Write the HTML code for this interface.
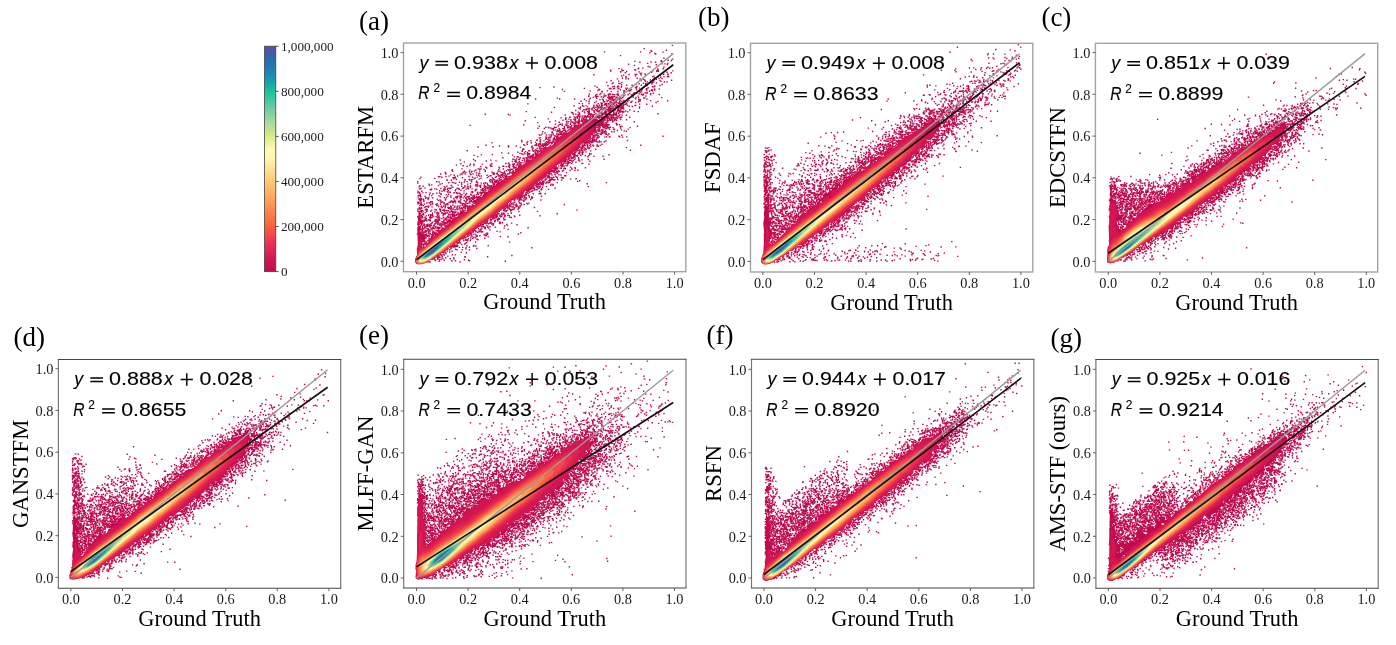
<!DOCTYPE html><html><head><meta charset="utf-8"><style>html,body{margin:0;padding:0;background:#fff;overflow:hidden}svg{display:block}</style></head><body>
<svg width="1396" height="645" viewBox="0 0 1396 645" style="will-change:transform">
<rect width="100%" height="100%" fill="#fff"/>
<defs><linearGradient id="cb" x1="0" y1="1" x2="0" y2="0"><stop offset="0.0" stop-color="rgb(192, 10, 78)"/><stop offset="0.07" stop-color="rgb(217, 26, 82)"/><stop offset="0.14" stop-color="rgb(240, 56, 79)"/><stop offset="0.2" stop-color="rgb(248, 96, 64)"/><stop offset="0.32" stop-color="rgb(251, 163, 90)"/><stop offset="0.4" stop-color="rgb(253, 200, 118)"/><stop offset="0.5" stop-color="rgb(255, 244, 176)"/><stop offset="0.54" stop-color="rgb(255, 251, 184)"/><stop offset="0.6" stop-color="rgb(216, 236, 136)"/><stop offset="0.67" stop-color="rgb(159, 216, 160)"/><stop offset="0.74" stop-color="rgb(92, 202, 160)"/><stop offset="0.8" stop-color="rgb(19, 196, 155)"/><stop offset="0.87" stop-color="rgb(26, 138, 181)"/><stop offset="0.94" stop-color="rgb(42, 106, 176)"/><stop offset="1.0" stop-color="rgb(93, 78, 160)"/></linearGradient></defs>
<rect x="264.5" y="46.2" width="11.3" height="225.4" fill="url(#cb)" stroke="#444" stroke-width="0.8"/>
<g font-family="Liberation Serif, serif" font-size="13.2" fill="#222">
<path d="M275.8 271.6h3" stroke="#333" stroke-width="0.8"/>
<text x="280.9" y="275.9">0</text>
<path d="M275.8 226.5h3" stroke="#333" stroke-width="0.8"/>
<text x="280.9" y="230.8">200,000</text>
<path d="M275.8 181.4h3" stroke="#333" stroke-width="0.8"/>
<text x="280.9" y="185.7">400,000</text>
<path d="M275.8 136.4h3" stroke="#333" stroke-width="0.8"/>
<text x="280.9" y="140.7">600,000</text>
<path d="M275.8 91.3h3" stroke="#333" stroke-width="0.8"/>
<text x="280.9" y="95.6">800,000</text>
<path d="M275.8 46.2h3" stroke="#333" stroke-width="0.8"/>
<text x="280.9" y="50.5">1,000,000</text>
</g>
<clipPath id="cpa"><rect x="403.5" y="43.0" width="282.3" height="228.7"/></clipPath>
<g clip-path="url(#cpa)"><path d="M518.2 200.2l-.4 .6l.4 1l1 0l0-1zM608.8 117.2l0 1.6l1 .4l.4-1zM605.8 119.2l-4.6-1l-3 2l-1.4-2l-1.6 .6l-1.4-1l.4-3l-1.4-1l-1 1.4l.4 2l-1.4 1.6l-3 1l-1-1.6l-1 0l-3.6 5l-3 1.6l-4.4 0l-1.6 2.4l-2 .6l0 2l-3.4 3l-2 .4l-.6-1l-2 0l-1.4 3l-5 3l-.6 1.6l.6 .4l-1 1l-2.6 .6l1 2l-1 1.4l-6.4 2l-3-.4l-1 1.4l0 1.6l-4 4l-2-.6l-1-2l-1.6 .6l1 4l-1.4 1.4l0 1l-1.6 1.6l-5.4-.6l-1 1l.4 2l-4 3l-1.4 0l-1.6-1l-1.4 1.6l0 2l-3 1l.4 2.4l-1 1l-4 0l2 2.6l-1.4 1l-1.6 0l-.4 2.4l-1-.4l-.6-3l-3 1l.6 2l-2.6 3l-5 1.4l-2 3.6l-2 0l-2 2l-1.4-.6l.4 2.6l-3.4 2.4l-.6-.4l-2 .4l0 1.6l-1.4 1l-.6 2l-1.4 0l-1.6-1l-2 1l-1.4 3l-1 .4l-.6 2.6l-1.4 .4l-1 2.6l-2-.6l-1.6 .6l-2.4-1.6l1.4 6.6l-1 1.4l-3.4-1.4l-2.6 0l-1 4l-2 2l-3 .4l-1 2l.6 2l-1.6 .6l-1-1.6l-2.4-.4l-1-1.6l-.6 2l1.6 3l-3 2.6l-1.6 2.4l-2.4-1l-.6 2l-1.4 1l-.6 1.6l-2.4 1.4l-3 3.6l-1.6-1.6l-1.4 .6l.4 3.4l-3 4l-1.4 0l-.6 1l.6 1.6l-1.6 1.4l-3-.4l.6-2.6l-.6-1.4l2.6-2l.4-2l1.6 0l0-1.6l-4-4l-3-1.4l0-1.6l1.4-2l-.4-2l2-1.4l-.6-1.6l1.6-1.4l0-1l-3-2l0-3.6l-1-2.4l.4-2l-1.4 0l-.6 .4l.6 5.6l-1 1.4l.4 4.6l1.6 .4l1 1.6l-1 1l-1.6 0l-1 2l.6 16.4l-1 5l.4 5.6l-2 5l.6 3.4l2.4 1l6-1l5-3.4l3-1l8-6l3.6 .4l1-1l0-1.4l2.4-2l0-1l1.6-1.6l2.4 .6l3-3l2.6-1l1-2l1.4 0l2-2.6l3.6-1.4l1.4-2.6l1 0l1 1.6l1.6-3l2.4 0l-1-1.6l.6-1l4-1l4-3l-1-1.4l1.4-1l1.6 .4l2-1.4l2.4 0l.6-2l3-3l2.4 0l2-1l1.6-3l1.4-.6l2-2.4l3.6-2l2 0l1-1.6l2.4 0l.6-2l-1-1.4l1.4-2l4-2l.6 .4l0 1.6l-1 1l.4 0l3.6-5l5.4 .4l1-1l-1-3l2-1l0-1.4l1-1l2 .4l4-1l1.6-3l2-2l0-1l3-1.4l2-3l1.4 .4l.6-1l2-.4l1-2l1.4 .4l1-3.4l2 1.4l1-.4l.6-2.6l3.4 0l2.6-2.4l1 0l1-2l-2-1l-.6-1l1-1l6-2.6l2.6 .6l1-2l-.6-1l.6-2.6l5-.4l-.6-2l2.6-3l2 0l4-4l2 .4l.4-1.4l-1 .4l-2-.4l3-4l4.6 1l1.4-.6l-.4-2l.4-1.4l2-1l0-2.6l1-1.4l3-2.6l2 1l1-1l-1-3.4l-1.4-.6l1.4-2.4l2 1l-.4 2l3-2.6l1 0l1 2l0 2.6l1 0l-1-4.6l2-1.4l0-1.6l-1.6-1.4l1.6-1l2 0zM473.2 204.8l.6-1l1.4 .4l-1 1zM505.2 180.2l.6-.4l.4 1l-.4 .4zM552.2 169.2l.6-1l1.4 .6l-1 1zM595.2 122.8l1.6-1l1 2l-2 .4zM614.8 110.8l2 1l-.6-1.6zM605.8 109.8l-1 .4l-1 2l-2 1l-2 0l0 1l1.4 0l1.6 2.6l1.4-3l2 .4l1-1l0-1.4l-1.4-1z" fill="#c00a4e" fill-rule="evenodd"/><path d="M672.4 45.4h0m-28.2 3.2h0m22.2 1.6h0m-15.4 .5h0m.7 .6h0m-47.2 .6h0m36.2 0h0m22.3 .2h0m-13.1 .5h0m5 .9h0m.8 .5h0m16.3-.4h0m-51.5 2h0m43.4 2.6h0m8.7 .9h0m-4.6 1.2h0m-33.1 1.1h0m26.2 0h0m.2-.7h0m10.1-.2h0m-31.5 1.8h0m11.2-.3h0m4.5 .2h0m6.4-.6h0m-14.4 1.8h0m-19 .8h0m33.6-.3h0m2.8 0h0m2.4 .6h0m.4-1h0m-33.4 1.9h0m21.9-.7h0m-8.1 1.8h0m1.8 .5h0m13.9 0h0m-25.2 1.3h0m4.1-.2h0m-23.8 .5h0m2.7 .5h0m16.6-.4h0m19.3 .3h0m5.6-.2h0m-52.6 1.3h0m24-.2h0m1 .1h0m22.5-.3h0m-47.3 1.3h0m11.2-.4h0m1.2 0h0m3.4 .9h0m26.1-.6h0m4 .4h0m.4-.6h0m1.3 .5h0m14.5-.3h0m-52.3 1.2h0m.1-.3h0m18.6 .1h0m12.3 .3h0m15.5 .1h0m-41.7 .4h0m16.2 .4h0m29.6-.4h0m-34.6 1.7h0m3.8-.9h0m4.6 .4h0m.2 .6h0m18.3-.4h0m.2 .3h0m4.1-.4h0m-73.8 .7h0m29.7 .4h0m5.4-.6h0m6.1 0h0m6 .5h0m19 .2h0m7.9-.5h0m-46.3 1.3h0m13.7 .1h0m0 0h0m18.6-.2h0m13.3 .6h0m-41.4 .2h0m26.8-.1h0m7.9 .7h0m3.4-.4h0m4.5-.2h0m-46.1 1.5h0m3.4 .1h0m11.3 0h0m17.4-.5h0m4.4 .6h0m-41.6 .5h0m8.5 0h0m2.4-.1h0m11.8 .2h0m3.2 .3h0m10.6-.6h0m2.4 .5h0m5.8-.6h0m-17.4 1.4h0m5.6 0h0m2.7-.3h0m7 .7h0m11.6-.1h0m-60.5 .4h0m7.6 .4h0m22.4-.5h0m4.4 .7h0m7.1 .2h0m.7-.9h0m.5 0h0m7.1 .8h0m-54.3 1h0m15.3 0h0m25.5-.5h0m3.5-.3h0m1.3 .8h0m.1-.5h0m1.3 .2h0m10.8-.1h0m2.5-.1h0m-53.8 .8h0m5.8 .7h0m1.1 .1h0m23.5-.1h0m2.7 0h0m10.2-.4h0m-44.2 .6h0m9.4 .8h0m14.4-.1h0m3.1-.6h0m6.5 .3h0m5.8-.1h0m.6-.1h0m10.2 .7h0m-35.6 .7h0m5.6 0h0m9.1 0h0m-46.3 .9h0m13-.4h0m6.5 .5h0m3.2 .1h0m.8-.1h0m3.2-.1h0m15.4 .3h0m8.8-.9h0m1.5 .1h0m7.4 .4h0m5.1-.5h0m-105.9 1.5h0m43.2 .2h0m15.6-.5h0m4.6 .4h0m3.9-.1h0m14.1 .5h0m1.2-.5h0m7.5-.3h0m8.6 0h0m1.5 .2h0m-114.1 .7h0m44.3 .8h0m25.9 .1h0m4.2-.3h0m4.4 0h0m6.9 .1h0m1.8-.2h0m8.8 .3h0m3.2-.3h0m8.6-.4h0m-85.7 1.8h0m36.4-.3h0m10.4-.3h0m1.6-.1h0m2.4 .1h0m4.9-.2h0m8.1 .8h0m5.1-.1h0m10.9-.1h0m4-.3h0m.5-.3h0m7.6 .3h0m4.9-.1h0m-61.4 1.6h0m1.7-.7h0m20.8-.1h0m8.8 .6h0m1.5 .2h0m5.9-.6h0m10.1 .3h0m4.6 .2h0m.6-.6h0m.3 .1h0m.2 .2h0m2.4-.3h0m0 .2h0m-90.3 1.4h0m25.7-.3h0m11.6 .4h0m5.5-.6h0m10.6 .6h0m6-.8h0m.5 0h0m4.3-.1h0m.2-.1h0m.6 .5h0m9.4 .2h0m2.5-.3h0m8.2 .3h0m3-.3h0m-50.3 .8h0m9-.1h0m6.7 .3h0m6 .3h0m16.2 .1h0m1.5-.4h0m5.4 .6h0m-22.9 .7h0m5.4 .3h0m4.6-.7h0m2.4 .4h0m8.7-.5h0m1.4 .4h0m.8-.3h0m5.9 .4h0m-64.2 .8h0m7.7 .5h0m3 0h0m1-1h0m3.4 .6h0m4.3 .2h0m1.2-.6h0m2.5 .4h0m4.7 .1h0m1-.2h0m15.1-.1h0m6-.2h0m2.2 .5h0m.7 .3h0m1.6-.4h0m7.2-.5h0m8.5 .9h0m-63.6 .8h0m12.6-.3h0m.3 .2h0m1.6-.6h0m2.4 0h0m1.3 0h0m.8 .1h0m2.8 .2h0m.1-.2h0m.7 .6h0m6.7-.4h0m3.1-.2h0m3.3 .3h0m1.5 .5h0m.3-.5h0m9.6 0h0m.6-.5h0m7.1 0h0m-61.8 1.8h0m.1-.4h0m6.5 .5h0m2.7 0h0m6.1-.5h0m.6 .1h0m1.2-.3h0m17.8 .2h0m14.4 .2h0m7.8-.1h0m-52.6 1.4h0m2.5-.5h0m.9-.4h0m4.7 .3h0m2.1 .4h0m4.3 .3h0m1.1-1h0m.5 .8h0m.1 .1h0m.1-.5h0m1.3 .6h0m.5-.9h0m1.3 0h0m.2 .8h0m1.5-.6h0m1.6 .3h0m.4 0h0m.7 0h0m2.4-.5h0m3.3 .6h0m10.5 .1h0m.1 .1h0m2.7 0h0m-78.7 .7h0m32.8 .2h0m6.5 0h0m12.8-.1h0m2-.4h0m.4 .6h0m4.8-.9h0m2.7 .4h0m1.3 .1h0m1 .5h0m6.4-.2h0m10.6-.5h0m5 .2h0m1.1-.1h0m16.9-.3h0m-126.1 1.4h0m24.1 0h0m14.9 0h0m9.9 .2h0m17.9-.1h0m.8 .3h0m5.5-.5h0m1.1 .2h0m.6 .2h0m1.6 .1h0m.7-.9h0m2.7 .4h0m2.2 0h0m1-.1h0m.9 .6h0m16-.5h0m.1-.2h0m11.2 .3h0m-57.5 .9h0m10.6-.3h0m6.5 .3h0m5.8 .2h0m1.2-.4h0m.9 .3h0m.7-.1h0m1.8 .4h0m6.9 .1h0m5.3 0h0m9.7-.6h0m1.4-.1h0m.3-.1h0m-59.4 1.6h0m5.2-.3h0m17.2-.3h0m4.6 0h0m.6 0h0m2.3 .6h0m2.8 0h0m.1 .3h0m.3-.8h0m2 .5h0m3.6 .3h0m.5-1h0m1.7 .8h0m2.5-.1h0m7.7-.1h0m7.9 .1h0m10.6-.6h0m7.3 .8h0m9.7-.7h0m-78.5 1.1h0m7.1-.3h0m7.2 .3h0m.9 0h0m.4-.2h0m2.4 0h0m2.8 .4h0m.9 0h0m1.2 .4h0m2.7 .1h0m4.8-.3h0m3.4 .2h0m1.6-.3h0m3.2-.3h0m3.1 .5h0m.7-.1h0m7-.4h0m-59.3 1.6h0m15.4-.8h0m6.3 .3h0m5.2 .5h0m5.5 .1h0m1.8-.1h0m.1-.5h0m.8-.1h0m0 .3h0m1.3-.2h0m.9-.1h0m.2 0h0m1.6 .5h0m.8 .2h0m1.9-.2h0m5.3-.3h0m9.4-.5h0m20.4 0h0m-128.2 1.4h0m54.5-.1h0m6.6-.2h0m9.3 0h0m3.3 .2h0m.6-.3h0m2.7 .8h0m.3-.7h0m1.3 0h0m1.8 .2h0m.9 .4h0m1.1-.2h0m1.6-.1h0m1.4 .5h0m6.4-.8h0m.8 .6h0m.3 .1h0m1.2-.5h0m1.8 .7h0m.3-.3h0m1.6 0h0m.9-.6h0m13.1 .5h0m7 .1h0m-52.9 .9h0m2.8 .1h0m.7 .2h0m2.1-.2h0m2.1 .1h0m3-.3h0m1.5-.5h0m.6 .1h0m.1 .6h0m4.5-.6h0m3.5 .7h0m1.9-.7h0m1.6 .8h0m.9 0h0m2.2 .1h0m.6-.1h0m1.7 .1h0m3.7-.3h0m8.5 .2h0m-61.7 .6h0m8.5-.2h0m1.2 .6h0m2.3-.8h0m7.9 .4h0m3.3-.5h0m4.2 .7h0m.1 .1h0m1.1-.8h0m3.7 .1h0m.2 .8h0m.4 0h0m.6 .1h0m2.1-.3h0m.4-.7h0m.4 .5h0m1.8 .1h0m1.9-.2h0m1.6 .5h0m.9-.3h0m.6-.1h0m0-.3h0m4.5 .2h0m.1-.2h0m.8 .5h0m.4 .2h0m6-.1h0m6-.8h0m17.2 .7h0m-97.9 1.2h0m26.2-.2h0m7-.3h0m5.9 .3h0m2.4 0h0m1.6-.3h0m1 .1h0m1.4 .2h0m1.3-.3h0m5.9 .1h0m.1 .1h0m.8-.1h0m1.7 .3h0m.3-.4h0m.9 0h0m2.3 .2h0m2.8 .3h0m1.9 .1h0m.1-.3h0m.9 .1h0m.1-.4h0m1.1-.3h0m.9 .8h0m1.2-.6h0m10.1-.3h0m7.2 .4h0m-60.5 1.4h0m10.5 .1h0m3-.3h0m2 .1h0m3.7-.5h0m.9 0h0m1.7 .2h0m.7 .2h0m.2-.4h0m1.1 .2h0m1.7 0h0m.5-.1h0m.9 .6h0m2.7-.7h0m.5 .8h0m3.1-.3h0m1.7 .3h0m0-.2h0m2.1-.8h0m2.6 .7h0m1.2-.5h0m2.3-.1h0m.9 .6h0m.5-.4h0m16 .2h0m-59.2 1h0m6.1 0h0m.6 0h0m1.5-.3h0m3.1 .3h0m6 0h0m6.1-.2h0m1.5-.1h0m1.6 .6h0m1.8 .1h0m.2-.5h0m1.7-.2h0m1.4-.1h0m5.8 .9h0m.7-.2h0m2.1-.2h0m.1 0h0m1.2-.3h0m2 .1h0m-48 1.6h0m7.9-.8h0m1.5 .2h0m1-.1h0m3.1 .1h0m2.9-.1h0m1.6 .6h0m1.9-.8h0m.8 .5h0m.9-.5h0m3.1 .1h0m1.6-.1h0m5.8 .2h0m1 .6h0m1.1-.6h0m1.2 0h0m.7-.1h0m3 .1h0m2.7 .1h0m1.5 .5h0m1.4 0h0m9.3-.4h0m-47.4 1.3h0m5 .1h0m1.3-.1h0m5.5-.1h0m.1-.2h0m.1 0h0m2.1-.5h0m1 .8h0m1.5-.5h0m.2 .6h0m7.6-.3h0m1.4-.3h0m.7 .6h0m0 0h0m.7-.8h0m.6 .6h0m.6-.4h0m1.6-.1h0m.3 0h0m.9 .1h0m.3 .2h0m3.6 .2h0m.4-.6h0m1.8 .5h0m.5-.1h0m2.7 .1h0m2.8-.1h0m8.5 .3h0m-107.9 .3h0m25.2 .6h0m26.8-.1h0m6.1-.2h0m3.4-.1h0m1.5 0h0m5.2 .6h0m3.5-.6h0m3.6-.1h0m.2 .7h0m11.8-.2h0m0-.7h0m.1 .6h0m5.6 0h0m.1-.3h0m1 .3h0m1-.6h0m1.4 .6h0m1.1-.4h0m3.9 .1h0m10.4-.2h0m-66.7 .9h0m1.2 .2h0m6.8 .2h0m5.4 0h0m3.6 .2h0m0 .2h0m.9-.6h0m4.9-.1h0m0-.1h0m5 .9h0m.9-.7h0m1.5 .2h0m6.9 .4h0m.9-.7h0m4.1 .8h0m.7 0h0m1.4-.3h0m.9-.5h0m2.1 .6h0m4-.6h0m-137.4 1.6h0m23 .3h0m65.1-.3h0m2.4 0h0m3.2-.1h0m.7-.1h0m8.7-.2h0m.3-.1h0m1.2 .6h0m1.4-.3h0m.3-.2h0m4.4 0h0m8.9 .4h0m.2 .2h0m1.4-.4h0m.1 .4h0m3-.5h0m1.3 .5h0m2.5-.2h0m.5 0h0m2.6-.6h0m41.5 .1h0m-147.9 1.4h0m55.2-.1h0m12.8-.3h0m.1 .7h0m.1-.8h0m.4 .9h0m9.8-.8h0m.3 .1h0m2 .3h0m3.8-.5h0m3.9 .1h0m.6 .7h0m.3 .1h0m1.9-.1h0m8.2-.5h0m.5 0h0m1.9 .4h0m.1 0h0m1-.7h0m.8 .6h0m1.3-.6h0m.5 .4h0m.8-.1h0m0 .4h0m2.7-.1h0m.6-.3h0m2.4 .4h0m4.3 0h0m-47.5 .7h0m1.7 .1h0m2.4-.2h0m2-.1h0m.7 .7h0m1.9-.9h0m3 0h0m.7 .5h0m5.8 0h0m3.8-.1h0m6.1-.1h0m.3 .5h0m.9 .1h0m.5-.3h0m1.8-.3h0m.6 .4h0m2.4-.3h0m3.4-.5h0m2.4 .2h0m-84.1 1.7h0m34.4-.1h0m.5-.1h0m4-.3h0m2.2 0h0m1.3-.1h0m2 .5h0m2.6-.2h0m2.4 .2h0m1.7 .1h0m.4-.6h0m1.4 .2h0m1.2-.4h0m1.3 .9h0m3-.2h0m2 .2h0m.2-.7h0m1.3 .2h0m1.4-.3h0m.9 .6h0m1.6 .1h0m.3-.1h0m1.6-.1h0m1.1-.2h0m2.1-.2h0m.7 .7h0m.7-.2h0m.6-.5h0m3.7 .3h0m.9-.1h0m3.4 .3h0m1.9-.5h0m2.7 .3h0m1 .2h0m8.1-.1h0m-68.8 .7h0m4.9-.2h0m9.3 .2h0m.3-.3h0m2 .7h0m5.8-.3h0m6.8-.2h0m0 .3h0m7.5-.5h0m.4 0h0m1 .8h0m6.5-.7h0m.3 .4h0m.2-.1h0m2.4 .3h0m1.9-.6h0m.8-.1h0m1.9 .3h0m1.1-.1h0m.4-.1h0m2.6 .6h0m.5-.3h0m2.2-.1h0m.4-.1h0m-72 1.1h0m17.3 .2h0m.4 .3h0m3-.3h0m5 .2h0m1.3 .1h0m.2 0h0m4-.5h0m2.3 0h0m1.8 .3h0m.6 0h0m.9-.2h0m4.7 0h0m14.5-.4h0m3.1 .4h0m4.2-.2h0m1.5-.2h0m2-.1h0m.8 1h0m5 0h0m-57.7 .7h0m7.7-.5h0m3.7 .1h0m.6 .5h0m.5-.8h0m3.3 .4h0m.5 .2h0m2.6 .1h0m1.9-.5h0m23.4 .6h0m1.9-.6h0m.3 .4h0m.2-.6h0m.3 .9h0m.7-.4h0m1.5-.1h0m.5 .5h0m1.9-.6h0m2 .4h0m10-.5h0m-101.3 1.1h0m30.2 .1h0m11.3 .4h0m4.3 0h0m4.7-.2h0m2.2 .2h0m.8-.4h0m.8 .3h0m1.9-.6h0m.1 .6h0m.6 .1h0m.7-.6h0m20.7 .4h0m3.9-.1h0m.7-.1h0m4.3 .5h0m2-.8h0m-64.7 1.1h0m9.4 .5h0m7.2-.7h0m2.4 .1h0m3.6 .7h0m1 0h0m1.8-.1h0m1.8 0h0m1.9-.5h0m4-.2h0m.3 .6h0m22.3 .4h0m.2-.1h0m.3 0h0m1.4-.7h0m.3-.2h0m0 .6h0m5.2-.3h0m21.3-.1h0m-96.5 .9h0m28.8 .5h0m1.3 0h0m2.9 0h0m2.9 .1h0m4-.5h0m.4 .3h0m.8 .3h0m.1-.8h0m.8 .5h0m16.2-.2h0m.6 .6h0m9.5-.3h0m10.3 .1h0m-60.9 1h0m5 .1h0m1.7-.3h0m8.3 .3h0m3.8 0h0m.5-.4h0m.9-.2h0m3.1 .6h0m27.8-.3h0m.5 .1h0m-136.9 1.3h0m53.7-.7h0m35.6-.1h0m2.9 .8h0m3.3-.4h0m1.4-.1h0m4.7 .6h0m32.9-.1h0m1-.6h0m1.3 .5h0m.7-.7h0m1.2 .2h0m.2-.1h0m.1 0h0m7.5 .1h0m.9-.3h0m2.2 .2h0m-80.4 1.5h0m18.9-.2h0m8.8-.1h0m.1-.3h0m1.6 .3h0m5.4-.3h0m21.6 .5h0m7.3 .2h0m2.1-.1h0m.6 .2h0m2.2-.7h0m14.1 .5h0m15.4 0h0m-91.6 1.1h0m2.5 .1h0m6.1-.1h0m1.8 .1h0m8.1-.8h0m3.5 .8h0m0-.2h0m2.4-.2h0m1-.3h0m23.6 .6h0m2.2-.1h0m3.2-.1h0m3.3-.6h0m.2 .7h0m2.8-.6h0m.9 .6h0m.3-.6h0m2.7 .6h0m9.9-.6h0m-82.3 1.7h0m6.3 .2h0m4.6-.8h0m1.9 .3h0m2.9 .5h0m1.6-.9h0m9.1 0h0m3.1 .1h0m1.2 0h0m1.8 .7h0m.4-.5h0m23.6 .5h0m1.4-.8h0m2 .3h0m6.4-.2h0m.7 .3h0m1.2 .2h0m1.5-.1h0m.4-.4h0m1.1-.1h0m4 0h0m7.4 .4h0m9.6-.4h0m-78 1.4h0m.3-.2h0m6.6-.1h0m.7 .7h0m3.1-.8h0m1.4 .4h0m.5 .3h0m30.6-.4h0m3.5 .4h0m.7-.8h0m.2 .6h0m6.6-.5h0m3.1 .6h0m4.1 .2h0m.5-.1h0m14.1-.2h0m-74.6 .9h0m2 .1h0m1.8 0h0m6.5 .1h0m4.2 .3h0m1-.9h0m1.1 0h0m27.6 0h0m.8 .6h0m.1-.2h0m3-.3h0m.7 .2h0m2.9 .4h0m9.3-.8h0m6.8 .4h0m-63.6 1.5h0m.6-.6h0m1.3-.2h0m.7 .9h0m2.3-.2h0m2.7-.7h0m2.2 .3h0m30.4-.4h0m.2 .9h0m.7-.4h0m.8-.2h0m.3 .7h0m2.1-.8h0m.8 .6h0m14.5-.8h0m6.9 .4h0m2.1 .3h0m-83.6 .6h0m9 .7h0m.6-.5h0m4.6-.3h0m2.5 .6h0m2.1-.3h0m.8-.3h0m3 0h0m.9-.1h0m35.8 .2h0m2.4-.1h0m1.6 .1h0m5.6 0h0m2.5-.1h0m-69.1 1.3h0m7.2-.4h0m8.2 .8h0m.9-.6h0m5.5 .1h0m25.8 .3h0m.1 0h0m2-.2h0m2.2 .2h0m4.3-.3h0m1.1 .3h0m1.6-.2h0m.2-.3h0m1.8 .4h0m-63.7 .8h0m10.9 0h0m3.7-.2h0m1.8 .2h0m2.2 .3h0m1 0h0m.5 .2h0m36.1-.8h0m.4 0h0m1.7 .7h0m.6-.1h0m4.4-.1h0m.2-.2h0m.4 .4h0m2.7-.6h0m-69.5 1.3h0m1.6 .1h0m5.4-.1h0m2.8-.1h0m1.9 .4h0m.1-.5h0m1.9 0h0m3.8-.2h0m1.6 .2h0m1.1-.1h0m31.1 .4h0m1.1-.5h0m.8 0h0m.8 .8h0m1-.2h0m.6-.3h0m.1 0h0m1.3 .1h0m.9 0h0m.1 .2h0m10.5-.2h0m13.9 .3h0m-67 .6h0m.1-.2h0m.2 .3h0m2.2-.1h0m.3 .4h0m35.5-.7h0m1.8 .5h0m2.3-.1h0m1.3-.4h0m20.5 .6h0m43.9 .1h0m-117.3 .8h0m1.2 .1h0m2.3 0h0m1.1-.1h0m.9-.5h0m0 .1h0m5.3 .1h0m1.1 .5h0m.5-.6h0m32.5 0h0m2.5-.1h0m1 .5h0m1-.2h0m3.3 .6h0m1-.6h0m5.3 .2h0m1.8-.3h0m3 0h0m.6 .3h0m9.6-.3h0m2.9 .4h0m4.3-.3h0m-87.4 1.1h0m.8-.4h0m8.6 .5h0m1.6-.4h0m3.9 .1h0m2.5 .2h0m33.7-.1h0m2.3 .1h0m.6-.4h0m.3-.1h0m3.1 .8h0m.5-.4h0m.5-.3h0m-52.2 1.6h0m.7-.5h0m1.6 .4h0m5.4-.4h0m0 .5h0m.4-.2h0m.2-.2h0m.9 .3h0m.9 .3h0m.4-.2h0m35.3-.6h0m1.2 .3h0m.3 .4h0m1.6 0h0m2.3-.5h0m-75.1 1.6h0m15.1-.1h0m.5-.4h0m3.2-.2h0m7.5 .1h0m1.3 .1h0m.1 .4h0m.5 .2h0m.3-.4h0m3.9-.1h0m1.9 .4h0m.4 0h0m33.2-.3h0m.5-.3h0m2.6 .3h0m1.4-.1h0m1.3 .1h0m.6 .1h0m.1 .3h0m-65.1 .3h0m8.9 .3h0m4.1-.2h0m5.1-.4h0m3.6 .9h0m.2 .1h0m.6-.7h0m35 .2h0m.6-.3h0m.7 .7h0m1.5-.1h0m.9-.7h0m.6 .4h0m1.5 .4h0m1.7 0h0m3.3-.5h0m6.7 .1h0m21.5-.5h0m-105.6 1.3h0m5.7-.2h0m8 .8h0m4.9-.8h0m5.6 .5h0m.7-.4h0m.2 .1h0m.8 .5h0m1.1-.4h0m1.5 .6h0m2.6-.7h0m35.6 .5h0m2.4 0h0m1.7 .1h0m.1-.4h0m4-.3h0m.8 .4h0m1.7-.1h0m1.7-.2h0m3.2 0h0m-112.3 1.1h0m35-.2h0m4.4 0h0m8 .8h0m1.2-.4h0m4.7 0h0m.3 .4h0m.3-.3h0m3.5-.1h0m.1-.4h0m1.9-.2h0m.4 .6h0m.7-.3h0m36.5 0h0m.5 .4h0m2.1-.6h0m-64.2 1.8h0m9.4-.8h0m2.1 .8h0m.6-.7h0m.7 .6h0m.6 .1h0m2.2-.6h0m2 0h0m.2 .4h0m1.4 .3h0m0-.9h0m2 .1h0m3.2 0h0m30.9 .2h0m1.6 .3h0m.7-.3h0m.3-.2h0m1.8 .4h0m.5 .3h0m3-.1h0m11.5-.1h0m-116 1.1h0m37.8-.6h0m1.1 .7h0m10.2-.1h0m.7-.3h0m.1 .5h0m.6-1h0m.5 .9h0m1.7-.2h0m3.9-.3h0m.8 .4h0m.6-.1h0m.1-.2h0m1.1 .1h0m1.2 .1h0m.9-.2h0m.6-.5h0m5.8 .4h0m28.3 .6h0m2.1-.2h0m.2-.2h0m3.6 0h0m1.9 .4h0m3-.3h0m4.4-.2h0m3.1 .4h0m40.5-.2h0m-141.3 .8h0m9-.3h0m7.8 .3h0m16.3 .1h0m8.2-.1h0m.6 .1h0m.2-.4h0m1.3 .4h0m.4 .1h0m2.1-.1h0m.7-.5h0m4.2-.1h0m31.8 .5h0m1.4 .3h0m.1-.6h0m1.9-.1h0m2 .1h0m3.3 .8h0m2.7-.5h0m3.5 0h0m1.4 .2h0m-120.3 .8h0m15-.2h0m15.4 .2h0m11.9 .4h0m11.4-.7h0m7.2-.1h0m1 .4h0m40.2 0h0m2.3 .5h0m.6-.9h0m4.3 .4h0m.5 .5h0m.2 0h0m-56.3 .1h0m1.2 .6h0m4.2 .2h0m2.2-.1h0m1.7 .1h0m1.1-.1h0m38.7-.2h0m.7 .2h0m.8-.1h0m.2-.6h0m1.7 .4h0m1.1 .4h0m2.1-.7h0m.2 .2h0m1.9 0h0m36.8-.3h0m-103.3 1.1h0m.8 .7h0m16.8 0h0m1.3-.7h0m39.5 0h0m4.7 .8h0m2.8-.9h0m6.8 .6h0m-73.4 1.1h0m10.1-.5h0m2.9 .2h0m1.1 .1h0m1.5 .3h0m2.3-.8h0m.1 .1h0m37.3 .4h0m.7 0h0m.8 .2h0m.1-.4h0m1.6 .3h0m1-.1h0m2-.3h0m.9 .3h0m45.6 .1h0m-163.2 .6h0m55 .4h0m6.6-.5h0m.8 .2h0m3.6 .4h0m.9-.4h0m1.8 0h0m.8-.3h0m3 .9h0m.5-.4h0m1.3-.5h0m35.5 .4h0m2.1-.1h0m.8 .5h0m2.3-.7h0m.1-.2h0m8.5 .4h0m-72.9 1.3h0m7.6-.6h0m1.9 .8h0m10.1-.6h0m.1 .5h0m.5-.5h0m37.7 .5h0m4.2 0h0m2 .1h0m1.4-.4h0m2.6-.1h0m-84.3 1h0m6.8 .4h0m15.8-.4h0m3.1 .1h0m1.3 .5h0m9.4-.6h0m34.8 .4h0m1.8-.6h0m3.8 .6h0m.2 0h0m.8-.7h0m2.8 .7h0m-62.3 .2h0m1.8 .1h0m1.1 .9h0m2.1-.8h0m2.5 .8h0m1.2-.1h0m1-.6h0m4.1 .3h0m39.1 .1h0m.3 .3h0m.6-.7h0m.7 .6h0m.5-.4h0m4.6-.3h0m3 .5h0m7-.7h0m1.7 .4h0m-117.3 1.5h0m7.3-.5h0m11-.3h0m20.3 .5h0m15 .2h0m1.6-.6h0m3.5 .3h0m.9-.2h0m41.1 .7h0m1-.1h0m2-.2h0m3 0h0m9-.5h0m19.4 .1h0m-78.8 1.7h0m.8-.1h0m0-.7h0m1.1 .5h0m.3-.1h0m1 0h0m40.1 .1h0m1.4-.1h0m2.1-.4h0m.3 .7h0m8-.6h0m3.2-.2h0m5.4 .8h0m9.1-.1h0m-125.3 .3h0m36.5 .3h0m3-.1h0m.9 .2h0m9.6-.1h0m.4 .3h0m.5-.4h0m2.9 .2h0m35.9 0h0m6.6 .1h0m13.8-.4h0m-85.1 1h0m17.4 .1h0m2.8 .5h0m1.4-.2h0m1.8-.5h0m.2 .5h0m3.4-.1h0m.5-.2h0m.3 0h0m2-.1h0m.7-.1h0m35.6 .2h0m.1 .1h0m.6 .5h0m1.5-.8h0m.4 .9h0m.2-.1h0m.3-.6h0m.9 .4h0m.6-.6h0m1.7 .3h0m3.3-.2h0m.1 .3h0m-65.6 1.3h0m3.7-.4h0m2.9 .4h0m7.1-.6h0m1.2 0h0m3.1 .3h0m1.7-.5h0m33.9 .5h0m2.1 .3h0m6.1 .1h0m29.2-.2h0m-143.7 .8h0m13.3-.5h0m17.3 .6h0m23-.6h0m1.9 .4h0m3-.4h0m3.5 .9h0m2.2-.7h0m.2 .2h0m43.3-.4h0m2.2 .8h0m.4-.1h0m8.1 .2h0m.2-.9h0m3.1 .4h0m6.2-.4h0m-112.9 1.3h0m11 .2h0m9.7-.1h0m16.4 .6h0m2.5-.3h0m1 .2h0m.4-.1h0m3 .1h0m5.1-.5h0m42.8 .4h0m2.1-.8h0m2.7 .8h0m0-.3h0m1.5-.5h0m6.3 .6h0m10.1 .2h0m-125.6 .6h0m51.6 .3h0m3.3-.4h0m.3 .2h0m5.6 0h0m43.4-.2h0m4 .3h0m3.4 .2h0m-67.4 1.2h0m.3-.2h0m8.7-.3h0m.4 0h0m2.5-.3h0m.6 0h0m2 .2h0m38.3 .3h0m2.5 0h0m0 .1h0m1.6-.2h0m1.1 0h0m1.5-.4h0m1.1 .4h0m1-.3h0m11.9 .7h0m.7-.1h0m-121.8 .3h0m9.5 .3h0m3.4 .1h0m8.6 0h0m8.8 0h0m.8-.5h0m13.8-.1h0m.1 0h0m2.5 0h0m1.3 1h0m3.1-.2h0m.6 .2h0m.8-.7h0m4.7 .1h0m.7 .1h0m41.8 .2h0m.4-.6h0m1.3 .9h0m4.7-.5h0m3.9-.4h0m17.2 .5h0m-132.4 1h0m17.5 .2h0m16.3 0h0m23 0h0m.9-.7h0m2.1 .5h0m1.1-.4h0m3.4-.1h0m.3-.1h0m39.6 .8h0m.4 0h0m1.7-.4h0m4.8 .6h0m-104.4 .3h0m4 .4h0m2.6-.6h0m21.1 .8h0m1-.4h0m11 .3h0m.8 0h0m4.8-.3h0m1.2-.3h0m3.3 .6h0m45.8-.3h0m3.1 .4h0m.7-.9h0m0 1h0m1.6-.4h0m1.8-.6h0m-85.2 1h0m5 .8h0m13.3 0h0m7.2-.7h0m2.9 .6h0m4.8-.4h0m1.9 .5h0m.2 .1h0m45.3-.7h0m9 .4h0m-83.6 .9h0m12.7 .1h0m10.1-.2h0m3.9 .2h0m.3-.2h0m.9-.1h0m.5 .1h0m38.5 .5h0m6.5-.3h0m1.2 .3h0m2.5 0h0m.8-.2h0m.4 .3h0m6.7-.2h0m3.1-.7h0m.4 .6h0m10.1-.4h0m-123.5 1.1h0m16.2 0h0m1.4 .3h0m1.4-.2h0m3.1 .4h0m19.4-.4h0m7.7 .2h0m1.3 .2h0m53-.7h0m6.5 .7h0m-119.8 .3h0m17.7 .4h0m5.7 .3h0m.3-.2h0m9.6 .3h0m13.4-.7h0m9.1-.2h0m.6 .4h0m1.5-.2h0m.2 .6h0m3.2 0h0m50.1-.3h0m11.4 .2h0m2.9-.1h0m-125.5 .3h0m.4 .8h0m11.8-.1h0m7.4 .2h0m2.4-.3h0m5.3 0h0m5.6 .1h0m19.3 .3h0m1.9-.8h0m50.1 .6h0m1.9-.5h0m.1 0h0m.7 .6h0m3.2-.3h0m.5-.4h0m7.2-.2h0m-124.9 1.9h0m17.9-.2h0m2.9 .2h0m3.3-.8h0m2 .4h0m20.5 .1h0m6.3-.6h0m1.9 0h0m1.2 .9h0m3.2-.1h0m5.4-.6h0m0 .3h0m2.6-.2h0m1.2 0h0m40.4 .3h0m.4 .3h0m3.3-.7h0m.2 0h0m-112 1.5h0m18-.4h0m6.1 .6h0m6.5-.6h0m2.8 .3h0m13.6-.4h0m1.5 .5h0m2.8 .1h0m5.6-.4h0m7 .2h0m.2-.5h0m46 0h0m1.4 .7h0m9.1-.7h0m-125.8 1.4h0m5 0h0m15.7-.2h0m.8 .2h0m3.1-.1h0m5.3 .6h0m2.4-.6h0m5.9-.3h0m.9-.1h0m13.5 .7h0m1-.2h0m2.3-.1h0m.8-.1h0m4.1 .6h0m1.4-.4h0m.8-.2h0m1.5-.2h0m.2 .6h0m2.3-.1h0m.1-.1h0m1.4-.2h0m42 0h0m3.5 .3h0m-103.9 .8h0m3.4 .3h0m5.8-.3h0m11-.4h0m5.6 .6h0m1.9 .1h0m8.5 .1h0m11.2-.5h0m3 0h0m.5 .1h0m0 .4h0m.7-.4h0m3.4-.3h0m41.8 .8h0m4.5-.3h0m3.3-.2h0m3.5-.1h0m2.1 .2h0m-111.9 1.1h0m8.6-.1h0m11.3 .5h0m10.5-.4h0m1.9-.1h0m8.9-.3h0m.7 .1h0m7.5 .2h0m1-.3h0m.6 .5h0m2.4 .1h0m1.6-.6h0m43.3 .7h0m1.4-.7h0m15.9 0h0m1.1 .1h0m-144.9 1.3h0m17.5-.3h0m1.5-.2h0m2 .7h0m4.1-.7h0m8.6 .5h0m.8 0h0m17.1 .2h0m4.8-.2h0m11.2-.6h0m6.8 .9h0m1-.6h0m4.1 .7h0m7.9-.8h0m39.8 .4h0m.6 .3h0m.4-.8h0m.4 0h0m3.9 .6h0m0 .3h0m.4-.3h0m2.2-.6h0m1 .6h0m4.4 .3h0m-126.6 .9h0m18.3-.7h0m1.2 0h0m1 .2h0m7.2-.2h0m12.6 .3h0m5.9 .3h0m6.2-.7h0m5.2 0h0m9.4 .3h0m1.7-.3h0m41.5-.1h0m2.4 .3h0m.4 .1h0m1.8-.3h0m.2 .4h0m1.7-.3h0m.4 .6h0m5.4-.3h0m5.4-.3h0m.3-.1h0m.1 .7h0m-143.1 .3h0m33.8 .3h0m2.6 .3h0m12.7 .2h0m4.9-.5h0m5.2 .2h0m14 .1h0m.1-.4h0m5.7 0h0m.3-.3h0m.1 .2h0m46 .6h0m1-.3h0m5.8-.1h0m18.3 .2h0m5.6-.3h0m-129.2 1.3h0m.5-.1h0m4 .3h0m13.4-.3h0m.4-.2h0m4.6 .2h0m1.6 0h0m.2-.4h0m.6 0h0m17.5 .6h0m1.1-.4h0m.2 .1h0m1.4 .4h0m1.1-.8h0m1.2 .2h0m1.9 .7h0m.5-.3h0m.2 .2h0m2.5-.4h0m.2 .3h0m.3 .1h0m.9-.5h0m5.1 .7h0m33.4-.3h0m2.3-.2h0m3.1 .2h0m4.6-.4h0m1-.1h0m.8 .1h0m1.2-.2h0m.6 0h0m.7 .4h0m.9-.4h0m2.8 0h0m3.9 .4h0m-85 1.3h0m17.9 .1h0m1.2-.1h0m1.1 .2h0m1.6-.5h0m4.1-.4h0m40 .5h0m1.3 0h0m5-.4h0m1.5 .3h0m27.3 .4h0m2.1-.6h0m-162 .8h0m19 .1h0m2.5 .3h0m13 .4h0m7.3-.2h0m4.9-.2h0m2.7-.4h0m4.5 .1h0m4.7 .3h0m1.5 .5h0m12.4-.9h0m.1 .2h0m.6 .3h0m1.4-.5h0m2.4-.1h0m.5 0h0m1.2 .7h0m2.1-.3h0m41.1 .4h0m.9-.3h0m2.6-.2h0m.9 .5h0m2.4-.2h0m.6 0h0m.2-.2h0m2.4 .5h0m-131.8 .7h0m31-.4h0m5.1 .1h0m1.8 .4h0m6-.6h0m19.6 .5h0m2.4 .3h0m1.6-.4h0m.3-.3h0m1.8 .8h0m5.3-.7h0m.3-.2h0m2 .1h0m41.8 .3h0m3.1 0h0m1.3-.1h0m1.5-.1h0m5.5 0h0m0 .1h0m9.1-.3h0m49.1 0h0m-177.3 1.7h0m11 0h0m2.2-.7h0m19.2 .7h0m6.2-.2h0m2.7-.5h0m6.9 .5h0m15.9-.4h0m1.1 .5h0m.1 .2h0m42 0h0m.9-.2h0m1.3-.4h0m.4 .5h0m.4-.4h0m1.7-.4h0m.5 .3h0m.3 .4h0m1.2 .1h0m.3-.7h0m2.6-.1h0m5.6 .6h0m1.6 .3h0m34-.7h0m-157.8 1.7h0m2.3-.5h0m19.5 .5h0m6.9-.3h0m17.8-.3h0m1.9 .5h0m3.3-.2h0m3.2-.2h0m3.4 .1h0m.4 .2h0m5.3 .1h0m1.1-.6h0m.1 .4h0m40.9 .2h0m.7 .1h0m2.2-.6h0m2.6 0h0m2.1 .3h0m7.6 .2h0m2.2 .1h0m-133 .4h0m3.2 .4h0m15.4-.6h0m8.4 .7h0m4.8-.4h0m10 .3h0m3.3-.5h0m2.5 .4h0m3-.1h0m5-.1h0m1.6 .6h0m.4-.9h0m2.1 .4h0m.7 0h0m4.3-.4h0m4.4 0h0m1.5 .6h0m.8-.4h0m.5 .4h0m45.4-.1h0m.2 0h0m2.5 0h0m-120.8 .8h0m25.2-.3h0m8.5 .8h0m12.2-.5h0m3.2-.1h0m2.2 .7h0m10.2-.3h0m3.5-.3h0m1.3-.4h0m.9 .5h0m.6 .1h0m.5 0h0m1.1 .4h0m1-.3h0m.3-.2h0m1.3 .1h0m42.3 0h0m.5 .1h0m2.5-.4h0m1 .4h0m1.5-.7h0m1.5 .5h0m2.3 .2h0m3.6-.6h0m41.9 0h0m-167.2 1.7h0m4-.2h0m15.9 .4h0m4.2-1h0m2.6 .9h0m1.5 0h0m.7-.3h0m.1 .3h0m1.1-.4h0m6 .3h0m1.6 .2h0m4-.1h0m.3-.1h0m.8-.6h0m3.5 .3h0m17-.4h0m1.3 .9h0m2.2-.2h0m.3-.5h0m44.8 .6h0m1.1-.7h0m.6 .7h0m3.5 .1h0m.8-.3h0m16.2-.2h0m-135.7 .9h0m.6 .2h0m11.6 .2h0m3.3-.4h0m1.9 .4h0m7.2-.3h0m1.2 .2h0m2.2 0h0m11.3-.3h0m.5 .3h0m7-.1h0m2.2-.4h0m3.7 .2h0m3.5 .5h0m1.2 0h0m5.6-.7h0m1.1-.1h0m3.8 .3h0m1.9 .3h0m.7-.1h0m44.5-.5h0m6.8 .9h0m.5-.3h0m0-.4h0m6.8 .6h0m-118.2 .1h0m1 .2h0m24.6-.1h0m5.1 .7h0m14.8-.3h0m5.3 0h0m.9 .3h0m.5-.8h0m.2 .6h0m.7 .3h0m1.5-.4h0m.1-.4h0m.9 .6h0m47-.1h0m1.6-.1h0m1.7-.3h0m.5 0h0m.1-.1h0m4.6 .1h0m-123.5 1.4h0m3.8 .2h0m17.9-.6h0m2.4 .5h0m1.7-.7h0m1 .4h0m2.7 .5h0m1-.8h0m6.9 .2h0m8.8 .1h0m11-.1h0m10.5 0h0m2.8 .1h0m40 .3h0m.2-.2h0m2.6 .5h0m1.2-.5h0m-113.4 1.3h0m29-.1h0m1.9-.1h0m.4 .1h0m21.1-.2h0m1.1-.2h0m5.2 .3h0m3.1 0h0m2.3-.5h0m.9 .4h0m.5 .2h0m42.1-.3h0m.4 .4h0m1.1-.8h0m1.4 .8h0m10-.8h0m-121.6 1.4h0m1.7 0h0m0 0h0m3.3 0h0m3.1-.3h0m4.1 .4h0m6.7 .2h0m2.6-.2h0m14.6-.2h0m.5-.1h0m2.1 0h0m.5 .8h0m.7-.2h0m1.7-.1h0m4.5-.1h0m8.7-.6h0m4.6 0h0m.4 .9h0m2-.5h0m.2 0h0m1.5 .5h0m.5-.3h0m.2-.1h0m.2-.2h0m1.2-.2h0m42.6 .2h0m1.9 .6h0m12.5-.3h0m-120.7 .4h0m13.2 .2h0m0 .3h0m7.9-.2h0m.3 .3h0m0 .4h0m7.4-.3h0m11.9-.2h0m5.2 .5h0m1-1h0m4.1 .7h0m7.1-.2h0m.3 .2h0m.1 0h0m2.8-.5h0m45.1 .1h0m7-.1h0m5.9-.1h0m1.6 .1h0m4.5 0h0m.1 0h0m-127 1.7h0m2-.7h0m.2 .6h0m9-.6h0m17 .2h0m15.4-.1h0m3.8 .3h0m5.6-.1h0m2.8 .2h0m2.3-.5h0m4.9 .2h0m3.7 .5h0m38.1-.1h0m1.4-.1h0m1.2-.2h0m.1-.5h0m0 .3h0m.1-.1h0m.5 .3h0m2.2 .2h0m-109.5 .5h0m6.1 .6h0m6.5-.7h0m7.2 .3h0m9 .4h0m3-.5h0m6.6 .5h0m1.7-.4h0m1.4 .2h0m.9 .3h0m2.9-.2h0m3.8 .2h0m1.1 0h0m3.5-.4h0m1.7 .4h0m6.3-.8h0m43.5 .4h0m5 .2h0m12.2 0h0m-123.5 .9h0m2.7-.4h0m8.2 .4h0m11.4-.2h0m10.6 .5h0m4.7-.1h0m.7-.6h0m1 .7h0m2.8-.5h0m1.1 .5h0m5.5-.3h0m.4-.1h0m1.6-.3h0m.1 .3h0m4.6 .1h0m1.5 .1h0m1.3 0h0m.8-.6h0m47.1 .3h0m.4 .4h0m1-.2h0m4 .3h0m2.2-.2h0m.3-.2h0m-110.7 1.5h0m4.2-.5h0m1.5-.3h0m5.5 0h0m11.9 .1h0m2.1-.3h0m7.3 1h0m6.3-.8h0m3.2 .2h0m2.1-.2h0m.4 .5h0m.1-.2h0m3.3 .4h0m1.9-.8h0m0 .3h0m.6 .6h0m1-.5h0m1.5 .4h0m.6-.3h0m44.7 .1h0m.3-.2h0m1 .2h0m5.4-.2h0m5.6 .3h0m.8-.5h0m-113.7 1.2h0m.2-.1h0m.7 .5h0m.2-.8h0m3.5 .7h0m4.5 .2h0m.6-.9h0m8.7 .5h0m8.4 .2h0m8.1-.8h0m3 .1h0m4.1 .8h0m5.9-.2h0m1.9-.3h0m.7-.3h0m.2 .7h0m.2-.6h0m.2 .6h0m2.4 .1h0m1.1-.1h0m43.6-.5h0m.6-.2h0m.2 .5h0m1.6 .1h0m4.4-.6h0m1.9 .3h0m.8 0h0m4.1 .6h0m-110.8 .9h0m1.4-.4h0m.5-.4h0m16.7 .8h0m1.6-.4h0m5.2 0h0m9 .3h0m.3 0h0m9.6 .2h0m3.2-.7h0m2.1-.2h0m3.9 .3h0m41.2 .5h0m5.1-.1h0m1.2-.7h0m.7 .3h0m1.7 .5h0m1.6-.5h0m15.9 .1h0m-120.4 1h0m3.3 .4h0m.2-.7h0m16.6-.1h0m.5 .5h0m9.8 .2h0m1-.3h0m3.8 .2h0m2.8 .1h0m.6 .1h0m.8-.3h0m.4 0h0m.4-.1h0m3.8-.3h0m2.3-.2h0m3.2 .9h0m.3-.4h0m1.1-.3h0m2 .7h0m1-.7h0m49.6 .6h0m-106.2 .9h0m.3 0h0m.7 .1h0m2.2-.3h0m9.6 .2h0m.5-.5h0m1.3 0h0m8.8 .8h0m.3-.1h0m1.3-.4h0m6.5 .3h0m1.6 .1h0m1.9-.8h0m.1 .2h0m.2 .6h0m1.2-.7h0m4.5 0h0m7.1-.1h0m.2 .7h0m3.2-.2h0m2.5-.5h0m1.3 .7h0m1.4-.7h0m36.4 0h0m4 .7h0m-96.3 1.1h0m.5 0h0m2.2-.1h0m5.7-.3h0m2.1-.1h0m1 .1h0m2.7 .4h0m11.3-.4h0m.6 .5h0m3.2-.1h0m5.3-.6h0m2.5 .1h0m4.4 0h0m.4-.3h0m6.6 .8h0m.9 0h0m2-.4h0m.1 0h0m40.6-.5h0m.9 .9h0m1.4-.3h0m1.1-.2h0m5.1-.4h0m.2 0h0m.8 1h0m.9-.2h0m5.8 .1h0m2-.3h0m-110.7 .6h0m2.4 .6h0m3.8-.3h0m7.9-.1h0m.4 .2h0m3.3 .3h0m1.3-.8h0m3.3 .7h0m3.6-.4h0m2.6 .4h0m1.2 0h0m13.5-.8h0m1.4 .5h0m.1-.1h0m.2-.4h0m1.4 .3h0m.1 .2h0m.9 .1h0m43.9-.1h0m7.1 0h0m7.6 .5h0m3.5-.4h0m-106 1h0m.3-.5h0m8.7 .1h0m6.4 .5h0m.7 .2h0m7.8-.4h0m2.3-.2h0m5.1 .5h0m9.5 0h0m3-.3h0m6.8-.4h0m0 .2h0m38.2 .1h0m1.5-.3h0m1.7 .3h0m.3-.2h0m1.8 .5h0m.9-.2h0m4.9-.3h0m42.9-.2h0m-144.5 1.4h0m1.6-.3h0m1.8 0h0m3.8 .7h0m1.7-.1h0m8-.6h0m4.8 .7h0m2.1 0h0m1.7-.5h0m.1 .5h0m5.2-.1h0m4.3 .1h0m2.9-.3h0m2.2-.2h0m4 .1h0m1.3 .5h0m44 0h0m.2-.6h0m1.1 .6h0m5.4 0h0m1.2-.4h0m2.8-.3h0m-95.6 1.8h0m1.3-.7h0m2.6 .6h0m3.6-.5h0m6.6-.4h0m2.5 .3h0m6.8 .6h0m.6 0h0m2.8-.6h0m3.3 .4h0m2.4-.2h0m6.3-.1h0m0 .4h0m.6-.4h0m1.7-.4h0m41 .6h0m1.8 .1h0m.3 .1h0m1.5-.7h0m1.7 .3h0m.6 .1h0m.6-.2h0m3.2-.2h0m.6 0h0m1.8 .6h0m1.4-.4h0m14.3 .7h0m-115.1 .2h0m1.7 .7h0m.2-.8h0m.6 .7h0m20.4-.7h0m2.9 .2h0m3.3 .6h0m.7-.2h0m.4-.5h0m.3 .8h0m.3-.3h0m1.1 .1h0m1.9-.2h0m4-.3h0m2.2-.3h0m1.8 .3h0m1.8 .1h0m1.4-.1h0m.7 .1h0m.2 .6h0m42.3-.9h0m6.9 .5h0m.3-.5h0m4.2 .6h0m-101 1.1h0m1.4-.5h0m.7 .3h0m6.3-.1h0m8.7 .5h0m4.4-.4h0m.4-.1h0m1 .5h0m12.2-.2h0m3.9-.2h0m.1-.1h0m1.8 .1h0m1.5-.3h0m.5-.2h0m1.5 .2h0m2.9 .3h0m38.7-.1h0m1.7-.2h0m2.3-.1h0m1.7 .1h0m.1 .5h0m2.6-.1h0m1.8-.4h0m4 .6h0m.2-.8h0m-97.3 1.7h0m4.4-.5h0m.2 0h0m1.4 .7h0m.3-.7h0m4.5 .3h0m4.5-.1h0m6.7 .2h0m1.3-.5h0m1.5 .8h0m5.3-.8h0m3.9 .1h0m.1 .1h0m2.1 0h0m5.2-.1h0m0 .1h0m.9 .4h0m.2-.1h0m37.5-.1h0m2.4 .3h0m1.1-.4h0m.2 0h0m6.1-.1h0m.9 .4h0m2.1-.7h0m63.1 .5h0m-159.1 .9h0m4-.4h0m.2 .3h0m.5-.3h0m.4 .5h0m.1 0h0m3.9 .2h0m3.7-.1h0m.1-.1h0m9.5-.5h0m.4 .7h0m0-.1h0m3.7-.1h0m2.3-.4h0m.4-.1h0m1.5 .2h0m3.2 .4h0m2.1 .2h0m6.6-.5h0m4.7-.2h0m34.2 .6h0m5.1-.5h0m2 0h0m.8-.2h0m3.4 .4h0m8.3 .5h0m18.6-.1h0m-116.9 .2h0m1.2 .4h0m4.8-.4h0m8.3 .4h0m2.8 .4h0m11.9 0h0m.2-.2h0m.4-.3h0m2.1 .2h0m.1-.6h0m1.4 .4h0m1.3 .5h0m.6-.5h0m.3 0h0m2.1 .5h0m47.7-.8h0m-82.5 1.9h0m2-.7h0m7.2 .5h0m4.3-.7h0m1.9 .6h0m3.1-.1h0m.1-.3h0m.5 .3h0m1.2 .4h0m1.2-.1h0m.2-.4h0m1 .3h0m1.4-.5h0m5.1 0h0m2 .1h0m1.2-.4h0m2.4 .2h0m40.2 .6h0m3.6-.4h0m1.9 .1h0m7.4 .4h0m.2-.4h0m-90.8 .5h0m2 .9h0m9.9-.2h0m4.7-.2h0m.4 .4h0m1.1-.3h0m6.3 .3h0m3.6-.1h0m3.6-.1h0m.4-.3h0m1.2 .3h0m4.1-.6h0m1 .3h0m.3 .2h0m38.2-.3h0m.1 .5h0m1.8-.4h0m2.5 .2h0m1.7-.4h0m.4 .4h0m.4 0h0m3.7-.3h0m49.2 0h0m-135.9 1.5h0m2.4-.4h0m4.7 .3h0m1.8-.6h0m.2 .2h0m1.5 .2h0m11.4-.4h0m6.9-.1h0m.7 .4h0m2.6-.1h0m.6 .4h0m.6-.3h0m1.6 .3h0m.2-.4h0m.7 0h0m.7 0h0m38.3 0h0m1.4 .1h0m3.5-.3h0m.6-.1h0m.4 .3h0m2.8 .2h0m14.9 .3h0m-101.5 .8h0m4 .2h0m3.9-.4h0m4.5 .4h0m1.7-.8h0m1.2 .6h0m3.8-.4h0m1.7 .2h0m3.9-.1h0m4.8 .5h0m1.1-.3h0m1.8 .4h0m2 0h0m0-.8h0m2.3 .4h0m40.5-.5h0m1 .4h0m.8 .5h0m2.6-.6h0m1.5 .7h0m.3 0h0m3.7-.8h0m2.5-.1h0m1.5 0h0m5 .4h0m25.6-.2h0m-122.3 .8h0m3.7 .7h0m.3-.4h0m.2 0h0m3.1 .5h0m.1-.2h0m4.5 0h0m3-.1h0m3.4-.5h0m2.4 .7h0m.5-.5h0m14 .1h0m1.2-.1h0m39 .3h0m2-.6h0m1.2 .8h0m.3-.2h0m3.6-.2h0m4.6-.4h0m5 .8h0m5-.7h0m-96.5 1h0m3.2 .1h0m1.2 0h0m2.6 .8h0m4.9 0h0m.7-.7h0m.4-.2h0m6 .1h0m2.5 .4h0m2.1 .4h0m1.8-.7h0m2.2 .7h0m.6-.8h0m.1-.2h0m1.6 .3h0m1.6 0h0m.6-.2h0m1 .7h0m0-.6h0m.2 .7h0m41.2 0h0m.4-.4h0m.7-.5h0m.7 .9h0m1.3-.8h0m0 0h0m2.4 .6h0m5.4 0h0m.1-.1h0m7.6-.6h0m-85.8 1.1h0m.8-.1h0m9.1 .9h0m2.9-.5h0m.4 .5h0m6.2-.1h0m5.9-.5h0m2.1-.2h0m37.6 .4h0m.8 .4h0m1.7-.3h0m4 0h0m.7 .2h0m1.4-.1h0m.2-.5h0m-75.5 1.6h0m1.3 .1h0m.1-.9h0m1.3 .9h0m.2-.3h0m1.9-.3h0m.7 .2h0m.9 .4h0m5.6-.5h0m.3-.2h0m.7 .5h0m2.1-.1h0m.5-.3h0m.2 .6h0m0-.1h0m4.3-.3h0m1.4-.3h0m.3-.1h0m.9 .5h0m3.1-.4h0m2.8 .3h0m.4-.3h0m34.9 .8h0m2.6-.7h0m4.9 .4h0m2.8-.6h0m6 .2h0m1-.2h0m-81.3 1h0m.4 .6h0m2.7-.2h0m3.3 0h0m4.2 .1h0m.5-.1h0m1.4-.4h0m.9 0h0m.2-.1h0m.8 .8h0m13.4-.1h0m1.1-.5h0m.6 0h0m33.6 .8h0m4.1-.9h0m3.7 .3h0m.5 .1h0m2.5-.2h0m-79.5 1.1h0m14.3 .3h0m3.2-.2h0m1.4 0h0m4.5-.1h0m.3 0h0m1-.2h0m.3-.1h0m0 .6h0m.5-.7h0m2.5 .6h0m1.2-.5h0m5.5 .4h0m34.4-.1h0m3.2 .4h0m1 .1h0m3.2-.7h0m5.1 .3h0m-81.7 1.1h0m4.7 0h0m9.2-.1h0m5.9 0h0m.3-.3h0m1.9 .6h0m3-.1h0m1.6 0h0m0-.6h0m.2 .1h0m.6 .8h0m1.8-.8h0m.4-.1h0m36.5 .7h0m.6-.3h0m2.3-.1h0m2.6 .5h0m.5 0h0m9.3 0h0m.4 .1h0m.8-.7h0m1.8-.1h0m9.1 .4h0m-93.9 1h0m.5 .3h0m1.1-.4h0m4.9 .2h0m3.8-.1h0m1.6 .3h0m1.5-.8h0m3.7 .4h0m.8-.4h0m1.7-.1h0m.4 1h0m1.8-.1h0m1-.7h0m.1 .1h0m.4-.1h0m1.8 .6h0m.6 .2h0m.5 0h0m3-.6h0m33.8 .3h0m5.2-.3h0m.4-.3h0m2 .3h0m.2-.2h0m3.2 .3h0m1.3-.4h0m.6 .1h0m13.1 .7h0m-88.5 .9h0m.8-.7h0m4.8 .5h0m.2 .3h0m.6-.3h0m1.7-.2h0m1.1-.1h0m2.4 .3h0m1.6 .1h0m2.5 .1h0m5.9-.2h0m0 .1h0m.3 .1h0m1.9-.3h0m.1-.4h0m2.5 .5h0m.2-.1h0m34.9 .3h0m1.1-.3h0m.8-.3h0m.5 .1h0m1.2 0h0m9.8 .5h0m14.3 .1h0m9.6-.7h0m-94.4 1.6h0m4.9-.1h0m1.1-.4h0m.7-.3h0m.5 .7h0m1.3-.6h0m2.6 .1h0m.7 0h0m6.9 .5h0m.2-.3h0m3.4 .1h0m.6 0h0m34.4 .1h0m3.1 .3h0m3.8-.8h0m1.1 .8h0m16.7-.4h0m-82.2 .9h0m0 0h0m2.3 0h0m.9 .1h0m.4-.5h0m4.1 .7h0m2.7 0h0m2.8-.4h0m1.5 .4h0m1.1 .2h0m.1-.1h0m1 .1h0m2.2-.7h0m40-.1h0m.7 0h0m1.6 .1h0m.8 .8h0m.3-.1h0m.4-.2h0m2.5 .2h0m2.3-.7h0m5.3 .5h0m-72.8 1h0m2.3-.1h0m2.1 .3h0m4.3-.2h0m.3-.1h0m1.6 .3h0m0-.6h0m2 0h0m1.9 .6h0m.3-.2h0m0-.5h0m1.1 .7h0m.8-.6h0m.2 .7h0m.5-.8h0m2.9 .3h0m38.9 .5h0m7-.1h0m15.4-.3h0m23.9-.3h0m-107.6 1.4h0m.2 .2h0m1.6-.8h0m.6 .4h0m.7-.3h0m4.3 .2h0m.4 .6h0m0-.6h0m3.9 0h0m2.3 0h0m0-.2h0m44-.2h0m2.3 .9h0m.6-.6h0m3.8-.1h0m22.9 .7h0m-88.5 1h0m2.5-.5h0m3.1 .5h0m2.3-.2h0m.9-.4h0m1 .4h0m.8-.2h0m1.7-.3h0m4.3 .7h0m2.1-.5h0m35.9 .2h0m.1 0h0m1.3 .3h0m3.6-.3h0m10.8-.2h0m-70.2 .9h0m2.3 .4h0m.6-.3h0m3.2-.1h0m7.1 .3h0m3.2-.4h0m.7 0h0m.8 .1h0m.7-.2h0m.8 .2h0m33-.2h0m.4 .3h0m1.1 .2h0m1.4-.6h0m5.3 .2h0m.6 .4h0m16.1 .3h0m-76.2 .9h0m1.7-.3h0m.4 .2h0m.5 0h0m1-.1h0m.6-.5h0m1.3 .1h0m1.9 .1h0m1.7 0h0m2.6 .6h0m.7-.3h0m1.1 .4h0m.2-.3h0m3.7-.3h0m34.7 .3h0m3-.4h0m1.6 .5h0m1.5-.6h0m2.2 .3h0m.1-.3h0m.8 .2h0m.4-.2h0m17.5 .2h0m-75 .7h0m3.5 .4h0m4.1 .4h0m2-.3h0m.3-.5h0m1.2 .3h0m34.6 .3h0m16.8 0h0m33.2-.4h0m-103.3 1.4h0m6-.2h0m3.1-.1h0m2.9 .2h0m.9-.4h0m2.3 .3h0m1.6 0h0m1.2 .4h0m.5-.2h0m34-.2h0m1.9-.1h0m2 .2h0m12.1-.2h0m.5-.4h0m31.9 .5h0m-93.5 .9h0m.1-.2h0m1 .5h0m.3-.2h0m.1-.4h0m2.1 .5h0m3.1-.5h0m1.2 .9h0m.3-.9h0m.2 .6h0m33.7-.4h0m2 .6h0m1.2-.9h0m1 .6h0m4.5-.6h0m8.5 .2h0m1.2 .7h0m.9 .1h0m1.3-.9h0m-60.4 1.7h0m.4-.6h0m.8 .2h0m1.3 .2h0m4.8 0h0m33.3 .2h0m.1-.1h0m4.2 .1h0m4.2 0h0m.9-.6h0m0 .5h0m2.7-.4h0m5.4 0h0m-56.3 .7h0m35.2 .8h0m1.7-.4h0m.8 0h0m4.2 .2h0m3 .3h0m14.3-.5h0m12.2-.3h0m7.5 .1h0m-76.7 1.6h0m30.5-.2h0m1.7 .3h0m.1 .1h0m.3-.3h0m1.7-.3h0m7.2 .4h0m2.9-.6h0m9.2 .6h0m-55.7 .2h0m.8 .8h0m.4-.3h0m.8 .1h0m29.4 .2h0m0-.1h0m.8-.6h0m1.5 .3h0m5.6-.1h0m2.5 .2h0m6.2 .2h0m-48.7 1h0m1 .3h0m30.4-.1h0m5.8-.6h0m.2 .1h0m.4 .4h0m.3-.1h0m.9-.5h0m10.7 .1h0m-54.4 1.5h0m1.2-.2h0m2.9-.2h0m31.5 .2h0m4.5-.6h0m4 .3h0m0 .1h0m2.5-.3h0m-45.8 1.3h0m1.7 .1h0m3.1-.4h0m29.9 .2h0m.6 .3h0m15.7-.1h0m34 .1h0m-85.2 1.3h0m1.6-.1h0m.7-.4h0m1.8 .1h0m29.2-.2h0m.7 .3h0m1.7-.4h0m.2 .3h0m5.2 .4h0m1.2-.6h0m-43.9 1.5h0m.8-.2h0m.9-.1h0m1 .2h0m31.9-.5h0m4.5 .8h0m3-.5h0m-41.9 .6h0m31.4-.1h0m0 1h0m1.1-.3h0m1 .1h0m-32.7 .3h0m2.8-.1h0m26.2 .3h0m0 .3h0m1.1 .1h0m2.1 .1h0m1.4-.1h0m.5-.5h0m9.1 0h0m6.6 .5h0m.5-.7h0m2 .5h0m12.2-.2h0m-64.3 .9h0m25.5 .4h0m1.7 .2h0m1.1-.4h0m1.4 .1h0m1.2-.3h0m.8 .2h0m3.8 .5h0m3.3 0h0m6.7-.1h0m-18.5 .7h0m.3 .5h0m14.9-.9h0m65.7 .1h0m-84.3 1.7h0m.5-.8h0m3.2 0h0m4.3 .7h0m10.3-.4h0m11-.4h0m-27.2 1.1h0m.2 .3h0m7.2-.1h0m5.4 0h0m7.1-.1h0m-22.3 1.3h0m4.9 .2h0m-2.4 .8h0m11.6 .4h0m-15.8 .1h0m.5 1h0m20.3-.8h0m-26.3 .9h0m3.8 .5h0m.3 .4h0m-5.9 .5h0m1.9-.3h0m.6-.2h0m.8 .5h0m.5 0h0m2.2 .1h0m8.1-.4h0m2.9 .2h0m56.7 .6h0m-74.7 .7h0m1.7-.3h0m9 .2h0m-13.4 1.1h0m1.6-.1h0m2.2 .4h0m.1-.4h0m1.3 .1h0m.2-.1h0m2.2-.6h0m.1 .5h0m22.6-.2h0m.5 .2h0m22.3-.2h0m-53.6 1.6h0m3.7-.6h0m1.9-.2h0m6.1 .2h0m8 .2h0m-21.5 1.2h0m.5-.2h0m2 .3h0m3.1 0h0m3.4-.1h0m1.6-.6h0m7.6 .2h0m3.6 .3h0m-19 .6h0m.5 .8h0m4.1-.5h0m4.7 .2h0m20.1-.5h0m4.2 .6h0m-29.5 1.1h0m12.8-.6h0m0 .3h0m3.6-.3h0m13.9-.1h0m35.9 .5h0m-79.5 .9h0m1.9-.5h0m1.2 .3h0m1.3 .1h0m29.9 0h0" stroke="#c00a4e" stroke-width="1.4" stroke-linecap="square" fill="none"/><path d="M593.2 122.2l-2-1.4l-2.4 0l-4 1.4l-1.6 1.6l-1.4 0l-2.6 2l-2 0l-4.4 2.4l-.6 1.6l-5.4 4l-2.6 .4l-6.4 4.6l-2 3l-1.6 0l-.4 1l1 1.4l-.6 1l-2 0l-1 1l-6.4 1.6l-3.6 4.4l-3.4 2.6l-1 0l-3.6 4.4l-4.4 1.6l-3.6 3l-6.4 4l-4.6 5l-1.4 .4l-.6 2l-3 1l.6 .6l-.6 1.4l-2.4-.4l-3.6 2.4l-1 1.6l-1 0l-6 5l-3 1.4l-5.4 5.6l-1 0l-.6 2.4l-1 0l-.4-1l-1 2l-2.6 .6l-2 1.4l-3.4 4l1 1l-.6 1l-2.4 0l-2 1.6l-1.6 0l-2 2l-1 3.4l-2.4-.4l-2 2.4l-3.6 1.6l-1.4 2l-.6-.6l-2 1.6l-1 3.4l-2.4-.4l-1.6 1l-1 2l-2 1l-1 2.4l-3.4 .6l-1.6 2.4l-3.4 2.6l-.6 1.4l-1.4 .6l-.6 1.4l-1-.4l-1.4 .4l0 2.6l-1.6 .4l-1 2l-3.4 2l.4 1.6l-1.4 1.4l-2.6-.4l-.4-1.6l.4-4.4l-.4-1.6l-1.6-.4l-2 7l0 2.4l-1.4 2.6l1 1.4l0 1.6l-2.6 5l0 3.4l2 2l5 0l1-1l2 0l2-1l2-2l2 0l7-6l3.6-1.4l.4 .4l2-.4l4-5.6l3-.4l3-3l3-1l0-1l2-1l2-3l3.6-1l2-2.6l1.4 1l1.6-2.4l2-.6l-.6-1.4l1-1l2.6 0l3-3l1 0l.4-3l2.6 0l1-1l3-.6l2-2.4l1.4-.6l.6-1.4l2 0l3.4-3l.6-2l2 0l1-2l1 0l2-2l3-.6l1.4-2l1 0l1-3.4l2-1l1.6-2l2.4 0l2.6-2l4-1.6l3-3l1-2.4l3-.6l1.4-2l2.6-1l3.4-4l2.6-1l2.4-3l.6 .6l4.4-3.6l1.6-2.4l2-.6l1.4-2l1.6 0l1-3.4l2.4 .4l1.6-3.4l2-.6l2-2l3.4-1.4l1.6-1.6l1-2.4l4-1.6l0-1l8-7l0-1l2-1.4l1-2l1-.6l1 .6l4-3l2-2.6l.4-2.4l3-3l.6-1.6zM505.2 180.2l1-.4l.6 1l-1 .4z" fill="#d31651"/><path d="M588.2 129.2l-1.4-1.4l-3 0l-9.6 3.4l-3.4 2l-5.6 4.6l-6.4 3.4l-4.6 4.6l-7 3.4l-12.4 10.6l-15 10.4l-12.6 10l-1 1.6l-1 0l-6.4 5.4l-7.6 5l-13.4 11.6l-7 5l-4 4l-9.6 6.4l-3.4 3.6l-19.6 15l-5.4 5.4l-2 1l0 1.6l-1.6 1.4l-4 .6l-2 1.4l-1.4 2l0 3l-2 4l0 4.6l1 1l7.4-.6l4.6-3l2.4-.4l7-6l2-1l3 0l4-4l1-2l3-.6l2.6-2.4l5.4-3.6l1.6-2.4l4-1.6l2-2.4l1.4 0l2.6-2l1-2l2-.6l4-3l1-2.4l3-.6l10.4-7.4l3.6-3.6l11.4-8.4l4.6-4.6l1 0l18-14l14.4-12.4l5-3.6l9-8.4l5-3.6l17-16.4l6.6-8z" fill="#df2151"/><path d="M579.2 134.8l-1-.6l-4.4 .6l-7.6 5l-7 3.4l-3.4 3l-9 5.6l-11 9l-11 7.4l-24.6 19.6l-8 5.4l-25 20.6l-8 5.4l-26 20.6l-8.4 8l-3.6 1.4l-2.4 2.6l-2 4l0 2l-1 1l0 3.4l1.4 1.6l5 0l1-1l2 0l2-1l2-2l2 0l.6-1l2.4-2l1 0l4.6-4l3-.6l4.4-4l.6-1.4l1.4 0l2.6-1.6l9.4-8l12.6-9l5-5l1 0l12.4-9l5.6-5l32-25l33-28l13.4-14l3-5z" fill="#ea3050"/><path d="M572.2 140.2l-2 0l-9.4 4l-14.6 9.6l-10 8l-21 15l-16 13l-14.4 10.4l-17.6 14.6l-31 23.4l-17 14l-3.4 6.6l.4 4l1.6 1l4.4 0l.6-1l2.4 0l.6-1l1.4 0l2-2l1.6 0l7-6l5.4-2.6l4.6-4.4l2.4-1l28.6-23l11.4-8l8.6-7.6l30-23.4l33.4-29l7.6-8.6l2.4-4z" fill="#f3454a"/><path d="M564.2 146.8l-1-.6l-2 .6l-7 3.4l-31.4 22l-88 68l-15.6 13l-3 5.6l0 3.4l3 1.6l5.6-1l4-3l2.4-.6l6.6-5.4l4-2l6-5.6l1.4-.4l29-23.6l9.6-6.4l27-22.6l15.4-12l30.6-27.4l2-2.6l1.4-3z" fill="#f86341"/><path d="M556.2 153.2l-1.4 0l-11 6l-22.6 15.6l-87.4 67l-14.6 12.4l-2 3l-.4 4.6l1.4 1.4l4 0l3-1l3.6-2.4l2-.6l6.4-5.4l3-1.6l32-25.4l6-5.6l12-8.4l6.6-6l13-10l4-4l16-12.6l13.4-13l4-3l8-9z" fill="#f97f4c"/><path d="M544.8 162.8l-1-.6l-8 4l-17 11.6l-85.6 65l-12.4 10.4l-3 4l-.6 4l2.6 2l5-1l7.4-4.4l8-6l37-30.6l13-9.4l6.6-6l10-7.6l8-7.4l11-8.6l14-13.4z" fill="#fb9d58"/><path d="M533.2 171.2l-6.4 3l-10 6.6l-82 61.4l-15 13l-2 4l.4 2l2.6 1.6l3-.6l8.4-5l38-30.4l7-6.6l13.6-10l7-6.4l8-6l9-8.6l4.4-3l10.6-10z" fill="#fcba6c"/><path d="M521.8 180.2l-5 2.6l-4.6 4l-7 4l-12.4 9.4l-6.6 4l-11.4 9.6l-42.6 31l-11 9.4l-2.4 4l0 2.6l1 1l4 0l4-2l8.4-6l33-27l8.6-8l8-5.6l11-10l8-6l10-10l2-1l4.4-4.4z" fill="#fed587"/><path d="M505.2 193.8l-4.4 2l-6.6 5l-7 4l-13 10.4l-8 5l-32 23.6l-14 12.4l-1 2l0 2l1 1l3.6 0l6.4-3.4l41-33.6l7-7l11.6-8.4l8-8l3-2z" fill="#fff0aa"/><path d="M490.2 205.2l-3.4 1.6l-12 9.4l-8 4.6l-34.6 25l-11 10l-1.4 4l1 1l3 0l10-6l37-31l7.4-8l3.6-2l8-7z" fill="#f8f8b0"/><path d="M472.2 219.2l-7 3.6l-33 23.4l-10 9l-1.4 2.6l0 2l3 .4l2.4-1l9.6-6.4l31.4-27l4-4z" fill="#d0e98b"/><path d="M467.2 223.8l-1 0l-7.4 4.4l-24 16.6l-12 10.4l-1.6 3.6l1 1l3-.6l8-5l19-16z" fill="#9fd8a0"/><path d="M458.2 230.2l-10.4 6l-13 9l-11 9.6l-1.6 3.4l3 .6l10-6.6l14.6-12.4l8-8z" fill="#66cca0"/><path d="M452.8 234.8l-6 3l-14 9.4l-7 6l-2 2.6l-.6 2l.6 .4l2.4-.4l6.6-4l15-13z" fill="#1fc59c"/><path d="M447.8 238.8l-7 3.4l-11 8l-5 5l-.6 1.6l.6 .4l2.4-.4l5.6-3.6l5.4-4.4z" fill="#189bae"/><path d="M442.8 242.8l-4 1.4l-6.6 4.6l-6 5.4l-.4 2l4-1.4l3.4-2.6z" fill="#2378b2"/><path d="M438.8 245.8l-2 .4l-6 4.6l-3 3l0 1l2.4-1l4-3z" fill="#445ca8"/></g>
<g clip-path="url(#cpa)" fill="none" stroke-linecap="butt">
<path d="M416.6 261.3L673.3 53.6" stroke="#9a9a9a" stroke-width="1.4"/>
<path d="M416.6 259.6L673.3 64.8" stroke="#111" stroke-width="1.7"/>
</g>
<rect x="403.5" y="43.0" width="282.3" height="228.7" fill="none" stroke="#a4a4a4" stroke-width="1.4"/>
<path d="M416.6 271.7v3M403.5 261.3h-3M468.2 271.7v3M403.5 219.6h-3M519.8 271.7v3M403.5 177.8h-3M571.4 271.7v3M403.5 136.1h-3M623.0 271.7v3M403.5 94.3h-3M674.6 271.7v3M403.5 52.6h-3" stroke="#555" stroke-width="0.9"/>
<g font-family="Liberation Serif, serif" font-size="14.3" fill="#1a1a1a">
<text x="416.6" y="287.5" text-anchor="middle">0.0</text>
<text x="398.5" y="266.5" text-anchor="end">0.0</text>
<text x="468.2" y="287.5" text-anchor="middle">0.2</text>
<text x="398.5" y="224.8" text-anchor="end">0.2</text>
<text x="519.8" y="287.5" text-anchor="middle">0.4</text>
<text x="398.5" y="183.0" text-anchor="end">0.4</text>
<text x="571.4" y="287.5" text-anchor="middle">0.6</text>
<text x="398.5" y="141.3" text-anchor="end">0.6</text>
<text x="623.0" y="287.5" text-anchor="middle">0.8</text>
<text x="398.5" y="99.5" text-anchor="end">0.8</text>
<text x="674.6" y="287.5" text-anchor="middle">1.0</text>
<text x="398.5" y="57.8" text-anchor="end">1.0</text>
</g>
<text x="544.6" y="309.2" font-family="Liberation Serif, serif" font-size="22.4" text-anchor="middle" fill="#000">Ground Truth</text>
<text transform="translate(372.8 157.3) rotate(-90)" font-family="Liberation Serif, serif" font-size="22.7" text-anchor="middle" fill="#000">ESTARFM</text>
<text x="359.1" y="30.4" font-family="Liberation Serif, serif" font-size="27" fill="#000">(a)</text>
<g font-family="Liberation Sans, sans-serif" fill="#000" stroke="#000" stroke-width="0.12">
<text transform="translate(419.41 68.7) scale(0.937 1)" font-size="19" font-style="italic">y</text>
<text x="454.1" y="68.7" font-size="19" textLength="53.8" lengthAdjust="spacingAndGlyphs">0.938</text>
<text transform="translate(509.41 68.7) scale(0.934 1)" font-size="19" font-style="italic">x</text>
<text x="544.5" y="68.7" font-size="19" textLength="53.4" lengthAdjust="spacingAndGlyphs">0.008</text>
<text transform="translate(418.32 99.3) scale(0.821 1)" font-size="19" font-style="italic">R</text>
<text transform="translate(433.40 92.3) scale(0.948 1)" font-size="12.5">2</text>
<text x="466.3" y="99.3" font-size="19" textLength="65.0" lengthAdjust="spacingAndGlyphs">0.8984</text>
</g>
<path d="M435.4 61.5h12.7M435.4 65.0h12.7M525.8 62.9h12.2M531.9 56.8v12.5M447.2 92.5h12.7M447.2 96.3h12.7" stroke="#000" stroke-width="1.45" fill="none"/>
<clipPath id="cpb"><rect x="750.5" y="43.3" width="282.3" height="228.7"/></clipPath>
<g clip-path="url(#cpb)"><path d="M777.2 227.6l-.4-.6l-1 .6l0 1zM766.8 177.6l-2.6 2.4l0 2.6l1.6 1.4l0 1l-2 1.6l0 2.4l1.4 2l0 1l-1 .6l.6 1.4l3.4-1l-1.4-5.4l2.4-2l-1.4-1.6l1.4-2l-2.4-2zM764.8 170.6l-.6 .4l.6 1.6l1.4 1.4l.6-2zM866.2 158.1l-.4 1.6l1-.6zM876.8 152.1l-1 2l1.4 .6l1-1zM912.2 130.6l-1 0l0 1.4l1-.4zM939.2 118.5l-.4-.6l-2 1.6l.4 1.4l-1 1l-1.4-1l-.6-2l-2 0l-1.4 2.6l-3.6 1.4l-2-1l-1.4 .6l-1 1l1.4 1.4l-.4 2l-2-.4l-1 2l-1.6 0l-1.4 1.4l-2.6 .6l-2 2.4l-6.4 3l-1-.4l-.6 1.4l-3.4 3l-3.6-.4l-1.4 2l1 2.4l-1.6 2.6l-2 1.4l-2-1l-4 .6l-.4 .4l.4 1.6l-4.4 2.4l-.6 1.6l1 2l-.4 1l-4 0l-3.6 1.4l-2-2.4l-.4 4l-1 .4l-.6-2l-1 .6l-.4 1.4l-1 .6l.4 3l-3 3l-2.4 1l0 2l-2.6 2l-1-1l.6-1l-1-1l-1.6 0l-.4 .4l.4 1.6l-1 1l-1.4 0l-1 2.4l-2 .6l-2-.6l.4 1l.6-.4l1 1l-3 1.4l-1.6-.4l-1 2l-2.4 0l-.6 1l-2 1l-1 1.4l.6 1.6l-1.6 1.4l-1.4-1.4l1.4-1l0-1l-1 0l-2 2.4l-2-2l-1 0l-.4 1.6l1.4 1.4l1.6 0l1 1l0 2l-1.6 .6l-1-2l-3 1l-2 3l-2.4 0l0 1.4l-1 1l-3 0l-2 2l.4 2l-2.4 2.6l-2-2.6l-1 .6l1 3.4l-2 1.6l0 2l-2 1l-1-1.6l-1.6 3l-2 .6l-2.4 2.4l-.6 1.6l-2 1.4l-2-.4l-4.4 4.4l-1 2l-2-.4l1.4 3l-.4 1l-2 1.4l-1-.4l-2 .4l-1 1l.4 1.6l-.4 1l-3-.6l-.6 1.6l.6 2l-2.6 1l0 1.4l-2 1l-11 11l-3-2.4l1-1l-.4-2l2-1l-1-2l2-1.6l0-2l-1.6-3.4l-1.4-.6l0-3l1-1.4l.4-3l-.4-1l-2.6-.6l1-2.4l-.4-8l1-1l-.6-.6l.6-2.4l-1-6.6l-2-2l-2.6 .6l-.4 1l4 5.4l0 1l-1 1l-1.6-.4l-1.4 .4l1 2l-1 5l.4 5l-1 5.6l1 9l-.4 1l0 9l.4 .4l-.4 .6l-.6 11.4l-2 5l.6 3l7 .6l3-1l4-3l1.4 0l2.6-2.6l2.4-.4l5-4.6l3-1.4l2.6 0l2-2.6l1.4-.4l0-1l1.6-1.6l3.4 0l4.6-3l2.4-3l4.6-2l1.4 .6l0-3l1.6-1l4.4-.6l1.6-1.4l-.6-1.6l4.6-3.4l2.4 0l1-1l-.4-2.6l1-1l1.4 .6l-.4 1.4l1 0l2-2.4l2.4 0l2-3l2-.6l1-1.4l1.6 0l5.4-7l1 0l1.6-1.6l1.4 1.6l1 0l.6-1l-2-1.6l1.4-1l.6-1.4l2.4-1.6l1-1.4l1 0l.6 2l1 0l-.6-2l1-1l3-.6l1.6-1.4l1-3l1 .4l1.4-.4l-1.4-1l1-2.6l1.4 0l.6 .6l-.6 2l1.6 .4l-.6-2l1.6-1l-.6-2l2-2l3-1l2 0l1.6 1l1-1.4l-1.6-2l1-1l2 .4l1-1l.6-1.4l-2.6-.6l2-2.4l2.6-.6l1.4 2l-.4 .6l1 0l1-3.6l1-1l4.4 .6l.6-3.6l-1-1l1-1l3 .6l2.4-1.6l0-2.4l1.6-1.6l2.4 .6l1-2l2 0l-.4-2.6l1-1l4 .6l0-1l-2.6-1.6l5-1l-2-1.4l0-1l1.6-1.6l1.4 .6l3.6-.6l-1-3.4l.4-1.6l2-2l3-.4l2.6-2.6l1-2l-1-1.4l1.4-1.6l3.6 1.6l.4-1.6l1.6-1l0-1l2-1.4l-.6-.6l2-2l.6-1.4l2.4 .4l1-1l-1.4-2l0-1.4l2.4-1l0-3l-1.4-1.6zM821.2 200.6l1 1.4l-1.4 1l-.6-1.4zM872.2 162.6l1-1l.6 .4l-.6 1zM875.2 160.6l1.6-.6l.4 1l-1 .6z" fill="#c00a4e" fill-rule="evenodd"/><path d="M1018.3 44.6h0m-60.9 2.7h0m63.3-.2h0m-24.9 2.4h0m14.4 .4h0m4.7 .9h0m-64.8 1.5h0m38.1 1.3h0m5.3 .4h0m11.4 .1h0m-17.3 .8h0m28.8 .4h0m3 1.2h0m-14.4 1h0m7.5-.2h0m-23.9 .4h0m4.5 .2h0m25.7 .5h0m-47.6 1.1h0m22.8-.6h0m12.8-.4h0m5.4 .1h0m4.1 .5h0m-7.3 1.3h0m2.1 .1h0m-38.8 .4h0m32.6 0h0m-16 2.4h0m14.2 .1h0m13.4-.7h0m-15.5 1h0m3.6 .3h0m14.6-.3h0m-12.7 .9h0m12.7 .7h0m.9-.3h0m-23.3 1.3h0m-8.9 .9h0m30.2-.4h0m-48.7 1.2h0m4.5-.1h0m7.6-.1h0m5.1 .5h0m3.2-.1h0m2.7-.5h0m15.5-.1h0m9.2 .2h0m2.4-.1h0m-63.9 1.2h0m20.1 .6h0m4.9 0h0m17.7-.4h0m22.5 .2h0m-79.6 1h0m13.5 .1h0m61-.2h0m-33.6 1.2h0m10.2-.1h0m1.4-.5h0m3 .2h0m1.1 .3h0m8.9-.6h0m1.8 .6h0m.7 0h0m5.2-.3h0m2.9 .4h0m-61.4 .4h0m15.2 .2h0m26.7-.4h0m2.9 .3h0m2.2 .5h0m-17.9 .4h0m19.1 .3h0m6.6 .1h0m-17.7 .5h0m11-.1h0m1.3 .8h0m.7-.6h0m.6 .1h0m-83.1 1h0m61 .1h0m9.1 .1h0m15.1 0h0m.9-.6h0m.6 0h0m5 .7h0m-46.2 1.2h0m4.8-.6h0m15.8-.2h0m7.2 .3h0m15.8 .5h0m-47.4 .6h0m8.4 .3h0m3.2 0h0m33.9-.3h0m-28 .8h0m10.7 .1h0m20.3-.2h0m-53.4 1h0m47.7-.1h0m.5 .6h0m-30.5 .9h0m1.7 .4h0m4.1-.7h0m6.7 .3h0m8.4 .3h0m4.8 0h0m4.4-.2h0m-36.5 1h0m2.8-.2h0m1.6 .3h0m7.6 .1h0m.1-.2h0m2-.3h0m2.1 .3h0m0-.2h0m4.6-.4h0m3.2 0h0m9.4 .6h0m5.1-.3h0m-40.2 .9h0m9.2 .3h0m1.5-.1h0m3.7-.1h0m3.2-.1h0m5 .2h0m-40 1.3h0m20.1 .1h0m2.3-.2h0m4.1-.6h0m11.4 .5h0m5.8-.4h0m3.8 .8h0m-53.1 .7h0m36.8 0h0m4.8-.5h0m6.3 .8h0m7.5-.4h0m1.3 .1h0m14.7-.5h0m-91.2 1.6h0m2.7 0h0m20-.7h0m13.4 .3h0m18.1 .3h0m1.7-.1h0m.5-.1h0m13.3 .5h0m.3-.4h0m3.2-.4h0m.1-.1h0m-64.6 1.3h0m17.9-.2h0m6.8 .6h0m6.1-.2h0m1.5 0h0m0-.3h0m10 .2h0m6.5-.5h0m1 .2h0m16.4 .1h0m1.6 .5h0m-76.4 .7h0m30.3-.4h0m11 .2h0m.2 .3h0m7.8-.4h0m1-.1h0m1 .5h0m4.2-.1h0m18.4-.1h0m12.8-.4h0m-66.5 1.9h0m16-.1h0m4.6 0h0m10-.1h0m2.8 0h0m3.7-.2h0m.9 .4h0m21.2-.5h0m-49.8 .7h0m10.1 .3h0m1.1-.1h0m1.2 .3h0m5.1 .2h0m1.7-.3h0m5.4 .4h0m1-.1h0m2.6-.5h0m.8 0h0m3.2 .6h0m1.3-.7h0m-55.6 1.2h0m14.8-.2h0m.1-.1h0m5.8 .9h0m7.5 0h0m5.7-1h0m8.8 .9h0m3.4-.3h0m10.4-.6h0m3.3 .8h0m13.2-.6h0m-63.5 .9h0m15.1 .6h0m1.3 0h0m.3 .2h0m.7-.2h0m1 0h0m2.3 .1h0m.7-.7h0m1.1 .4h0m.1 .5h0m1.8-.8h0m1.1 .7h0m4.7-.7h0m.6 .6h0m7.2 .1h0m4.8-.4h0m4.3-.2h0m3.5 .4h0m-51.3 .9h0m.9 .4h0m9.6-.6h0m1.4 0h0m7.9 .5h0m10.3-.1h0m2.5-.2h0m13.6-.2h0m4.6-.3h0m-89.1 1.2h0m32.5-.3h0m13.4 1h0m2.6-.7h0m4.5 .5h0m8.7-.7h0m.3 .3h0m14.9 .3h0m21.7-.2h0m-63.3 .6h0m22.9 .7h0m9.1-.3h0m.8-.5h0m.2 .8h0m5.6 .1h0m4-.7h0m5.3 .1h0m3.7 .3h0m-68.8 1.1h0m1-.1h0m4.9-.5h0m.8 .4h0m8.4-.1h0m1.6-.3h0m4.9 .1h0m1 .4h0m10 .4h0m22.4-.5h0m4.2 .1h0m17.9 .3h0m2.2-.5h0m-52.7 .8h0m6.3 .7h0m5.1-.4h0m2.1 .4h0m.2-.1h0m7.1 .2h0m.3-.2h0m1.4-.6h0m.1 0h0m4.9 .7h0m14.1-.5h0m12.1 .5h0m1.6-.1h0m-69.7 .5h0m15.6 0h0m8.4-.1h0m7.8 .4h0m0 .3h0m2.7-.4h0m1.1 .3h0m5.3-.2h0m3.3 .4h0m2.7-.7h0m2.8 .4h0m1.1 .1h0m7.8-.3h0m5 .4h0m2.8 0h0m-69.7 .7h0m11.8 .2h0m.7-.1h0m9-.1h0m3.2 .1h0m2.1-.4h0m4.8 .4h0m.2-.7h0m4 .6h0m1.4 .2h0m1.2 .1h0m11.2 .1h0m5.3-.8h0m.7 .4h0m7.3 .3h0m-107 .6h0m43.7 .5h0m10.3-.7h0m4 .5h0m8.2-.4h0m.9-.3h0m7.6 .7h0m1.4-.1h0m4.3-.4h0m.1 .3h0m.8 .1h0m3.1-.2h0m2.2-.3h0m3.4 .6h0m2.1-.5h0m6.1-.2h0m18.6 0h0m-83.4 1.1h0m24.3 .1h0m.3 .6h0m3-.3h0m6.2-.3h0m2.1 .2h0m3.8 .2h0m1.8 .2h0m.4 .1h0m2.2-1h0m6 .6h0m6.7 .4h0m2.2-.2h0m.3-.1h0m.4-.2h0m4.8 .5h0m1.3-.6h0m10.3-.1h0m-110.7 1.3h0m26.8-.1h0m7.9-.2h0m27.5 .4h0m.7 .1h0m1.8-.7h0m1.2 .2h0m5.2 .7h0m2.1-.9h0m3.4 .4h0m3.2 .2h0m8.9 0h0m2.5 .2h0m-52.6 .6h0m8.8-.2h0m6.5-.2h0m.1-.1h0m3.8 .5h0m6.5 .4h0m.7-.4h0m7.4 .1h0m3.5-.3h0m6.7 .1h0m2.1 .1h0m1-.1h0m2.6-.1h0m2.2 .4h0m.5-.5h0m.4-.1h0m6.8 .8h0m-59.9 .2h0m2.3 .8h0m23.8-.1h0m6.8 .1h0m4.9-.2h0m2.6 .2h0m9.4-.6h0m14 .2h0m-53.4 .6h0m3.2 .8h0m4.4-.1h0m4.8-.6h0m2.9 .3h0m1-.4h0m5.3 .8h0m3-.4h0m2.1-.1h0m1.1 0h0m1.8 .4h0m19.6-.2h0m2.5 0h0m.8 .4h0m-71.4 0h0m20.5 .8h0m6.1 .1h0m5.3-.8h0m4.7 .6h0m3.2 .1h0m.4 0h0m1.9-.1h0m9.5-.6h0m.3 .5h0m7.5-.1h0m1.9 .4h0m6.9 .1h0m1.1-1h0m5.5 .2h0m-49.6 1.7h0m7.4-.7h0m1.3 .7h0m3.5-.1h0m.8-.5h0m11.7-.2h0m3.1 0h0m7.1 .5h0m2.1 .4h0m-36 .3h0m2.4 .3h0m2.3 .2h0m2.6 0h0m2.4-.2h0m1-.6h0m2.6 .9h0m.4-.7h0m.2 .3h0m2.2 .1h0m4.3 0h0m2.8-.1h0m.1 .4h0m9.1-.6h0m-58.9 1.6h0m9.2-.2h0m2.7 0h0m16.4 0h0m1.4-.1h0m3.8 0h0m1.6-.4h0m4.7 .1h0m1.5 .3h0m0 0h0m4.4 0h0m2.2-.1h0m.2-.5h0m3.5 .4h0m3.6-.3h0m1.5 .7h0m-59.3 .3h0m.8 .9h0m4.8-.2h0m9.6-.2h0m5.5 .1h0m4.4-.4h0m1.9 .1h0m3.9 .1h0m3.4 .2h0m2.1-.1h0m1.5-.3h0m.1 .5h0m.5-.1h0m.3 .2h0m2.8-.4h0m.7-.1h0m4.5 .4h0m.9-.2h0m2 .2h0m6.9 .1h0m2.5-.1h0m4.3-.4h0m4.4-.3h0m-100.4 .9h0m44.8 .5h0m.9-.4h0m1.3-.1h0m1.3 .9h0m2.5-.3h0m.3 0h0m.5 .4h0m1.4-.7h0m5.8 0h0m.9 .5h0m1.8-.3h0m.7-.4h0m4.7 .7h0m1.8-.7h0m.5 .2h0m3.2 .3h0m.2 0h0m4.2-.2h0m.2 .4h0m.3-.4h0m4-.3h0m.7 .7h0m2 .1h0m1.6-.8h0m1.5 .1h0m1.5 .1h0m.2-.1h0m-46 1.5h0m6 .3h0m.9-.8h0m5.8 .6h0m4.9 .1h0m1.5 0h0m1-.5h0m2.7-.2h0m.4 .5h0m7.1 .1h0m1.3 0h0m1.6 0h0m2.1 0h0m1-.3h0m.3 .3h0m.1 .2h0m1-.2h0m2.7-.2h0m1.3-.2h0m4.9-.4h0m1.3 .5h0m18.7 0h0m6.8 .2h0m-71.3 .3h0m5.5 .2h0m.1-.1h0m1.2 .6h0m.8 .2h0m.4-.1h0m2.2-.7h0m.6 .7h0m1.2-.5h0m.8-.1h0m.6 .1h0m1.8 .1h0m.8 .4h0m1.5 .1h0m1.7-.3h0m1.5-.2h0m.9 .2h0m1.7 .4h0m.8-.8h0m2 0h0m1.3 .5h0m.8-.6h0m.3 .4h0m1.1-.1h0m3-.3h0m1.8 .9h0m1.8 0h0m.7-.9h0m.7 .6h0m.3-.4h0m4.9 0h0m1.3 .3h0m-47.1 1h0m.3-.3h0m1.1 .4h0m4.3 0h0m.9-.3h0m.9 .4h0m.1-.3h0m3.9 .1h0m7.4-.2h0m.5-.4h0m1.5 .2h0m4.2 0h0m3 .6h0m1.4-.6h0m1.2 .5h0m.3 .2h0m.9-.7h0m4.5 .4h0m1-.5h0m1.1-.1h0m.9 .1h0m1.3-.1h0m.8 .3h0m.4 .1h0m3-.2h0m5.8 .5h0m-55.1 1.3h0m5.2-.4h0m5.3 .2h0m1.1-.2h0m1.5-.4h0m1.7 .4h0m.1 .2h0m3.3-.6h0m.4 .3h0m0-.4h0m1.3 .3h0m1.7 .4h0m.4-.3h0m.4 .2h0m0 .2h0m.4-.1h0m.4-.7h0m4.5 .7h0m2.7 0h0m2.7-.6h0m.3 .4h0m1.3-.4h0m5.2 .3h0m.5 .4h0m.1-.3h0m5-.4h0m1.3 .4h0m-65 1.3h0m8.8-.9h0m4.5 .6h0m19.9 .3h0m6.2-.3h0m.5-.4h0m1.2 .7h0m1-.4h0m3.1 .3h0m2.1 .1h0m3.8-.1h0m4.7-.8h0m3.7 .4h0m1.7-.2h0m7.6 .5h0m-65.4 1.1h0m5.4-.6h0m6 .4h0m1.2 .1h0m.2-.3h0m1.3 .5h0m7.8-.6h0m1.2 .5h0m2.6-.2h0m3.4-.4h0m.8-.1h0m.6 .6h0m1.2-.4h0m0 .7h0m7.2-.8h0m.3 .8h0m3.7-.3h0m.8-.4h0m3.1 .2h0m.8 .3h0m.9 0h0m.3-.6h0m1.4 .1h0m.5-.2h0m1.9 .4h0m2.5-.5h0m4.5 .7h0m6.6-.4h0m1.3-.2h0m8.5 .1h0m-79.1 .8h0m7.4 .7h0m3.6 .2h0m2.1-.7h0m.3 .4h0m5.4-.3h0m.2 .1h0m7.9 0h0m1.6 .2h0m.9-.2h0m7.9-.3h0m.3 .1h0m.8-.1h0m1.4 .2h0m.1 .3h0m.2 0h0m.8 .2h0m.3-.5h0m.2 .6h0m5.9-.6h0m2.5 .4h0m1.4 0h0m3.7-.3h0m2.1-.3h0m5.6 .5h0m1.6-.4h0m3.4 .2h0m4-.1h0m9.6 0h0m-121.6 .8h0m39.6 .6h0m4.5-.6h0m9.8 .9h0m2-.3h0m1.8 0h0m1.9 0h0m1.5-.6h0m.6 .1h0m2 .7h0m3.8 0h0m1-.2h0m2.4-.1h0m0-.5h0m2.7 .5h0m1.4-.1h0m4.1 .5h0m4.4-.7h0m3.5-.2h0m1.5 .2h0m4 .7h0m1.3-.5h0m2-.3h0m6.6-.1h0m7.5 .1h0m16-.1h0m-76.7 1.3h0m1.4 .4h0m6.2-.7h0m3.3 .5h0m.8-.1h0m3.5 .5h0m0-.2h0m3.5-.4h0m1.5-.1h0m1.2-.2h0m.8 .7h0m.6-.5h0m1.6-.2h0m1.2 .6h0m2.1-.3h0m2.2 .2h0m2.4 .3h0m.9-.3h0m.1-.6h0m4.5 .2h0m3.2 .1h0m.3-.1h0m1.2 .6h0m.3-.2h0m1.8 0h0m2-.4h0m8.5 .7h0m1.7 .1h0m6.9-.3h0m-120.9 .8h0m59.5 .5h0m9-.8h0m5 0h0m.5 .2h0m2.6-.4h0m.7 .8h0m1.6-.3h0m0-.3h0m4.8 .2h0m.1-.3h0m5 .9h0m2.2-.4h0m4.8 0h0m.6 0h0m2.9-.4h0m2-.2h0m.1 .2h0m2.8-.1h0m2.3 0h0m5 0h0m-92.3 1.2h0m16.6 0h0m15.6 .2h0m4.1-.2h0m0 .6h0m.3-.3h0m1.9 .3h0m4.6-.5h0m4.3-.1h0m.5-.1h0m1.6 .7h0m1.1-.7h0m4.4 .3h0m1.3-.1h0m.6 .2h0m.3 0h0m1.1 0h0m4.5-.1h0m2.2-.4h0m3.6 .3h0m4.8 .2h0m1-.3h0m2.9 .3h0m3.4-.3h0m1.9-.1h0m2.1 .4h0m6.2-.2h0m.8 .2h0m3.7 .2h0m9.2 0h0m14.8 0h0m-105.9 .4h0m15.5 .8h0m2.7-.1h0m1.8 0h0m7.2-.5h0m7.5 .5h0m.7-.2h0m3.9 0h0m.1-.1h0m2.3-.3h0m1.3-.1h0m14.2 .7h0m1-.5h0m1.3 .5h0m.3-.3h0m1.3-.1h0m1.9-.3h0m1.9 .2h0m9.8-.3h0m1.3 .8h0m3-.7h0m-58.8 1.2h0m5.1-.3h0m.3 .9h0m10.2-.9h0m.2 0h0m20.1 .1h0m1.2 .2h0m.5 .4h0m.3-.2h0m.4-.2h0m4.2 0h0m1.4 .1h0m3.3-.2h0m.1-.3h0m1.4 .7h0m.3-.7h0m1.1 .4h0m5.5 .1h0m10.1 .2h0m-75.5 .9h0m17.3-.2h0m.3-.4h0m.6 .3h0m2.5-.1h0m1 .5h0m4.5-.4h0m.1 .7h0m.5-.9h0m19.8 0h0m2 .2h0m2.4 .7h0m1.8-.2h0m.3-.3h0m.9-.3h0m2.3 .1h0m1 0h0m2 .4h0m1.7 .2h0m1.3-.6h0m1.3 .7h0m0-.4h0m1.6-.2h0m1.4-.1h0m7.3-.2h0m-94 1.1h0m21.9 .5h0m.5 .1h0m5.3-.3h0m1.5-.3h0m2 .7h0m.3-.1h0m2.7 .1h0m1.1-.2h0m2.2 .3h0m4.4-.6h0m1.2 .6h0m0-.3h0m.3-.4h0m2.6-.3h0m21.9 1h0m1.5-.3h0m2.2-.5h0m2.3-.2h0m.7 .3h0m1.1 .1h0m2.3 0h0m2.3 .4h0m1-.6h0m7.4 .2h0m-72.7 .7h0m8.9 .5h0m5.7-.1h0m1.3 .4h0m5 0h0m4.1-.1h0m2.5-.3h0m2.4 .1h0m1.8-.5h0m.8 .4h0m.2 .1h0m19.5-.3h0m.9 .4h0m.9-.4h0m.5 .3h0m1.1 0h0m.3-.4h0m2.3 0h0m.1 .2h0m2.4 .1h0m.6-.1h0m1.2 .5h0m3-.8h0m13.8-.1h0m-71.7 1.9h0m6 0h0m4 .1h0m.9-.6h0m.8 .4h0m.3-.7h0m3.6 .2h0m1.4 .1h0m3.3-.4h0m1.9 .7h0m20.6 .2h0m1.7-.8h0m3.6 .2h0m5.8-.1h0m3.5 .4h0m9.2-.6h0m-97.3 1.6h0m15.1-.6h0m13.8 .1h0m2.3 0h0m1.5 .3h0m6.2-.3h0m1.2 .3h0m2.4 0h0m3.7-.2h0m.4 .2h0m1.1-.1h0m5 0h0m19.4 .1h0m4.3-.3h0m4.3 .7h0m9-.6h0m6.1 .7h0m17.3-.6h0m-99.5 1.3h0m10.4-.3h0m4.2 .7h0m2.7-.9h0m1.5 .6h0m7.3-.1h0m1.8-.1h0m.2-.3h0m1.4 .2h0m1.5 .2h0m.3-.5h0m1.5 .8h0m.4-.1h0m1.1 .1h0m.7-.5h0m29.4 .1h0m1.1-.5h0m.7 .4h0m.3-.1h0m1.1 0h0m.5 .6h0m2.4-.8h0m.2-.1h0m7.2 .5h0m-65.5 1.3h0m7.8-.1h0m9.5-.1h0m.6-.1h0m.7 .5h0m.2-.3h0m4.3-.5h0m23.8 .7h0m6.9-.4h0m.9 .5h0m.1-.3h0m21.6 .2h0m-98.2 1.1h0m25.9-.1h0m1-.3h0m2.9 .2h0m.4 0h0m3.7-.6h0m7.7-.1h0m28.4 0h0m.2 .1h0m1.6 0h0m.3 .2h0m.3 .3h0m1.5-.7h0m.3 .4h0m4.4-.2h0m1.7 .4h0m-115.3 1.4h0m6-.5h0m42 .4h0m3.5-.8h0m5.4 0h0m1.4 .6h0m4.8-.5h0m.2 0h0m.8-.1h0m.6 .7h0m3-.7h0m7.7 .8h0m31.5-.1h0m2.6 0h0m.3-.2h0m1.2-.4h0m0 0h0m2.9-.1h0m16.3 .6h0m-141.9 1h0m5.4-.6h0m55-.1h0m7.9 .5h0m4.8 .2h0m1.5-.6h0m.4 .1h0m5.2 .2h0m.5 .2h0m.3-.4h0m.7 .6h0m.6-.1h0m.4-.7h0m.7 .6h0m.6-.5h0m.2 .4h0m1.8-.5h0m26.4 .8h0m2.8 .1h0m1-.3h0m2.1-.6h0m.7 .6h0m3.4 .1h0m.4-.6h0m3.1 0h0m4.9 .3h0m11.1 .2h0m-83.6 1.4h0m5-.2h0m6.5-.2h0m1.2-.5h0m1.7 .6h0m1.6-.1h0m8.1 0h0m27.7-.4h0m.6 .4h0m1.9 .1h0m4 .2h0m1.2-.3h0m.3-.1h0m.6-.4h0m3.9 .1h0m3.6 .4h0m1.2-.3h0m.4 .1h0m-119.8 1.2h0m51.8-.5h0m7.3 .9h0m7-.7h0m1-.1h0m.1 .4h0m1.2-.4h0m.5 .4h0m.9-.2h0m.6-.1h0m.7 .2h0m.3-.4h0m.2-.1h0m1.9 .1h0m.6 .3h0m29.9 0h0m1.1 .5h0m1.1-.2h0m1.9 0h0m.8 .2h0m1.6-.6h0m0 .2h0m1 .4h0m6.7-.5h0m1.6-.4h0m1 .4h0m-77.9 1.1h0m5.8 .2h0m6.7-.5h0m.1 .4h0m3.1 .1h0m0 .2h0m.2-.4h0m9.5 .4h0m32 .1h0m.3-.5h0m.1-.1h0m1.8 .4h0m1.7 0h0m1.4-.4h0m24.8 .6h0m8-.4h0m24.9-.4h0m-176.4 1.4h0m14.1-.6h0m50.5 1h0m.4-1h0m2.2 .4h0m7.9 0h0m3.8 .5h0m.1-.1h0m1.4-.8h0m.2 .4h0m.7 .2h0m2.4-.5h0m.5 .6h0m28.9-.4h0m1 .1h0m1.1 .5h0m1.2-.7h0m0 .3h0m.8 .4h0m4.7-.3h0m3.7-.4h0m1 .5h0m7.5 .2h0m.3-.5h0m17.4 .2h0m-94 .5h0m4 .9h0m8.8-.2h0m.7-.4h0m1.3 .5h0m.3-.8h0m.7 .7h0m2.2-.8h0m.3 .3h0m.6 .6h0m1.8-.6h0m1.2 .1h0m2.3 .3h0m34.1-.5h0m4.5 .1h0m.2 .6h0m4.3 0h0m11-.1h0m-122.3 .4h0m43.9 .5h0m8.5 0h0m1.6-.5h0m1.6 0h0m.6 .4h0m2.3 .2h0m1.1-.6h0m.5 .2h0m6.8-.3h0m1.9 .5h0m24.7 .3h0m4.7 .1h0m.9 0h0m.9-.2h0m3.1 .1h0m.1-.7h0m1.9 .7h0m2.3-.1h0m13.7-.1h0m3.9-.2h0m-102.7 1.4h0m6.3 0h0m17.7 .1h0m3.3 0h0m11-.4h0m32.7-.5h0m4.8 .2h0m1.6 .4h0m1-.1h0m.9-.4h0m.3 0h0m.4 .5h0m.2-.2h0m1.5 .3h0m3.1-.1h0m3.4-.5h0m-103 1.2h0m18.7 0h0m12.3 .3h0m12.2-.1h0m.8-.6h0m.7 .9h0m1.3-.4h0m.3 0h0m0 .3h0m1.7-.7h0m2 .2h0m1.7-.2h0m2.7 .8h0m.2-.4h0m29.8 0h0m0 .4h0m3.5-.3h0m3.7 .3h0m1.7-.2h0m1.6-.2h0m5.6-.1h0m.7-.1h0m-107.3 1.6h0m40.5-.3h0m13.6 .4h0m1.4-.4h0m1.3 .2h0m34.2 0h0m1.3-.5h0m2.1 .7h0m2.2-.4h0m1.4 0h0m1.3 .1h0m6.9-.3h0m14.5 0h0m11.9-.1h0m-160.4 1.4h0m62.6-.3h0m18.9 0h0m2.7 .1h0m2.2 .2h0m1.3-.5h0m31.5 .2h0m.9 .2h0m2.9-.2h0m3.5 .3h0m.1-.3h0m1.4-.3h0m.1 .4h0m.3-.1h0m2 .6h0m1.1-.6h0m1.6 0h0m13.1 0h0m27-.3h0m-133.8 1h0m30.5 .8h0m2.3-.6h0m2.3 .3h0m.4 .3h0m2.7-.1h0m2.4-.3h0m.1-.3h0m.5-.1h0m4 .8h0m.7-.8h0m3.2 .7h0m29.5-.4h0m2.6 .1h0m.1-.3h0m1.5 .8h0m.1-.4h0m.1 0h0m2.6 .2h0m.6-.2h0m2.9 .1h0m.1-.4h0m.5 0h0m6.6 .5h0m-92.6 .8h0m17.8 .3h0m8.9-.4h0m.6 .5h0m1-1h0m.8 .2h0m.8 .2h0m.9 .2h0m2.6 0h0m0 .1h0m2.4-.1h0m1.8 .2h0m.6-.1h0m.9-.4h0m0-.2h0m2.5 .4h0m2.7 .3h0m30.7-.4h0m1.8 .4h0m4.3-.2h0m-113.6 .6h0m6.1 .4h0m6.9-.3h0m37.2-.2h0m5.9 .2h0m3.3 .3h0m5.6 0h0m2.4-.2h0m2.6 .3h0m2.1 .1h0m1.1-.5h0m3.5 .3h0m28.8-.2h0m2 .4h0m2.2-.7h0m.5 .5h0m2-.4h0m.4 .1h0m11.6 .1h0m15.7 .5h0m.5-.2h0m6.8-.1h0m-137.4 1.3h0m26-.6h0m.8 .2h0m6.9-.5h0m3.2 .8h0m1.6-.4h0m3.6-.2h0m6.3 0h0m3.3 .5h0m2.7-.7h0m.1 .2h0m.3 .1h0m1.5 .6h0m2.3-.7h0m2.4 .4h0m3.2-.3h0m1.5-.1h0m26.4 .6h0m1.9-.5h0m1-.1h0m.8-.1h0m1.1 .1h0m1.2 .5h0m2.1-.4h0m2.7-.2h0m.5 .6h0m20.7 .2h0m-187.2 .5h0m1.7 .4h0m1.8-.7h0m60.8 .4h0m7.3 .1h0m28.8-.4h0m6.2 .5h0m3-.1h0m.8 0h0m3.4 0h0m3.8-.3h0m.8 .4h0m2.6-.1h0m.3 .4h0m34.1-.9h0m1.2 .4h0m2.1-.5h0m3.9 .7h0m.1-.1h0m.3-.2h0m.5 .5h0m.3-.9h0m.8 .5h0m1.8-.4h0m.4 .8h0m5.8-.3h0m-101.6 1.4h0m2.3-.8h0m21.9 .6h0m.8 .2h0m7.2-.2h0m5.1-.3h0m2.8 .1h0m2.2-.2h0m4.8 .2h0m.5 .2h0m2 .2h0m32.8-.2h0m1-.7h0m1.7 .8h0m.8-.3h0m.3-.4h0m.3 .3h0m3.3 0h0m.5 .3h0m17.2-.6h0m10.4 .1h0m.5 .3h0m-186 1.2h0m2.1-.3h0m63.5 0h0m35.3 .1h0m4.1-.2h0m.6 .4h0m5 .1h0m.3-.5h0m8-.1h0m31.1-.3h0m7.6 .1h0m.2 0h0m1 .4h0m2.3 .5h0m41.9-.5h0m-206.5 .7h0m.9 .3h0m.6 .1h0m1.2 0h0m.8-.2h0m43-.3h0m21.6 .5h0m14-.6h0m6.1 .9h0m15.8-.5h0m6.3 .5h0m3.8-.9h0m1.2 .6h0m1.2-.2h0m.4-.3h0m.3 .1h0m.7 0h0m35.9 .2h0m3.2 .2h0m2.2-.5h0m2.4 .5h0m4.5-.6h0m3 .1h0m21.2 .5h0m21.7 .1h0m-211.3 1.2h0m55.1-.5h0m7.7 .5h0m27.2-.8h0m4.6 .8h0m5.7-.2h0m2 .1h0m1.5 .1h0m5.3-.4h0m1.4-.2h0m.1 .1h0m.3-.3h0m4.2 .6h0m2.2-.4h0m35.4-.2h0m2.7 .4h0m.4-.5h0m0 .6h0m1-.6h0m2.4 .5h0m.8 0h0m30.1-.4h0m-189.5 1h0m39.1 0h0m4.1 .7h0m54.1-.2h0m2.6 .2h0m3.4 .1h0m8.3-.9h0m.4 .2h0m1.6 0h0m.1-.1h0m1.1 .6h0m37.2-.3h0m.1 .6h0m2-.6h0m.2-.3h0m.4 .7h0m3.8-.3h0m1.4 .2h0m-162.3 1.3h0m4.9-.4h0m67.2-.4h0m32.6 .5h0m1.5-.1h0m0 .1h0m7.5 .1h0m.6-.6h0m0-.2h0m1.6 .7h0m1.7 0h0m.1-.7h0m.2 .3h0m.7-.2h0m37.2 .7h0m3.8-.6h0m5.2 .6h0m9.8-.2h0m.3 0h0m1.1 .1h0m-165.6 .4h0m38.1 0h0m6.6 .8h0m2-.2h0m.4-.5h0m10.5 .7h0m23-.5h0m6.1 .1h0m4.2-.5h0m3.3 .8h0m4.5-.3h0m.1-.3h0m1.8 .5h0m6.4-.1h0m1.3-.5h0m30.7 .6h0m1-.3h0m.8 .5h0m.9-.3h0m.1-.4h0m2.6 .3h0m2.7-.4h0m.8 .5h0m1-.4h0m1.1-.2h0m2.4 .9h0m1.2-.6h0m3.2 .2h0m1.5 .2h0m11.1-.4h0m-177.4 1.5h0m4.3 .2h0m.8-.1h0m.9-.2h0m2.3-.2h0m39.6 .3h0m8.2-.5h0m6.4-.2h0m8.8 .2h0m25.7-.1h0m5.5 .8h0m2.3-.4h0m.9-.2h0m4.4-.3h0m3 .6h0m.1 0h0m33.2 .3h0m.2-.4h0m2.6 .4h0m2.2-.5h0m.6 .2h0m.3-.6h0m4.3 .4h0m1.6-.2h0m1.6 .6h0m1.5-.2h0m.5-.5h0m8.2-.1h0m1.2 .5h0m-172.5 1.1h0m.5-.3h0m2-.2h0m3 .6h0m.3-.4h0m30.1 .5h0m18.6-.7h0m4.2 .4h0m4.7-.4h0m13.2-.2h0m13.3 .1h0m3.1 .2h0m3.2 .6h0m3.8-.7h0m.1 .8h0m1.1-.2h0m2-.5h0m1.8 .4h0m1.7 0h0m6.4-.4h0m40.9-.1h0m3.3-.1h0m4.5 .2h0m2.3 .2h0m2.2 0h0m6.6 .5h0m-174 .2h0m4 .2h0m3.1-.4h0m35 .8h0m1.4-.4h0m2.4 .4h0m3.3-.1h0m7.7-.5h0m7.8 .4h0m16.4-.5h0m6.1 .9h0m6.5 0h0m1-.4h0m7.1-.3h0m.7-.1h0m1.3 .8h0m.5-.7h0m2.1 0h0m.4 .4h0m2-.4h0m2.9 .5h0m1.4-.7h0m39.3 .5h0m.4-.5h0m.4 .1h0m1.8 .7h0m5.4-.2h0m.6 .2h0m.3-.1h0m-158.9 .7h0m.1-.2h0m1.9 .7h0m57.5-.3h0m8.5 .3h0m18.5-.8h0m2.5 .4h0m7.5-.1h0m1.2 .3h0m.5-.4h0m5.9 .1h0m2.2 .5h0m37.1-1h0m.1 .9h0m.7-.3h0m4.1 .3h0m2.1 0h0m1.8 0h0m1.3-.6h0m1.7 .6h0m-157.5 .8h0m5.1-.4h0m1.6 .5h0m2.8-.5h0m27.7 .1h0m17.1 .5h0m8.3-.1h0m4.7-.1h0m5.4-.1h0m20.8-.5h0m.9 .3h0m1.2 .4h0m6.9-.7h0m1.6-.1h0m46.6 0h0m1.2 .3h0m1.9-.2h0m1 .1h0m1.6 .6h0m2.1 .2h0m2.8-.4h0m-159.8 1.3h0m.2-.2h0m6-.5h0m33.5 .4h0m7.1-.2h0m2-.1h0m8.5 0h0m32.2 .5h0m2-.2h0m1.6-.1h0m3.3-.5h0m.3 .7h0m3.1-.3h0m3-.3h0m.3 .5h0m39.6 .3h0m3.7 .1h0m.7-.9h0m1.4 .6h0m.9-.1h0m1.3 .2h0m10.4 .1h0m-161.1 1.1h0m1.9-.1h0m54.3-.4h0m5.6 .1h0m22.8 .2h0m.6-.1h0m3.8-.3h0m.8-.2h0m2.5 .5h0m2.5 .3h0m.8-.8h0m.4-.2h0m.8 .9h0m2-.7h0m.7 .1h0m1.8 .5h0m.9-.5h0m.3 0h0m.5-.2h0m38.8 0h0m3.8 .1h0m1.2 0h0m3 .2h0m2.7 .3h0m.9 0h0m.2-.1h0m-154.9 .8h0m.8 0h0m3.9 .1h0m2.9 .2h0m3.9-.6h0m24.8 .6h0m13.8-.4h0m7.3 0h0m4.7 .7h0m.9-.5h0m0-.5h0m3.3 .5h0m.8 .3h0m14.3-.6h0m9.9 0h0m3 .3h0m.4-.5h0m.4 .6h0m1.8-.1h0m.6 .5h0m1.3-.3h0m1.7-.2h0m.5 .2h0m1.4-.3h0m.3-.1h0m5.6 .5h0m41.3-.3h0m1-.5h0m.7 .2h0m9.4 .5h0m-160.8 1.3h0m1-.9h0m.3 .7h0m.4 0h0m3.2-.2h0m28.8-.5h0m5.9 .9h0m7.2-.1h0m5.1-.2h0m2.4 .2h0m4-.8h0m10.7 .6h0m3.7 0h0m22.4-.1h0m2.5-.4h0m1.3 .6h0m.2 0h0m1.3 .2h0m.3-.7h0m.5 .2h0m42.7-.1h0m.3 .3h0m.5-.2h0m3.6 .3h0m12.7-.6h0m14-.2h0m-175.5 2h0m3.1 0h0m2.4-.3h0m.3 .3h0m.6-1h0m2.2 .6h0m25.6-.1h0m17.5-.3h0m4.3 .4h0m2.1-.2h0m4.1-.1h0m26.8 .7h0m3.6-.6h0m1.8 .5h0m4.5-.6h0m1.1 .5h0m41.3-.4h0m3.8 .2h0m.1-.1h0m.2-.1h0m.4 .3h0m2.7-.5h0m1.7 .3h0m1.2 .3h0m-151.5 .5h0m.9 .3h0m2.6 .1h0m1.1-.3h0m2.1 .4h0m26.5-.3h0m1.9-.5h0m8.8 .1h0m4.4 .7h0m1.9-.4h0m26.2-.2h0m8.9 0h0m4.4 .5h0m7.3-.5h0m.3-.1h0m.1 0h0m54 .4h0m6.3-.4h0m13.1 0h0m-170.4 1.5h0m1.7-.1h0m1.7-.4h0m3.3 .2h0m44.6 0h0m5.2-.2h0m30.6-.1h0m5.1 .2h0m3.6-.1h0m.6 .6h0m1.2-.6h0m.6 .9h0m1.7-.3h0m1-.7h0m37 .2h0m2.1-.1h0m.4 .7h0m.5-.3h0m.8 .2h0m.4-.2h0m.4 .2h0m2.6 .3h0m2.1-.7h0m.2 .2h0m5.4 0h0m.1 .2h0m43.2 .2h0m-195.8 .5h0m18 .4h0m20.6-.7h0m30.8 .3h0m4 0h0m1.5-.2h0m4.2 .7h0m4.1-.7h0m2.3-.1h0m.1 .4h0m3.2 0h0m4.6 .3h0m1.2-.7h0m.8 .2h0m1.8 .6h0m1.3-.3h0m.8-.3h0m39.7-.2h0m.2 .8h0m1.2-.1h0m1.9-.3h0m.2-.3h0m.7 .1h0m19 .4h0m-155.9 1.1h0m3.3-.6h0m19.9 .4h0m10 .2h0m6.1-.7h0m7.8 .5h0m4.4 .1h0m3.9-.7h0m5.3 .9h0m11.1 0h0m3.1-.3h0m3.5-.5h0m.5 .9h0m3.7-.7h0m.3 .4h0m.8 .1h0m2.6 0h0m7.2-.7h0m38.5 .6h0m.2-.6h0m3.7 .4h0m1.7 0h0m15.1 .2h0m-159.4 1.1h0m.1-.8h0m.2 .8h0m.8-.3h0m2.4 .2h0m2.5-.3h0m25.8-.4h0m9 .7h0m6-.1h0m4 .1h0m1.3 .1h0m1.3-.1h0m5.1-.5h0m4.6-.1h0m.1 .6h0m1 .1h0m12.8-.6h0m3.8 .8h0m.9-.7h0m.7 .4h0m.7-.6h0m2.8 .2h0m1.6-.2h0m1.8 .1h0m4 .7h0m.3-.8h0m5.4 .6h0m38.1-.1h0m3.5 .2h0m5.2-.3h0m4.4 0h0m11.6-.1h0m-162 1.4h0m3.4-.3h0m.1-.4h0m1.6 .4h0m.1-.1h0m4.5-.4h0m27.4 .1h0m7.1 .2h0m23.5 .1h0m1 .2h0m5.7-.2h0m1.6 .3h0m1.5 0h0m2.5 .3h0m1.9-.5h0m.7 0h0m4-.1h0m1.8-.1h0m5 0h0m41.1 0h0m2.1 .5h0m1.5-.4h0m2.1 .1h0m4.5-.1h0m.4 .4h0m2.5 .2h0m3.9-.2h0m-151.3 .5h0m3.5-.1h0m3.1 .7h0m53.6-.8h0m2.7 .1h0m3.2 .4h0m13.1-.4h0m6.2 .6h0m.6 .2h0m1.5-.5h0m3.3-.4h0m.4 .1h0m.8 .2h0m38.9 .5h0m1.2-.6h0m2.2 .3h0m29 .1h0m-157.7 .6h0m1.2-.2h0m8.2 .9h0m14 0h0m10.7-.4h0m10.9 .3h0m29-.5h0m.2 0h0m3.3-.4h0m1.2 .6h0m.9-.2h0m1.3 .5h0m2-.3h0m.2-.2h0m.8-.2h0m.4 .2h0m.7-.3h0m39.8 .2h0m2 .6h0m1.2-.7h0m.2 .2h0m1.6 .2h0m2.1-.5h0m1.4 .7h0m1.3-.7h0m.9 .3h0m1.7 .1h0m4.2-.3h0m-143.7 1.2h0m.1 .6h0m21.4-1h0m1.6 .6h0m20.6-.3h0m.6-.2h0m4.6 .9h0m14.8-.7h0m3.1 0h0m3.9 .3h0m6.5-.4h0m1 .6h0m.6-.2h0m.3-.6h0m.9 .4h0m1.7 .6h0m1.9-.7h0m4 .2h0m51.7-.2h0m-142.5 1h0m.5 .1h0m5.2 .1h0m1.5-.2h0m8.9 .5h0m19.2-.7h0m7.8 0h0m1.8 .7h0m11.1-.7h0m9.1 .3h0m2.7-.1h0m9.7-.1h0m1.4 .5h0m2.5-.5h0m5.6 .7h0m0-.3h0m1.9-.4h0m46.5 .4h0m0-.1h0m2.2 0h0m.9-.4h0m15.1 .9h0m-152.9 1h0m.4-.8h0m.3 .2h0m.7-.2h0m.6 .1h0m.3 .3h0m21.1 0h0m13.8-.4h0m12.4-.1h0m12 .4h0m9.4 .5h0m3.6-.9h0m1.3 .7h0m.6 0h0m.1 .1h0m2.7-.4h0m.2-.2h0m1.6-.2h0m3.7 .5h0m.6 .1h0m2.2-.1h0m39.8 .2h0m2.7-.2h0m3.8-.1h0m1.4-.3h0m3.1-.2h0m3.3 .5h0m5 .5h0m1.3-.4h0m30 0h0m-179 .7h0m3.1 .4h0m1.8 .3h0m1.3-.8h0m5.3 .5h0m26.4-.3h0m8.8 .4h0m9.5-.5h0m.2 .6h0m15.8-.1h0m1-.1h0m3.8-.2h0m.1-.5h0m2.8 .8h0m.4 .1h0m1.8-.4h0m1.6 .4h0m.5-.3h0m.3-.3h0m42.1 .3h0m.9-.4h0m3.8 .7h0m1.4 .1h0m3-.6h0m.9 .4h0m.2-.7h0m16.3 .1h0m-153.1 1.2h0m1.1-.1h0m1.5 .6h0m1.2-.7h0m10 .7h0m27.5-.9h0m25.9 .3h0m3.2-.3h0m8.6 .4h0m.7 .1h0m.8-.4h0m1.4 .1h0m.4 .5h0m.7-.5h0m38.6 .7h0m3.9-.5h0m1.9 .5h0m.2-.2h0m.8 .3h0m3.2-.1h0m4.8-.4h0m.7 .4h0m9-.4h0m-141.7 .7h0m1.9 .4h0m.7 .1h0m42.2 .1h0m.1-.4h0m7.2-.3h0m6 .5h0m2.4-.5h0m.8-.1h0m6.2 .4h0m1.3 .3h0m2.6-.6h0m.6 .6h0m.4-.4h0m.2 .6h0m3.2-.4h0m50.6-.3h0m1.7 .1h0m.7-.2h0m2.5 0h0m.7 .5h0m14.6-.3h0m-150.9 1.4h0m.2-.2h0m5.2-.4h0m22.7 .5h0m6.8-.3h0m2.4-.2h0m.1 .5h0m.2-.1h0m.2-.1h0m4.1 .6h0m1.7-.7h0m4.6 .1h0m1.6 .2h0m2.9 .2h0m.2 .1h0m.4-.5h0m.7 .5h0m5.3-.1h0m1.4-.6h0m.5 .1h0m5.4 .6h0m1-.4h0m6.5-.4h0m.1 .1h0m4.5 .1h0m40.3-.1h0m1.9 .2h0m.2-.4h0m5.7 .9h0m11.3 0h0m2.6-.7h0m-140.3 1.3h0m4.9-.2h0m10.5-.3h0m5.1 .6h0m16.5 .2h0m1 .1h0m5.1-.6h0m1.5 .2h0m12 .4h0m.5-.1h0m.1-.8h0m9.2 .9h0m.5-.3h0m3.1-.3h0m1.4-.2h0m.3 .3h0m.8 0h0m.6 .5h0m2.1-.7h0m1.7 .5h0m42.4 0h0m.4 0h0m1.6-.2h0m1.9-.3h0m.5 .7h0m.8-.7h0m12.6 .6h0m-132 .3h0m13.3 .8h0m2.1-.7h0m9.6-.2h0m1.6 .9h0m2.2-.7h0m2.4 .3h0m5.6 .2h0m1.4-.5h0m6.9 .5h0m2.2-.5h0m3.1 .6h0m2-.6h0m3.7 .6h0m1.9-.1h0m.5-.1h0m1.5-.2h0m.2 .4h0m.3 .1h0m1.2-.2h0m1.9 0h0m.8 .2h0m0-.6h0m2.7-.2h0m47.3 0h0m0 .2h0m9.8-.1h0m1.8-.1h0m-131.4 1.1h0m6.3 .3h0m1.7-.2h0m7.1 .3h0m5.3-.1h0m9.9-.4h0m4.7 .4h0m4.2 .2h0m4-.6h0m.8 .8h0m11.8 .1h0m2.9-.6h0m14.7 .6h0m.7-1h0m.6 0h0m2.6 .8h0m.2 0h0m44.3-.8h0m.2 .6h0m.5 0h0m.9-.1h0m1.1 .4h0m.3-.7h0m1.1-.1h0m1.5 .9h0m.1-.3h0m.1-.5h0m.2 .1h0m2.4 .4h0m1 0h0m0-.2h0m5.5 0h0m0-.4h0m-118.7 1.4h0m11.3-.2h0m2.6 .2h0m.8-.1h0m2.6 .5h0m1.6-.6h0m.2 .6h0m1.7-.3h0m3.9-.4h0m1.6 .5h0m.2-.4h0m1.1 .2h0m2.3-.4h0m9.1 .3h0m4.3 .3h0m.4-.4h0m4 .2h0m.1 .4h0m.5-.5h0m3.2 .2h0m.4-.2h0m47.4 .6h0m3.8-.7h0m.9 .1h0m.7-.2h0m38.2 .4h0m-160.9 .4h0m.4 .6h0m5.4-.6h0m.7 .1h0m16.1 .3h0m.4 .4h0m2 .2h0m1.7-.9h0m.4 .6h0m1.1 .3h0m.8-.8h0m1.2 .8h0m18.2-.8h0m1.2 0h0m.8 .4h0m3.2 .3h0m2.3-.1h0m4.5-.5h0m0-.1h0m3.6 .1h0m2.7 .1h0m.6 0h0m1.6 .4h0m.4-.2h0m1.6-.2h0m1.4 .4h0m46 .1h0m.7 .1h0m3.3-.1h0m.3-.3h0m1.8 0h0m.8-.3h0m.6 .2h0m5.4-.3h0m3.6 .2h0m-135 .6h0m19.9 .1h0m7.3 0h0m3.1 0h0m6.5 .5h0m3.5-.4h0m9.6 0h0m3.9 .1h0m1.1 .5h0m1.6-.1h0m.8-.3h0m4.7-.1h0m.1 .4h0m6.6 .2h0m2.5-.8h0m.1 .7h0m2 0h0m.6-.5h0m44.2-.3h0m.5 .9h0m1.4 0h0m1.6-.6h0m1.3-.3h0m3.4 .8h0m2.3-.7h0m1.9 .5h0m.9-.5h0m2.1 .2h0m-128.2 1.4h0m1.3-.3h0m9.6-.1h0m9.8 .2h0m.5 0h0m6.4 .3h0m5.3 0h0m.1-.4h0m3.9 .6h0m7.9-.1h0m.5-.9h0m9 .2h0m2.3-.1h0m.4 .8h0m.9-.5h0m.5-.4h0m1 0h0m.3 .5h0m2.8 .5h0m.4-.4h0m4.4 .2h0m41 .2h0m15.4-.7h0m13-.2h0m-137.8 1.5h0m1.9 .2h0m.6-.6h0m3.6 .2h0m1.6 .1h0m16.3 0h0m10 .2h0m2 .1h0m3.8 0h0m1.5-.5h0m3 .4h0m.4 .3h0m.6-.5h0m7.1 .3h0m5.6-.6h0m2.2 .6h0m.2 0h0m.6 0h0m1.9 .1h0m.9-.1h0m.4 0h0m4.9-.6h0m37.6 .8h0m1.3-.4h0m5.1-.5h0m1.6-.1h0m.9 .9h0m.2 0h0m9.9-.4h0m-125.4 .8h0m5.4 .5h0m1.7-.3h0m0 .1h0m3.2 0h0m3.9 .3h0m7.1-.6h0m8.4-.1h0m8.6 0h0m7.8 .2h0m4.5-.4h0m.1 .2h0m2.1 .3h0m1.6-.1h0m3.1-.3h0m1.6 .4h0m2.1-.2h0m47.7 .5h0m.5-.4h0m.4 .5h0m.6-.9h0m1.2 .8h0m.1-.7h0m-110.9 1.6h0m2.8-.1h0m5.1 .3h0m2.9-.9h0m8.1 0h0m.5 .2h0m.9 .6h0m.4-.7h0m7.7 .5h0m2.3 .1h0m.5-.4h0m5.2 0h0m4.2 .7h0m1.1 0h0m3.3-.8h0m4.8 .3h0m1.3-.2h0m.4 .3h0m.7-.1h0m4.2-.1h0m1.8-.1h0m2.4 .5h0m42.5-.7h0m.5 .9h0m.1-.8h0m.7 .2h0m5.4-.2h0m1.5 .8h0m.3-.1h0m.7-.5h0m1.1 .6h0m.4-.6h0m7.4-.3h0m2.7 .8h0m-128.8 .3h0m0 .6h0m3.1-.7h0m2.5 .4h0m1.6 .4h0m.1-.5h0m.7-.2h0m1.2 .1h0m1.7-.1h0m7.1 .7h0m4.7-.6h0m.6-.2h0m17.4 .3h0m3.2-.2h0m1 .4h0m.7-.3h0m6.9 .4h0m1.8 .3h0m4.3-.1h0m.4-.6h0m.6 .4h0m.9 .3h0m48.9-.4h0m1.2 .2h0m.5-.1h0m3.1-.5h0m1.8 .4h0m3.3 .4h0m.6-.1h0m19.4-.7h0m-133.7 1.3h0m.7-.3h0m2.9 .5h0m1.3-.3h0m14.9 .5h0m2.4-.3h0m.3-.1h0m1 .4h0m10.4 0h0m5-.4h0m.1-.2h0m.1 .5h0m1.6-.2h0m6.5-.2h0m3.3 .4h0m1.4-.4h0m1.7-.1h0m.6 .1h0m1.9 .3h0m47.7 .1h0m5.8-.7h0m.2 .1h0m9.5 .2h0m-115.5 .8h0m6.7 .3h0m6.3 .1h0m8.3-.4h0m4.8 .8h0m5.9-.8h0m5.1 0h0m1.4 .1h0m.4 .5h0m.4-.3h0m1.1 .2h0m.2 0h0m0-.6h0m.8 .8h0m8-.6h0m5.1 .3h0m42.6-.5h0m4.2 .6h0m0-.4h0m.2 .7h0m.4-.4h0m1.5-.4h0m.3 .3h0m.8 .4h0m1.1-.8h0m4 .5h0m4.6-.4h0m.5 .1h0m17.7 .4h0m-140.7 1.1h0m.6-.8h0m1.9 .9h0m.4-.5h0m.1 .3h0m.3-.7h0m4.4 .3h0m4 .1h0m3.5 0h0m24 .1h0m7.1-.4h0m5.1 .4h0m.7 .5h0m.7-.2h0m1.8-.5h0m.4 .1h0m1.5-.4h0m45.9 .3h0m1 0h0m3.1 .5h0m.9-.7h0m.5 .5h0m.8 0h0m1.2-.5h0m1.3 .4h0m4.2 .4h0m.4-.7h0m1.9 0h0m4.9-.1h0m-123.5 1.1h0m.5 .3h0m.5 0h0m.2 .5h0m1.7 0h0m2.3-.3h0m14.2-.3h0m2.1 .2h0m1.9-.4h0m4.5 .8h0m.7-.4h0m2.7-.4h0m4.4 .5h0m1.5-.6h0m.5 .3h0m.5 .1h0m1.7 .2h0m.2 .2h0m2-.1h0m.3 .1h0m1-.8h0m.7 .2h0m.9 .6h0m.4-.7h0m3.7 .2h0m.9 .1h0m.8-.4h0m.3 .2h0m0 .7h0m1.2-.8h0m2.8-.1h0m1.4 .4h0m1.2-.1h0m7.9 .5h0m37.5-.5h0m6.5 .1h0m.2 .4h0m5.3-.9h0m1.6 .9h0m.2-.1h0m.9-.2h0m19.9 0h0m-133.7 .7h0m2.3 .3h0m1.2-.2h0m.2 .3h0m3.9 0h0m14.3 .2h0m3.6-.6h0m6.9-.1h0m13.2-.1h0m1.1 .7h0m2.3-.2h0m1.1-.2h0m.1 0h0m0-.4h0m49.8 .3h0m.2 0h0m2.3-.1h0m56.9 .5h0m-163.9 .7h0m.4-.3h0m2.6 .5h0m.9-.2h0m9.7 .6h0m3.5-1h0m9 .8h0m4.1 .2h0m1.6-.7h0m.6-.2h0m2.2 .3h0m3-.1h0m.3-.1h0m3 .2h0m3.1-.1h0m1.8 .6h0m1.1-.1h0m1.6-.2h0m3.8 .4h0m.8-.1h0m3.4-.8h0m9.2 .3h0m37.1-.1h0m.3 .1h0m2.5 .3h0m.8 .1h0m.7 .2h0m.5-.2h0m.2-.5h0m4.3-.2h0m1.2 .6h0m-109.8 .4h0m1.3-.1h0m.1 .3h0m1.6 .2h0m2.4 0h0m6.8 .4h0m.1-.8h0m2 .2h0m1.5 0h0m1.5-.2h0m1.6 .2h0m.9 .5h0m12.1-.4h0m.4-.3h0m.6 0h0m.5 .5h0m3.8 .2h0m6.4-.2h0m.3-.4h0m3 .3h0m.1 .4h0m.8-.8h0m.3 .7h0m5.1-.7h0m1.3 .5h0m45.5 .3h0m.1-.4h0m2.9 .3h0m2.8-.1h0m4.5-.3h0m4 .6h0m11.7-.9h0m-124.7 1.6h0m2.2-.6h0m.9 .8h0m2-.5h0m9.7 .3h0m.1-.6h0m3.8 .2h0m1.2-.1h0m4.6-.1h0m4.3 .2h0m1.1 .4h0m8.2-.1h0m.8-.4h0m.3 .4h0m6.6-.2h0m2.3 .3h0m4.3-.7h0m43.6 .2h0m2.9-.2h0m.7 .9h0m6.4-.7h0m5 .6h0m-115.5 .7h0m6.3-.2h0m.9 .1h0m2.3 .4h0m6-.2h0m3-.1h0m1.2 .3h0m1.5-.3h0m2.8 .5h0m1.5-.5h0m11-.2h0m3.6 .2h0m1.1-.4h0m.4 .4h0m2.6 .3h0m3.2-.3h0m.2-.3h0m.9 .6h0m3.7-.1h0m1.5-.6h0m45 .7h0m.5-.2h0m1.4-.4h0m0 .8h0m.4-.1h0m.7 0h0m8.8-.8h0m7.7 .4h0m-112.3 1.4h0m.5-.1h0m5.8-.2h0m4.7-.6h0m9.8 .7h0m2.5-.3h0m2.5 .4h0m3.1-.5h0m1.5 .1h0m3.9-.2h0m.3 .3h0m.3-.3h0m2.1 .7h0m1.6-.1h0m2.1-.1h0m2.5-.1h0m3.7-.4h0m4.2 0h0m40 0h0m.3 .3h0m2.9 .4h0m1.5-.2h0m.8-.4h0m1.6 .7h0m2.6-.2h0m14.5-.3h0m-120.6 .9h0m.2 .4h0m.2-.5h0m5.5 0h0m12 0h0m5.8-.2h0m.1 .1h0m3.3 .8h0m.8-.2h0m0-.3h0m.2 .4h0m6.4-.9h0m1.2 .1h0m1.2 0h0m.3 .8h0m.1-.2h0m2.2 .1h0m.8-.1h0m.7-.3h0m2.4-.2h0m1.3 .7h0m1 0h0m.7-.7h0m0 .4h0m1.7 .2h0m1.3-.4h0m1.9-.1h0m44.1 .5h0m4.5-.4h0m2.2 .1h0m.5-.3h0m18.8 0h0m-122.4 1.8h0m1-.7h0m5.5-.2h0m3.6 .6h0m.7-.1h0m.3 0h0m4.3 .1h0m2 0h0m3.2 .3h0m2.3-.7h0m3.3-.2h0m4 0h0m.4 .4h0m6.9 .4h0m.7-.6h0m6.4 .3h0m1.9-.4h0m3.4-.2h0m1.3 .5h0m.4 .3h0m0-.6h0m41 .2h0m4.7-.3h0m2 .2h0m17.1-.1h0m3.4 .3h0m22.1-.1h0m-141.7 .7h0m.2 .8h0m.2-.2h0m2.8 0h0m12.2-.5h0m6 .5h0m9.6-.7h0m3.9 .1h0m1.6 .1h0m7.6 .6h0m.1-.2h0m1.4 .3h0m1.9-.1h0m0-.7h0m1.2 .7h0m41.1 .1h0m8.1-.1h0m.6-.5h0m.4 .7h0m.9-.9h0m.9 .1h0m6.2-.2h0m-105.6 1.7h0m.5-.2h0m4 0h0m1-.2h0m.1 .5h0m1.7-.7h0m1.5-.1h0m.2 .4h0m3.1 .3h0m1.2-.3h0m3.4 .1h0m4.6 .2h0m3.7-.3h0m2.3 .1h0m7.6 .2h0m.2-.3h0m.3-.1h0m.5 .1h0m2.4 .4h0m1.1 .1h0m5.6-.1h0m2.5-.5h0m2.8-.2h0m41.7 .6h0m1-.2h0m6.2-.3h0m21.7 .2h0m-120.1 .8h0m4.6 .3h0m.4-.3h0m3.7 .4h0m.3-.1h0m7-.4h0m3.9 .1h0m3.6 .8h0m2.6-.8h0m5.7 .2h0m.2 .2h0m0-.2h0m5.5 .2h0m.6-.4h0m1.5 .3h0m3 .5h0m3-.3h0m41.5 .3h0m2.9-.8h0m.7 .5h0m1.6-.2h0m.1 .5h0m.7-.2h0m1.5 .2h0m.5-.2h0m6.8-.5h0m23.2-.2h0m-121.3 1.8h0m.9-.8h0m4 .3h0m8.1-.3h0m2.9 .2h0m1.9 0h0m4.8 .4h0m.8 .1h0m1.2 0h0m2 .2h0m2-.5h0m1.3 .4h0m.4-.1h0m.7 .2h0m.1-.4h0m.1-.5h0m1 .4h0m.3 .3h0m1.7-.1h0m.6-.5h0m1.4 .8h0m0-.2h0m1 .1h0m2.2-.8h0m1.3 .4h0m1.3-.4h0m42.7 .3h0m.3 .4h0m.6 .1h0m1.1-.1h0m6.2-.5h0m5.5 .6h0m-104.2 .2h0m.1 .2h0m5.7 .6h0m.9-.1h0m1.7-.2h0m.7-.5h0m.7 0h0m1.2 .6h0m7-.1h0m.1-.5h0m1.6 .3h0m1.7-.2h0m.5 0h0m1.1 .2h0m2.3 .1h0m3.7-.2h0m.5-.2h0m3.1 .7h0m1.5-.6h0m3.8 .3h0m.8 .1h0m3.4 .1h0m3-.5h0m43.6 0h0m2.2 .2h0m.4 .4h0m2.6-.3h0m.4 0h0m4.2-.3h0m3.3 .7h0m1.8-.6h0m6.6 .1h0m-104.3 .9h0m1.9-.2h0m3.3 .2h0m6.9-.3h0m1.5 .5h0m1.3 0h0m1.6-.2h0m11.1 .6h0m.3-.5h0m3.1-.2h0m.1 .7h0m1.2-.4h0m.5-.5h0m2.3 1h0m2.2-.8h0m42.9 .7h0m4.6-.8h0m.1 .3h0m1.8 .5h0m.2-.6h0m2.5-.1h0m2.9 .4h0m11.5-.2h0m52.7 .5h0m-157.8 .9h0m2.1-.1h0m1.9-.1h0m3.4-.3h0m1.8 .1h0m2.1-.2h0m.2 .2h0m.2 0h0m.4 .3h0m.9 0h0m.6-.6h0m2 .1h0m9.4 .3h0m6.6-.2h0m.3-.1h0m3.2 .5h0m.1-.7h0m.6 .7h0m.4-.7h0m43.7 .4h0m1.1-.1h0m4.7 .7h0m.2-.1h0m1.2-.5h0m1.4-.1h0m13.7-.1h0m-101.1 1.6h0m.5-.5h0m.1-.1h0m.1 .2h0m2.8 .2h0m3.3 .2h0m3.7 .1h0m1 .1h0m.5-.7h0m4.6 .6h0m.9-.3h0m5.5 .3h0m2.3-.3h0m2.2-.1h0m.3 .4h0m3.5-.2h0m.4-.5h0m.8 .2h0m.7 .2h0m2.7 .3h0m1.3-.9h0m40.5 0h0m.5 .8h0m1.2 0h0m1.4-.7h0m2.5 .8h0m3.8-.4h0m8.2 0h0m1.6 .2h0m12.6-.2h0m-110.2 .6h0m2.5 .3h0m.5-.4h0m6.2 .7h0m4-.2h0m3-.2h0m5.5 .5h0m1.6-.6h0m2.6 .4h0m5-.2h0m0 .5h0m.3-.4h0m0-.4h0m2.3 .4h0m1.2 0h0m42.8-.3h0m1.9 .7h0m.2-.6h0m2.3 .1h0m.1 .6h0m.3-.6h0m.7-.2h0m.5 .1h0m1.9 .3h0m.5 .1h0m6.5 0h0m3.9-.6h0m14.1 .4h0m-111 .7h0m2.2 .4h0m.5 0h0m2.7-.5h0m4.7 .1h0m1.3 0h0m.3 .7h0m5.3-.1h0m3.1 0h0m.4-.1h0m1.3 0h0m2.1-.6h0m6.1 .7h0m.9-.6h0m1.5 .3h0m46.1 .1h0m1-.3h0m8.4 .4h0m2.6-.7h0m13.8 .6h0m-101.1 .8h0m3.1 .1h0m7 .3h0m.2-.6h0m.6 .5h0m.2 .2h0m3.7-.3h0m.4-.1h0m1.2 .3h0m1.5-.7h0m1.7 .8h0m.4 0h0m2.6-.5h0m1.9-.3h0m0 .1h0m1.9 .5h0m.1-.1h0m48.2-.6h0m4.6 .9h0m2.4-.3h0m2.5 0h0m16.8 .2h0m-101.2 .4h0m3.4 0h0m.2 .4h0m.3 .3h0m1.5-.3h0m6.6-.5h0m4.6 .4h0m2.8-.4h0m5.3 .6h0m1.7-.2h0m46.4-.1h0m.4 .5h0m1.8-.4h0m1 .3h0m1.6 .2h0m.5-.1h0m30.6-.3h0m-108 1.2h0m5.2-.5h0m1.8 .1h0m2.3 .6h0m.7-.3h0m.8-.3h0m1.8-.2h0m.1 .6h0m1.4-.4h0m1.5-.2h0m.3 0h0m1.9 .1h0m1.7 .1h0m3.1-.1h0m0 .2h0m1.8 .2h0m1-.2h0m.8 .2h0m51.3 .2h0m.4 .1h0m1.6-.9h0m2.3 .2h0m3.4 0h0m1.2 .4h0m2.6-.1h0m-89.2 1.4h0m.9-.2h0m.2-.5h0m1.5 .6h0m8.6-.9h0m5.1 .2h0m1.4 .3h0m1.3-.1h0m2.8-.3h0m1.1 .5h0m1.3 .2h0m.6-.7h0m46.3 0h0m2.9 .3h0m2.5 .2h0m-79 1.1h0m1.1 0h0m1.4-.1h0m1.3 0h0m.2-.3h0m1.5-.2h0m1.8 0h0m.7 .4h0m.5 0h0m6.5 .3h0m.4-.1h0m.9-.1h0m.5 .3h0m3.2-.3h0m2.6 .1h0m.6-.7h0m.5 .9h0m1.8-.4h0m3.1 0h0m41.5 .5h0m2.4-.8h0m.2 .1h0m1.5-.1h0m2.7 .1h0m2.5 .6h0m9.1-.7h0m-89.5 1.5h0m2.1 0h0m1 .1h0m.3-.4h0m4.4 .4h0m7.7-.6h0m.4 .5h0m5.2-.2h0m3.7 .4h0m1.9-.2h0m46.9-.5h0m2.9 .1h0m1.3-.1h0m.9-.2h0m1.2 .5h0m-79.6 .6h0m1.3 0h0m.3 .7h0m4.7-.7h0m1.5 .8h0m1.5-.6h0m.1 0h0m.4 0h0m2.9 .5h0m3.3-.1h0m1.6-.5h0m.7 0h0m3.6 .6h0m46.7 0h0m1.1-.5h0m1.3 .6h0m3.9-.4h0m.1 .3h0m10.2-.1h0m-81.4 .9h0m.9 .3h0m4.4 0h0m.8-.2h0m.7-.1h0m.2-.1h0m.7-.3h0m1.3-.1h0m1.6 .4h0m5.3-.1h0m.7 .3h0m1-.1h0m1.6-.2h0m1.3 0h0m1.2 .1h0m.5 0h0m42.8 .3h0m.4-.2h0m1 .2h0m.4-.2h0m.7-.6h0m3.1 .5h0m12.7-.2h0m4.4 .5h0m17-.7h0m-105.8 1.9h0m1.2-.1h0m1.7-.4h0m4.5-.2h0m.2 .3h0m.4-.2h0m1.7 .5h0m4.9-.3h0m5.1 .1h0m.1-.7h0m1.7 .3h0m.5 .3h0m.3-.2h0m2.3-.2h0m38.4 .6h0m2.8-.6h0m2 0h0m6.1 .4h0m1.4-.1h0m-73.9 .5h0m.8 .4h0m2.3 .1h0m1.8 .4h0m1.5-.2h0m.2-.1h0m5.6-.6h0m.1 .4h0m.7-.1h0m1.4 .3h0m1 0h0m5.9-.6h0m.7 .1h0m34.8 0h0m3.5 .7h0m3.4-.8h0m1.7 .5h0m.4-.5h0m15.9 .8h0m-84.3 .3h0m1.9 .4h0m2.9-.2h0m4.1 .1h0m2-.3h0m1.1 .9h0m3.3-.3h0m.6-.4h0m2.8 .6h0m.6-.5h0m1.1 .2h0m37.9-.4h0m4.4 .2h0m1 .6h0m1.5-.8h0m2 .2h0m7-.1h0m14.7 0h0m2.7 .3h0m-91.3 1h0m5.5 .2h0m.4-.2h0m1 0h0m.1 0h0m7.2 .3h0m.2-.7h0m3.1 0h0m.7-.2h0m41.9 .1h0m.5 0h0m3.6 .5h0m.1-.1h0m3.1-.1h0m1.7 .2h0m1.9 0h0m.5-.1h0m-71 1.3h0m2 0h0m1.5-.6h0m.9 .4h0m1.1 .2h0m2.2-.4h0m1.3 .2h0m.1-.3h0m.4-.3h0m2.2 .7h0m.9-.2h0m3-.2h0m.2 0h0m.3 .3h0m2.6 0h0m36.1 .3h0m5.8-.3h0m1.3-.1h0m.8 .1h0m.6-.3h0m.4 .3h0m1 0h0m1.1 .3h0m1.5-.2h0m3.8-.6h0m2.4 .4h0m2.8 .4h0m-74.8 .6h0m.1-.4h0m3.7 .5h0m2.9-.5h0m2.4-.1h0m.5 .4h0m1.7 .4h0m1-.1h0m2.2-.3h0m2.2 .4h0m35.3 .1h0m3.7-.1h0m2.2-.5h0m.5 .5h0m1.3-.6h0m4.2-.1h0m5.9 0h0m-69 1.9h0m.2-.5h0m6-.1h0m2.2-.3h0m2 .1h0m1.1 .5h0m1 .3h0m40.1-.4h0m4.4-.3h0m3.1-.2h0m7.1 .3h0m1.1-.1h0m3.8 .2h0m-76 .7h0m2.4 .4h0m.3-.5h0m.4 0h0m.8 .5h0m.9 .1h0m2.6 0h0m1.7-.3h0m.2 .3h0m2.1-.2h0m1.1-.3h0m.8 .3h0m.1-.1h0m.7 .5h0m1.3-.5h0m2.1 .4h0m35.9 .2h0m3.7-1h0m1.3 .1h0m.9 .6h0m3.7 0h0m2.3 .1h0m4.8 .2h0m.6-.4h0m1.2 .3h0m3.2-.8h0m4.9 .2h0m56.4 .2h0m-134.5 .6h0m1.7 .3h0m1.5-.1h0m.3 .2h0m.4-.2h0m1.8 .6h0m4.4-.5h0m.7-.3h0m.2 .5h0m2.8-.3h0m.7 0h0m.6 0h0m38.2-.2h0m.7 .5h0m1.1-.3h0m.1 0h0m1.6 .1h0m.9 .2h0m.3-.5h0m.4 .1h0m1.6 .7h0m3.7-.4h0m.9 .5h0m.9-.3h0m.8-.1h0m0 0h0m4.5-.1h0m3.1-.5h0m16.5 .7h0m-87.4 .5h0m1.7 .2h0m1.7 .1h0m1.5 .2h0m1.3 .1h0m.5 .1h0m5.4-.8h0m35.2 .3h0m.7-.4h0m.1 .1h0m4.7 .6h0m1.6-.3h0m-49.1 .9h0m2.6 0h0m.4 .5h0m.3-.6h0m38.3 .1h0m.5 .4h0m2.1 0h0m1-.1h0m.3-.5h0m.4 .4h0m4.7-.4h0m17 .3h0m-74.6 .7h0m.6 .2h0m1.1 0h0m.7-.2h0m3.7 .5h0m2.1-.4h0m3.1 .4h0m35.6 .2h0m1.8-.3h0m.2 .3h0m31.4 .1h0m-79.7 .3h0m.9 .2h0m1.7 .4h0m.2-.2h0m1.3-.4h0m2.1 .5h0m35.2 .2h0m1.9-.5h0m3.5-.4h0m.6 .8h0m2.8-.7h0m1.6 .1h0m3.1 .2h0m4.3 .1h0m-58.5 1.3h0m.7 0h0m.1-.4h0m1.8-.1h0m.6-.3h0m.5 0h0m2.7 .3h0m36.1 .7h0m3.7-.4h0m2.7-.3h0m.4 .5h0m.7 0h0m17.8-.5h0m.1 .2h0m-68.3 .7h0m.5 .3h0m1.3 .4h0m2.5-.5h0m37.9 .3h0m1.1-.3h0m0 0h0m2.1-.2h0m3.3 .3h0m24-.5h0m-74.7 1.2h0m.2-.1h0m2.8 .8h0m1.4-.3h0m1.1 .4h0m1.3-.3h0m44.3-.3h0m3-.3h0m16.3 .2h0m8.5-.1h0m-77.8 1.2h0m.4 .5h0m.5-.5h0m4.5 .1h0m34.5-.4h0m1.9 .1h0m.4 .6h0m1.9-.7h0m3.5 .3h0m12-.1h0m4 .4h0m18.7-.6h0m-82.7 1.1h0m2.4 .5h0m.7 .2h0m1.7-.4h0m35.5-.4h0m2.1 .2h0m1.1-.2h0m.3-.1h0m.4 .3h0m.3 0h0m.1 0h0m-44.3 1.6h0m3.2-.5h0m31.7 .2h0m1.1 .4h0m1.9-.4h0m4.4 .4h0m4.6-.8h0m1.9 .5h0m8.3-.7h0m-58.2 1.7h0m1-.5h0m1.6 .5h0m32.3 0h0m1.2-.6h0m4.1 .2h0m0 0h0m0 .1h0m4.7-.1h0m3 .5h0m1-.3h0m4.2 .2h0m.7-.3h0m-54.6 1.3h0m2.9 0h0m.6-.4h0m31.5 .6h0m2.5-.7h0m1-.2h0m1.8 .7h0m1.2-.4h0m14-.3h0m125.4 .1h0m-180.6 1.2h0m.5-.2h0m.5 .2h0m32.8 .3h0m.4 .3h0m2.2 0h0m.9-.3h0m6.1 0h0m-42.2 1.1h0m30.1 .3h0m1-1h0m1.6 0h0m1.5 .7h0m1.4 .1h0m2-.4h0m16.7 .5h0m5.7-.8h0m50.1 0h0m22.8 .1h0m-101.8 1.6h0m3 0h0m.2-.8h0m.8 .7h0m4.7-.1h0m.4-.4h0m116.1 .2h0m-129.5 1.6h0m.4-.3h0m2.7-.6h0m2.1-.1h0m.4 .1h0m2.5 .3h0m5.3-.3h0m10 .4h0m36.6-.2h0m12.6-.1h0m5.9 .1h0m38.5 .6h0m9.8-.8h0m-128.4 1.6h0m.9-.4h0m.6 .1h0m1.4-.2h0m.8 .2h0m.3-.2h0m2.2-.2h0m3.3 .5h0m5.2 .2h0m1.6-.4h0m70.8 .4h0m1.2-.5h0m55.3 .3h0m14.6-.1h0m-160.1 1.5h0m.3-.1h0m4.4-.2h0m.1-.2h0m2.4 .4h0m4.4-.3h0m16.3 .4h0m.1-.1h0m34-.4h0m8-.1h0m28.7 .3h0m5.8-.1h0m-101.4 1.3h0m13.3-.2h0m.5-.3h0m.5 .5h0m10.3-.4h0m77.8 .4h0m-105.5 .5h0m3.5 .4h0m8.3-.4h0m11.9 .2h0m9.2 .1h0m21.8 .1h0m5.2-.3h0m.3 .3h0m14.2-.2h0m11-.5h0m24 1h0m16.1-.1h0m-126.7 .9h0m1.2-.1h0m.2-.4h0m2.6 .6h0m12.2-.9h0m17.5 .4h0m14.1 .3h0m6.6-.5h0m9.1 .7h0m6.6-.3h0m10.4 .2h0m1.5-.5h0m32.6 .5h0m15.6-.4h0m-126.9 .9h0m5-.3h0m1.2 .5h0m4 .4h0m13.2-.8h0m23.4 .7h0m19.9-.5h0m3.8 .2h0m4.6 0h0m4.5-.2h0m16.7 .1h0m17.2 .1h0m19.1 0h0m-143.4 1.3h0m1.2-.5h0m.4 .4h0m.1 .2h0m3.1-.8h0m3.3 0h0m.7 0h0m1.6 .2h0m13.7 .2h0m15.6 .5h0m20.7 0h0m7.1-.8h0m58.7 .6h0m31.1-.3h0m-158.1 1.3h0m5.4-.1h0m2.2-.2h0m6 .3h0m10.8 0h0m8.4 .1h0m1.8-.7h0m3.5 .3h0m9.8-.2h0m10.9 .1h0m25.5 .1h0m4.2 .2h0m5.4 .1h0m32.1-.4h0m11.1-.3h0m1.1 .8h0m13.7-.8h0m-151.7 1.3h0m1.3 .5h0m1-.5h0m8.4-.2h0m2.2 .7h0m3.8-.6h0m1.6 .1h0m10.1 .1h0m21 .2h0m17.4 .3h0m2.8-.5h0m13.3-.5h0m17.8 .7h0m5.2 .3h0m2.7-.8h0m7 .2h0m9.9-.1h0m13.1 .6h0m13.6 0h0m-154.9 .7h0m4.1 .3h0m0-.4h0m3.6-.1h0m3.3-.1h0m11.3-.1h0m11 .4h0m12.2-.5h0m12.1 .7h0m10.9-.1h0m6.9 0h0m38.1-.5h0m7.9 .4h0m31.1-.6h0m2 .3h0m19.6 .6h0m-174.8 1h0m4-.7h0m2.4 .3h0m8 .2h0m4.8-.6h0m1.3 .5h0m3.8 .3h0m17.6 .1h0m.2-.5h0m.4-.3h0m12.3 .4h0m9.7-.3h0m5.6 .1h0m10.2 0h0m4.2 .4h0m3.8-.8h0m-91.5 1.2h0m2.9 .2h0m5.9 0h0m1.3 .5h0m.2-.6h0m20.1 .1h0m4.9-.4h0m8.7 .7h0m13.8 .1h0m9-.1h0m4.7-.1h0m6.3-.1h0m.1-.4h0m7.1 .6h0m11.8-.4h0m40.7 .5h0m.2 0h0m.1 .2h0m15.6 0h0m-154.7 1h0m.9-.1h0m.5-.6h0m4-.2h0m7.9 .8h0m7-.6h0m14 .5h0m.7-.3h0m37.2 .1h0m49.5-.3h0m15.8 .6h0m6.8-.2h0m8.4-.2h0m-154.4 .7h0m6 .1h0m1.8-.3h0m20.6 .7h0m.7-.6h0m5.8-.1h0m.7 .6h0m.3-.1h0m1.6 .2h0m.9 .1h0m1.8 .2h0m7.5-.5h0m2-.3h0m8.5 .8h0m2.9-.4h0m1.7-.1h0m5.9 .1h0m15.4-.3h0m9.4-.2h0m.2 0h0m10.8 .4h0m4.2 0h0m8.9 0h0m15.8-.5h0m2.2 0h0m3.1 .9h0m6.6-.8h0m12.4 .7h0m-161.9 1h0m5.2-.2h0m.2 .4h0m.6 0h0m2.5-.7h0m12.1-.1h0m7.1 .3h0m2.9 .2h0m24.3-.6h0m3.9 .5h0m.4-.2h0m16.9 .1h0m2.2 .3h0m7.6-.1h0m.5-.5h0m2.4 .6h0m8.6-.2h0m6.9 .1h0m10 .1h0m5.4-.6h0m18.3 0h0m27.3 .4h0m-163.4 1.1h0m2.5-.2h0m.4 .1h0m12.5-.4h0m5 .1h0" stroke="#c00a4e" stroke-width="1.4" stroke-linecap="square" fill="none"/><path d="M936.8 124.0l-2.6-1.4l-4.4 1l-4.6 2.4l-1 2l-1.4 0l-1 1l-6.6 2.6l-2 2.4l-3 1l-5 3l-2 2l-4.4 2l-2 4l-2.6 2.6l-2.4-.6l-7 5l-.6 3.6l-5 .4l-2 2l-1.4 .6l2 1l-.6 1l-1.4 0l-1-1.6l-1 3l-1 .6l-1-1l-4.6 4.4l-2 1l-.4 2l-1.6 1.6l-2.4-.6l-18.6 14l-2.4 1l-2 3l-2 0l-3 2l-3.6 3.6l2.6 2l-1 1l-1 0l-2-2l-5.6 4l.6 2.4l-1.6 1.6l-1.4-1l-1 .4l-2.6 3l-2.4 1l-8.6 7l-1.4 0l-6.6 6l-1 3.6l-3 .4l-1.4 1.6l-.6 2l-2.4 .4l-1 3l-2.6 1l.6 1l-1.6 .6l-12 11.4l-1.4-.4l-2-2l1-1l-1-1l.4-7l-2.4-9l-1 3.4l0 8l-2 16.6l-1 1l-.6 3.4l-1 1l0 4.6l3 2l3 0l1-1l2 0l4-2l2-2l2 0l1-2l2-1l1 .4l6-5.4l4-.6l3-3l1 0l0-1l2-2l2.6 0l2-1l2-2l1.4-.4l0-1l1.6-1.6l1.4 0l2.6-2l2-.4l.4-2l1.6-1.6l2.4 0l2.6-1.4l1-2.6l1 0l3-3l1.4 .6l1.6-1.6l-.6-2l1-1l1 0l1 1.6l1.6-2l1.4-1l1.6 0l2.4-3l1 0l3.6-3l5-5.6l4-1.4l0-1l1-.6l1-2l1 0l3-3l5-2l2-2l0-1l2-1.4l1-2.6l2.4 0l1-2.4l1.6-1.6l4.4-1.4l2.6-3l1.4-.6l-1-1.4l2.6-2.6l4.4-1l2.6-2.4l2.4-1l1.6-1.6l-.6-.4l.6-1.6l3-.4l1-2l2-.6l2-2.4l4-2.6l-.6-.4l.6-1.6l2.4-.4l.6-1.6l3-2l0-1.4l1-1.6l3.4-1l1.6-2l.4-2.4l6-4l1.6-2l-.6-2l1.6-1.6l3 0l3.4-3.4l4-8z" fill="#d31651"/><path d="M927.2 133.1l-5 0l-3.4 1l-18 10l-2.6 2.6l-26.4 19l-5 4.4l-24 17.6l-9.6 7.4l-1.4 2.6l-2 .4l-4.6 3l-9.4 8.6l-9 6l-25.6 21.4l-9 8.6l-1.4-.6l-5.6 4.6l-2.4 4.4l0 2.6l-1 1l0 5.4l2 1l6-.4l4-2l2-2l2.4-.6l2.6-2.4l1.4 .4l0-1l2-1l4-4l3 0l6.6-6l4-1.4l23.4-18l4-4l1 0l31-24.6l19.6-16.4l1.4-2l7-5l13.6-11.6l18.4-19l5.6-7.4z" fill="#df2151"/><path d="M917.8 140.1l-2-.4l-6 2l-10.6 6l-29 21l-38.4 30l-6 4l-11 9.4l-12 8.6l-25.6 21.4l-8.4 6l-4 4l-3 6l0 4.6l2.4 1.4l3 0l1-1l2 0l4-2l2-2l2 0l1-2l2-1l1 .6l6-5.6l3-.4l5.6-5l3-1.6l57-45l44-37.4l13.4-14l3-4.6z" fill="#ea3050"/><path d="M911.2 145.1l-5 .6l-4 2l-31 21.4l-44.4 34l-8.6 7.6l-14.4 10.4l-25.6 21l-9.4 7l-3.6 3.6l-3 5l0 5l2 1.4l2.6 0l1-1l2.4 0l4-2l2-2l1.6 0l3-3l1 .6l6-5.6l2.4-.4l59.6-47l35.4-30l20-18.6l5-6.4z" fill="#f3454a"/><path d="M904.8 150.1l-2 0l-6 3l-24.6 16.6l-78 60l-25 20l-4.4 4.4l-2.6 4.6l.6 4l1.4 1l3 0l6.6-2.6l2-2l1.4 0l1.6-2l3-1l6.4-5.4l1 0l78.6-63l34-31l3-5z" fill="#f86341"/><path d="M895.2 158.6l-2-.6l-3.4 1.6l-6 4.4l-11.6 7l-80 61l-22 17.6l-5.4 5.4l-2 4l.4 3l2 1.6l6.6-1.6l4-3l2-.4l1-1.6l10.4-7l77.6-63l12.4-12l4-3l10.6-11z" fill="#f97f4c"/><path d="M884.2 167.1l-.4-.4l-3 1l-7 4l-21 15l-8.6 7l-14 10l-10 8.4l-40.4 30.6l-13.6 11.4l-3 5.6l.6 2l2 1.4l4-.4l6.4-4l1 0l1-1.6l6.6-4l80.4-66l18-17.4z" fill="#fb9d58"/><path d="M874.2 175.1l-1-.4l-3 1.4l-15.4 10.6l-78 59l-11 10l-1.6 2.4l0 3l2 1.6l4-.6l7-4l7.6-5.4l82-68.6l6.4-7z" fill="#fcba6c"/><path d="M863.2 183.6l-3.4 2.4l-4.6 2l-12 9l-11.4 7.6l-10 8.4l-7 4.6l-36 27l-11.6 10l-2.4 4l0 2l2 1.4l3.4-.4l4-2l8.6-6l46-39l8.4-6.6l13-11.4z" fill="#fed587"/><path d="M843.8 199.1l-13 7.6l-9.6 8l-15 10l-27.4 20.4l-12 11l-1.6 3l.6 1.6l1.4 1l3-.6l4-2l8.6-6l35.4-30l9-8.4l8.6-6.6z" fill="#fff0aa"/><path d="M826.2 213.1l-11.4 6.6l-36 26l-11.6 10.4l-1 2l0 2l1.6 1l2.4-.4l4-2l8.6-6l33-28.6zM833.8 207.1l-1.6 .6l-3 3z" fill="#f8f8b0"/><path d="M817.2 220.1l-13.4 8l-25 18l-10.6 9.6l-1.4 3l.4 1.4l4.6-.4l10.4-7l16.6-14l16.4-15.6z" fill="#d0e98b"/><path d="M808.2 227.1l-4.4 2l-27 19l-7 6.6l-2 3l0 1.4l.4 .6l3.6-.6l10.4-7l14.6-12.4l11.4-11.6z" fill="#9fd8a0"/><path d="M802.2 232.1l-4 1.6l-21.4 15l-5.6 5l-2 2.4l-.4 2.6l4-.6l9-6l12.4-11l7-7z" fill="#66cca0"/><path d="M797.8 235.6l-7.6 4l-11 7.4l-9 8.6l-.4 2l.4 .4l2-.4l9.6-6l8.4-7.6l7-7z" fill="#1fc59c"/><path d="M792.2 240.1l-4 1.6l-9 6l-7 6.4l-1 2.6l2 0l8.6-5.6l9.4-9z" fill="#189bae"/><path d="M788.2 243.1l-3.4 1.6l-6 4l-5.6 5.4l-.4 1.6l4-1.6l5.4-4l5-5z" fill="#2378b2"/><path d="M784.2 246.6l-4.4 2l-3.6 3l-1 2l5.6-3z" fill="#445ca8"/></g>
<g clip-path="url(#cpb)" fill="none" stroke-linecap="butt">
<path d="M762.9 261.4L1019.6 53.7" stroke="#9a9a9a" stroke-width="1.4"/>
<path d="M762.9 259.7L1019.6 62.7" stroke="#111" stroke-width="1.7"/>
</g>
<rect x="750.5" y="43.3" width="282.3" height="228.7" fill="none" stroke="#a4a4a4" stroke-width="1.4"/>
<path d="M762.9 272.0v3M750.5 261.4h-3M814.5 272.0v3M750.5 219.7h-3M866.1 272.0v3M750.5 177.9h-3M917.7 272.0v3M750.5 136.2h-3M969.3 272.0v3M750.5 94.4h-3M1020.9 272.0v3M750.5 52.7h-3" stroke="#555" stroke-width="0.9"/>
<g font-family="Liberation Serif, serif" font-size="14.3" fill="#1a1a1a">
<text x="762.9" y="287.8" text-anchor="middle">0.0</text>
<text x="745.5" y="266.6" text-anchor="end">0.0</text>
<text x="814.5" y="287.8" text-anchor="middle">0.2</text>
<text x="745.5" y="224.9" text-anchor="end">0.2</text>
<text x="866.1" y="287.8" text-anchor="middle">0.4</text>
<text x="745.5" y="183.1" text-anchor="end">0.4</text>
<text x="917.7" y="287.8" text-anchor="middle">0.6</text>
<text x="745.5" y="141.4" text-anchor="end">0.6</text>
<text x="969.3" y="287.8" text-anchor="middle">0.8</text>
<text x="745.5" y="99.6" text-anchor="end">0.8</text>
<text x="1020.9" y="287.8" text-anchor="middle">1.0</text>
<text x="745.5" y="57.9" text-anchor="end">1.0</text>
</g>
<text x="891.6" y="309.5" font-family="Liberation Serif, serif" font-size="22.4" text-anchor="middle" fill="#000">Ground Truth</text>
<text transform="translate(719.8 157.6) rotate(-90)" font-family="Liberation Serif, serif" font-size="22.7" text-anchor="middle" fill="#000">FSDAF</text>
<text x="697.9" y="26.2" font-family="Liberation Serif, serif" font-size="27" fill="#000">(b)</text>
<g font-family="Liberation Sans, sans-serif" fill="#000" stroke="#000" stroke-width="0.12">
<text transform="translate(766.41 69.0) scale(0.937 1)" font-size="19" font-style="italic">y</text>
<text x="801.1" y="69.0" font-size="19" textLength="53.9" lengthAdjust="spacingAndGlyphs">0.949</text>
<text transform="translate(856.41 69.0) scale(0.934 1)" font-size="19" font-style="italic">x</text>
<text x="891.5" y="69.0" font-size="19" textLength="53.4" lengthAdjust="spacingAndGlyphs">0.008</text>
<text transform="translate(765.32 99.6) scale(0.821 1)" font-size="19" font-style="italic">R</text>
<text transform="translate(780.40 92.6) scale(0.948 1)" font-size="12.5">2</text>
<text x="813.3" y="99.6" font-size="19" textLength="65.3" lengthAdjust="spacingAndGlyphs">0.8633</text>
</g>
<path d="M782.4 61.8h12.7M782.4 65.3h12.7M872.8 63.2h12.2M878.9 57.1v12.5M794.2 92.8h12.7M794.2 96.6h12.7" stroke="#000" stroke-width="1.45" fill="none"/>
<clipPath id="cpc"><rect x="1095.4" y="43.3" width="282.3" height="228.7"/></clipPath>
<g clip-path="url(#cpc)"><path d="M1138.2 209.6l.4 2l2.6-1l-.6-1.6zM1173.7 188.1l-1.4 1l.4 1l1.6-1zM1238.7 178.6l-.4 1l.4 1l1 0zM1244.2 140.6l-1 2l1.4-.6zM1248.2 135.6l1 1.4l1 0l-.6-1.4zM1287.2 121.5l-1 0l-1 1.4l-2-.4l-1 1l-.6 2.4l-1.4 0l-1.6 1l-2-1l-2 0l.6 2.6l-1 1l-1.6 0l-1 1l.6 1l-.6 .4l-1.4 0l-2.6 1.6l-.4-3l-1 0l-.6 2l-3.4 2.4l-1.6-1l-2 .6l1.6 3l-1.6 1l-2.4 0l-.6 2.4l-1.4 1.6l-2.6 1l-2-.6l.6 1l-3.6 2.6l-3 0l-1.4-1.6l0 2l-2.6 1.6l-1-.6l-.4 .6l.4 1.4l-3 2.6l-3-.6l-2.4 4.6l-1.6 1l-1.4 0l.4 1.4l-1.4 2l-1-2.4l-3.6 .4l-3.4 3.6l-2.6 .4l-.4 2.6l-1.6-1l-2.4 1l0 2l-3.6 2.4l-1 2l-1-.4l-1-2l-1.4 .4l-3.6 3.6l-4 2.4l-2.4 0l-2-1l-.6 3l-.4 .6l-3-.6l-.6 1.6l.6 .4l4.4-.4l1 1l0 1.4l-1 1l-2.4-1l-1.6 1l-2-.4l-2 .4l-.4-1l-1 0l-1 5l-5 2.6l-1.6 2.4l-1.4 1l-1.6 0l-1-1.4l-1.4 0l-2.6 2.4l0 1l-2.4 3l-2-.4l1-1.6l-4 1.6l0 1.4l1.4 1.6l-1 1l-2.4 0l-1.6 1.4l-1.4-1l-1.6 2l-3.4-.4l-1.6-1l1 1l-1 2.4l-5 4l-1.4 3l-2 0l-2.6 2l-.4 2.6l-2.6 0l-1.4-3l-1.6 .4l-1 3l.6 .6l2-1l1 1l-.6 2l-5.4 .4l.4 1.6l-1 1l-4-2l-.4 1l1 1l-.6 2.4l1.6-1l1.4 0l1 1l-1 1.6l-2.4 1.4l-2-1l-2.6 1.6l-1-1l0-1l2-2l-1.4 .4l-1-1l-.6-3.4l5-1.6l1-1l0-2l1.6-1.4l0-1l-1.6-.6l-1 1l-2.4-.4l-1.6-5l1.6-1.6l1.4 0l1-2l-2-.4l0 1l-1.4 .4l-2-1.4l0-1l1.4-1.6l-1.4-1l-.6-2.4l-1.4 .4l-1.6-1l.6-3.4l-1-1l-.6-4l1.6-2l-1.6-2l-1 0l-1 1l.6 4l-.6 3.4l1 2.6l-1 1l0 6.4l-.4 .6l.4 9l-1 2l.6 2l0 6l-.6 .4l.6 20l-1 1.6l-1 4.4l.4 1l-.4 10l3 1.6l6-2l3.4-3l2.6-1l.4-1l2.6-.6l1.4-2l2-1l1.6 .6l1.4-1l1.6 .4l-.6-1l.6-1l7.4-6l3.6-1l2-2l3.4 .6l.6-2.6l3-3.4l2 1.4l1.4 0l1.6-3l2-1l3 .6l3-3.6l.4-1.4l6.6-.6l1-3.4l2.4-2l-.4-1.6l.4-1l4 .6l2.6-5l3 0l3.4-2.6l3.6 .6l1-3.6l1.4-1.4l1 .4l2-1.4l-1-1.6l1.6-2l1.4 1l1.6-2l5.4-3l1-2l5 0l.6-.4l-2-2l.4-.6l2.6 .6l1.4-2l6.6-1.6l1-1l-1-2l2.4-1l.6-2l2.4-3l2 1l0 2l.6 0l.4-1.4l-1-2.6l2.6-.4l2.4-2.6l-1-2l2.6-.4l0-2l1-1l3.4 1l.6-3.6l2.4 0l1-1l2.6 1l1.4-2.4l1.6 0l.4-1l-2-1.6l0-2l1-1l2 .6l1.6-1.6l.4 .6l3.6-.6l.4-2l1.6-1l1 0l1.4 1.6l1-1l-1.4-2l0-1.6l1-1l2.4 0l.6-2l4-4l1.4 0l-.4-2.4l1-.6l-.6-1.4l2.6-1.6l5 .6l-.6-2l1.6-1.6l-.6-2l.6-1.4l2.4-1.6l1-1.4l1.6 .4l1.4-1l0-1l-2-2l0-1.4l2.6-.6l-1-1.4l.4-2l-1.4-2l1.4-.6zM1120.7 229.6l.6-.6l1 .6l-.6 .4zM1217.7 191.1l1-1l1 .6l-1 1zM1224.2 186.1l.4 2l-1.4 .6l-.6-1.6zM1196.7 177.6l.6-.6l.4 1l-.4 .6zM1222.2 159.6l1 0l1.4 2.4l-1.4 2.6l-2-4zM1265.2 135.1l.4-1.4l1.6 .4l-1 1.6z" fill="#c00a4e" fill-rule="evenodd"/><path d="M1266.2 54.3h0m64.2 14.2h0m21.8-1h0m7.7 1.2h0m-.5 1.2h0m5.3 2.2h0m.9 1.2h0m-26.4 .7h0m2.3 .1h0m-5 2.4h0m-20.4 1.5h0m37.5 1.1h0m2 .2h0m-16.2 .9h0m3.9-.6h0m3.7 .6h0m15.5 .8h0m-88 1h0m79.7-.2h0m-80.6 1.5h0m22.3-.3h0m47.4 1.4h0m14.4-.2h0m.7-.7h0m-12 2.7h0m-50.8 2h0m36 0h0m13.7-.4h0m10.7 .7h0m-26.3 .6h0m16.4-.4h0m-32.5 1.8h0m-12 .5h0m14.6-.5h0m28.7 .9h0m-37.1 .6h0m26.9-.2h0m-7.7 1.5h0m6.5 .1h0m12.3-.8h0m-39.7 1.4h0m23.4 .3h0m35.4-.5h0m-61.9 1.1h0m63.1 .4h0m-63.7 .3h0m17.2 .5h0m1.5 .2h0m18.3-.1h0m8.4-.1h0m-99.3 1h0m46.7-.4h0m27.2 .4h0m-19.5 .9h0m19.8-.4h0m.8 .9h0m-2 .5h0m7.7-.1h0m4.9 .3h0m-57.9 .7h0m27.3 .1h0m6.8-.4h0m3.6 .5h0m11.7 0h0m14.5 0h0m-59.4 .9h0m47.5-.4h0m-26.1 2.5h0m3.8 .2h0m1.8-.8h0m2.1 .9h0m3.2-.6h0m4.2 .6h0m39.8-.4h0m-59.4 1.2h0m3.1-.7h0m3.9 .5h0m23.1-.1h0m6.3 .1h0m2.9 .4h0m-73.3 .8h0m20.7-.1h0m2.6 .4h0m13.4-.3h0m4.5-.1h0m2.6 .1h0m10.6-.5h0m-34.7 1.4h0m8.9-.6h0m8.3 .6h0m.8-.5h0m2.3 0h0m3.8 .4h0m.9-.3h0m11.4 .4h0m-27.5 .5h0m2.3-.1h0m.5 .9h0m.3 .1h0m1.8-.6h0m.2 .6h0m8.8-.4h0m.3-.3h0m4.6 .6h0m18-.4h0m-49.9 1.5h0m12.2-.3h0m2.4-.2h0m1.2-.4h0m3.8 .9h0m2.5-.3h0m.9-.5h0m0 .5h0m1.4-.2h0m4 .5h0m25.9-.9h0m2.2 .6h0m1.7 0h0m23.4 0h0m-123.1 1.3h0m40.1-.4h0m3.7-.1h0m3.5-.2h0m4.2 .4h0m3.1-.3h0m4.3 .4h0m4.7-.8h0m.9 .6h0m4.9 .3h0m2-.3h0m.9 .3h0m10.5-.2h0m8.1 .2h0m-42.2 .5h0m5.7-.4h0m3.5 .8h0m12.1 0h0m3.3 .1h0m25.2-.9h0m-69.2 1.8h0m16.4-.5h0m1.4 .4h0m.1-.4h0m.8 .2h0m9.1 .1h0m7.9-.4h0m1.6 .3h0m4.6-.2h0m4.2 .3h0m-24.2 .5h0m8.6 .3h0m4.7 .3h0m2.6-.4h0m4.9 .6h0m.3-.8h0m-44.7 1.2h0m21.1 .5h0m1.7 0h0m2.2-.7h0m.7 .6h0m1.7-.3h0m3.3 .4h0m.6-.4h0m1.7 .5h0m.9-.3h0m2.1-.2h0m.6 .1h0m1.3 .4h0m6.7-.6h0m1.3-.3h0m-49.2 1.8h0m8.8-.1h0m1.2-.6h0m3.1 .5h0m3.7-.4h0m8.9 .8h0m2.8-.4h0m2.9-.1h0m.2 .4h0m6-.3h0m1.7 .4h0m2.9-.8h0m.6 .3h0m.6-.4h0m2.2 .4h0m-62.8 1.2h0m10.9-.1h0m10.2-.1h0m8.6-.2h0m5.7 .2h0m.7-.2h0m4.3 .5h0m6.6 .1h0m3.8-.8h0m.8 .3h0m.3 .4h0m.4 0h0m3.3 0h0m2 0h0m.9 0h0m2.1-.8h0m1 .3h0m2.5-.2h0m27.9 .4h0m-107.1 .9h0m25.8-.1h0m4.2 .5h0m7.9 0h0m9.2-.6h0m9 .6h0m7.1-.3h0m3.3-.4h0m3.9 .2h0m.9 .2h0m2.3-.1h0m3.1 .5h0m.8-.3h0m1.9-.5h0m5.7 .1h0m2.9 0h0m3.4 .6h0m-43.7 .9h0m.8-.4h0m3.7 .1h0m2.9-.2h0m1.9 .5h0m8.4 .1h0m1.3 .1h0m9-.6h0m1.7 .1h0m0 0h0m9.9 .4h0m-67.3 1.1h0m10.5-.3h0m19.3 .3h0m2.8-.4h0m.4 .1h0m1.4-.3h0m4.1 .6h0m.3-.4h0m8.5 .3h0m.2-.5h0m8.3-.1h0m1.4 .3h0m3.6 .2h0m.1-.3h0m-152.8 1.5h0m76.9-.1h0m13.3 0h0m21.1-.2h0m5.8-.4h0m2.7 .2h0m5.8 .5h0m.6 .1h0m1-.4h0m4.5 .2h0m4.2-.2h0m.1 .2h0m2.2-.5h0m2.9 .5h0m1.3-.3h0m1 .4h0m.4-.3h0m.2-.1h0m1.4 .3h0m1.6-.1h0m-44.2 .9h0m11.4 .2h0m1.8-.4h0m8.3-.1h0m6 0h0m7-.2h0m1 .6h0m.3 .2h0m7.7-.1h0m.8-.7h0m1.6 .1h0m1.7-.1h0m.4-.1h0m2 .1h0m-78 1h0m7.1 .8h0m9.2-.2h0m22.6 .3h0m1.2-.4h0m.6-.3h0m2.5 .5h0m1.9-.2h0m1.9 .2h0m.6 0h0m.7-.5h0m7.6 .2h0m2.1 0h0m1.4-.4h0m.3 .6h0m2.8 .2h0m3.4 .1h0m0-.1h0m8.2-.1h0m10.7-.7h0m3.8-.1h0m-60.3 1.4h0m5-.3h0m.8 .5h0m2.3-.1h0m7.8-.3h0m2.6 .4h0m4.7-.2h0m0 .1h0m5.9-.3h0m8 0h0m2.7 .4h0m1.4-.3h0m.9 .6h0m.3-.4h0m12.8-.3h0m.5-.1h0m1.3 .9h0m-44.5 .4h0m.2-.1h0m1.9 0h0m1 0h0m1 0h0m4.7 0h0m2.9-.2h0m7.3 0h0m1.6 .3h0m.7 .4h0m7.5-.1h0m.7-.2h0m1 0h0m.3 .3h0m11.7-.8h0m-104.5 1.8h0m36.9-.4h0m13.5 .2h0m3.7-.6h0m1.1 .1h0m.8 .6h0m2.1 .2h0m.6 0h0m4.3-.2h0m1.4-.7h0m1.9 .6h0m1-.1h0m2.3 0h0m.1-.2h0m.3-.1h0m.8 .8h0m4.6-.1h0m.7 0h0m.4-.4h0m1.7 0h0m1.9 0h0m.6-.3h0m.2 .3h0m.7 .1h0m1.2 0h0m.4 .1h0m2.9-.3h0m.2 .3h0m.4 0h0m1.3-.1h0m.3 .4h0m1.5-.2h0m.1-.6h0m2.8 .2h0m3.4 .6h0m-85.9 0h0m8.4 .3h0m17.8-.1h0m12.5 .8h0m4.9-.9h0m1.3 .3h0m5.5 0h0m1.9-.1h0m3 0h0m1.6-.3h0m.2 .2h0m.4 0h0m.9 .7h0m1.3-.1h0m6.4-.5h0m1.1-.1h0m1.9-.2h0m0 .9h0m2.4-.6h0m1.8-.1h0m2.5 .6h0m2.9-.7h0m-53.5 1.6h0m1.4 0h0m9.1 .2h0m4.3-.8h0m7.3 .6h0m.7 .1h0m.3-.8h0m1.5 .6h0m.9 .3h0m1.7-.3h0m.3-.3h0m2.4 .3h0m1.8-.3h0m14.7 .1h0m6.9 .1h0m1 .2h0m.8-.1h0m8.7-.4h0m1.9 0h0m-52.2 .9h0m1.9 .4h0m.4 .4h0m1.2-.4h0m4.2-.1h0m.8 .2h0m2.7-.3h0m.6 .1h0m.6 .6h0m1.4 0h0m12.6-.5h0m1.1-.4h0m3.1-.1h0m1.1 .6h0m5.3 .4h0m1.2-.7h0m2.4 .6h0m2.7-.1h0m-98.3 1.2h0m49.7-.7h0m9 .3h0m2.4-.4h0m.7 .6h0m.6-.4h0m1.4 .2h0m.4 .2h0m3 0h0m.3-.2h0m1.9-.2h0m12.9 .6h0m.7-.1h0m.2-.2h0m.9-.1h0m2.1 0h0m.3 .1h0m.8 .3h0m.3-.5h0m1.2-.4h0m4.9 .1h0m.6-.1h0m4.2 0h0m9.4 .8h0m5.9-.6h0m-81.8 1.6h0m2.7-.1h0m9-.6h0m2.2 .2h0m3.7-.2h0m1.3 .6h0m2.5-.4h0m.7 .4h0m3-.3h0m7.4 0h0m.4-.1h0m1.2 .1h0m16.8-.3h0m1.4 .2h0m.8 .4h0m1 .1h0m.1 .1h0m7.1-.5h0m1.6-.1h0m.9-.1h0m.2 .5h0m.1 .1h0m.9-.6h0m1.5 .5h0m-79.1 .8h0m22.1-.1h0m15.1-.3h0m3.1 .1h0m2.4 .2h0m.7-.1h0m2.1-.1h0m.4-.3h0m.3 .7h0m15.8-.4h0m.7 0h0m1.1 .6h0m.4 0h0m1-.8h0m3.8 .5h0m1.1 .3h0m1.7-.6h0m18.2-.2h0m5.8 .4h0m-80.4 1.3h0m2.8-.4h0m2.8-.1h0m.4 .4h0m4.8 0h0m.2-.6h0m3.8 .8h0m.3-.5h0m1.5 0h0m.6 .1h0m5.7 .1h0m1.3-.4h0m4.3-.2h0m1.2 .6h0m1.6-.3h0m14.1 .3h0m3.1-.5h0m2 .4h0m7-.2h0m.1 0h0m-49.4 .9h0m5.4 .7h0m1.6-.5h0m.2 .1h0m.2-.4h0m3.7 .5h0m.9-.2h0m1.3 .4h0m.3-.2h0m1.6 .2h0m.8-.2h0m.1 .2h0m5-.1h0m.9-.1h0m22.5 0h0m2.9 0h0m.2 .1h0m8.9-.4h0m-70.6 .8h0m5.1 .3h0m2.5 .4h0m1 0h0m3.7-.5h0m2.2 .4h0m1.9-.3h0m2.9 .3h0m2 .2h0m.5-.5h0m1.1-.3h0m.3 .4h0m1.5 .1h0m1 0h0m8 0h0m19.6 0h0m1.7-.3h0m2.8 0h0m3.8 .2h0m.8 0h0m.6-.1h0m.7 .6h0m-70 .3h0m9.2 .1h0m2.1 0h0m1.6-.1h0m.8 .6h0m7.5-.2h0m2.9-.2h0m2.1 .2h0m1.8-.6h0m1.6 .4h0m.6 .4h0m.2-.2h0m1.1-.5h0m2 0h0m1 .5h0m.1-.6h0m4.9 .3h0m25.2-.4h0m2.4 1h0m4-.2h0m20.2-.3h0m-85.7 1h0m9.1-.4h0m5.2 .7h0m1.5-.3h0m8.8-.4h0m.7 .9h0m3.6-.2h0m3.1-.6h0m20.5 .8h0m1-.8h0m5.2-.1h0m.5 .7h0m3.4-.7h0m3.1 .9h0m.5 0h0m13.4-.9h0m9.5 .2h0m-112.2 1h0m15.8 .6h0m20.7-.3h0m5.6 .3h0m.2-.7h0m0 .7h0m5-.3h0m25.1 .3h0m1.4-.8h0m.9 .3h0m.2-.3h0m2 .8h0m4.7-.4h0m1.6-.2h0m1.5 .4h0m6.2-.6h0m-72.2 1.7h0m.8-.5h0m12.9 .4h0m7.8-.4h0m2.9-.2h0m1.6 .5h0m.6-.2h0m1-.2h0m2.7 .6h0m22.3-.2h0m1.1 .1h0m2.3-.5h0m.5-.2h0m4.3 .3h0m1.1 .4h0m2.8 0h0m3.5-.6h0m-62.6 1.6h0m2-.5h0m.1 .3h0m5-.3h0m.9 .2h0m1.8 .5h0m.2-.6h0m.1 0h0m3-.3h0m0 .3h0m.2 .6h0m2.1-.6h0m.6 .5h0m.2-.1h0m1.4-.6h0m1.8 0h0m.3 0h0m.2 .2h0m1.8-.1h0m.7 .2h0m24.5-.3h0m.6 .6h0m4.1-.2h0m.1-.5h0m.5 0h0m5.2 .8h0m.5-.7h0m4.8 .2h0m-76.1 1h0m12.8 .6h0m5.3-.7h0m6.5 .6h0m.5-.7h0m1.1 0h0m35 .1h0m3 .7h0m5.1-.7h0m5 .3h0m2.8 0h0m1.1 .4h0m-75.1 .8h0m1.6 .1h0m11.9-.4h0m.1-.3h0m.9 .2h0m5-.3h0m.8 .9h0m.4-.6h0m4.4-.2h0m1.9 .1h0m2.9 .1h0m.8 .2h0m.3-.1h0m25.4 .1h0m1.2 .2h0m1.1-.5h0m.1 .4h0m2.3 .3h0m.5-.2h0m2-.4h0m.5 0h0m1.4-.1h0m6.1 .7h0m3.7-.2h0m-102.5 .7h0m24.9 .1h0m4.5 .5h0m7.9-.7h0m3.9-.2h0m7.4 .6h0m2.1 0h0m1.7 .1h0m1.4-.3h0m1 .1h0m.8 .3h0m2-.2h0m27.2-.4h0m2.9 .6h0m2.2-.1h0m.9-.1h0m1.8-.2h0m4.1-.4h0m-76 1.2h0m.2-.2h0m13 0h0m3.1 .1h0m2.4 .3h0m2.8 0h0m.9 .1h0m4.5 .3h0m2.7-.9h0m.1 .4h0m.1 0h0m3.6 0h0m1.5 .4h0m1-.3h0m.9 0h0m.6 .2h0m25.3-.1h0m3.5-.2h0m3.5 .5h0m.2-.2h0m8.2-.4h0m-82.3 1.4h0m22 0h0m1.1 .2h0m5.2-.3h0m3.3-.1h0m2.3 .1h0m3.4-.3h0m.1 .5h0m29.4-.1h0m.8-.5h0m7.3 .1h0m2.7 .4h0m3.3-.4h0m-83.6 1.2h0m21.1 .3h0m2.2 0h0m1.9-.1h0m5.4-.5h0m1.4 .8h0m5.2-.4h0m.3 .1h0m1.1-.1h0m27.3 .2h0m2.8-.5h0m1.4-.1h0m6.8 .4h0m3-.5h0m9.2 .2h0m3.7-.1h0m-79.5 1.8h0m12.4-.6h0m.9 0h0m1.3 .1h0m.7-.2h0m1.7 .4h0m.6-.1h0m1.5 .1h0m.5 0h0m1.6-.6h0m2.7 .1h0m.2 .5h0m25.6-.5h0m4.4-.1h0m.7 0h0m1.1 .8h0m.9-.9h0m.2 .5h0m2.6 .1h0m.4-.4h0m.1 .2h0m.6-.1h0m3.4 .4h0m3.1-.2h0m-99.6 .9h0m21.9-.2h0m6.1 .5h0m2-.7h0m4.2 .8h0m2.9 .1h0m.7-.9h0m.3 .3h0m5.6 .4h0m3.8-.3h0m5.6-.3h0m1.3 0h0m28.9 .8h0m.1-.3h0m1.3 .3h0m1.3-.6h0m1.3-.1h0m.7 0h0m1 .7h0m-56.6 .8h0m1 0h0m.8-.4h0m3.8-.3h0m4.5 0h0m.2 .2h0m4 .4h0m.9 .2h0m0-.2h0m2.5-.4h0m30.9 .2h0m1.3-.3h0m.1 .5h0m.7 .3h0m1.8-.2h0m.4-.6h0m2.6 .8h0m.2-.4h0m2.7-.5h0m.1 .4h0m1.9-.2h0m5.1-.1h0m-101.6 1.4h0m43.1 0h0m.2-.2h0m.4 .5h0m2.1-.2h0m.8 .2h0m1.5 .2h0m.6-.6h0m1.3 .2h0m34-.2h0m2.3 .6h0m.6-.6h0m3.1 .6h0m.4-.3h0m3.2-.3h0m21.5 .1h0m18.6 0h0m-105.9 .6h0m7.3 .9h0m4-.3h0m4-.2h0m.5 .4h0m.5 0h0m.9-.7h0m4.2 0h0m.1 .5h0m34.5-.3h0m.9 .5h0m2.9-.9h0m1.5 .4h0m15.3-.1h0m-85.4 1.5h0m1 0h0m13.1-.4h0m.3-.2h0m.4 .7h0m.6-.8h0m1.4-.1h0m4.2 .6h0m.3-.1h0m.2-.4h0m2.4 .5h0m.2 .3h0m2.3-.5h0m1.9 .5h0m37.5-.6h0m.8 .1h0m1.5 .4h0m1.3-.3h0m1.4 .2h0m.6 0h0m3.2-.2h0m3.7 .4h0m3.7-.7h0m-71.7 1.1h0m5.9 .2h0m2-.5h0m3.9 .6h0m4.4-.1h0m3.5-.1h0m34.7 .2h0m4.8-.2h0m4.7-.2h0m6.7 .3h0m20.9 0h0m-137.4 1.4h0m49.9-.1h0m5-.7h0m.1 .7h0m1.7 0h0m.9-.8h0m.1 .6h0m.6-.2h0m1.1 .3h0m.8-.3h0m.8-.2h0m.6 0h0m2.1 .5h0m.4-.3h0m34.9-.2h0m.8 .6h0m.2-.1h0m.5-.3h0m.5 0h0m5.9 .1h0m1.4 .4h0m1-.6h0m3.7 0h0m.8 .5h0m.6 0h0m-145.8 .9h0m74.9-.1h0m5.9 .3h0m2.4-.2h0m.9 0h0m.5-.7h0m.2 .4h0m.7 .3h0m.8 .2h0m.8-.1h0m.1-.1h0m1-.7h0m40.7 .6h0m5 0h0m.4-.5h0m.3 .1h0m0 .3h0m2 .5h0m1.8-.9h0m1.1 .1h0m2.8 .6h0m-66.9 .7h0m2.6-.2h0m.1-.2h0m1.2 .1h0m.1 .4h0m.1 .3h0m2.2-.7h0m.2 .6h0m5.9-.3h0m.6 .4h0m.6 0h0m1.9-.8h0m37.6 .5h0m.4-.4h0m1 .2h0m6.8 .6h0m.3-.8h0m-115.3 1.4h0m41.2-.6h0m6.2 .9h0m14.5-.1h0m.3 0h0m3-.2h0m.1-.1h0m1.2 .5h0m40-.7h0m1.5-.2h0m1 .6h0m.1-.5h0m.6 .6h0m.1 .1h0m1.9 0h0m.9-.6h0m1.2 .5h0m3.7-.7h0m3.4 .8h0m-95.7 1h0m13 0h0m9.4-.3h0m.8 .2h0m5.8-.4h0m2.7 .1h0m3.4 .1h0m2.8 .1h0m.7 .2h0m.2-.1h0m1.2-.7h0m1.3 .2h0m.4 .2h0m36.3 .3h0m4.5-.3h0m6.8 .4h0m.8-.2h0m.5-.3h0m10.3-.1h0m6.7 .2h0m-80.1 1.4h0m3.8 .1h0m3.5-.9h0m1 .9h0m3.4-.1h0m.1-.3h0m38.7-.6h0m1.1 .8h0m2.2 .1h0m2-.8h0m7.2 0h0m4.6 .4h0m-78.5 1.1h0m5.4-.2h0m7.4-.1h0m3.2 0h0m2.3 .2h0m2-.2h0m.1-.3h0m1.8 .6h0m1.1-.4h0m35.7 .1h0m1.1 .4h0m.5-.3h0m1.5-.2h0m.9 .1h0m.8 .6h0m.8-.3h0m5.1 .3h0m2.1-.3h0m-68.3 1.4h0m3.3-.3h0m1.3-.6h0m.7-.1h0m4.4 .8h0m3.3 .2h0m.7-.4h0m.4-.4h0m42.1 0h0m2.3-.1h0m5.1 .2h0m1.6 .1h0m3.3-.1h0m-87.8 1.1h0m20.4-.2h0m3.1 .2h0m1.2 .3h0m1.8-.6h0m2.5 .5h0m.1-.2h0m1.8 .5h0m2.4-.4h0m1.6-.4h0m3.8 .3h0m.2 .1h0m37.2 .5h0m.4-.9h0m.2 .7h0m2.2-.4h0m1 .4h0m.1-.8h0m5.7 .3h0m17.8-.2h0m34.5 0h0m-139.8 1.1h0m15.9-.2h0m4.7 .3h0m.6 .3h0m1.4 .1h0m1.9-.1h0m3.5-.4h0m.2 .6h0m2.8 .1h0m1.7-.2h0m3.1-.2h0m37.5 .4h0m.1-.4h0m.5-.3h0m2 .7h0m.5 0h0m1.2-.4h0m2.4-.2h0m1.3 .5h0m2.4-.6h0m-61 1.4h0m2-.6h0m2.8 .8h0m.6-.3h0m2.7-.2h0m.2 .4h0m6.2 .1h0m36.2 .2h0m1.1-.4h0m1 .3h0m1.6-.4h0m1.4 .2h0m5.4-.4h0m8.6 .7h0m20.2-.3h0m-126.8 1.3h0m24.1-.1h0m5.5-.1h0m2.1-.8h0m.3 .9h0m1.5-.2h0m1-.7h0m.5 .3h0m2 .1h0m1-.3h0m2.2 .5h0m2.1-.5h0m.5 .5h0m0 .1h0m1.4-.4h0m7.8-.1h0m29.9 .7h0m9 0h0m1.9-.4h0m.1 .4h0m-72.3 .6h0m5 .3h0m4.2-.1h0m2 .2h0m3-.7h0m2.9-.1h0m1.1 .5h0m4.5 0h0m7.7-.4h0m30.3 .8h0m1.4-.3h0m.4-.1h0m5 .3h0m2-.7h0m.5 .7h0m1.3-.7h0m1 .5h0m1.7-.2h0m.8 .1h0m6.2-.2h0m15 .5h0m-97.6 .6h0m3.5 0h0m5.8-.5h0m3.4 .8h0m.3 .1h0m1-.8h0m4 .6h0m.4-.3h0m1.9-.3h0m39.3-.1h0m3 .7h0m2.7 0h0m.7-.2h0m1-.5h0m1.6 .8h0m3.1 .2h0m-78.7 .9h0m7-.1h0m7.9-.3h0m3.6 .2h0m.6-.3h0m4.2-.1h0m1.5-.3h0m.1 .1h0m40.8 .5h0m.8-.3h0m1.2 .1h0m.2 .6h0m2.1-.2h0m1.1-.4h0m1.3-.3h0m.9 .3h0m.1 .2h0m7.3 .1h0m2.3-.5h0m.9 .2h0m-73.7 .9h0m.4 .1h0m.8 .5h0m2.4-.1h0m3.1-.1h0m.4-.7h0m1 .1h0m1.8 .8h0m.9-.2h0m.9-.2h0m.4-.3h0m.5-.1h0m1.7 .3h0m44.1 .3h0m1.1 .2h0m0-.2h0m.2-.6h0m.3 .9h0m3.1-.3h0m.1-.6h0m2.5 .5h0m1.8-.2h0m1.4-.2h0m21.9 .6h0m-114 .9h0m.2 .2h0m17.9-.4h0m8.9 0h0m5.5 .2h0m.6-.4h0m2.1-.2h0m1.4 0h0m.5 .6h0m.5 .3h0m.9-.2h0m43.7 .1h0m.8-.1h0m1.6-.3h0m2.7-.2h0m1.2 .1h0m1.3-.1h0m1 .5h0m1.3-.4h0m33.6-.1h0m-101.8 1.2h0m3.4 .1h0m1.6 .2h0m1.1-.6h0m2.5 0h0m2.1 .4h0m2.6-.6h0m35.5 1h0m9.4 0h0m3.7-.3h0m.6-.3h0m.7-.1h0m.7 .2h0m3.4 .3h0m20.7 .1h0m-101.6 .4h0m12.7 .1h0m.4-.3h0m.3 .9h0m.6-.6h0m.9 .4h0m.2-.7h0m1.7 .4h0m1.3 0h0m1.8-.2h0m1.3 .2h0m.5-.5h0m46.6 .6h0m1.1-.3h0m2.5-.2h0m.5 .6h0m2.2-.1h0m.6-.5h0m.8 .5h0m.7-.4h0m5 .7h0m3.7-.5h0m2.4 0h0m-83.3 .8h0m4.8 .4h0m1.2 .3h0m3.6-.3h0m1.2 .1h0m.9 .1h0m2.6-.1h0m1.8-.2h0m3.8-.3h0m.3 .2h0m46.5-.1h0m4.1 .6h0m.5-.5h0m2.8 .2h0m6.7 0h0m-80.4 .7h0m1.6 .1h0m2.3-.4h0m2.9 0h0m3.1 0h0m.3 .7h0m2.1-.6h0m1.4 .4h0m48.7-.4h0m.4 0h0m1.2 .3h0m.5 .5h0m-81.8 .4h0m16 .3h0m2.3 .1h0m1.1 .1h0m.5-.3h0m2.7 .2h0m1.2-.4h0m1 .6h0m1-.9h0m5.3 .4h0m41.8 .5h0m.1-.4h0m1.1 0h0m1.5-.1h0m.8 .6h0m1.8-.2h0m1-.1h0m2.3 0h0m4.8-.5h0m3.9 0h0m1.5 .7h0m-83.3 .9h0m11.6 0h0m3.5 .1h0m.7-.2h0m.3-.3h0m.8-.1h0m1.5 .3h0m1.7 .3h0m47.2 .1h0m3.1-.7h0m.1-.1h0m.7 .1h0m.3-.1h0m1.5 .8h0m1-.8h0m.6 .4h0m6.2 .2h0m1.3-.8h0m-109.6 1.1h0m10 .7h0m6.1-.7h0m6.8 .2h0m16.2 0h0m.8-.1h0m1.5 .2h0m.1 .1h0m1.8 0h0m45 .2h0m4-.5h0m3.7 .4h0m1 0h0m.3 .3h0m2.5-.4h0m.4 .3h0m2.6-.7h0m.1 .8h0m-121.7 1.1h0m56.9-.7h0m2 .4h0m4-.3h0m1.5-.4h0m43 .5h0m.9 .5h0m3.4-.6h0m.6 .1h0m4.7-.3h0m1.1 .1h0m.7-.2h0m1.5 .7h0m2.6-.7h0m0-.1h0m.5 .1h0m2 .1h0m-145.2 1.4h0m7.7-.5h0m40.3 .8h0m1.4-.3h0m14.2-.3h0m8.7 .4h0m.8 0h0m57.2-.3h0m.9-.2h0m.5 .5h0m.7-.6h0m12.6 .1h0m3.7-.2h0m-145.9 1.8h0m46.3-.1h0m15.8 .3h0m4.1-.2h0m5.6-.6h0m2.8 .5h0m49.2-.1h0m.5-.2h0m.6-.3h0m12 .3h0m6.1 .6h0m.5-.7h0m-146.7 1.4h0m.9-.6h0m.8 .7h0m3.7-.1h0m1.1-.7h0m63 .8h0m.7 .2h0m4.9 0h0m49.6-.8h0m1.4 .5h0m.4-.6h0m3.4 .2h0m.7 .3h0m.7-.2h0m.5-.1h0m1.5 .2h0m-131.6 .8h0m4.2 .5h0m2.3-.5h0m17.5 .1h0m3.6-.4h0m5.9 .2h0m1.9 .6h0m12-.3h0m4.7 0h0m7.9 .3h0m9.2-.4h0m2.4 .4h0m2.2-.8h0m3.3 .9h0m.3 0h0m45.8-.7h0m1.1 0h0m1.3 .2h0m2.2-.1h0m2.4 .6h0m.2-.8h0m1 .8h0m1.6-.5h0m.5-.3h0m67.1 .7h0m-196.4 1h0m1.1 0h0m2.5-.3h0m.2-.4h0m17.8 .8h0m2.3-.8h0m.2 .4h0m30.2 .3h0m4.3-.8h0m5 .5h0m2.5 .2h0m.1 .1h0m.9 .2h0m2.5-.9h0m1.9 .1h0m.7 .5h0m3.4-.4h0m43.2 .2h0m.3 .4h0m.2-.2h0m4.2 .1h0m.9-.2h0m1.7 0h0m25.5-.5h0m9.2 .4h0m-165.6 .9h0m.3 0h0m1.4-.3h0m.5 .9h0m1-.3h0m24.9-.7h0m9.1 .7h0m4.5 .1h0m2.3-.7h0m20.3 .4h0m3.3-.1h0m2.1-.2h0m.4 .1h0m4.4-.2h0m.1 .2h0m1.5-.1h0m.8 .3h0m.6 0h0m2.7 0h0m47.4-.2h0m.9-.2h0m.1 .3h0m-130.2 .6h0m3.8 .6h0m.3-.2h0m10.4-.2h0m2 .7h0m5.3-.2h0m.4 .1h0m.1-.1h0m8.3-.3h0m1.3 .4h0m2.1 0h0m.8-.4h0m6.5 .3h0m5.7 .1h0m7.8-.3h0m4.2-.2h0m.1 .2h0m3.5 0h0m1.5-.3h0m2.1 .6h0m1.8-.4h0m9.2-.1h0m47.5-.2h0m.3 .4h0m1.2-.1h0m2.2-.2h0m5.7 .7h0m10.7-.1h0m-143.3 1h0m10.6 .2h0m3.1-.1h0m5.5-.1h0m5.1-.4h0m8.6 .1h0m4.3 0h0m.9 .4h0m3.5-.5h0m17.9 .5h0m1.8-.2h0m.5-.3h0m.5-.3h0m1.2 .1h0m.1 .7h0m2.8-.5h0m2.9-.4h0m.1 1h0m49.5-.9h0m1.6 .5h0m.6 0h0m1.7-.1h0m.5 .3h0m.6-.7h0m.9 .4h0m4.1-.2h0m13.6 .4h0m-143.3 .9h0m3.3-.5h0m.3 .8h0m.7-.2h0m.4 .3h0m5.2-.7h0m3 .6h0m.1-.9h0m2.2 .5h0m3.7 .3h0m2.9 .1h0m.9-.9h0m1.1 .8h0m3.5 0h0m1.7 .1h0m8.7-.1h0m.9-.7h0m4 .8h0m5.3-.6h0m4.8 .4h0m1.8 .1h0m1.5 0h0m1.2-.3h0m2.3 .5h0m2.4-.7h0m3.9-.2h0m4.3 .8h0m.2-.7h0m52.4 0h0m.9 .1h0m3.6-.3h0m.1 .4h0m.9-.1h0m0 0h0m1.4 .1h0m11.9 .1h0m-142.6 .7h0m1 .5h0m1.4 .2h0m.5-.6h0m8.7 .1h0m.7 .5h0m2.1-.7h0m.5 .3h0m1.5 .2h0m3.2-.5h0m10.7 .6h0m2.1-.6h0m3.2-.2h0m2.9 .5h0m.4-.2h0m1.7 0h0m.6 .3h0m4.2 .3h0m2.9-.9h0m.2 1h0m2.9-.3h0m3.2 .2h0m2.5-.2h0m1.1-.2h0m1 .5h0m.3-1h0m1.3 .7h0m.2 .1h0m3-.5h0m.6 .3h0m1.7-.3h0m1.5 .5h0m.7-.4h0m1.4 .5h0m.7-.1h0m48.2-.2h0m.8 .4h0m2.2-.1h0m1.6-.6h0m1.2-.3h0m.7 .1h0m1.7 .3h0m5-.3h0m2.6 .7h0m-134.1 .3h0m3.6 .2h0m.3 .3h0m.8 .2h0m.2-.5h0m.3 .4h0m2.3 .2h0m6.3-.5h0m6.6-.1h0m3.6 .1h0m5.6 0h0m12.7 .5h0m.7-.7h0m1.2 .2h0m3.2-.1h0m4.3 .2h0m3.5 .3h0m2.8-.1h0m8.6-.5h0m50.1 .1h0m.3 .1h0m1.6 0h0m1 .2h0m2.4 .3h0m1.1 0h0m1.9-.5h0m2.7 .6h0m1.8-.9h0m2.2 .5h0m10.5 0h0m-138.1 1.2h0m1.7 .2h0m3.8-.2h0m3.8 .2h0m4.9-.1h0m1.4 0h0m4.1-.3h0m1.7 .1h0m.3-.4h0m3.5 .2h0m1 .2h0m1.6 0h0m1.1 .1h0m5.1 0h0m4.1-.1h0m2.7-.2h0m5.2-.4h0m7.6 .3h0m1.5 .6h0m.1-.6h0m.5-.1h0m2.6 .2h0m.8 .1h0m.5-.4h0m2.7-.1h0m.1 .1h0m.4 .6h0m1.3-.3h0m44.8-.3h0m4.4 .8h0m1.7-.6h0m1.8 0h0m3.6 .1h0m4.5-.2h0m41-.1h0m-166.6 1h0m1.2 .8h0m1-.5h0m.8 0h0m4.7 .5h0m.6-.7h0m3.3 0h0m4.2 .1h0m1.7 .1h0m1.5 .1h0m.8-.4h0m7.2 .4h0m0-.3h0m1.6 .7h0m5.8-.5h0m2.9-.3h0m1.2-.1h0m.1 .5h0m17-.4h0m.9-.1h0m5.9 .2h0m50.6 .5h0m1.5-.2h0m.6-.1h0m1.4 .3h0m0-.2h0m1.3 .1h0m7.2-.1h0m.6-.4h0m4.3 .4h0m8.8-.6h0m-135.9 1.8h0m.6-.1h0m.4-.3h0m4.6-.1h0m1.3 .6h0m2.8-.6h0m.3 .4h0m4.3 0h0m.5 .3h0m2.8-.9h0m1 .4h0m.3 .2h0m.8-.3h0m.7-.2h0m.8 .5h0m3.3 .1h0m5.1 0h0m4.9-.7h0m11.5 .6h0m.1-.4h0m5 .3h0m.3-.2h0m.3-.3h0m.7 .4h0m2.1 .4h0m1.5 0h0m2.8-.2h0m42.6 .1h0m6 .1h0m.7-.2h0m.3-.3h0m2.2-.3h0m0 .7h0m3.9 .1h0m2.4-.6h0m5 .4h0m-126.5 1h0m1.6 .2h0m.1-.3h0m5.7 .3h0m1.4-.5h0m1.2 .5h0m1.6-.7h0m2.2 .2h0m.9-.3h0m.4 .9h0m4.8-.4h0m7.8 .2h0m1.9 .1h0m5.7-.4h0m.5-.5h0m4.2 .7h0m1.9 0h0m2.9-.3h0m3.5-.2h0m0 .5h0m.5-.1h0m1.4-.1h0m6 .3h0m2.5-.4h0m1.5-.3h0m1.1 .3h0m.4 .4h0m52.9 .2h0m.4-.3h0m.8 .2h0m3.8-.8h0m.5-.1h0m5.1 0h0m5.9 .8h0m-130.6 .5h0m4.3 .2h0m2.2 .4h0m2.7-.2h0m3.3 0h0m6.6 0h0m.1-.3h0m5.3-.2h0m.2 .1h0m.2 .4h0m2.5 0h0m2.8 .1h0m.3-.6h0m.3 .5h0m2.3 .2h0m.3-.8h0m1.4 .5h0m.2 .1h0m.3-.2h0m.6-.5h0m3.6 .6h0m.7-.2h0m1.5 .4h0m1 0h0m2.2 .2h0m.9-1h0m.9 .4h0m2 .4h0m.4-.3h0m3-.1h0m2.1 .3h0m6.4-.5h0m51.1 .7h0m.9-.1h0m1.2-.3h0m13.8 .1h0m-126.9 1.2h0m2.5-.4h0m.2 0h0m1 .1h0m4-.4h0m1.9 0h0m1.7 .6h0m1.6 .3h0m1.5-1h0m5.9 .2h0m1.5 .1h0m1.3 .7h0m2.2-.7h0m.1 .5h0m.3 0h0m.8-.6h0m1.8 0h0m.5 .1h0m4.6-.1h0m3.8-.1h0m.4 .5h0m1.5-.1h0m.3-.4h0m.8 .7h0m3.5-.5h0m.3 .5h0m2.9 0h0m0 .1h0m.8-.1h0m3.7-.1h0m2-.4h0m5.7 0h0m50.6 .6h0m3.9-.9h0m5.9 .3h0m7.1 .1h0m-126 .8h0m1.3-.2h0m.3 .9h0m1.3-.8h0m1.8 .5h0m.3-.5h0m1.2 .5h0m2.3 .1h0m.5-.5h0m1.1 0h0m2.1 .4h0m.3-.5h0m.4 .8h0m3.9-.2h0m.2-.4h0m1.5 .5h0m.2-.2h0m.8-.5h0m.6 .7h0m3.5-.6h0m2.5-.1h0m1.5 0h0m3 .7h0m.6 .1h0m.1 0h0m10.1-.2h0m.4 .1h0m.1-.5h0m3.4 .4h0m3-.2h0m.5-.2h0m.9 .6h0m58.1-.8h0m.4 0h0m2.7-.1h0m4.2 .7h0m.8 0h0m.8 .2h0m7.4-.9h0m5.9 .6h0m-130.1 1.2h0m.6 0h0m2.8-.7h0m.3 .1h0m.7 .2h0m2.6 .2h0m2.2-.6h0m.8 .9h0m.9-.4h0m.3 .3h0m3.8 .1h0m.6-.8h0m3.8 0h0m2.7 .8h0m4.2-.4h0m.5-.3h0m3.5-.1h0m2.1 .6h0m.3-.7h0m3 .7h0m.4-.7h0m1.7 .4h0m1.4-.4h0m2.1 .2h0m2.3 .4h0m.1-.1h0m.8-.2h0m.4 .4h0m1-.5h0m2 0h0m2.6 .2h0m.6-.1h0m1.7 .1h0m52.2-.1h0m1 .5h0m.2-.5h0m4.6-.2h0m1 .1h0m-110.6 1.7h0m.7-.3h0m.1 .1h0m2.7-.1h0m.3-.6h0m.2 .8h0m.2 .1h0m.7-.4h0m.6 0h0m.2 .3h0m1.2-.8h0m2.7 .7h0m.5 .1h0m.5-.3h0m.7-.2h0m2.4 .6h0m1-.2h0m2.8-.1h0m0-.5h0m.6 .8h0m1.5-.5h0m3.1-.3h0m1.7 .8h0m.6-.8h0m4.3 .2h0m4.1 .3h0m1.1 .2h0m5.5-.7h0m3.5 .2h0m2 .3h0m55.6 .2h0m2.5 0h0m2.8-.3h0m6.7 .1h0m.1 .3h0m8.2-.5h0m28.6-.2h0m-151.2 1.3h0m1.2-.4h0m2.5 .9h0m.1-.3h0m8.9-.7h0m1.3 .4h0m.1 .3h0m.7 .2h0m.5-.7h0m1.4 .4h0m5.3-.5h0m.1 0h0m4.7 .3h0m.1 .3h0m3.5-.4h0m.9-.2h0m.8 .5h0m3.7-.1h0m.3 .4h0m.4-.8h0m.9 .9h0m.9-.7h0m1.9 .2h0m1.5 .1h0m1.2-.1h0m.8-.4h0m.4 .3h0m2.5 .4h0m2.2-.5h0m1.1-.2h0m1.1-.1h0m49.6 .6h0m1.8 .2h0m.2-.8h0m1.6 .8h0m1.1-.5h0m.1 .6h0m.1-.3h0m.8 .3h0m2.6-.9h0m3.8 .1h0m-112.3 1.7h0m1.5-.6h0m2.6 .3h0m1.3-.5h0m1.1 .9h0m.7-.5h0m.9 .6h0m.2-.2h0m2.3-.8h0m2.7 .9h0m5.2-.3h0m0-.1h0m.4 .3h0m6.6-.2h0m.5 .4h0m.4-.6h0m7 .4h0m.2-.5h0m3.6 .1h0m6.6-.1h0m.3 .6h0m55.4-.5h0m.1 .4h0m3.1-.3h0m2-.4h0m-102.7 1.5h0m4.1-.4h0m1.1 .1h0m2.5 0h0m.8 .6h0m2.6-.2h0m1.3-.5h0m0 .5h0m3-.6h0m1.1 .8h0m1.3-.7h0m.7 .2h0m.8 .3h0m1.1-.4h0m1.2 .3h0m1.5 0h0m.6-.4h0m1.6 0h0m.5-.1h0m.3 .4h0m.4 0h0m1.1-.2h0m.1-.1h0m1.3 .2h0m2.2 .3h0m2 .1h0m.6 0h0m.3 0h0m.7-.2h0m.7 .4h0m.2-.7h0m1.6-.2h0m.8 .2h0m.5-.2h0m.6 .8h0m1.3-.5h0m.4 0h0m1.1 .5h0m52.3 .1h0m1.7-.1h0m2.5-.5h0m.9 .3h0m1 .2h0m1.1-.8h0m1.4 .8h0m.7-.1h0m1.2-.3h0m.5-.3h0m20.6 .6h0m3.9 .1h0m-136.4 .8h0m9.2 0h0m1.3-.6h0m1 .9h0m2.4-.9h0m.1 .2h0m2-.1h0m.3-.1h0m.5 .1h0m3.3 .4h0m.7 .1h0m.5-.2h0m.5 .1h0m.8-.2h0m2.4-.2h0m.6 .3h0m.4 0h0m4.7 .3h0m.3 0h0m4.6 .1h0m2-.4h0m.8 .2h0m2.4-.1h0m1.2-.6h0m3.2 .7h0m.5-.6h0m3.5 .7h0m48.9 .2h0m2.5-.3h0m3.1 .1h0m1.6-.6h0m4.1 0h0m3 .4h0m3.9-.6h0m34.9 .8h0m-137.5 .5h0m1.4 .6h0m2.3-.7h0m3.3 .4h0m1.6-.3h0m1.4 .4h0m1.4-.4h0m2.8-.2h0m1.9 .4h0m1.8-.5h0m.6 0h0m1.3 .4h0m2.8 .6h0m.9-.7h0m1.9 .3h0m.8-.5h0m.6 .7h0m2.8-.3h0m1.1 .1h0m.6 .1h0m.1-.3h0m2 .2h0m50.8 .2h0m1 .1h0m.3-.4h0m1.8 .3h0m.8-.2h0m2.3 .3h0m0 0h0m1.4-.9h0m4.5 .9h0m20.6-.1h0m2.6-.1h0m-125.4 .8h0m2.8 .5h0m.6-.6h0m1.5-.1h0m.9 .3h0m.4-.4h0m.8 .3h0m1.7 .3h0m1.5-.7h0m.6 .3h0m3 .2h0m2.7-.2h0m.1 .2h0m4.7-.2h0m.7 .2h0m2 .3h0m.8-.7h0m.3 .7h0m1.5-.6h0m1.4 .6h0m1.4-.2h0m2.2-.2h0m.9-.2h0m1.7-.2h0m1.1 .4h0m.9-.5h0m1.5 .7h0m54.4 0h0m1.5-.3h0m1.5-.4h0m1.4 .9h0m.8-.9h0m8.9 .1h0m1.6 .4h0m67 0h0m-173.1 .6h0m1.5 .5h0m1.4-.2h0m7-.2h0m.5 .7h0m1.3 .1h0m1.2-.7h0m.1 .4h0m1.7-.2h0m.1 .5h0m2.7-.4h0m.2-.5h0m2.9 .8h0m1.4-.3h0m1.3-.5h0m2.1 .6h0m.3-.3h0m0 .1h0m2.5-.2h0m2.2-.1h0m1.5 .4h0m55.9-.1h0m.8 0h0m2.4-.4h0m1.5 .2h0m.6 0h0m.1 .4h0m-94.4 .7h0m.1 0h0m2.3 .6h0m.9-.3h0m.8 .3h0m.2-.3h0m.7-.3h0m.5 .1h0m1.8 .1h0m1.7-.4h0m.5-.1h0m.4 .8h0m0-.4h0m1.3 .1h0m1.9 .3h0m.5-.2h0m3.1-.6h0m6.9 .5h0m.5-.1h0m.6 .3h0m.3-.5h0m.9 .6h0m2.1-.1h0m0-.3h0m59.2-.2h0m3.2-.1h0m7.4 .3h0m-96.2 1h0m.4 0h0m6.6 .4h0m.5-.6h0m3.4 .5h0m1.6-.1h0m.1-.4h0m1.9 .7h0m1.3-.2h0m.8 .1h0m.5-.8h0m2.8 0h0m.8 0h0m3.8 .3h0m2.6 0h0m.1-.3h0m1.3 .4h0m58 .1h0m.4 0h0m2.4 .3h0m1.7 .1h0m2.8-.9h0m.8 .8h0m.2-.4h0m-97.3 .6h0m.2 .5h0m.5-.5h0m1.7-.1h0m2.3 .6h0m.9-.3h0m2.5 .1h0m1.5-.2h0m.7 .1h0m2.5 .6h0m.6-.8h0m1.8 .4h0m1.1 .1h0m1.6 .4h0m3.5-1h0m2.1 .2h0m1.5 0h0m2.7 .6h0m.4-.1h0m.9 .2h0m53.7-.1h0m2.4-.6h0m2.9 .5h0m.2 .2h0m3.3-.5h0m11.1 .2h0m4.5 0h0m-101.9 .6h0m3.3 .4h0m.1-.6h0m1.3 .6h0m1.2-.1h0m2.5 .5h0m.5-.3h0m2.6-.4h0m1.6 .5h0m2.4-.6h0m.7 .2h0m.2 .2h0m1.5-.5h0m.2 0h0m2.2 .3h0m.4 .3h0m57.2-.1h0m1.4 .4h0m2-.2h0m1.4 0h0m1.9 .1h0m6.2-.1h0m-90.5 .2h0m.1 .6h0m.6-.3h0m2.3 .6h0m3.1-.1h0m2.6-.3h0m2.4-.4h0m.3 0h0m1 .5h0m.2 .3h0m1-.7h0m1.7 .5h0m1 .2h0m.8-.9h0m1.5 .4h0m2.6 .1h0m55.1 0h0m.8-.4h0m.4 .1h0m2.7 .6h0m1.5-.7h0m8.8 .6h0m.8 .2h0m6.9-.5h0m19.5 .1h0m-130.6 .9h0m9.8-.1h0m2.5 .4h0m3.5-.4h0m1.4 .3h0m.8-.4h0m1.5 .5h0m.7-.6h0m.3 .7h0m1 .1h0m.5-.4h0m2.8-.3h0m.4 .7h0m.9-.2h0m1.1 .1h0m1 .1h0m.2-.2h0m3.4-.1h0m.6-.5h0m56.8 .8h0m2.8 0h0m.4-.9h0m.9 .3h0m3.5 .2h0m.8 .4h0m6.2-.3h0m-103.8 1.3h0m10.9-.6h0m.1-.1h0m.2 .5h0m1.6-.5h0m2.3 .1h0m.8 .2h0m2.1-.3h0m7.9-.1h0m.5 .3h0m1.2 .1h0m5.3-.5h0m55.2 .8h0m1.2-.5h0m5.5-.2h0m.9 .5h0m5.1-.5h0m.3 .8h0m.3-.5h0m1 .3h0m7-.5h0m1.2 .3h0m-101.8 .7h0m.2 0h0m.4 .3h0m1.9-.3h0m5.3 0h0m1.5 .1h0m2.4 .1h0m2.7 .5h0m1.3-.3h0m1.9 .3h0m.1-.4h0m58.9 .5h0m1.6-.2h0m0-.3h0m4.1-.1h0m2 .3h0m.8-.3h0m11.2 .2h0m-93 1.4h0m.2-.8h0m4.3 .6h0m.6-.7h0m.8 0h0m4 .3h0m.2 .2h0m.3-.3h0m.4 .4h0m5.4-.1h0m.6 .3h0m.5 0h0m.1-.8h0m.2-.1h0m1.8 .1h0m57.6 .2h0m1.4 .4h0m1.2 .2h0m1.7-.6h0m.7 .1h0m.5-.4h0m2.4 .3h0m1.5 .6h0m12.6-.5h0m-99.6 .9h0m2.3 .2h0m1 0h0m.7 .5h0m.2-.7h0m1.5 0h0m0 .5h0m3.1-.1h0m.2-.2h0m1.8 .4h0m2.1-.3h0m1.7 .1h0m5.8-.3h0m54.6 .6h0m2.4-.8h0m1.1 .3h0m4.8 .2h0m12.5-.3h0m20 .4h0m-115.6 .3h0m.3 0h0m.6 .4h0m4.9-.3h0m3.7 .6h0m1.6-.7h0m.3 0h0m.3 .3h0m1.1 .1h0m1-.4h0m1.4 .2h0m.8-.3h0m.7 .1h0m54.5 .7h0m3-.2h0m.5 .1h0m.8 0h0m.2 0h0m1.8 .1h0m3.8-.6h0m8.1 .1h0m-85.4 .9h0m.2 .7h0m1.8-.7h0m.1 .2h0m2.7 0h0m4 .3h0m1.4 0h0m0 0h0m54.8-.6h0m1.5 .4h0m.8 0h0m1.7-.4h0m.2 .2h0m.2-.1h0m2.2-.2h0m.3 .1h0m-70.6 1.7h0m2.6 .1h0m1.2-.5h0m55.9 .4h0m.9 .1h0m1-.9h0m.3 .3h0m1.7 0h0m0 .7h0m2.4-.8h0m3.3-.1h0m21.4 .9h0m4-.1h0m-97.4 .9h0m1.4-.7h0m2.1 .8h0m.8 .1h0m64.3-.3h0m5.5-.1h0m-74 1.4h0m1-.6h0m.4-.1h0m3.9-.1h0m.2 .6h0m2-.1h0m1 .3h0m50.4-.7h0m4.6 0h0m1.4 0h0m.2-.1h0m.1 .3h0m.9-.4h0m.8 .8h0m.2-.7h0m1.4 0h0m.3-.1h0m2 .8h0m4.7-.2h0m7-.4h0m-83.6 1.2h0m1 .3h0m1.2-.7h0m4.2 .9h0m1.7-.5h0m52 .2h0m1.9-.5h0m2.5 .4h0m1.6 .3h0m0-.3h0m5.9-.5h0m38.5 .5h0m-112.8 1.3h0m2.9-.3h0m1.9-.5h0m1.7 .6h0m2.3 .1h0m1.5-.4h0m2-.1h0m51.5 .4h0m1.4-.1h0m.5-.5h0m12.4 .4h0m3.6 .1h0m-81.2 1h0m.2 0h0m.7 .1h0m1.5-.5h0m.7 .1h0m2 0h0m61.1 .3h0m2.1-.4h0m1.2 .1h0m.4 .4h0m3 .2h0m12.2-.9h0m5.6 .7h0m-93.7 .7h0m.9 0h0m2.3 .1h0m.3 .5h0m.6-.1h0m1.7-.5h0m1.8 0h0m.7 .4h0m50.5-.7h0m2.3 .9h0m1.6-.5h0m.2 .4h0m1.2-.2h0m1.5-.2h0m2 .1h0m2.1-.6h0m0 .8h0m.7 .1h0m1.1-.7h0m.2 .5h0m4.5-.7h0m-75.3 1.6h0m0-.4h0m2.6-.1h0m55.4 .6h0m.7-.7h0m.5 .6h0m.8 .4h0m1.5-.4h0m7.9-.1h0m.1-.5h0m52.5 .4h0m2 .3h0m-124.1 1.1h0m58.6-.5h0m.7 0h0m.7-.1h0m1.5 .7h0m43.4-.3h0m-106 1.1h0m2.5-.6h0m1.2 .3h0m.5 .6h0m53.8-.1h0m.1-.9h0m2.2 .4h0m7.3-.3h0m1.5 .2h0m.3-.1h0m1.7 .8h0m6.2-.9h0m2.3-.1h0m9.1 .4h0m-84.4 1h0m53.9 .3h0m.2 .3h0m1.7-.1h0m2.3-.1h0m.2-.7h0m.4 .5h0m-62 .8h0m2 0h0m2.3 .2h0m.4-.5h0m53.5 .8h0m1.4-.7h0m2.3 .5h0m9.4 0h0m6.4-.3h0m26.2-.4h0m-104.3 1.2h0m.3 .4h0m2.2-.4h0m.3 .2h0m.9-.2h0m52.9 .5h0m.8-.2h0m.5-.3h0m1.7 .8h0m4-.7h0m-64.2 .8h0m.8 .6h0m4.4 0h0m44.9 .3h0m4.4-.1h0m3.8-.6h0m.3 .1h0m.3 0h0m9.8 .1h0m-15.1 1.5h0m1.2-.7h0m.4 .7h0m1.7-.5h0m13.9-.5h0m-21.9 1.9h0m.5 .1h0m.3-.7h0m.2 .1h0m2.1 .3h0m10 0h0m.4-.6h0m1.5 .8h0m-15.4 .8h0m1.2-.3h0m3.5-.1h0m1.4-.1h0m2.2-.1h0m3.6 .5h0m8.2-.5h0m-20.9 1.5h0m3.4 .3h0m1.1-.6h0m2.1 .2h0m10.4 .4h0m2.3-.8h0m-18 1.1h0m6.3-.1h0m7.2 0h0m-20.7 1.3h0m1.1 .5h0m1.7-.6h0m.5 0h0m.3 .3h0m2.2-.4h0m3 .6h0m1.4-.3h0m.8-.3h0m.7 .5h0m-13.3 .9h0m.8-.6h0m0 .4h0m3.5 .4h0m1.7-.7h0m1.4 .2h0m3.6 .7h0m1.3-.6h0m21 0h0m-30.1 1.3h0m.7-.6h0m.1 .5h0m1.2 .2h0m2.9 .1h0m4.2-.1h0m1.6-.8h0m5 .8h0m6.4 .1h0m-31.3 1.1h0m1.4-.4h0m4.5 .1h0m5.9-.7h0m1.1 .3h0m2 .6h0m4.5-.1h0m-19.4 .2h0m.2 .5h0m3.4 .4h0m.3-.9h0m2.7 .1h0m4.4 0h0m.7 .4h0m.7 0h0m-13.6 .8h0m1 .3h0m2.1 .4h0m.3-.4h0m4-.1h0m3.9-.4h0m2.1 .1h0m5.3 .4h0m-59.9 .8h0m42.1-.2h0m.7 .8h0m1.4-.6h0m27.7-.1h0m-32.2 1.5h0m.9 .1h0m5.3-.7h0m10.9 .1h0m10.3-.1h0m-31.9 1.7h0m3.6-.8h0m.1 .2h0m2 .3h0m.7-.2h0m1.3 .5h0m2.4 0h0m9.9-.2h0m.2 .1h0m8.8 .2h0m-28.3 .4h0m5.8 .1h0m6.8-.4h0m-14.7 1.8h0m.5-.6h0m2 .1h0m4.7 .3h0m5.3-.4h0m13.8 .1h0m-27.1 1.6h0m.1-.3h0m2.8-.7h0m1.2 .6h0m2.2 .2h0m-8.6 .6h0m2.1 .1h0m2 .3h0m1.9 0h0m1-.2h0m7.7-.3h0m-16.3 .8h0m.9 .2h0m.1 .7h0m1.7-.8h0m6.1 .5h0m2.7-.7h0m1.1 1h0m12.6-1h0m11.9 .8h0m71-.6h0m-105.1 1.1h0m.3-.2h0m2.2 .7h0m1-.5h0m3.3-.1h0m20.2 .3h0m-34.7 1.4h0m2.6-.6h0m.9-.1h0m1.9 .3h0m1.4-.1h0m2-.4h0m8.4 .2h0m-16.9 .9h0m6 .7h0m.3-.4h0m4.4 .6h0m1.6-.5h0m8 .1h0m3.5 .3h0m-24 1h0m3.7-.7h0m.5 0h0m.9-.1h0m6.1-.1h0m-17.3 1.9h0m2 0h0m12.4-.6h0m1.2 .1h0m7.6-.2h0m-23.9 1.8h0m1.5-.8h0m1.2 .5h0m2.8-.1h0m.1 .3h0m.1 0h0m1.3-.2h0m.5-.3h0m5.2 0h0m6.2-.1h0m-18.9 1.4h0m.4-.5h0m3.3 .6h0m1.8-.4h0m4.9 .3h0m-11.5 .9h0m18.2 0h0m7.9-.3h0m11.2-.3h0m.7 .1h0m-40.7 1h0m.3 .1h0m5-.1h0m.2 .8h0m1.3 .1h0m1.7-.5h0m3.8 .1h0m16.4-.1h0m-25.6 1.4h0m.1-.4h0m1.3-.3h0m1.9 .1h0m13.5 .2h0m59.4 0h0m-76.1 1.1h0m4.6-.4h0m5.8 .2h0m13.4 .3h0m3.2-.3h0m12.5-.4h0m-47.2 1.2h0m.3 .2h0m1.7 .1h0m.2-.2h0m4.3 0h0m1.6-.2h0m4.8 .4h0m20.4-.3h0m35.3 .2h0m-69.9 .8h0m.1-.2h0m6 .6h0m1.3 .2h0m20.2-.4h0" stroke="#c00a4e" stroke-width="1.4" stroke-linecap="square" fill="none"/><path d="M1283.2 129.6l-1.6-1.6l-5 .6l-1.4 1.4l-1 0l-1.6 2.6l-2.4 .4l-3.6 2.6l-2.4-.6l-2.6 1l-1.4 2.6l-3 .4l-2 3.6l-4.6 1.4l-4.4 3l-2 0l-2 1l-6 5l-3 1l-5 4.6l0 1l-2 2l-1 0l-2 3l-1.6-1.6l-2 .6l-11.4 7.4l-1 2l-1.6-.4l-5 2l-2.4 2l0 1.4l-1 1l-2-1l-2 1.6l0 3l-1 1l-2.6-.6l-6 2l-3.4 4l-3 1l-3.6 3.6l-4 .4l-5 5l-2.4 .6l-2 2.4l-1.6 0l-2.4 2l-3 1l-4 4l-5.6 2.6l-2.4 2.4l-1 0l-3 2.6l-1 1.4l-1 0l-1.6 2.6l-4 1.4l-2.4 3l0 1.6l-5.6 4.4l-1.4 0l-.6 1.6l-2-.6l0-2l-1-.4l0-3l-1-2.6l0-4l1.6-4l-.6-8.4l-1-1l-1-3.6l-1.4-1.4l-2 .4l-1.6 4.6l.6 2l0 6.4l-1 2l1 2.6l-1 4.4l0 2.6l1 1l-1 1.4l.4 15l-2 3.6l0 10l-.4 .4l.4 5l7-.4l5.6-4l1.4 0l1.6-2l1.4 0l3-3l4.6-.6l1-2l7-6l3-.4l3-2.6l3-.4l1-2l4-3.6l1 1.6l2.4-2.6l7-3.4l2-2.6l3.6-1l5.4-4.4l1-2.6l3-.4l3.6-4l1.4 0l7-4l2.6-3l3.4-2.6l1-2l1.6 0l8.4-6.4l1.6 0l1.4-1l.6-1.6l2-.4l4-3.6l-1-.4l.4-1.6l3-1l.6 1l1-1l0-1.4l1.4-1.6l1.6 .6l4-3l1.4-2l1 0l2.6-2.6l0-1.4l2.4-1l1-2.6l1.6-.4l.4 .4l1-.4l1-2l2-.6l-.4-.4l.4-1.6l2 1l3.6-2.4l.4-3.6l2.6 0l1.4-1.4l2.6-.6l8-8l2.4-1.4l3.6-4l1-2l-.6-.6l7.6-5l.4-2.4l4.6-6z" fill="#d31651"/><path d="M1273.7 137.1l-2.4-.4l-6.6 1.4l-20 11.6l-18 13.4l-13 8l-10.4 8l-8.6 5l-2 2l-4 1.6l-6.4 5l-9.6 5.4l-2.4 2.6l-12.6 6l-7.4 6l-11.6 6.4l-6 4.6l-11 10l-8 4l-2.4 3l-3 7.4l-.6 14l1 1l3.6 0l1-1l2 0l2-1l3-3l2 0l1-2l2 0l1-2l6-2l3.4-4l1 0l3-3l4-1.4l9-7l3.6-1.6l5-4l4.4-2.4l10.6-8.6l14.4-10l9-7.4l12.6-8.6l5-5l9-6l5-5l11.4-9.4l3-1.6l3.6-3.4l4.4-3l13.6-13.6l5-6l1.4-2.4z" fill="#df2151"/><path d="M1265.7 141.1l-2 .6l-16 8l-23 16.4l-17 11l-3 3l-16.4 10.6l-2.6 2.4l-6.4 4l-6 5l-17 8l-5.6 4.6l-7.4 3.4l-10 7l-22 18.6l-2.6 5.4l0 4.6l-1 4.4l.6 4l.4 .6l6-.6l5.6-4l1.4 0l1.6-2l1.4 0l3-3l1.6 0l2.4-1.4l8.6-7l6-3.6l14.4-11l4.6-2.4l40.4-31l5-3l5-5l3-1.6l6.6-5l16-14l9.4-7l10.6-11l5-7.4z" fill="#ea3050"/><path d="M1257.7 148.6l-1.4-.6l-7.6 2.6l-40 27l-3 3l-16 10.4l-16.4 12.6l-8 4.4l-2.6 .6l-6 3l-4.4 3.4l-8.6 4l-11.4 8l-3 3l-4.6 3l-8 8l-4 2.6l-3 5l-.4 6l-1 2l.4 5l1.6 1l5-1l4.4-3.6l2-.4l1-1.6l2-.4l1-1.6l4.6-2l58.4-43l17.6-14l5.4-3.4l4-4l6-4l9.6-8.6l5-3.4l4.4-4.6l6.6-4.4l6-6l4-5.6z" fill="#f3454a"/><path d="M1252.7 152.6l-3-.6l-7 4l-32.4 21.6l-5 4.4l-9.6 6l-23 17l-5.4 3.6l-7 2.4l-6.6 4.6l-10.4 5l-9 6l-9 7l-9 9.4l-4 3l-2 4l0 3l-1.6 4l0 3.6l2 1.4l4-.4l2-1l9.6-7l5.4-3l12-9.6l13-9l2.6-2.4l5-3l40-31l5.4-3.6l4.6-4.4l3.4-2l12-10.6l5-3.4l16.6-15z" fill="#f86341"/><path d="M1245.7 158.1l-2 0l-3.4 2.6l-7 3l-6.6 5l-11 6.4l-48 34.6l-4.4 1.4l-7 4.6l-11 5l-11 7l-9 7l-5.6 7l-5.4 4.4l-3 5l0 1.6l-2 4.4l0 3l2 1.6l1.4 0l5-2l5-4l1 0l2-2l1 0l33.6-25.6l3.4-2l57.6-44.4l4.4-4.6l10-8l9.6-9.4z" fill="#f97f4c"/><path d="M1236.7 164.6l-2 0l-12.4 8.4l-8 4l-7.6 6l-10 6.6l-29 21l-24 12l-9 5.4l-9 7l-3.4 4l-2 4l-6.6 6l-3 5.6l-1 5l2 1.4l3-.4l13.6-8.6l59.4-45l17-14l3.6-2l22.4-19.4l5.6-5.6z" fill="#fb9d58"/><path d="M1221.7 176.1l-1.4-.4l-5.6 2.4l-7.4 6l-3 1.6l-15.6 11.4l-7 4l-14 10.6l-5.4 2.4l-4 3l-16 7.6l-9 5.4l-9 8l-3.6 6.6l-7.4 7l-2.6 4.4l-.4 2l.4 1.6l4 .4l4-2l17.6-12.4l11-9l16.4-12l5-4.6l12-8.4l3-3l16.6-12.6l3.4-3.4l5.6-3.6l4.4-4.4l6.6-5z" fill="#fcba6c"/><path d="M1217.7 179.1l-2 0l-6 5l-2.4 1l-19 13.6l-6.6 3.4l-9.4 7.6l-8 4.4l-5.6 4l-22 10.6l-5.4 4l-5 4.4l-3 6l-9.6 9l-2 3l-.4 4l3.4 .6l4-2l13-9l9.6-8l46.4-35.6l6.6-6l4.4-3l5-5l3.6-2l4-4.4l3.4-2z" fill="#fed587"/><path d="M1198.7 193.1l-9 6l-6.4 3l-12.6 9.6l-13.4 8.4l-10 5.6l-7.6 2.4l-6.4 4l-5.6 5l-2.4 5l-11.6 11l-2 3.6l0 2l3 .4l2.6-1l16.4-11.4l7.6-6.6l44.4-34.4z" fill="#fff0aa"/><path d="M1186.7 202.6l-3 .4l-5.4 4.6l-27.6 17.4l-15.4 7l-7.6 8.6l-13 12l-2.4 5l1 1l3-.6l11-7l36-28.4l4-4l11.4-8.6z" fill="#f8f8b0"/><path d="M1166.2 217.6l-6.6 2.4l-8 5.6l-13.4 7l-21.6 18.4l-2.4 3l-1 3.6l1.4 .4l4.6-2l11.4-8l27.6-23l2-1z" fill="#d0e98b"/><path d="M1160.7 221.6l-21 11.4l-18.4 14.6l-6.6 6.4l-1 2.6l2.6 .4l10-6l24.4-20z" fill="#9fd8a0"/><path d="M1151.7 228.1l-9.4 4.6l-15.6 11l-11 10l-1 2.4l1.6 .6l4-2l9.4-6.6l13-11z" fill="#66cca0"/><path d="M1145.2 233.1l-1.6 0l-3 1.6l-16.4 11.4l-7.6 7l-1 2.6l1.6 0l4-2l8-5.6l12.4-11z" fill="#1fc59c"/><path d="M1138.7 238.1l-9 4.6l-10 8l-2.4 3l0 1l4-1.6l8-5.4z" fill="#189bae"/><path d="M1133.2 242.1l-7 3.6l-6.6 6l-.4 1.4l3.4-1.4l6.6-4.6l3.4-3.4z" fill="#2378b2"/><path d="M1130.7 244.1l-5.4 3l-3.6 4l6-3.4z" fill="#445ca8"/></g>
<g clip-path="url(#cpc)" fill="none" stroke-linecap="butt">
<path d="M1108.3 261.3L1365.0 53.6" stroke="#9a9a9a" stroke-width="1.4"/>
<path d="M1108.3 253.2L1365.0 76.4" stroke="#111" stroke-width="1.7"/>
</g>
<rect x="1095.4" y="43.3" width="282.3" height="228.7" fill="none" stroke="#a4a4a4" stroke-width="1.4"/>
<path d="M1108.3 272.0v3M1095.4 261.3h-3M1159.9 272.0v3M1095.4 219.6h-3M1211.5 272.0v3M1095.4 177.8h-3M1263.1 272.0v3M1095.4 136.1h-3M1314.7 272.0v3M1095.4 94.3h-3M1366.3 272.0v3M1095.4 52.6h-3" stroke="#555" stroke-width="0.9"/>
<g font-family="Liberation Serif, serif" font-size="14.3" fill="#1a1a1a">
<text x="1108.3" y="287.8" text-anchor="middle">0.0</text>
<text x="1090.4" y="266.5" text-anchor="end">0.0</text>
<text x="1159.9" y="287.8" text-anchor="middle">0.2</text>
<text x="1090.4" y="224.8" text-anchor="end">0.2</text>
<text x="1211.5" y="287.8" text-anchor="middle">0.4</text>
<text x="1090.4" y="183.0" text-anchor="end">0.4</text>
<text x="1263.1" y="287.8" text-anchor="middle">0.6</text>
<text x="1090.4" y="141.3" text-anchor="end">0.6</text>
<text x="1314.7" y="287.8" text-anchor="middle">0.8</text>
<text x="1090.4" y="99.5" text-anchor="end">0.8</text>
<text x="1366.3" y="287.8" text-anchor="middle">1.0</text>
<text x="1090.4" y="57.8" text-anchor="end">1.0</text>
</g>
<text x="1236.6" y="309.5" font-family="Liberation Serif, serif" font-size="22.4" text-anchor="middle" fill="#000">Ground Truth</text>
<text transform="translate(1064.7 157.6) rotate(-90)" font-family="Liberation Serif, serif" font-size="22.7" text-anchor="middle" fill="#000">EDCSTFN</text>
<text x="1041.4" y="26.2" font-family="Liberation Serif, serif" font-size="27" fill="#000">(c)</text>
<g font-family="Liberation Sans, sans-serif" fill="#000" stroke="#000" stroke-width="0.12">
<text transform="translate(1111.31 69.0) scale(0.937 1)" font-size="19" font-style="italic">y</text>
<text x="1146.0" y="69.0" font-size="19" textLength="53.9" lengthAdjust="spacingAndGlyphs">0.851</text>
<text transform="translate(1201.31 69.0) scale(0.934 1)" font-size="19" font-style="italic">x</text>
<text x="1236.4" y="69.0" font-size="19" textLength="53.4" lengthAdjust="spacingAndGlyphs">0.039</text>
<text transform="translate(1110.22 99.6) scale(0.821 1)" font-size="19" font-style="italic">R</text>
<text transform="translate(1125.30 92.6) scale(0.948 1)" font-size="12.5">2</text>
<text x="1158.2" y="99.6" font-size="19" textLength="65.3" lengthAdjust="spacingAndGlyphs">0.8899</text>
</g>
<path d="M1127.3 61.8h12.7M1127.3 65.3h12.7M1217.7 63.2h12.2M1223.8 57.1v12.5M1139.1 92.8h12.7M1139.1 96.6h12.7" stroke="#000" stroke-width="1.45" fill="none"/>
<clipPath id="cpd"><rect x="58.4" y="359.5" width="282.3" height="228.7"/></clipPath>
<g clip-path="url(#cpd)"><path d="M91.7 531.8l-.4 1.4l2 1l1-1.4zM95.7 529.2l0 2l.6 0l.4-1.4zM90.7 527.8l-1.4 0l-1 2l-1.6 0l2 1zM105.7 520.8l0 .4l1.6 0l0-.4zM98.7 520.2l.6 1.6l3 .4l-1-2zM103.7 514.2l1 2l1.6 0l-1-1.4zM78.2 507.8l0 1l1 .4l0-1.4zM167.2 482.2l-1.6 .6l1 .4zM74.2 479.8l-1 3l0 3.4l1 .6l0-1.6l1-1l2.4 0l0-1.4l-1-.6l0-2zM252.7 441.8l-1 3l1.6-1zM249.2 429.8l-2.6 .4l-4 4.6l-1 0l-1.4 1.4l-7.6 1.6l.6 2l-1 1l-2 .4l-1.6-.4l0 1l-1.4 1.4l-1 0l-1 1.6l-1 .4l-3.6-.4l0 1.4l1.6 2l-.6 1l-1.4 1l-1.6-2l-2 3l-2 0l-1.4 1.6l-1 0l-.6 2.4l-1 1l-3 .6l-1-1l-1.4 0l-2.6 4l-1.4-.6l-1.6 1l1 1.6l-2 1l-1.4 3l-1 .4l-2-.4l0 2l-.6 .4l-1-.4l-1.4 1.4l-3-.4l-.6 2.4l-5 1.6l-1 1l.6 1l-.6 .4l-1.4 0l-1.6 1l.6 2l-1.6 1.6l-2-1.6l0 2.6l-1 1l-1.4 0l-2 2l-2 .4l-1 2l.4 1.6l-1.4 1l-2-2l-2 0l-1 1l.4 1.4l-3.4 3.6l-3-.6l-1.6 .6l.6 1.4l-1 .6l-1.6 4l-1 0l-1.4 1.4l-3 .6l-1 1.4l-3.6-1l0 1l2.6 2.6l-1.6 1l-1-1.6l-2.4-.4l-.6 .4l2 2l-1.4 2l-2-2l-1.6 .6l1 2l-.4 .4l-1.6-.4l-.4-1l-1 1.4l.4 2.6l-4 1.4l0 2l-3.4 3l-1.6-.4l-.4-1l1-2l-1.6-.6l-2 3.6l-2-.6l-3 2l-.4 2.6l-1.6 1l-1.4-1.6l-1 1l0 2l-2 .6l-1.6 1.4l1 2.6l-2.4 .4l-1 3.6l-3.6 1.4l-1.4 0l-1-2l-1.6 .6l-1 1l0 1.4l-2.4 1l1.4 1.6l-3 1.4l-3.4 4.6l-1 0l-1-1.6l0-2l1-2l-1.6-2l1.6-1l0-1l-2-1l-1.6 2l1.6 4.6l-1 3l0 1.4l1 1.6l0 3l-2.6 1l-.4 3.4l-1.6 .6l0 1l-1.4 1.4l-1-.4l.4-5l-3.4-5.6l0-2.4l3.4-3l1 .4l.6-1l-3-1l0 1.6l-1 .4l-1-1l0-1.4l1.4-.6l0-1.4l2-1.6l-.4-1l-2-1l0-2l3-2l.4-1.4l-2-1l-1.4 1.4l-2.6-2.4l0-1l1.6-1.6l-.6-1l.6-1.4l2-.6l1.4 1.6l0-1.6l-1.4-1l0-2l-1-1l1.4-1.4l-.4-1.6l-1-1l-2 1.6l-2-1.6l.4-2l-1-2l1.6-2l1 0l.4-2l-1-1l0-1.4l-2-1.6l1.6-1.4l0-1.6l1-1.4l-.6-2.6l-2-2l1.6-2.4l-2 0l-1 2.4l2.4 3l-2.4 2l1 3.6l-1.6 2l0 1l2 1.4l-2 2.6l0 6l2 2.4l0 1l-2 2l.6 3.6l-.6 11.4l-.4 .6l1 8l-1 2l.4 .4l-.4 3.6l1 2l-1 6.4l.4 4.6l-.4 .4l0 8.6l-2.6 6l0 3.4l1 1l4.6 0l7-2l1 .6l2-1.6l1-2l2.4 1l2-2.4l1.6 0l2.4-1.6l0-2l1-1l1.6 0l2-2l1.4 .6l2-2l2 0l2-4l3 0l.6-1.6l3 .6l3-3.6l4.4 0l-1-2.4l1.6-1.6l2 0l1-1.4l3-1.6l1.4 0l0-1.4l1-1l1.6 0l.4-2.6l2-2.4l2-.6l1.6 2.6l2.4 .4l0-1.4l-1-1l.6-2l4-1.6l2 1l-.6-1l-.4 .6l-.6-1.6l.6-.4l1.4 .4l1.6-1.4l3.4-1l0-1.6l2-3l3.6 .6l.4-.6l-1-2l.6-1l2-.4l1 1l2 0l.4-1.6l2.6-2.4l.4-2.6l1.6 0l1-2l1.4 1l1.6 0l1.4-2.4l-2.4-.6l.4-1.4l3.6 1l4-4l2.4-1l2-2.6l1 0l2.6-2.4l2.4-1l2 .4l-1-2l1.6-3.4l3 1l2 2.4l0-2l-2-1.4l0-1.6l1-1l2.4 1l2.6-.4l2.4-3l0-2.6l2.6-1l1-2.4l2 1l2-1.6l1-5l2 .6l1 2l1 .4l1.4-4l-1-1.4l.6-.6l3.4 .6l.6-1l1 0l4-7l2.4 1.4l0 1.6l1 0l.6-1l-1.6-1.6l-.4-2l1.4-2l2 0l1.6-1.4l-1.6-.6l.6-1.4l2.4 1l1 2l1-.6l-1-1l0-2l4.6-4l0-1.4l-1.6-1.6l1.6-.4l1.4 1l2-1l1-2l2.6-2l.4-6l1-1l1.6 0l2-2.6l-2-4l1-1l2 .6l1.4-.6l-.4-2l-1.6 0l-1-1l0-3.4l-2-.6l1.6-2zM143.7 534.8l1-.6l.6 1l-1 .6zM79.7 534.8l-1.4 2l-2-.6l1-1.4l1.4-.6zM75.2 531.8l.4-.6l.6 1l-.6 .6zM159.7 524.2l1.6-.4l.4 1.4l-1 .6zM75.2 513.8l2-.6l2 2.6l-1.6 1.4l-2 .6zM181.7 475.2l1-1l1 1l-1 1z" fill="#c00a4e" fill-rule="evenodd"/><path d="M321.6 369.8h0m-3.2 4.4h0m7.2-.7h0m-52.7 2.9h0m52.2 .4h0m-65 1.5h0m55 .7h0m.5 .8h0m-11 4.7h0m15.3 .5h0m-68.2 1.3h0m64.4 1.7h0m-19.1 .5h0m17 .9h0m-19.3 3h0m5.4 1.5h0m-23.1 .8h0m46.3 .3h0m.7-.3h0m-42.7 1.7h0m19.2 .8h0m-9.7 .5h0m19.3 .4h0m-29.2 .9h0m22.5 .4h0m-37.4 .4h0m28.4 0h0m23.3 .1h0m-84.4 .8h0m71 .1h0m2.5-.1h0m1.9 0h0m19.6 0h0m-66.4 3.1h0m3.6 .6h0m4.7 .5h0m1.2 .6h0m7.4-.2h0m13-.4h0m6.6 .3h0m17.1 .1h0m-55.4 .8h0m.7-.3h0m26.5 .4h0m26.4-.6h0m3.2 .5h0m6.9-.3h0m-52.2 1.3h0m2.3 .2h0m.7-.1h0m26.8-.6h0m2.4 .7h0m-34.3 1.2h0m2.5-.7h0m25.8 .2h0m.2 0h0m5.6 .1h0m2.6-.2h0m-44 1.5h0m10.4-.4h0m26.9 .7h0m-78.2 1.1h0m28.3 0h0m15.1 .2h0m32.1 0h0m-44.4 .8h0m8.3 .7h0m15.2-.8h0m12.1 .4h0m21.8-.5h0m-37.2 1.6h0m8.7 0h0m8.1 .2h0m15.1 0h0m-85.7 .6h0m50.2 .1h0m16.6 0h0m-25.6 .9h0m3.3-.2h0m2.3 .3h0m.3 .3h0m2.6-.9h0m2.3 .7h0m3.3 .2h0m.8-.5h0m-29.7 1.5h0m10.1-.8h0m15.5 .2h0m13.2-.2h0m.2 0h0m4.9 .6h0m-55.4 .7h0m4.6 .5h0m9.6-.7h0m6-.1h0m4.2 .7h0m.2 0h0m16.7 0h0m.1-.2h0m-6.2 .8h0m15.2 .2h0m3.9-.6h0m1.5 .7h0m-76.9 .7h0m33.1 .3h0m5.7-.3h0m3.7 .4h0m9.7-.3h0m1.3 .4h0m3.5-.3h0m7.5-.6h0m.1 .6h0m.2 .2h0m12.1-.4h0m13.2-.1h0m-58.3 1.6h0m5.8-.7h0m1.7 .7h0m7.5-.9h0m12.1 .6h0m13.8-.4h0m.3 .6h0m29.9-.1h0m-72 .9h0m15.5 0h0m2 .2h0m.8-.7h0m4 .9h0m1.6-.3h0m0 .1h0m6.8-.1h0m.8 .2h0m3.3-.1h0m.3-.8h0m3.2 .8h0m25.4-.8h0m-66.1 1.8h0m19.6 .2h0m.5-.5h0m2.6 .1h0m.1-.1h0m.5-.3h0m18 .2h0m13.7 .4h0m-57.6 .3h0m8.6 .2h0m2.9 0h0m13 .3h0m7.4-.3h0m4.6 .5h0m.2 .2h0m3.3-.2h0m35 .1h0m-84 .9h0m9.5 .1h0m3.5-.4h0m2.3 .3h0m3-.3h0m.6-.4h0m2.6 .8h0m2.1 0h0m6-.4h0m1.2-.3h0m2.3 .7h0m.2-.3h0m.3 .3h0m2.9-.7h0m12.4 0h0m1.3 .3h0m-34 .9h0m8.2 .6h0m.9-.2h0m1.2-.5h0m5 .4h0m5.7-.2h0m.7 .2h0m1.3 .2h0m1.6-.6h0m17.3 .3h0m.4 .2h0m-51.8 .3h0m10.7 .2h0m4.9-.2h0m.3 .8h0m1.7-.4h0m2.7 .1h0m3.1-.5h0m.8 .2h0m3.2 .3h0m5.8 0h0m5.2-.5h0m1.8 .3h0m.2 .5h0m7.1-.3h0m-51.6 1h0m5.8-.1h0m3.5-.3h0m15.7 .5h0m1.6-.6h0m2.3 .9h0m.5-.7h0m4-.2h0m.9 .1h0m1.2-.1h0m.7 .1h0m-46.2 1.6h0m12.1-.1h0m6.4 .2h0m6.8-.3h0m1.7 .2h0m3.2-.1h0m1.7-.2h0m1.8-.4h0m.1 .5h0m.6-.2h0m.6 .2h0m2.6-.1h0m.3-.1h0m12-.3h0m.3-.1h0m15.3 .3h0m17.9 .3h0m-72.4 .5h0m6.2 .9h0m4.4-.3h0m2.9-.6h0m2.3 .3h0m1.5 .2h0m3.2-.2h0m.5 .5h0m.8-.6h0m1.5 .4h0m4.2-.3h0m2.6 .2h0m1.1 .4h0m1 0h0m.2-.8h0m2 .5h0m3.9-.4h0m1.9 0h0m3.7 .2h0m12 0h0m-63.4 .8h0m9.1 .3h0m2.9 .1h0m2.3-.4h0m.8-.2h0m.8 .6h0m4.5-.6h0m4.3 .4h0m4.2-.2h0m5 .1h0m.2 .1h0m.3 .1h0m.3 0h0m1.2 0h0m1-.1h0m.3-.4h0m3.9 .4h0m34.6-.4h0m-67.3 1.6h0m3.1-.3h0m1.1 .2h0m.3 .4h0m.2-.9h0m1 0h0m5.6 .8h0m.1-.4h0m4.8-.4h0m.7 .4h0m4.5-.4h0m0 .3h0m7.3-.3h0m3.2 0h0m9.6 .6h0m-47.1 1.3h0m2.7-.9h0m8.1 .1h0m0 .7h0m1.1-.6h0m4.7-.2h0m9.1 .1h0m.2 .4h0m10.2 .1h0m5.5 .1h0m3.3-.3h0m2.9 0h0m2.3 .2h0m2.5 .2h0m46.5 .1h0m-98.3 .5h0m3-.1h0m2.3-.2h0m.5 .6h0m.8-.6h0m3.7 .5h0m.7-.1h0m2.9 .4h0m5.6-.1h0m1.1-.7h0m.3 .6h0m3.5 0h0m3-.7h0m6.2 .2h0m6.9-.2h0m2 .1h0m-54.2 1.7h0m9.1-.6h0m9.1 .3h0m.3-.2h0m1 .5h0m.1-.7h0m.4 .6h0m1.9-.1h0m.7-.6h0m.3 .8h0m.8-.3h0m10.4-.5h0m1.6 0h0m1.1 .4h0m2.4 .4h0m.4-.4h0m2.5 .1h0m1.6-.5h0m.6 .3h0m.5 .4h0m3.8-.2h0m.1 .1h0m2.4-.1h0m.8 .3h0m.1-.3h0m8.5-.1h0m-57 1h0m2.6 .4h0m8.8 .1h0m4.1-.1h0m.7-.6h0m14.3 .1h0m.1 .2h0m1 .1h0m.3-.3h0m2.7 .3h0m1.2-.2h0m.6 .4h0m1.6-.8h0m0 .7h0m.6-.7h0m2.4-.1h0m.3 .4h0m3.8-.4h0m4 .1h0m4.1 .1h0m.5 .6h0m2.1 .1h0m3.6-.1h0m-67.9 .4h0m3 .7h0m6.7 0h0m5.4 0h0m4.8-.2h0m.7-.4h0m1.2-.1h0m.3-.1h0m.2 .3h0m.9-.1h0m.9 0h0m2.2 .4h0m12.6 .2h0m1.8-.2h0m1.3-.5h0m.1 .6h0m.7-.4h0m.3 .4h0m2.4 .1h0m1.1 0h0m.6-.1h0m2.3-.6h0m.2 .2h0m.3-.1h0m2.7 .6h0m2.1-.5h0m4.4 0h0m.1 .5h0m11.8 0h0m-63.7 .6h0m1.3 0h0m0 0h0m10.9 .5h0m.6-.4h0m10.3-.6h0m8.1 .3h0m1.7-.2h0m1.4 .6h0m.1-.5h0m3.7 .8h0m2.2 0h0m.5-.9h0m3.2 .8h0m.7-.6h0m-41.9 1h0m2.5-.3h0m2.2 .6h0m4 .2h0m.4-.7h0m23.5 .8h0m1.5-.4h0m2.9-.2h0m.6 .6h0m0 0h0m1.8-.9h0m.4 .9h0m.4-.1h0m.2-.1h0m8-.4h0m1.7 .4h0m-55.2 .8h0m7.3 .4h0m3.1-.2h0m.7 .3h0m.7-.3h0m2.8-.5h0m22.1 .4h0m2.3-.2h0m.4 .1h0m4.6 0h0m.3 .1h0m6.2-.5h0m.9 .2h0m-63.7 1.2h0m2.4-.3h0m2.4 0h0m7.2 0h0m5 .1h0m6.5-.3h0m.2 .3h0m2.2-.3h0m.8 .3h0m.6 .5h0m21.1-.2h0m1.5 .3h0m5.7-.5h0m26.1 .4h0m-85.1 .5h0m7.1 .1h0m11.1-.3h0m1 .7h0m2.4-.3h0m2-.4h0m.4-.1h0m.4 .8h0m2.1 .1h0m20.8-.4h0m.5-.1h0m.2-.2h0m.7-.1h0m4.7 .5h0m5.5 .1h0m4.4-.1h0m.6 .4h0m3.7-.3h0m3.4 0h0m-53.3 .5h0m2.7 .5h0m1.6 .2h0m.4 0h0m2.7-.1h0m22.6-.6h0m2 .2h0m4.1 .6h0m1-.8h0m.9 .2h0m.2 .5h0m.4-.4h0m2.8-.1h0m2.5 .4h0m.4-.1h0m1.8-.1h0m1.7 .3h0m1.1-.3h0m11.6 .1h0m-77.3 .5h0m11.1-.2h0m4.6 .1h0m5 0h0m2.2 0h0m.3 .9h0m27.6-1h0m1.7 .5h0m.3-.5h0m.5 .1h0m2.9 .1h0m1.5 .2h0m.1-.1h0m7.7 .1h0m-57 1.6h0m3.3 0h0m1.9-.2h0m3-.3h0m1.1 .2h0m1.6 0h0m1.5-.6h0m1 .1h0m24.9 0h0m1.2 .7h0m4.1-.1h0m.9-.2h0m1.3-.3h0m2.6 .4h0m1.3-.4h0m23.3 .7h0m-84.4 .7h0m10.7-.1h0m4.2-.3h0m1.6 .6h0m3.1 0h0m.7-.9h0m30.8 .8h0m1.6 0h0m2.9-.1h0m1-.5h0m.7 .8h0m1.4-.7h0m2.3 .2h0m1.6-.1h0m.8 0h0m.4-.3h0m.5 .2h0m.7-.2h0m1.6 .9h0m1.5-.1h0m-69.8 .7h0m8.7-.5h0m1.5 .8h0m2.9-.7h0m5.8 .6h0m0-.7h0m37.4 .2h0m4 .6h0m0-.7h0m1.4 0h0m1.1 .2h0m3.6 .2h0m6.3-.5h0m.5 .9h0m19.1-.8h0m-157 1h0m78.5 .1h0m.6 .6h0m.6-.3h0m.4 .1h0m1.1 .1h0m.1-.7h0m1.9 .3h0m1.7 .4h0m.1 0h0m.2-.8h0m.9 .8h0m.8 0h0m1 .1h0m29.5-.2h0m.4 .1h0m1.4-.2h0m1.9 0h0m1 .1h0m.4-.2h0m5-.2h0m6.9 .4h0m6.3-.4h0m-75.5 1.7h0m7.4-.3h0m4.4-.1h0m2.2-.2h0m4.3 .2h0m30.9 .2h0m1.8-.1h0m.5-.6h0m2.1 .4h0m2-.4h0m1 .2h0m1.5-.1h0m.2-.2h0m4.9 .2h0m9.8 .3h0m-82.8 1.2h0m4.9-.1h0m10.1 .2h0m4.1-.5h0m2.4 .6h0m4.1-.3h0m.3-.2h0m2.8-.4h0m2 .2h0m1.6 .6h0m25.1-.6h0m1.2-.1h0m.8 .9h0m1-.6h0m.1 0h0m.1 .3h0m1.9-.6h0m.5 .6h0m.1 0h0m.5-.5h0m2.4 .7h0m1.6-.5h0m1.5-.2h0m4.9 .4h0m19.6 .2h0m-81.1 .9h0m5.5 .2h0m.1-.8h0m7.3 .4h0m1.1 .5h0m.8-.9h0m1 .9h0m31 0h0m0-.9h0m.2 .6h0m3.3-.6h0m1.9 .2h0m1-.1h0m3.6 .1h0m12.9 .2h0m1.7-.1h0m.6-.3h0m-72.6 1.6h0m1.1 .1h0m1.1-.4h0m.2 .5h0m.2-.5h0m.6 .3h0m3.8-.5h0m4.5 .4h0m1.8 .4h0m1.2-.5h0m.9 .4h0m30.2-.7h0m1.2 .2h0m5 .4h0m.7-.1h0m.1 0h0m1.1-.1h0m2.8 .3h0m2.8-.6h0m2.4-.2h0m-74.8 1.8h0m14.5 0h0m3.3-.6h0m2 .4h0m.5-.5h0m.4 .3h0m2 .1h0m1-.6h0m34 .8h0m.4-.4h0m3-.2h0m.5 0h0m2.9 .6h0m.4 0h0m.1-.6h0m18 .7h0m-79.5 .6h0m6 .5h0m2.3-.5h0m7.5-.2h0m1.2 .2h0m2.8 .1h0m.2 .2h0m34.6-.4h0m5.9 .2h0m.9 .1h0m6.5-.1h0m1 .3h0m-184.5 .5h0m2.6 .3h0m49.2 .1h0m81.1-.5h0m.7-.3h0m1.1 .4h0m35.2-.3h0m2.6 .1h0m.3 .6h0m3.2 0h0m5.2-.2h0m5.4 .4h0m-107.3 .8h0m31.5-.3h0m8.3 .4h0m3.5 0h0m8.1-.4h0m1 .3h0m.7-.6h0m.4 .2h0m2.7 0h0m35.8 .2h0m3.3 0h0m.1 .4h0m.2-.6h0m3.2 .4h0m.9-.6h0m1.3 .5h0m1.8-.1h0m0 .1h0m-175.7 1.3h0m103.2-.2h0m5.2 0h0m.3-.6h0m3.7 .5h0m3.2 0h0m2.4-.2h0m1.6-.3h0m0 .4h0m.4-.1h0m1.3 0h0m41.3 0h0m.5-.4h0m1.3 .6h0m3-.6h0m7.2 .3h0m2.6 .4h0m.3-.6h0m4.8 .5h0m-134.4 .8h0m61.2 .4h0m51.5-.4h0m2.2 .2h0m1.5 .1h0m-172.6 .6h0m1.2 .6h0m.2-.9h0m.5 .3h0m.5 .4h0m58.5-.1h0m41.7 .1h0m8.7-.5h0m2.8 .2h0m.9 .5h0m.6-.8h0m4.3-.1h0m.5 .5h0m1.9-.2h0m2.3-.1h0m1.4 .2h0m1.2-.5h0m1 .2h0m40.5 .6h0m3-.7h0m1.4 .3h0m2.5 .1h0m-176.7 .8h0m.3-.1h0m2.7 0h0m3.9 .3h0m49.4 .4h0m7-.5h0m26.1 .5h0m18.4-.1h0m3.1-.5h0m10.8 0h0m0 0h0m.1 .5h0m5.2-.5h0m2.2 .3h0m1.1 0h0m39 .1h0m.6 .1h0m.8-.5h0m2.4 .3h0m3.6-.6h0m.3 .3h0m5.7 0h0m5.8 .4h0m-187.8 .4h0m7.7 .6h0m105.6 .2h0m5.4-.2h0m1.2-.2h0m.4-.1h0m3.2 .5h0m.7-.5h0m1.1-.3h0m.7 .4h0m38.3-.1h0m1.6-.3h0m.5 .8h0m.6 0h0m1.2-.1h0m3.6 .2h0m1.4-.5h0m9 .2h0m.6-.3h0m-183.5 1.3h0m4.3-.3h0m.3 .3h0m1.3-.4h0m102.1 .5h0m1.4 0h0m4.4-.6h0m.9 .6h0m1.6-.7h0m4.8 .6h0m.2 .1h0m.8-.7h0m2.2 .7h0m41.5 .2h0m3.3-.5h0m.7 .3h0m1.8-.2h0m1.1-.5h0m.8 .1h0m.3 .2h0m1 .3h0m3.6 0h0m.4-.1h0m6.7 .3h0m3.6-.7h0m6.3 .3h0m-190.5 1h0m58.2 .3h0m16.7 .1h0m29.6 0h0m9.7-.3h0m1.7 .4h0m2.3-.5h0m1.1 0h0m.6-.4h0m.5 .5h0m2.5-.3h0m38.2-.1h0m2.5 .2h0m.2-.2h0m.8 .6h0m.5-.7h0m.6 0h0m1.6 .6h0m11.2-.2h0m3.9 .3h0m7.6-.6h0m-195 1.2h0m5.4 .2h0m2.2 0h0m100.8 .4h0m3.4-.3h0m5.1-.1h0m3.6-.3h0m.9 .4h0m1.9-.4h0m0 .2h0m44.2 .4h0m1.1-.8h0m1 .1h0m3.1-.1h0m2.4 .4h0m0-.4h0m1.4 .3h0m4.8 .6h0m1.4-.1h0m-180.6 .5h0m.3 .1h0m.1 .4h0m.1-.3h0m3.5-.5h0m2.5 .7h0m.4-.5h0m4.5 .5h0m70.8-.3h0m25.1 .5h0m4.5-.2h0m5.2-.4h0m1.3 .3h0m.1 .1h0m.5-.8h0m2.6 .8h0m1.8-.1h0m39.8 0h0m7.4-.2h0m6.5 .3h0m9.5-.2h0m-188.1 .8h0m.7 .5h0m.5 0h0m4.8-.9h0m2.7 .2h0m54.3 .5h0m3.9-.2h0m.6 .3h0m34.1-.5h0m8.9 0h0m1.5-.3h0m2.9 .6h0m2.9-.3h0m.1-.3h0m2.7 .8h0m.4 0h0m2-.5h0m40.6 0h0m2 .4h0m2.7 0h0m1.6 0h0m2.6 .1h0m2.7-.5h0m.6 .3h0m7.2-.2h0m-183.4 .7h0m.3 0h0m10.7 .5h0m.6 .3h0m87.3-.1h0m4.8-.6h0m1.8 .4h0m3.1-.1h0m.1 .2h0m2.2-.1h0m.5 .1h0m1.3 .1h0m.7-.6h0m4.6 .1h0m2.4 .5h0m.1-.5h0m42.1 0h0m1.6 .3h0m2-.5h0m.8 .5h0m2.4-.5h0m3.3 .6h0m.7-.1h0m4.7 .3h0m6.1-.6h0m-179.2 .9h0m4.9 .3h0m35.5 .3h0m19-.2h0m43-.1h0m.2 .2h0m.8 .3h0m.2-.4h0m1.1-.3h0m3.8 .6h0m.2-.4h0m2-.1h0m.5 0h0m2.3 .1h0m39.5-.1h0m4.7 .4h0m3.4-.7h0m2.5 .7h0m3.2 .2h0m-171.7 .6h0m2.3 .2h0m3.3-.1h0m57.8-.6h0m5 .4h0m35.1 0h0m.5-.2h0m4.2 .5h0m3.4-.6h0m1.8 0h0m.9 0h0m.2 0h0m.6-.2h0m0 0h0m43.5 .4h0m5.3 .5h0m.1-.2h0m1.6-.1h0m1-.2h0m1.5 .4h0m1.9-.2h0m2-.5h0m2.6 0h0m-172 1.5h0m.9-.4h0m43.5 .7h0m5.5-.4h0m4.3-.3h0m9.6 .5h0m35.5 .1h0m57.4-.1h0m1-.5h0m2.9 .3h0m2.6-.1h0m.1 .1h0m54.2 .4h0m-220.3 .1h0m0 1h0m1-.6h0m4.5 0h0m6.5-.1h0m39.9-.3h0m4.7 .7h0m7.9-.5h0m40.2 .2h0m2 .2h0m1-.6h0m2.4 .8h0m1-.4h0m48.9 .4h0m10.3-.1h0m3.1-.6h0m4.2 0h0m.2 .1h0m-171.9 1.5h0m3.7 0h0m39.3-.1h0m8.5-.2h0m8.4 .5h0m26.2-.2h0m1 .1h0m9.8-.4h0m6.5 .3h0m3.5-.1h0m.6 .4h0m.4-.4h0m.8 .1h0m.2-.6h0m41 .8h0m1.7-.4h0m.3-.4h0m4.7 .4h0m.2-.4h0m3.8 0h0m1.1-.1h0m14.9 .8h0m8.9-.4h0m-191 1.3h0m3 .1h0m.1-.2h0m.7-.4h0m7.6 .2h0m45.3-.3h0m10.6 .6h0m32-.3h0m1.5 .1h0m2.8 .3h0m4.1-.8h0m.8 .2h0m.6 .5h0m44.7-.3h0m2.4 0h0m.2-.2h0m1 .2h0m3.6 .3h0m0-.4h0m1.2 0h0m4-.2h0m2.5 .4h0m4 .2h0m-170.9 1h0m.9-.7h0m1.7 .9h0m1.3-.3h0m59.3-.1h0m3.1 0h0m7.6 .4h0m24.2-.3h0m3.6 .1h0m.8 0h0m4.6-.6h0m45.3 .2h0m2.6-.3h0m1.1 .6h0m5.2-.4h0m4.4 .4h0m1.9 .1h0m1.6-.3h0m-169.8 1h0m1.7 .1h0m.5 0h0m.1-.1h0m2.2 0h0m.6-.2h0m2.7 .2h0m53.8 .5h0m33.8-.1h0m1.6-.1h0m3.5-.4h0m1.4 .3h0m.1-.3h0m.4 .1h0m1.5-.2h0m.2 .1h0m2 .6h0m1 .1h0m45.7-.5h0m1.2 0h0m2.9 .1h0m.1 0h0m.2 .1h0m.8 0h0m-159.6 1h0m3 .3h0m2.9-.1h0m.4 .1h0m53.2-.9h0m8.6 .3h0m26.8-.1h0m.6-.1h0m5.3-.1h0m1.2 .2h0m1 .1h0m2.7-.1h0m.1 .2h0m1.4-.2h0m.7 0h0m1.6-.2h0m1.2 .5h0m40.2 .2h0m.6-.1h0m1.5-.4h0m5.2-.2h0m.9 .9h0m2.1-.8h0m.9 .7h0m2.5-.8h0m1.1 .5h0m3.8-.4h0m-169.5 1.7h0m.2-.1h0m1.1-.5h0m1.1 .5h0m1-.8h0m1.1 .9h0m.7-.8h0m30.6 0h0m12.9 .7h0m3.7 .1h0m2.6-.4h0m9.4 .4h0m4.6-.4h0m26.5-.4h0m3.6 .6h0m4.8-.3h0m1.2-.1h0m.3 .7h0m56-.9h0m8.7 .6h0m9.5-.4h0m-178.9 1.1h0m.7 .1h0m.1 .3h0m.4 0h0m2.7-.4h0m1.7 .5h0m.2-.5h0m.2-.4h0m2.8 .9h0m23.5-.4h0m4.1 0h0m13.1 .1h0m3.4 0h0m3.2-.2h0m12.8 .3h0m23 .1h0m.2-.4h0m2.1-.3h0m4.1-.1h0m.4 .2h0m2.8 .4h0m.9-.2h0m1-.4h0m46 .3h0m.8 .1h0m.4 .4h0m.4-.5h0m1.5-.2h0m.2 0h0m3.8 .8h0m1.4-.5h0m.7 0h0m.2 0h0m-159.4 1.4h0m.4 0h0m1.4-.8h0m3.3 .8h0m.1-.4h0m1.8 .3h0m35.7-.5h0m15 .3h0m.4 0h0m.3-.2h0m2.2 .3h0m2 .1h0m7.4-.4h0m21.8 .5h0m5.5-.2h0m1.1 .1h0m4.2-.7h0m1.7 .2h0m46.9-.1h0m7.2 .5h0m.5-.1h0m.1-.1h0m-159.1 1.4h0m2.7-.2h0m.5-.1h0m2.1-.1h0m2.7 .1h0m2.8-.1h0m.5 .3h0m24.4-.5h0m9.8-.2h0m3.2 .8h0m5.4-.3h0m18.3 .4h0m17.6-.6h0m2.5 .2h0m0-.1h0m4-.2h0m.2 .4h0m2-.2h0m1.2 .4h0m.6-.1h0m1.2 .1h0m0-.2h0m.4-.5h0m.6 .5h0m2.8-.5h0m43.9 0h0m.2 .2h0m3 .6h0m.1-.2h0m.4-.3h0m.2 0h0m2.1-.1h0m0 .6h0m4.3 .1h0m-155.3 .2h0m.4 .3h0m.2 .3h0m2.7 .1h0m3.3-.7h0m28.3 .1h0m.7 .1h0m13.3 0h0m0-.3h0m1.7-.1h0m2.6 0h0m2.5 .9h0m30-.9h0m2 .1h0m.9 .6h0m4.3-.1h0m2.6-.1h0m.5-.2h0m48.2-.2h0m1.8 .2h0m3.2 .2h0m2-.2h0m5.2 .6h0m2.5-.1h0m15.8-.5h0m15.1 .7h0m-193.9 .7h0m4.7 .1h0m.7-.6h0m2.1 .4h0m31.3 .3h0m6-.8h0m10.6 .8h0m2.9-.4h0m2.5-.3h0m2.6 .1h0m.5 .3h0m9.8-.6h0m8.9 .1h0m2.5 .2h0m6.2-.3h0m1.2 .8h0m2.3 .1h0m6.2 .1h0m1.2 0h0m43.5 0h0m1.1-.3h0m1.8-.3h0m.6-.2h0m5-.1h0m.8 .2h0m2.6 .1h0m1.7 .1h0m-159.3 1.2h0m5.1-.6h0m2.3 .3h0m1.2-.1h0m3.3 .4h0m29.1-.2h0m6.5 .2h0m.6-.6h0m.9-.1h0m1.7 .4h0m8.1 .3h0m1.9-.2h0m22.9-.2h0m8.6 .2h0m1.2 .4h0m1.5-.3h0m.7-.2h0m1.4 0h0m.3 .1h0m1.2-.4h0m.6 .4h0m44.1 0h0m3-.1h0m1.2 .1h0m1-.2h0m0 .6h0m1.7-.5h0m6.2 .4h0m2.1-.7h0m.1 .5h0m4.2 .2h0m-154.8 1.1h0m.1-.8h0m31.1 .6h0m2.1-.7h0m7.7 .4h0m2.5 .1h0m.5 .1h0m1.5 .1h0m15.8 .3h0m5-.8h0m11.6 0h0m6.6 .3h0m2.4-.4h0m49.1 .7h0m.9-.6h0m1-.1h0m.5 .2h0m.8 .5h0m-141.3 .5h0m26.2 0h0m3.1 .5h0m3.6-.1h0m4.2-.5h0m8.1 .6h0m10.1-.5h0m4 .4h0m4.1-.1h0m14.3-.4h0m2.8-.2h0m4.2 .2h0m1.1 .8h0m3.5-.2h0m.5-.5h0m47.6 .2h0m.6 .3h0m3.1-.2h0m1.3 .1h0m1 .1h0m.4 .2h0m13-.7h0m-159 1.4h0m1.7-.5h0m.4 .6h0m3.1 0h0m.1 .1h0m.6-.3h0m20-.1h0m4.1 .1h0m1.3-.4h0m5.4 .6h0m4.1-.6h0m5.6 .7h0m3.8 0h0m7.8 0h0m7.3-.3h0m1.5-.1h0m6.5-.2h0m9.7 .2h0m2.3-.1h0m1.9 .5h0m3.5-.1h0m.4 0h0m43.2 .1h0m4.5-.8h0m2.1 .3h0m1.2 .5h0m3.9-.3h0m2.1-.1h0m1.5-.5h0m1.7 .2h0m-153.1 1.1h0m.1-.2h0m3 .6h0m.5 .1h0m.7-.8h0m18.7 .4h0m10.4-.1h0m6.5 .1h0m6.5 .4h0m9.8-.3h0m1.9 .5h0m2.6-1h0m15.8 .3h0m8.7 0h0m1.4 .6h0m.1-.1h0m.8 0h0m4.8-.3h0m43.9-.2h0m.3 .1h0m.3 0h0m.8 .1h0m3.7 .3h0m.3-.5h0m.6 .4h0m.2 .1h0m4.1 .1h0m2.7 0h0m.1-.8h0m4 .2h0m-153.8 .9h0m0 .2h0m1.6 .1h0m.4 .2h0m.7-.2h0m1.5 .2h0m.6 .1h0m1.2-.2h0m.8-.4h0m6 .7h0m33.2-.4h0m7.8 .5h0m17.2-.2h0m11.2-.7h0m3.9 .1h0m1.7 .6h0m4.2-.6h0m.9 .5h0m47.6-.4h0m2.5 .5h0m8.4-.3h0m-152.6 .7h0m4.1 0h0m8.3 0h0m11.4 .3h0m1.3-.3h0m1.1 .6h0m3.9-.8h0m1.4 .9h0m4.4-.8h0m14.4 .6h0m1.6-.3h0m2.4 0h0m2.1 .3h0m1.8 .1h0m2.1 0h0m24.2-.3h0m1.2 0h0m2 0h0m1.6 .2h0m49.3-.2h0m.9-.2h0m8.9-.3h0m6.9 .8h0m1-.3h0m3.2-.4h0m-159.6 1.4h0m4.1-.3h0m1.4 .7h0m.6-.6h0m1.3 .6h0m2.8-.4h0m9.9 .4h0m8.6-.3h0m3.2 .1h0m.7-.3h0m9.1 .6h0m1.4-.1h0m4.3-.3h0m5.4-.3h0m2.9 .4h0m2.2-.3h0m1.4 .2h0m8.2 .4h0m.1-.5h0m7.7 .4h0m7.3-.9h0m1 .2h0m1.8 .6h0m.8-.5h0m50.6 .3h0m.5 .3h0m2.1 0h0m2.9-.7h0m0 .3h0m2.6 0h0m3.2 0h0m2.5 .3h0m-150.8 .9h0m.7 .2h0m27.4-.1h0m1.2-.2h0m3.8 .3h0m3.7 0h0m14.3-.3h0m1.1 .4h0m2-.4h0m18.3 .3h0m9.8-.8h0m.8 .8h0m2.4-.5h0m.3-.2h0m2.2 .1h0m.1 .3h0m47.9-.5h0m1.6 .7h0m.9 .1h0m.3-.5h0m1.1-.4h0m4 .5h0m9.6 .4h0m-146.9 .4h0m3.2 .2h0m2-.3h0m10.4 .5h0m11 .1h0m2.5 0h0m1.1-.1h0m.5 0h0m5.5-.1h0m.2 .3h0m6.1 0h0m1.4 0h0m2.3-.3h0m2.9 .2h0m6.8-.1h0m5.1-.2h0m3.9 .3h0m5-.1h0m5 .2h0m2.1-.3h0m.2-.2h0m1.7 .4h0m1-.5h0m.5-.2h0m46.4 .4h0m.5-.1h0m.3-.1h0m2.5 .4h0m1.5-.3h0m1.1-.1h0m9.2 .6h0m-147.9 1h0m.2-.8h0m.5 .1h0m2.5 .8h0m.5-.9h0m2.6 .8h0m37.7-.9h0m4.4 .7h0m10.8-.4h0m.4-.2h0m.1 0h0m4.5 .9h0m15.2-.8h0m1.1 .2h0m2.4 .4h0m2 0h0m1 0h0m48.1-.2h0m.8 0h0m.1-.2h0m1-.4h0m.1 .3h0m2.4 .6h0m-135 .5h0m2.2 .1h0m.1 .4h0m1.2-.4h0m16.3 .4h0m0-.9h0m10.4 .6h0m3.3-.1h0m1.9-.4h0m7.4 .1h0m3.6 .4h0m3.2 .2h0m.1-.6h0m.6 .7h0m.4-.3h0m5.6 .3h0m4.7-.7h0m5.7 .6h0m4.5-.3h0m1.2-.1h0m3.2 .1h0m50.5-.5h0m6 .5h0m.7-.3h0m.7-.1h0m.4 .6h0m8.9-.3h0m13.2 .3h0m-160.1 .6h0m8.6-.2h0m6.7 .7h0m5.5-.7h0m2.5 .6h0m3 .2h0m4.7-.1h0m3.9-.7h0m17.5 0h0m1.1 .7h0m6.3-.5h0m3.8 .6h0m5.2 0h0m7.3-.5h0m.6-.2h0m4.7 .5h0m53 .1h0m3.2-.1h0m.8 .1h0m1.2-.6h0m2.7 .4h0m4 .1h0m7.2-.4h0m-153.3 1.1h0m.4 .4h0m4.3-.6h0m1.9 0h0m.1 .1h0m.7-.3h0m0 .2h0m1.2-.1h0m2.9 .9h0m7.2-.8h0m.5 .6h0m9.9-.5h0m.1 .3h0m3.7-.1h0m6.6-.2h0m5.6 .4h0m1.9-.6h0m9.6 .1h0m2.2 .3h0m1.3 .3h0m2.7-.6h0m.2 0h0m.3 .3h0m5.4 .2h0m1.1-.4h0m2.5 .7h0m6.1-.5h0m.8 .5h0m53.1-.6h0m1.3-.2h0m1.1-.1h0m.6 .9h0m.8-.2h0m.2-.1h0m6.2 .1h0m1.6 0h0m48-.5h0m-188.3 1.5h0m2.3-.6h0m.3 .2h0m3.6 .5h0m12 0h0m3 0h0m7.7-.7h0m4.4 .1h0m7.5 .2h0m2.9-.5h0m1.3 .8h0m5.6-.4h0m4 .5h0m5.2-.4h0m1.2-.2h0m2.6 .2h0m.7 .2h0m10.6 0h0m51.2 0h0m.5 .3h0m3.5-.2h0m.2-.1h0m2.6 .3h0m0-.3h0m.6-.4h0m2.6 .6h0m17-.6h0m-153.1 1.1h0m7.8-.3h0m10.4 .4h0m1.4-.2h0m2 .1h0m1.8 0h0m1.2-.3h0m1 .2h0m7.8 .1h0m.8-.2h0m.6-.1h0m1.5 .4h0m1.1 .2h0m1.8-.5h0m2.4 .1h0m1.1 .3h0m4.3 .3h0m.8-.2h0m5.3 0h0m2.7-.1h0m.7 .4h0m2.9-.6h0m.3-.1h0m9.9 .3h0m.6-.4h0m1 0h0m.6 .5h0m2.1-.1h0m.4 .3h0m1.8-.8h0m48.7 .1h0m.2 .1h0m.5 .2h0m.4-.3h0m.9 .3h0m.2 .1h0m.5 .1h0m8-.5h0m2.6 .8h0m6.8-.9h0m-143.9 1.6h0m.3 .1h0m1.5-.4h0m2-.3h0m9.1 .6h0m2.6-.1h0m8.4-.2h0m.5-.2h0m.3-.2h0m1.4 0h0m6.1 .1h0m4.4 .5h0m1-.6h0m1.1 1h0m5.2-.8h0m10.2 .1h0m6.8 .6h0m1.1-.9h0m.3 .8h0m4.3-.1h0m1.9-.6h0m2-.1h0m.6 .4h0m.6 .2h0m1.5 .2h0m.6-.4h0m48.5 .3h0m9.1 0h0m.1-.6h0m1.4 .3h0m1 .4h0m37.4-.3h0m-174.2 .9h0m3.4 .2h0m2.2-.5h0m.7-.1h0m.6 .2h0m1 .6h0m9.6-.1h0m1.1-.3h0m2 .2h0m5.6-.3h0m1.9 .4h0m2.1-.5h0m4 .6h0m1.3 .1h0m1.7-.4h0m5.2-.1h0m6 .4h0m.1-.8h0m3 0h0m3.4 .6h0m2.2 0h0m.4-.4h0m2.1 .7h0m.1 .1h0m1.1-.4h0m3.8-.5h0m1.8 .8h0m.5-.2h0m2.9-.1h0m.3 .1h0m.6-.5h0m.6 .6h0m1.5-.4h0m.2 .4h0m1.7 .2h0m2.1-.6h0m42.2 .4h0m4-.4h0m3.2-.1h0m1.6-.1h0m2.9-.2h0m1.5 .3h0m.8 0h0m11.7 0h0m2 .6h0m1.2-.3h0m4.9-.4h0m-150.2 1.2h0m0 .1h0m1.3 .5h0m.9-.5h0m3.6-.2h0m5.1 .7h0m2.3-.2h0m2.1 0h0m6-.1h0m1.7 0h0m3.5-.6h0m1.5 .3h0m.4-.1h0m.7 .6h0m1.7-.2h0m2.7-.6h0m6 0h0m.6 .7h0m.5-.1h0m4.7-.2h0m4.2-.2h0m3.2 .3h0m11-.4h0m.6 .2h0m.1 .6h0m2-.9h0m2.4 .2h0m1 .4h0m1.4-.2h0m45.9-.4h0m2.4 .8h0m.1 .1h0m.4-.3h0m2.9-.4h0m2 .7h0m1.8-.1h0m3.1-.1h0m4.5-.1h0m5.5-.6h0m68.2 .6h0m-207.3 .8h0m.8-.1h0m3.3-.1h0m.3 .7h0m5.9-.3h0m1.2-.2h0m.3 .2h0m0-.7h0m1.3 .5h0m1.8-.1h0m3.5-.2h0m4.8 .2h0m1.3 .6h0m6.5-.9h0m1 .9h0m2.2-.7h0m2.7-.2h0m3.4 .7h0m2.7 0h0m.8-.6h0m1.1 .6h0m11 0h0m2.3 .1h0m1.5-.1h0m.3-.5h0m1.3 .4h0m1.1-.2h0m5.1-.4h0m45.6 .8h0m5.4-.4h0m2.5-.4h0m3.1 .4h0m.7-.5h0m.1 1h0m1.6-.4h0m2.3-.1h0m.9-.1h0m2.1 .2h0m2.9-.4h0m15.5-.1h0m-129.2 1.4h0m3.3 .4h0m4.1 0h0m.2 0h0m1.4-.4h0m.9 .3h0m3.8-.3h0m.8 .3h0m0-.6h0m2.4 .6h0m1.1 0h0m2.4 0h0m6.8-.8h0m.8 .5h0m6.4-.1h0m1.6-.3h0m.7 .2h0m1.6-.1h0m.8-.1h0m1.4-.1h0m50.2 .9h0m.7-.6h0m1.8-.2h0m6.3-.1h0m6.6 1h0m16.2-.8h0m-143.5 .9h0m.4 .8h0m1.8-.5h0m.5 .5h0m1.5-.4h0m12.2-.3h0m8.1-.2h0m2.4 .3h0m2.5-.2h0m1.9 .1h0m2.5 .3h0m.9-.2h0m1.8-.2h0m1.4 .1h0m.2 0h0m1.4 .7h0m1.4-.8h0m.2 .5h0m.2-.5h0m1.5 .4h0m.2 .3h0m0-.2h0m.1 .3h0m4.3-.5h0m3.8 .6h0m9.6-.3h0m1.3-.2h0m1.4 0h0m0 .1h0m1.7-.1h0m47.6-.1h0m0 .2h0m5.9-.4h0m4.4 .1h0m2.1 .5h0m1.2-.1h0m3.6 .2h0m-129.8 .2h0m.7 .8h0m3.1-.1h0m1.2-.3h0m4.5 .1h0m4 .3h0m7.4-.4h0m2.8 .3h0m1.7-.3h0m1.8 .1h0m3.9-.4h0m.7 .2h0m.5 .2h0m1-.2h0m2.1-.2h0m1.9 .6h0m6.7-.6h0m.9 .2h0m.2-.1h0m.3-.2h0m2.6 .3h0m.2 .3h0m.9-.6h0m.2 0h0m6 .5h0m.6 .1h0m2.9-.2h0m.6 0h0m1.9 .4h0m51.3-.6h0m3.3-.2h0m.5 .8h0m1.1-.7h0m.4-.1h0m4.2 .1h0m7.8 .1h0m1 .2h0m1.5-.2h0m-132.3 1.3h0m2.4 .2h0m2-.6h0m2 .3h0m1.9 .3h0m4.2-.6h0m.5 .3h0m4.6-.3h0m1.8 .6h0m1.8-.4h0m1.1-.1h0m.5-.2h0m.1 .4h0m.8-.5h0m4.7 0h0m3.5 .4h0m2.7 .2h0m.7-.1h0m.7 .3h0m4.2 .2h0m1.2-.1h0m1.6 .1h0m.6-1h0m2.7 .2h0m2.2 .7h0m2.1-.3h0m1 .1h0m.5 0h0m1.1-.4h0m2.7-.1h0m2.1 .8h0m.5-.6h0m1.3-.2h0m.9 .3h0m.4-.4h0m5.6 .3h0m.3 0h0m45-.1h0m3.1-.2h0m3 0h0m.3 .6h0m3.5-.6h0m9.4 .6h0m-132.6 .7h0m0-.2h0m2-.1h0m.4 0h0m.8 .5h0m1.3 .2h0m2-.6h0m1.2 .2h0m5 .5h0m3-.8h0m.5 .1h0m3.5 .5h0m1.7-.4h0m2.7 0h0m.5-.1h0m.4 .7h0m3.6 0h0m3 .1h0m.5-.2h0m.1-.3h0m1.8-.1h0m1.6 .1h0m9.2 .2h0m.9 .3h0m3.6-.1h0m3-.8h0m.2 .1h0m2.7 .7h0m.8 0h0m1.4-.2h0m.6 .3h0m.3-.6h0m4.2 .5h0m.9-.7h0m50.3 .6h0m1.6-.1h0m.6-.4h0m1.7 .2h0m0 .4h0m.5 0h0m1.2-.4h0m.7-.3h0m2.4-.1h0m1.1 .6h0m3.7-.4h0m.4 .1h0m33.7 .3h0m-161 .6h0m1.2 .5h0m.8-.3h0m.7 .1h0m1.1-.2h0m1.4 .5h0m5.2-.7h0m3.5 .2h0m8.5-.2h0m.5 .2h0m.2 .2h0m2.7 .1h0m.8-.2h0m1-.4h0m1.9 .9h0m.8-.1h0m6.8-.3h0m.6-.3h0m.7 .2h0m.6 0h0m1.4-.4h0m.4 0h0m2.1 .8h0m4.6-.4h0m0-.4h0m6.6 0h0m.6 .6h0m.3 .1h0m2.5 .2h0m5.7 0h0m46.8 0h0m3.5-.7h0m5.1 0h0m3.8-.2h0m14.3 .1h0m-138.2 1.7h0m1.2 0h0m.4-.1h0m5.4-.3h0m1.5-.1h0m1.6 .1h0m4-.2h0m2.3-.1h0m2.6 .1h0m.6 .1h0m2-.2h0m.2 .4h0m3.3-.3h0m2.7 .1h0m1.3 .3h0m.4-.6h0m.5 0h0m1.2 0h0m.9 0h0m7.4 .5h0m2.2 .1h0m1.1-.2h0m.6-.3h0m.5-.1h0m0 0h0m.2 .1h0m2.2 .2h0m0 .5h0m.4-.6h0m.1 .1h0m2.9-.1h0m2.7 .5h0m1.6-.3h0m.5 .4h0m.7 .1h0m9.5-.7h0m44.9-.3h0m.7 .6h0m1.5 .2h0m1.1-.2h0m2.9-.2h0m3.2-.3h0m.4 .6h0m2.4 .1h0m1.1 .2h0m.5 0h0m2.8-.5h0m-123.6 1.4h0m2.4-.8h0m.3 0h0m1.7 .5h0m11.6 0h0m5.3 .2h0m1.9 .2h0m.1-.3h0m1.6-.6h0m1.2 .7h0m1 0h0m1.8-.1h0m1.2-.6h0m2.1 .6h0m2.7-.4h0m1.4-.1h0m1.9 .4h0m3.6 0h0m.4 .1h0m2.9-.4h0m2.2 0h0m1-.3h0m.9 .8h0m1.5-.5h0m5.2 0h0m49.7 .5h0m1.5-.8h0m1.1 .1h0m.8 .4h0m2.3-.2h0m2 .4h0m2.2-.2h0m1-.2h0m.2 .3h0m-117.4 .6h0m2.1 .4h0m3.6 .2h0m.8 .1h0m5.1-.7h0m1.1 .6h0m1.5-.4h0m5.5-.3h0m.8 .3h0m7.2 .6h0m.1-.5h0m3.5 .5h0m.2-.2h0m.1-.2h0m4.2 .1h0m0-.2h0m.9 .3h0m2-.4h0m.8 .3h0m.5-.2h0m2.4-.3h0m.8 .8h0m.5-.6h0m2 .4h0m1-.1h0m3.5 .2h0m2.8-.2h0m2.8-.2h0m48.4 .5h0m.5 0h0m2.3-.3h0m.8-.2h0m1.2-.1h0m3.6 .3h0m-111.6 1.3h0m.9-.9h0m.2 .1h0m1.2 .6h0m1.7-.2h0m1.4 .2h0m.5-.7h0m.1 .6h0m3.5-.3h0m0-.1h0m.3 0h0m6.5 0h0m5.3 .5h0m0-.1h0m2.6-.6h0m.6 .3h0m.2 .1h0m1 .1h0m.4-.3h0m1.1 .6h0m.1-.5h0m2.5-.2h0m1.2 .5h0m3.2-.6h0m3 .9h0m1.2-.4h0m3.3 0h0m1.5 .1h0m.7 .1h0m1.1-.1h0m3-.3h0m1.9 .5h0m1.6-.6h0m1.8 .6h0m51.4-.1h0m.7-.1h0m2.3-.5h0m.5 .6h0m-109.6 .6h0m.1 0h0m6.6 .4h0m.4-.7h0m1.2 .8h0m4.3-.8h0m2.2 .9h0m.2-.6h0m.9-.3h0m7.5 .5h0m.6-.5h0m2.2 .4h0m4.2-.4h0m1.6 .8h0m.1-.8h0m.9 .2h0m2.1-.2h0m3 .7h0m4.7-.1h0m5.7-.7h0m1.7 1h0m1.8 0h0m3-.9h0m.7 .8h0m.5-.1h0m.1 .1h0m47.1-.8h0m1.1 .3h0m.3 .3h0m.3 .2h0m.3-.2h0m1.7-.4h0m1 .4h0m.2 0h0m1.8 0h0m.9 .2h0m2.1-.2h0m1.9-.5h0m-119.8 1.2h0m.9 .4h0m7.4-.2h0m.4 .2h0m8.9 .1h0m.3-.4h0m.9 .4h0m1.8 .1h0m1.2-1h0m1.8 .7h0m2.3 .2h0m.6 .1h0m.8-.9h0m.2 .8h0m1.5-.5h0m0-.1h0m3.5 .2h0m3.5 .5h0m.1-.1h0m2.8-.8h0m1.2 .3h0m.4 .4h0m3.4-.1h0m1.4 .2h0m.1-.5h0m3.1 0h0m1.4 .4h0m1.6-.5h0m.2 .3h0m1.8-.5h0m0 .8h0m1.5-.7h0m0 .1h0m1.9 .5h0m.4-.5h0m53.4 .5h0m2.7-.1h0m4.9-.6h0m0 .5h0m.3-.2h0m-116.8 .7h0m7.3 0h0m2 .1h0m1.3 0h0m.5 .6h0m2-.5h0m2.8 .1h0m1.1-.2h0m.6 0h0m.6 .5h0m2.3-.5h0m1.1 0h0m.7 0h0m3.1 0h0m3.2 .8h0m.9-.8h0m.4 .3h0m3.4 0h0m1.2 .4h0m6.7-.5h0m.4-.1h0m1.1 .1h0m.5 .4h0m.5-.1h0m1.2-.3h0m2-.2h0m1.2 .4h0m2-.3h0m57.4 .6h0m.7-.3h0m.1 .3h0m1.4-.6h0m.7 .1h0m8.5 .3h0m-120.1 .9h0m3.9 .1h0m.1-.5h0m4.7 .7h0m2.7-.9h0m3.8 .6h0m2.9-.3h0m.1 .3h0m.2 .4h0m.5-.5h0m1 .1h0m3.2-.5h0m.6 .3h0m3.3 0h0m0 .1h0m.2-.5h0m2.4 .4h0m.4-.2h0m3.3 .2h0m1.4 .3h0m0 0h0m1.1-.4h0m3.4 .2h0m1.2 .4h0m4.2-.9h0m2.9 .2h0m1.3 .7h0m1.8-.7h0m3.6 .6h0m.3-.7h0m.2 .1h0m1.2 .3h0m46.7 .5h0m1.1-.3h0m.8 .1h0m1.3 .1h0m.8-.5h0m.7 .6h0m.5-1h0m0 .5h0m3.5-.3h0m3.1 .1h0m2 .4h0m-107.2 .5h0m.9 .5h0m.8-.4h0m2.2-.1h0m4.5 .7h0m2.2-.6h0m3.7 .6h0m.3-.1h0m1.5-.5h0m8.9 .3h0m2.4 .3h0m.1-.8h0m.9 .5h0m.9 0h0m.1 .2h0m2.4-.5h0m.7 .7h0m1.2-.1h0m2.1 0h0m1.7-.2h0m1.2-.4h0m2.2 0h0m5.5 .3h0m46.6-.1h0m5.1-.2h0m3.5-.3h0m1.1 .4h0m.2 .5h0m3.5-.4h0m1.2-.2h0m3.7 .4h0m-116.3 .8h0m3.8 .4h0m4.7-.4h0m2.9 .4h0m0-.8h0m2 .8h0m1.5-.9h0m1.3 .6h0m.7 0h0m.4 .4h0m8.6 0h0m3.2-.4h0m3.4 .2h0m.2-.8h0m1.4 .5h0m1.3-.2h0m.9 .4h0m1.2 0h0m.3-.4h0m3.9-.3h0m3.4 .8h0m.1-.6h0m48.7 .8h0m2-.2h0m.6-.1h0m1.8 .2h0m.5-.2h0m.5 .3h0m.7-.7h0m4.7 .3h0m4.7 .1h0m-105.5 .3h0m1.4 .3h0m.3-.2h0m1.7 0h0m2.2 .1h0m.3 .6h0m1.3-.5h0m3.4 .4h0m4.6 .1h0m.2-.4h0m8 .5h0m.2-.8h0m1.9 .6h0m1 .2h0m1.6-.6h0m.1 0h0m3.9 .6h0m3.3 .1h0m1.3-.5h0m9.4-.2h0m45.9 0h0m1.4-.2h0m10.7 .9h0m7.5-1h0m-111.1 1.4h0m.4 .3h0m.5-.4h0m3.7 .1h0m0-.2h0m.7-.2h0m1.7 .9h0m1.3-.7h0m1.4 .2h0m1.1 .3h0m.8 .2h0m3.2-.5h0m2.8 .3h0m1.1-.3h0m3.3 .3h0m3.6-.7h0m3.2 .1h0m1 .4h0m3.2-.2h0m.3 .3h0m.2 .2h0m.8 0h0m1.4-.2h0m55.5 .3h0m0-.8h0m2.4-.1h0m.1 .1h0m.9 .9h0m.9-.4h0m2 .3h0m.2-.7h0m.3 .4h0m3.1-.1h0m4.1 0h0m6 .3h0m-113.5 .7h0m.1 0h0m6.4 .4h0m4-.8h0m1.2 .7h0m.7-.2h0m2.4-.6h0m0 .4h0m2.3-.2h0m1.4 .4h0m4.3 .1h0m.3 .1h0m1.5-.6h0m2-.2h0m1 .9h0m3.6-.2h0m1.3-.3h0m.2-.1h0m2.5-.1h0m.8-.1h0m.1 .4h0m60.6-.1h0m10.5 .4h0m-114 .5h0m5.2 .5h0m3.2-.6h0m1.6 .6h0m.5-.3h0m1.7 .1h0m3.1 .4h0m.8-.3h0m1.1 0h0m.4-.2h0m.4 .1h0m.3-.1h0m1.9 .2h0m.1-.1h0m.7 .3h0m.3-.2h0m3-.5h0m1 .4h0m6-.5h0m.8 .3h0m.7 0h0m2.6 .5h0m.6 0h0m1.1-.3h0m.7-.2h0m1.5 .5h0m.8-.1h0m1-.1h0m1.4 .3h0m1.3-.2h0m50.1 0h0m1-.6h0m.9 .1h0m2.3 .4h0m.5-.3h0m1.8 .5h0m.2-.4h0m14 .5h0m1 0h0m-115.1 1h0m5.4-.1h0m.3-.6h0m2.1 0h0m.5-.2h0m5.6 .2h0m4.8-.1h0m.4 .8h0m2.9-.7h0m.3 .4h0m7.3-.2h0m1.5-.5h0m1.1 .6h0m2.5-.2h0m2.5-.4h0m1.1 .7h0m54.4-.7h0m1.4 0h0m1.4 .5h0m1.7 .1h0m.4-.4h0m1 .7h0m.1-.1h0m1.4-.1h0m-100.2 .4h0m0 .3h0m4.7 .6h0m1-.8h0m6 .3h0m2.6 .4h0m3.1-.8h0m1.8 .2h0m5.1-.3h0m1.8 .5h0m.1 .4h0m2.1-.5h0m.5 0h0m1.1 .3h0m.8-.1h0m.3 .2h0m2.2-.2h0m.3 0h0m2.8 0h0m3.1-.3h0m56.1 .5h0m1.9-.5h0m5 .5h0m6.2 .2h0m13.5-.2h0m-122 .7h0m6.1 .3h0m.7-.7h0m1.1 .9h0m.1-.9h0m2.9-.1h0m2.4 .6h0m1.7 .4h0m3.2 0h0m.8-.7h0m2.6-.1h0m.3 0h0m.6 .7h0m.1-.7h0m.4-.2h0m.3 .3h0m7.3 .6h0m.7-.1h0m1-.3h0m.1 .2h0m.5 .3h0m1.3-.5h0m1.1 .3h0m.6-.6h0m1.8 .7h0m.1-.2h0m.8 0h0m.3-.2h0m.7 .3h0m51.8-.3h0m2.9-.3h0m.2-.2h0m3.8 1h0m7.1-.4h0m9.6-.3h0m11.7 .3h0m20.3-.2h0m-142.4 1h0m2.3 .4h0m1.3 0h0m2-.1h0m.5-.2h0m2.6 0h0m1.4 .4h0m1-.3h0m1.1-.2h0m.8-.1h0m2.3-.3h0m0 .1h0m.6 .4h0m4 .5h0m1.9-.7h0m3.2 .1h0m.4 .4h0m1.1-.2h0m2.4 .4h0m.9-.7h0m.5 .2h0m1.8 .4h0m57.6-.2h0m4.7 .1h0m2.1-.2h0m8.9 0h0m-104.3 .8h0m1 .4h0m2.8-.3h0m1.4-.3h0m9.4 .3h0m1.9 .3h0m.3-.7h0m1.5 .2h0m3.9 .7h0m2-.9h0m2.7 .9h0m.1-.1h0m2-.3h0m1.4-.2h0m.1 .6h0m53.7-.5h0m.1-.1h0m1.4-.4h0m1.4 .4h0m.9-.4h0m.1 .4h0m5.8 .6h0m74-.1h0m-163.4 .8h0m7.9-.4h0m1.9-.2h0m.7 .7h0m0 .1h0m3.9 0h0m1.3-.2h0m5.3-.6h0m0 .1h0m.8 .5h0m.4-.3h0m.6 .1h0m1.7 .2h0m54.5-.3h0m.6 .2h0m1.1-.5h0m2.2 .4h0m1.1 .2h0m5.4-.1h0m4.8 0h0m3.4-.4h0m33.9 .8h0m-132 .7h0m.6 .1h0m.3-.7h0m1.7 .7h0m.3-.6h0m.2 .2h0m5.7-.1h0m2.1 .1h0m1.6 .1h0m1.5-.1h0m1.7 0h0m.3 .1h0m1.3 .2h0m0-.4h0m1.3 .1h0m1.3 .1h0m2.1-.1h0m4.6-.4h0m.3 .2h0m46.8 .6h0m.2-.7h0m1.9 .3h0m0-.1h0m3.2-.1h0m4.7-.1h0m2.3 .6h0m2.6-.5h0m-89.3 1.7h0m.3-.1h0m1.2 .1h0m2.7-.7h0m.9 .7h0m.3-.8h0m3 .7h0m3.2 0h0m.1 0h0m3.4-.5h0m2.3 .5h0m.6-.3h0m3.1 0h0m.3 .1h0m1.2-.1h0m.6 0h0m52.7 .3h0m2.2-.7h0m.8 .1h0m6.7 .2h0m2.3 0h0m.4 .4h0m7.9-.1h0m-97.4 .8h0m.1 .3h0m2.3-.5h0m2.8 .1h0m8 .1h0m2.6 .5h0m1.3-.9h0m1.2 .8h0m1.2-.9h0m.3 .3h0m.1 .6h0m.7-.2h0m1.5 .2h0m56.6 0h0m.2-.9h0m.8 0h0m1.1 .5h0m1.9 .3h0m2.7-.7h0m-86.5 1.7h0m2.1 .1h0m1.3-.3h0m.8-.6h0m.1 1h0m3.1-.4h0m1.7 .1h0m.1 .2h0m2.9-.2h0m0-.4h0m1.8 .1h0m1.2 .4h0m2.4-.6h0m.6 .6h0m.5 0h0m.6-.4h0m1.3 .5h0m1.8 0h0m.9-.4h0m2.3 .4h0m52-.3h0m1.7-.5h0m1.7 .1h0m7.2 .3h0m14 0h0m-101.9 .7h0m1.8 .6h0m6-.1h0m.5-.1h0m7.5 .2h0m1.3 0h0m1.6-.7h0m1.4 .9h0m2-.1h0m0-.1h0m2.9-.3h0m47.7-.5h0m3.5 .1h0m1.5 .2h0m2.3 .5h0m.6-.6h0m1.3 .2h0m-80.6 .9h0m.4 .3h0m.1 .1h0m2.2 .2h0m3.4 0h0m2-.8h0m5.2 .5h0m.5-.3h0m1.5 .3h0m2.7 .4h0m3.8-.4h0m.9-.1h0m.6 .1h0m47 .3h0m5.4-.2h0m.3 .1h0m14.3-.1h0m-87.5 1.1h0m1.4 0h0m5.3 .1h0m4.4-.5h0m2.5-.4h0m53.6 1h0m1.9-.5h0m.9 0h0m2.5-.3h0m2.6 .3h0m6.1 .4h0m-83.3 .3h0m3 .4h0m6.1-.2h0m1.7 .4h0m.2-.5h0m.3-.2h0m1.3 .8h0m1.5 0h0m54.3-.6h0m.6 .6h0m1.2-.7h0m1.8 .1h0m2.4 .2h0m1.5 .3h0m.6-.6h0m.5 .2h0m7.3 .2h0m17.5-.5h0m-106 1.4h0m2.8 .3h0m2-.5h0m3.8-.2h0m3.5 .7h0m1.6-.2h0m2.1 .1h0m56.1 .1h0m.1-.7h0m2 .7h0m.8-.8h0m1 .4h0m-70.5 .9h0m.8 .2h0m1.4-.2h0m.3 .2h0m1.3-.3h0m5.5 .1h0m.5 0h0m1 .5h0m.4-.4h0m.9-.3h0m.9 .1h0m52.9 .4h0m1.7-.3h0m.3 .2h0m5.9 0h0m11.8 .5h0m22.2-1h0m-110.9 1.1h0m1.8 0h0m.2 .4h0m1.9-.4h0m.8 .8h0m0-.9h0m7.7 .3h0m.2-.1h0m1.2 .2h0m2.9 0h0m0-.2h0m47.2 .1h0m.5 .7h0m1-.1h0m3-.8h0m1 .4h0m2.7-.3h0m2 .8h0m6.8-.7h0m2.5 0h0m-78.1 1h0m1-.1h0m.2 .5h0m4.4-.7h0m.1 .6h0m.5 0h0m2.6-.1h0m.5 .4h0m49.1-.2h0m0 .1h0m1.8 .1h0m1.6-.5h0m1.3 0h0m2.1 0h0m-67 1.2h0m1.2 .3h0m5.7 .1h0m.7 0h0m.5-.7h0m48 .5h0m2.1-.5h0m1.3 .1h0m1.6 .5h0m.3-.8h0m.8 .1h0m1.6 .2h0m1.5 .3h0m1.1-.5h0m1.4 .7h0m2.4-.3h0m5.1-.5h0m-78.2 1.1h0m2.7 .2h0m.9 0h0m1.7-.1h0m.4 .1h0m.4 .3h0m2.8-.4h0m1 .1h0m49.5-.1h0m6.7 .1h0m2.4 .5h0m5.5-.2h0m.2-.4h0m1.2-.2h0m.8-.1h0m-76.6 1.6h0m1.1 .4h0m.2-.5h0m1.1 .2h0m2.2-.4h0m.4-.2h0m6 0h0m.7 0h0m42.2 .4h0m1.4-.5h0m4.1 1h0m.7-.3h0m2.5-.2h0m.8 .5h0m3.1-.2h0m1.3-.8h0m.1 .7h0m.7-.4h0m5.1 .2h0m-74.3 1.5h0m3.8-.2h0m.8 0h0m.7 .2h0m.6-1h0m4.7 .8h0m43.1 .2h0m7.2-.4h0m3.4 0h0m.8-.3h0m.6-.2h0m.2 .1h0m.4-.1h0m.7 .4h0m2.3-.5h0m1.8 1h0m2.6-.8h0m-74.6 1.1h0m.5 .5h0m.1-.1h0m3.2 0h0m3.3-.5h0m46.9 .3h0m.8-.2h0m.4-.1h0m2.6-.1h0m4.4 .6h0m5.8-.1h0m16.4 .1h0m-82 1.3h0m4.1-.2h0m.9-.1h0m.9-.6h0m45 .3h0m2.4 .3h0m1.3-.6h0m.6 .2h0m2-.2h0m.7 .2h0m.4 .1h0m.1 .3h0m5.9-.5h0m-66.7 1.6h0m.6-.3h0m.9 .1h0m.4-.1h0m1.6 0h0m1.8-.1h0m1.4 .6h0m0 0h0m.1-.3h0m1-.2h0m47.1-.3h0m1.8-.1h0m4.9 .8h0m3.2-.1h0m-62.2 .9h0m3.3 .3h0m.2 0h0m44.8-.1h0m2.9-.4h0m.5-.1h0m2.2-.2h0m2.7 .2h0m.6-.4h0m1 .7h0m1.1-.6h0m9.9 .5h0m-70 1.4h0m2-.9h0m2.3 .2h0m0 .3h0m1.9 .3h0m.3-.9h0m1.3 .3h0m43.8 .4h0m6.3-.4h0m-57.6 .8h0m.9-.1h0m.7 .5h0m.5 .5h0m3.3-.7h0m43.5 0h0m.3 0h0m2.6 .2h0m.3 .1h0m2.6 .2h0m6.5-.3h0m28.1 .2h0m-87.5 1.1h0m1.7-.5h0m43.2 .7h0m1.4-.7h0m1.5-.2h0m1.7 .1h0m.5 .5h0m1.1-.3h0m9.5-.3h0m-61.3 1.7h0m.1 .1h0m2.3-.7h0m.1-.1h0m40.1 .6h0m1.3-.3h0m5.4-.3h0m1.3 .3h0m-50.1 1.5h0m.3-.5h0m42.5 .6h0m.1-.2h0m1.3-.7h0m1 0h0m2 .5h0m.6 .1h0m2.7-.1h0m8.6-.3h0m19.9-.2h0m-79.1 1.6h0m1.9-.6h0m36.4 .5h0m.4 .3h0m.4-.9h0m5.5 .9h0m.1-.8h0m2.4 .4h0m1.2 .4h0m2.1-.8h0m5.8 0h0m1.5 .6h0m0-.1h0m1.5-.3h0m5.8 .1h0m-65.6 1.4h0m44.9-.5h0m2.2 .2h0m4 0h0m3.3-.2h0m7.2-.2h0m1.2 .8h0m-23.3 .6h0m1.8 .5h0m.8-.8h0m.4 .1h0m13.8-.1h0m-.4 1.3h0m-18.5 1h0m.3 .5h0m2.7-.4h0m2.7-.2h0m5.2-.4h0m-8.7 1.7h0m1.5 .2h0m1-.9h0m-9.4 1.6h0m2.7 .2h0m9.2 .2h0m-16.2 .1h0m1.4 .5h0m3.1 0h0m5 .3h0m1.7-.2h0m19.1-.2h0m-32.6 1h0m.2 .3h0m3.8-.5h0m.7 0h0m.5 .3h0m1.8-.4h0m.1 .2h0m1.2 .2h0m3.5-.5h0m-10.5 .9h0m2.9 .5h0m4 .4h0m2.7-.5h0m3.1-.1h0m4.1-.3h0m41.8 .6h0m7.1 .2h0m-69.1 .9h0m1.7-.1h0m1.2-.1h0m2.8 0h0m.4 .3h0m.2 0h0m-5.6 .8h0m1.3 .3h0m1.9-.1h0m1.5-.6h0m33 .1h0m-39.2 .9h0m.6-.1h0m.3 .7h0m3.8-.1h0m.3 0h0m22.7-.3h0m4.7-.1h0m-32.2 .9h0m4.2 .2h0m1.2-.3h0m.4 .8h0m25.5-.6h0m-37.8 .8h0m1.4 .8h0m.5-.2h0m1-.5h0m8.2 .7h0m-37.8 .3h0m26.1 .7h0m.2-.9h0m6 .3h0m5.3 .5h0m1.1 .2h0m2.9-1h0m-17 1.6h0m.3 .4h0m.9-.2h0m1.3-.5h0m.8 .2h0m3.3 .4h0m.9-.8h0m3.3 .5h0m4.7-.3h0m68 .4h0m-84.4 .6h0m4.2 0h0m9 0h0m-12.7 .9h0m1-.1h0m.2 .2h0m.5 .3h0m1-.1h0m3.8 .2h0m4.4-.5h0m1.5 .6h0m18.2-.2h0m8.7 .3h0m-36.8 .9h0m.8-.2h0m20.3 0h0m-27.5 1.2h0m.5-.4h0m.7 .1h0m3.4-.4h0m.1 .4h0m44.3 .2h0m-51.2 .9h0m.9-.5h0m3.7 .2h0m3.4 0h0m.7 .2h0m-12.3 1.4h0m.1-.8h0m5.3 .9h0m1.9 0h0m5.5-.5h0m-10.7 1.2h0m.7 .2h0m.5-.5h0m1.2 .6h0m1.8-.7h0m.3-.3h0m1.5 .7h0m23.7-.3h0m-33.6 .8h0m2.4 .3h0m3.5 .2h0m29.3-.1h0m1.4 .3h0m-38.7 .6h0m.8 .1h0m.4-.1h0m15.1-.1h0m8.9 .3h0" stroke="#c00a4e" stroke-width="1.4" stroke-linecap="square" fill="none"/><path d="M247.2 437.8l-1-1l-2 0l-1 1.4l-1.6 0l-1-1l-6.4 2l-.6 1.6l-3.4 .4l-6.6 5l-1-.4l-1.4 4l-2.6 0l-2.4 2l-4 1.4l-.6 2l-1.4 1.6l-5 1l-2 2.4l-2 .6l0 1l-5 5l-1.6-.6l-.4 2.6l-1.6-.6l-1 1l-1.4 0l-2.6 3l-1.4 0l-.6 1l-1.4 .6l-1 3l-2.6-.6l-2.4 3.6l-2 0l-1 2l-5 2.4l-2 2.6l1.4 1l-1 1l-4-.6l-5.4 5l-2.6 1l-3.4 4.6l-8 4l.4 2l-.4 1l-3-.6l0 1l-2 2.6l-2-.6l-.6 1.6l-2 .4l-.4 1.6l-1.6 1.4l-1 0l-5.4 5.6l-3-.6l-2 1l-5 4.6l1 1l-1.6 1.4l-1-1l-4 2.6l-1.4 2.4l-2 0l0 1.6l-1.6 1.4l-4.4 2l-3 4l-1.6 0l-8.4 8l0 1.6l-1 1l-1.6 0l-1 1l0 2.4l-1.4 .6l-2 3l-1.6-1.6l0-2l-3.4-3.4l-.6-5.6l-1-2l-1 1.6l.6 9l-2 7l-.6 8l-2 3l0 3l-1 1l0 3.4l1 1l4.6 0l9-2l2-3l2.4 1l1.6-2l4.4-2l.6-2l2-1l.4-1.4l4-.6l1-2l1.6 .6l3-4.6l2 .6l.4-1.6l3 0l3-3l2-.4l3-3.6l7-3.4l3-3l3-4.6l3.6 .6l1.4-2l1.6-1l1.4 0l2-2.6l-.4-1l.4-1l1.6 0l1.4 1l6-5.4l1.6 0l2-3l3.4-1l-.4-1l.4-1.6l2.6 .6l2.4-3l1 0l.6-1.6l3-1l-.6-1l1.6-1.4l2.4 0l5-4l1 0l3-3l1 0l3-3l1 0l2-2l1-3.6l2.6 0l1.4-2.4l1.6 0l2.4-1.6l-.4-.4l.4-1.6l2 .6l2-3l1.6 0l2-3l1 .4l2.4-2l0-2l2-2l2 .6l1.6-2.6l3.4-1l5-5l0-1.4l1-1l1.6 0l6-7l1 .4l5-5l-1-.4l0-2l.4-.6l2.6 .6l4.4-5.6l1-2l0-2.4l2.6-2.6l.4-4l-1-1l1-1.4z" fill="#d31651"/><path d="M241.7 444.8l-2-1.6l-3.4 0l-6 1.6l-9 6.4l-4.6 2l-10.4 7l-20 15.6l-13 9l-4.6 4.4l-2 .6l-13.4 11l-5 3l-12 9.4l-4.6 4.6l-7.4 5l-8 7l-7.6 4.4l-23.4 20.6l-8 5.4l-4 4.6l-.6 3.4l-2 3l0 3l-1 1l.6 2.6l2 1.4l2.4 0l1-1l4.6 0l3.4-1.4l2-2.6l3 0l.6-1l3.4-1.4l2-1.6l1-2l1.6-.4l.4-1.6l4-1l5-5l2-.4l5.6-3.6l4.4-4l9.6-6.4l5.4-5l4.6-2.6l15-11l16.4-13.4l9.6-6l15-13.6l6.4-4.4l8.6-8l9-7l11.4-11l8.6-10l3.4-6z" fill="#df2151"/><path d="M235.2 449.2l-2-1.4l-3 .4l-14 7.6l-8.6 5.4l-19 14.6l-14 9.4l-12 10l-23 17l-6.4 6l-14 11l-8.6 5.6l-36 30l-3.4 6.4l0 2.6l-1 1.4l1 2.6l1.4 1l7.6-1l4-2l2-2l1.4 0l5-3l5-4.6l2.6-1l6.4-5.4l5-3l19-15l24-17.6l14.6-12l10-7l6-5.4l2-1l5.4-5.6l12-9.4l6-6l9-7l14-15.6l1.6-3.4z" fill="#ea3050"/><path d="M229.2 453.8l-2.6-.6l-6.4 2.6l-11.6 6.4l-23 17l-10 6.6l-14 11.4l-23 17l-6.4 6l-32.6 24.6l-21 17.4l-4 4l-3.4 7l.4 3.6l2 1.4l4.6-.4l11-5.6l62.4-47l10-8.4l26-20l23-21l6-4.6l8-8.4l4-6z" fill="#f3454a"/><path d="M221.7 459.2l-4 0l-7 3.6l-17 11.4l-4 3.6l-11 7l-15.4 12.4l-20.6 15l-22 18l-9.4 6.6l-5 4.4l-13 9.6l-17 15l-3.6 5.4l-.4 4.6l1.4 1.4l4 0l12-6l10-7l40.6-32l10-7l33-27l4-2.4l24-22.6l3.4-2.4l6.6-7l1-2.6z" fill="#f86341"/><path d="M215.7 464.2l-2.4 0l-9 5l-26.6 17.6l-13.4 11l-24.6 18l-8.4 7.4l-37.6 28l-10.4 9l-7.6 7.6l-2.4 4.4l0 3l1 1l4 0l10.4-5l21-15.4l29-23.6l10-7l8-7l7-5l17-14.4l4.6-3l19-17.6l3-4l8-8z" fill="#f97f4c"/><path d="M204.2 472.8l-4 1l-9.6 6.4l-12 7l-7 6l-30 22l-18.4 15l-30 22l-16.6 15.6l-2 3l-.4 3.4l1 1l3.4 0l5-2l9.6-5.4l10.4-8l35-28.6l12.6-9l6.4-6l4.6-3l17.4-15l5-3.4l18.6-18.6z" fill="#fb9d58"/><path d="M193.2 481.8l-13 6l-10 8l-29 21l-8 7l-39 28.4l-13.6 12l-4 5l-1 2l0 2.6l3.6 .4l10-4.4l10.4-7.6l39.6-32.4l10.4-7.6l7-6.4l6.6-4.6l20-17l9-10z" fill="#fcba6c"/><path d="M184.7 488.2l-1.4 0l-3 1.6l-5.6 4.4l-8 5l-11.4 9l-14.6 10l-5.4 5l-7.6 5l-8 6.6l-26 18.4l-13.4 12.6l-2.6 3.4l-1 3l1 1l1.6 0l6-2l12.4-8l30.6-25.4l4.4-3l4.6-4.6l10.4-7.4l8-7.6l13.6-10.4l15.4-14.6z" fill="#fed587"/><path d="M171.2 499.2l-4 1.6l-12 9l-7.6 4.4l-13 10.6l-41 29l-9 8l-4.4 5l-2 4l.4 1l3 0l5.6-2l8.4-5.6l32-27l5-3.4l5.6-5.6l11-8l7-7l8-6l6.4-6.4z" fill="#fff0aa"/><path d="M152.2 514.2l-3.6 1l-6 4l-6.4 6l-6.6 3.6l-9 7l-25 17l-13.4 12.4l-2.6 4.6l.6 1l4.4-.6l11-6.4l35-29.6l8-8l7.6-5l5.4-5.4z" fill="#f8f8b0"/><path d="M133.2 528.8l-3 1l-5 4l-10.6 6.4l-21.4 15l-9.6 9l-2.4 5l.4 .6l4-.6l10-6l37-32.4z" fill="#d0e98b"/><path d="M122.7 537.2l-5.4 2.6l-12 7.4l-12 8.6l-8 7.4l-2.6 3.6l0 1.4l.6 .6l3.4-.6l9-5.4l12.6-10.6z" fill="#9fd8a0"/><path d="M114.7 543.2l-10 5l-11.4 8l-8.6 8.6l-1 2.4l.6 .6l3.4-.6l8-5l9.6-8l7.4-7.4z" fill="#66cca0"/><path d="M110.7 546.8l-1.4 0l-5 2.4l-11 7.6l-8 8.4l0 1.6l3.4-.6l7-4.4l6.6-5.6l8-8z" fill="#1fc59c"/><path d="M107.2 549.2l-5 2l-9.6 6.6l-6 6.4l0 1.6l1.6 0l7.4-4.6l11-10.4z" fill="#189bae"/><path d="M103.7 552.2l-1.4 0l-7.6 4.6l-5.4 5.4l-.6 2l3-1l4.6-3z" fill="#2378b2"/><path d="M99.7 555.2l-4 1.6l-4.4 4.4l0 1l4-2z" fill="#445ca8"/></g>
<g clip-path="url(#cpd)" fill="none" stroke-linecap="butt">
<path d="M70.9 577.4L327.6 369.7" stroke="#9a9a9a" stroke-width="1.4"/>
<path d="M70.9 571.6L327.6 387.2" stroke="#111" stroke-width="1.7"/>
</g>
<path d="M58.4 359.5V588.2M340.7 359.5V588.2" fill="none" stroke="#777" stroke-width="1.2"/>
<path d="M57.8 359.5H341.3M57.8 588.2H341.3" fill="none" stroke="#444" stroke-width="1.1"/>
<path d="M70.9 588.2v3M58.4 577.4h-3M122.5 588.2v3M58.4 535.7h-3M174.1 588.2v3M58.4 493.9h-3M225.7 588.2v3M58.4 452.2h-3M277.3 588.2v3M58.4 410.4h-3M328.9 588.2v3M58.4 368.7h-3" stroke="#555" stroke-width="0.9"/>
<g font-family="Liberation Serif, serif" font-size="14.3" fill="#1a1a1a">
<text x="70.9" y="604.0" text-anchor="middle">0.0</text>
<text x="53.4" y="582.6" text-anchor="end">0.0</text>
<text x="122.5" y="604.0" text-anchor="middle">0.2</text>
<text x="53.4" y="540.9" text-anchor="end">0.2</text>
<text x="174.1" y="604.0" text-anchor="middle">0.4</text>
<text x="53.4" y="499.1" text-anchor="end">0.4</text>
<text x="225.7" y="604.0" text-anchor="middle">0.6</text>
<text x="53.4" y="457.4" text-anchor="end">0.6</text>
<text x="277.3" y="604.0" text-anchor="middle">0.8</text>
<text x="53.4" y="415.6" text-anchor="end">0.8</text>
<text x="328.9" y="604.0" text-anchor="middle">1.0</text>
<text x="53.4" y="373.9" text-anchor="end">1.0</text>
</g>
<text x="199.6" y="625.7" font-family="Liberation Serif, serif" font-size="22.4" text-anchor="middle" fill="#000">Ground Truth</text>
<text transform="translate(27.7 473.9) rotate(-90)" font-family="Liberation Serif, serif" font-size="22.7" text-anchor="middle" fill="#000">GANSTFM</text>
<text x="13.4" y="346.4" font-family="Liberation Serif, serif" font-size="27" fill="#000">(d)</text>
<g font-family="Liberation Sans, sans-serif" fill="#000" stroke="#000" stroke-width="0.12">
<text transform="translate(74.31 385.2) scale(0.937 1)" font-size="19" font-style="italic">y</text>
<text x="109.0" y="385.2" font-size="19" textLength="53.8" lengthAdjust="spacingAndGlyphs">0.888</text>
<text transform="translate(164.31 385.2) scale(0.934 1)" font-size="19" font-style="italic">x</text>
<text x="199.4" y="385.2" font-size="19" textLength="53.4" lengthAdjust="spacingAndGlyphs">0.028</text>
<text transform="translate(73.22 415.8) scale(0.821 1)" font-size="19" font-style="italic">R</text>
<text transform="translate(88.30 408.8) scale(0.948 1)" font-size="12.5">2</text>
<text x="121.2" y="415.8" font-size="19" textLength="65.2" lengthAdjust="spacingAndGlyphs">0.8655</text>
</g>
<path d="M90.3 378.0h12.7M90.3 381.5h12.7M180.7 379.4h12.2M186.8 373.3v12.5M102.1 409.0h12.7M102.1 412.8h12.7" stroke="#000" stroke-width="1.45" fill="none"/>
<clipPath id="cpe"><rect x="403.7" y="359.3" width="282.3" height="228.7"/></clipPath>
<g clip-path="url(#cpe)"><path d="M444.4 526.0l-1-.4l-1 1zM517.5 523.0l.6 .6l2.4-.6l-.4-.4zM440.4 521.5l-.4-.6l-1.6 .6l0 1.4l1.6 0zM546.0 503.6l-3 2l1.4 2.4l1-.4l0-2l1-1.6zM548.5 500.1l-1 .6l.6 2l1-1zM458.4 498.6l-1 1.4l1.6 1.6zM562.5 490.1l-1 0l-.4 1l1 .6zM518.0 475.6l1 1.4l1 .6l.4-.6l-.4-1zM575.5 474.1l-1 2l2 .6l.6-1.6zM578.5 470.6l-.4-.6l-1 1.6l-2 .4l3 0zM580.5 466.1l-1 2l2.6 1.6l1-1.6l-1 0zM593.5 441.1l-1.4-.4l-2 1l-1.6-2l.6-2.6l-1-1l-3.6 .6l-1 1l0 2.4l-1 1l-1.4-1.4l-6 1l-4 4.4l-3 .6l-4.6 3l-1-1l-2 .4l-.4 1.6l1.4 1.4l0 1.6l-1 1l-1.4-1.6l-2 .6l0 1l-2.6 .4l-4.4 5.6l-2 1l-2.6-.6l-.4 .6l.4 2.4l-1 1l-1.4-.4l-.6-2.6l-1.4-1.4l-1 1l.4 2.4l-.4 1.6l-1.6-1l0-1l-1.4 .4l-.6 2l1 .6l.6 2l-1 1.4l-1.6-1.4l-2 0l-1.4 3l-3 .4l-.6-1.4l1.6-1.6l-1.6 0l-1.4 3.6l-2 1l-2 0l-1 1l.4 2l1.6-3l1.4 1l0 2.4l-2.4 3l-2 0l-1.6 2l-2 0l-.4-1.4l-1-.6l-.6 3.6l-1 .4l-.4-.4l.4-1.6l-1.4-2.4l0 2.4l-2.6 2l-1-.4l-1 1l-2 0l-1.4 1.4l-1.6-1.4l-.4 .4l.4 1l1-.4l1.6 .4l1 1.6l-.6 .4l-3.4-.4l-1.6 1l-4-.6l-.4 .6l1.4 1l-2.4 2l1.4 2l-1 1.4l-1.4 0l-1-1l.4-2l-1.4-1l-3.6 3l-2.4-.4l-2 1l0 1.4l1 1l-.6 1.6l-4.4 0l-1 2l-3.6 1.4l.6 1.6l2 1l-.6 1l-2.4 .4l-1-1l-3 3l-1 0l-.6-1l.6 2l-1 1l-2-1l-2 .6l-1.6 5l-1.4 1l-.6 2l-1.4 1.4l-1-1.4l.4-.6l-.4-1.4l-1 0l-1 1l0 2.4l-2 1l-1 4.6l-1-1l0-3l-1-.6l-2.6 3l1 2.6l-4.4 3.4l-1.6 2l-1 .6l-1.4-1l-3 2.4l-2-.4l-.6 1.4l2 0l1 1l-2 1.6l-2 3l-1-.6l-.4-2.4l-1 .4l-.6 1.6l-1-.6l-1.4 .6l-.6 1l1 2l-.4 1.4l-1.6 .6l-3 3.4l-1.4-3l1-2l-1.6-.4l-.4-1l1-1l3 .4l-1.6-2l0-3.4l-1.4-1.6l1-2.4l1.4-1.6l0-1.4l-2.4-1.6l0-1.4l-1-1.6l0-3l-1-1.4l0-1.6l1-1l-.6-1.4l2-.6l.6-1.4l-1.6-.6l-1 .6l-1.4-1.6l.4-1l1 0l0-4l1-1l0-2l-1.4 .6l-1-1l0-3.6l-1-1.4l1-3l-1-.6l-2.6 1.6l-.4 1l.4 3.4l-1 1l.6 4l-1 3.6l0 5.4l.4 .6l-.4 36l.4 1l-.4 .4l-.6 11.6l-1 2l0 5l.6 .4l-.6 8l2.6 1.6l3.4-.6l1.6-1l2.4 0l3-2.4l6-2l2-2.6l3.6-1l1-1.4l3.4-1l1-1.6l3-.4l1.6-1.6l2.4 1l1.6-3l1.4 1l3-.4l1.6 1l-.6-2l-2.4-1.6l1-1l2.4 1l1.6-1.4l2.4-1l-.4-2l3.4-2.6l3.6 1l2-4l-.6-1l.6-1l6 2.6l.4-3.6l1-1l4 0l-1-2l.6-1.4l2 .4l-.6 1l1.6 2l-.6 2l2 0l0-1.4l3-1.6l-1-1l0-2l1-1.4l-.4-1.6l1.4-1.4l1.6 .4l-1 2l2-2l2.4 .6l1.6-1l.4-2.6l1.6-.4l1 1l2-.6l0-1.4l1.4-1l3-6l1 .4l1-1.4l4.6 1l1-.6l-1-1l-.6-2.4l-1-.6l.6-1.4l4.4-.6l2.6-2l1.4 1l.6 2l1.4 0l0-1l2-2l1.6 1l1.4 0l-.4-3.4l.4-.6l1.6 1l0-1l-2-1l.4-2.4l2.6-1l4 .4l1.4-1l-3-2.4l0-1.6l2-1l2 2l1 0l0-3l-1-2l1.6-2l2.4 0l1.6 1l2.4-2l-1.4-3l.4-1.4l1.6 0l2-2l2 2.4l-.6 2.6l1.6 0l2.4-1l1.6-1.6l-1-1.4l0-2l-3-1.6l.4-1l3 0l1 1l2.6 0l.4-1l-.4-2l1.4-.4l1.6 1.4l-.6-1.4l1.6-2l1 0l1 1l0 1.4l1.4 .6l-.4-2.6l-3-1l1.4-1.4l-2-2.6l.6-1l2.4 1.6l2 2.4l.6 4l3 0l-2.6-2l.6-3l-2-2l2-1l2 4l1.4-1l0-1l-2-1.4l0-1.6l-2-1l.6-1.4l-.6-2l.6-.6l1 .6l0 2l1 1l2.4 .4l0-1.4l-1-.6l-.4-1.4l-2.6-1.6l1.6-1.4l1 0l2-2l.4-1.6l2-.4l-.4-2l1.4-1l0-2.6l1-1l2 0l1 2l.6-.4l1.4 .4l4-.4l0-.6l-2 0l-.4-1l2.4-2l1.6-4.4l-.6-1l-3 1l-.4-2l1.4-1.6l2-.4l2.6-2.6l.4-2l2-1l-.4-2zM456.4 561.5l1-.6l.6 1l-1 .6zM500.9 531.5l.4 1.4l-1.4 .6l-.6-.6zM506.9 523.5l1-.6l.4 1l-1 .6zM520.5 515.5l1-.6l1 2l-.4 .6zM524.0 513.0l4.4-.4l.6 1.4l-3 1zM489.9 496.1l1 1l0 1.6l-3.6 1.4l-1.4-2.4l1-1zM491.9 494.1l1-1l1 .6l-1 1zM582.0 458.1l.4 1.6l-1 .4l-.4-1zM591.5 431.1l.6 2.6l-2 1.4l0 2l1 1l2 0l-.6-1l1-1.4l-.4-4z" fill="#c00a4e" fill-rule="evenodd"/><path d="M647.4 361.1h0m-16 2.6h0m-55.5 2.1h0m30.2 .2h0m-52.7 1.1h0m11.7 .1h0m54.2-.2h0m-110 .9h0m94.2 1.3h0m37.6-.1h0m-83.3 2h0m12.1 .1h0m10.3-.4h0m87.1 1.1h0m-46.1 .7h0m15 1.3h0m-26.8 2.2h0m34.6 .1h0m-57.8 1.3h0m5.6-.6h0m52.5 2h0m.5 0h0m21.7-.3h0m-120.8 .9h0m104 .2h0m-119.5 3h0m136 .1h0m-119.2 1.7h0m1.8-.7h0m98 .6h0m-5.6 .9h0m24.6-.6h0m-177.2 .9h0m41.7 .3h0m90.6 1h0m-31.3 1.1h0m22.7 .1h0m12.5-.4h0m13.9 .7h0m-85.4 1.1h0m11.9-.7h0m45.5 .5h0m7.1-.8h0m.4 1.3h0m45.6 .6h0m-157 .8h0m93.9-.1h0m24.7 .1h0m5.9-.4h0m12.4 .4h0m-142.9 .5h0m100.6 .1h0m66.6 .2h0m-99.2 1h0m39.3-.3h0m12 .5h0m-47.5 .8h0m23.3 .4h0m6.4-.1h0m21.6-.8h0m21.9 .6h0m5 .1h0m-52.7 1.2h0m-88.2 .1h0m57.4 .8h0m30.4-.2h0m23.4 .3h0m-41.4 .6h0m38.3 .4h0m41.4 0h0m-97 .3h0m32.9 .8h0m19.5-.5h0m1.7 0h0m12 .1h0m15.3 .3h0m-25 .2h0m-43.4 1.1h0m22.2-.1h0m7.9 .6h0m11.8-.2h0m17.2-.3h0m5.7 .4h0m13 .3h0m15.1 0h0m-150.4 .5h0m17 0h0m33.8 .2h0m22.5 .3h0m24.3-.8h0m5.5 .5h0m21.4-.2h0m-84.5 1.3h0m2.6-.3h0m33.5 .4h0m-31.9 .5h0m46.7 .6h0m24-.1h0m3.1 .1h0m29.5-.4h0m-85.2 .6h0m13.9 0h0m12.4 0h0m40.4 .1h0m14.7 .7h0m.4-.4h0m-96.4 1.2h0m14.5-.6h0m19.5 .8h0m8.5 .1h0m30.5-.9h0m1.9 .7h0m10.1-.3h0m10.8-.5h0m-150.1 1.3h0m38.2 .4h0m43.7-.3h0m4.8 .1h0m4.6-.1h0m8.8 0h0m47.9 .5h0m1.2-.4h0m-131.7 .7h0m60.8 .7h0m2.7-.7h0m18.8 .6h0m17-.5h0m23.2 0h0m-37.7 1.6h0m4.5-.2h0m2.4-.3h0m19.6 0h0m18.7 .1h0m-94.4 .8h0m1.8 0h0m30.8-.2h0m5.1 0h0m7.4 .2h0m9.4 .7h0m9.6-.9h0m-28.3 1.1h0m41 .3h0m20.7 .4h0m-154.4 .9h0m26.3-.4h0m10.2 .5h0m98.7-.7h0m7.4-.1h0m11.2 .3h0m-98.6 1h0m23.2 .3h0m6.1 0h0m13.5-.1h0m12.7 .1h0m28.2 .3h0m9.8-.2h0m3.4-.2h0m-75.6 .7h0m1.4 .6h0m3.8-.4h0m26.7 0h0m25.2-.5h0m17.3 .5h0m-105.9 1.4h0m15.1-.8h0m0 0h0m29.4 .4h0m4.7 .4h0m2.2-.8h0m4.8 .7h0m.8 0h0m1.5-.8h0m2.5 .6h0m6.7 0h0m18.3 .2h0m6.2-.3h0m19.3-.4h0m-192.2 1.4h0m6.6 .4h0m59.5-.7h0m16.8 .5h0m5.9 0h0m29.1-.7h0m25.5 .8h0m.9-.1h0m1.9-.5h0m1.4 .3h0m2.5 0h0m24.6 .3h0m12.3-.6h0m-84.1 1.4h0m16.5-.2h0m5-.1h0m1.5 .3h0m14.1-.5h0m9.4 .6h0m15.4 .3h0m1.1-.7h0m18.1 .4h0m-121.2 1.1h0m4.5-.7h0m12.3 .4h0m50.5 .3h0m3.7-.6h0m9.4-.1h0m.8 .2h0m0 .6h0m1.3-.8h0m5.2 .1h0m1.7 .1h0m-77.8 1.2h0m18.5 0h0m11.3-.2h0m11.8 .4h0m10.7 .3h0m1.8-.8h0m10.2 .7h0m-67 .4h0m50.2 .7h0m4.5-.4h0m1.3 .2h0m5.3-.4h0m8.7-.2h0m7.2 .2h0m-108.3 .6h0m21 .8h0m.1 0h0m4.7-.5h0m38.1-.2h0m6.3 .9h0m1.3-.3h0m3.1-.4h0m5 .5h0m2.6-.3h0m13.7-.1h0m8.9 .5h0m4.8-.1h0m22.1 0h0m17.4 .1h0m-136.1 .7h0m3.7-.4h0m48 .5h0m.2-.5h0m3.7 .7h0m5.1-.8h0m7 .2h0m4.2 .4h0m3.7-.4h0m.8 .2h0m39.9-.4h0m6.6 0h0m21.1 0h0m-105.3 1.8h0m3.5-.5h0m19.8 .2h0m1.5 .1h0m3.8-.6h0m6.4 0h0m10.3 .9h0m1.5-.3h0m4.7-.7h0m11.9 .6h0m37.7-.1h0m2.6-.1h0m2.5-.3h0m2.2 .8h0m-202 .3h0m22.9 0h0m71.8 .1h0m10.7-.3h0m10.6 .3h0m.9 .3h0m5.4 .2h0m.1-.4h0m5.6 0h0m1.6 .2h0m1.8-.6h0m5.8 .7h0m44.5-.5h0m6.6 .7h0m-178.8 .3h0m21.8 .2h0m31 .3h0m10.6-.3h0m8.3 .3h0m18.9-.1h0m.1 .3h0m8 .1h0m.9-.6h0m.5 .4h0m1.5-.4h0m11.5 .3h0m7.2-.6h0m1.6 .7h0m9.8 .1h0m4.7 0h0m11.3-.8h0m.8 .8h0m-73.4 .5h0m11.3-.1h0m16.8-.2h0m1.3 .1h0m5 .4h0m4.5 .2h0m1.6-.1h0m17.3-.5h0m8.3 0h0m.4 .3h0m-129.8 .7h0m35.3 .4h0m46.6 .2h0m5.5-.4h0m8.2 .4h0m3 .1h0m1.4-.8h0m3 .4h0m.2-.2h0m2.9 .3h0m3.9-.3h0m.5 .3h0m.9 .1h0m15.8 .2h0m19.8 0h0m.6 .1h0m-152.9 1h0m20.2-.4h0m15.2-.4h0m13.9 .6h0m15.3-.4h0m1.2 .4h0m6.2-.5h0m21.9 .5h0m7.9-.2h0m1.4-.1h0m1.2-.4h0m5.8 .7h0m11.5-.4h0m2.8-.4h0m1.9 .2h0m4.5-.1h0m1.9 .2h0m3.5 .4h0m1.2-.2h0m2.1-.4h0m2.5 .4h0m5.2 0h0m.9 .2h0m-133.2 .9h0m69.9 .2h0m16.3 .2h0m1.2-.3h0m.8-.3h0m3.6 .2h0m16.4 .4h0m7.5-.3h0m2.6 .2h0m10.6-.4h0m17.3 .2h0m14.7-.3h0m-140.4 1.5h0m22.7-.5h0m20.5 .4h0m1.6-.3h0m3.1-.4h0m10.7 .5h0m6.5 .1h0m.2-.4h0m16.2 0h0m15.2 .5h0m22.2-.7h0m-132.4 1.8h0m7.5-.2h0m37.3-.1h0m12.6-.1h0m2.8 .3h0m4 0h0m2.1 0h0m6.8-.1h0m2.4-.7h0m1.6 .9h0m.1 0h0m7.1-.9h0m1.1 .3h0m.4 .4h0m0-.1h0m4.5 .2h0m.1-.7h0m1.3 .4h0m.1 .3h0m.8 0h0m2.1-.8h0m.4 .4h0m1.9 .2h0m5.9 0h0m4.4 .2h0m.2 .1h0m2.9-.1h0m-111.3 .5h0m69.5-.3h0m5.8 .2h0m2.1 .3h0m2.4-.4h0m6.7 .8h0m4.5 .1h0m2.7-.1h0m4-.8h0m1.2 0h0m1.4 .4h0m.4-.2h0m2 0h0m.8 .6h0m1.7-.7h0m18.6 .5h0m31 .2h0m-161.5 1h0m7.3-.3h0m39.8-.4h0m18.2 .6h0m6 .1h0m8.4-.5h0m5.6-.4h0m.1 .2h0m1.1 .3h0m0-.1h0m1.2 0h0m.4 .2h0m.7-.2h0m.7 .2h0m4.6-.5h0m.1 0h0m1.8 .6h0m5.4-.1h0m7.1-.1h0m7.8 0h0m20.4 0h0m-122.7 .9h0m27.5 .4h0m.8-.6h0m5.1 .4h0m.9 0h0m2.7-.4h0m29.4 .3h0m1.1-.3h0m.1 .5h0m.3 .3h0m2.8-.7h0m1.1 0h0m4.9-.2h0m2.7 .5h0m.4 .4h0m14.4-1h0m.3 .7h0m.8-.5h0m1.7 .3h0m.4-.3h0m2.7 0h0m3.6 .8h0m10.7-.2h0m-147.4 .8h0m16.8 .3h0m10.6-.2h0m15.3-.6h0m24.7 .8h0m3.6-.1h0m1.3-.5h0m2.6-.1h0m6.4-.1h0m11.3 .3h0m1.1 .4h0m.5-.2h0m6.3 .4h0m3.4-.3h0m.8 .2h0m1.7 0h0m2.5-.2h0m6.5-.3h0m1.3-.3h0m2.1 .1h0m5.9 .7h0m12.4 .1h0m6.4-.3h0m9.6-.6h0m-145.7 1.3h0m12.8-.3h0m3.1 .4h0m12.1-.5h0m21.2 .4h0m10.8-.3h0m4.7 .8h0m2.8-.4h0m.3 .5h0m1.1-.3h0m2.5-.7h0m3 .1h0m2.5 .3h0m6 .5h0m1.7-.4h0m.3-.2h0m3.5 .1h0m1.2-.3h0m.5 .6h0m0-.1h0m.3 0h0m.9 .3h0m1.1-.8h0m.6 .1h0m2.3-.1h0m.5 .4h0m3.3-.1h0m5.3 .4h0m1.2-.1h0m1.8-.1h0m3.5 .3h0m2-.4h0m8.4 .4h0m13.5-.1h0m-132.7 .9h0m37.4 .1h0m14.2-.5h0m6.3 .6h0m.6-.5h0m9.9 .4h0m.9-.8h0m5.5 .2h0m.4 .6h0m12.9-.7h0m.3 .2h0m.7-.1h0m1.8 .3h0m1.1 .5h0m.7-.4h0m.7-.3h0m3.9 .2h0m5.8-.2h0m1.7 .2h0m1.6-.5h0m7.6 .5h0m1.3-.5h0m.7 .8h0m3-.2h0m1.5 .1h0m3-.5h0m15.2-.1h0m10.8 .9h0m5-.1h0m-157.6 .2h0m68.3 .9h0m6-.2h0m1.8-.4h0m5.6 .2h0m.2-.6h0m2.5 .4h0m1.5 .1h0m2.9-.5h0m1.1 .9h0m11-.4h0m4.3 .3h0m6.3-.8h0m1.1 .2h0m.3 .2h0m2.5 .6h0m2.1 0h0m15.9-.2h0m14.3-.7h0m28.1 .4h0m-183.9 .7h0m64.2 .4h0m8.8 0h0m.7-.4h0m5.4-.1h0m3.2 .4h0m2.6 .2h0m3.4-.3h0m7.9 0h0m.6 .4h0m3.5-.6h0m8.9 .6h0m.2-.2h0m5.4 .1h0m.3 0h0m.4-.1h0m1.2-.2h0m6.2 .1h0m5.9 .4h0m.1-.6h0m.1 0h0m6.9 .3h0m4.7-.5h0m30.4 .6h0m-204.8 1.2h0m8.7-.9h0m23.3 1h0m6.8-.6h0m6.9 .1h0m8.5 .1h0m4.7-.2h0m29.3-.2h0m8 .1h0m2.1 .7h0m7.1-.6h0m4.8 .6h0m6.6-.2h0m1.9-.6h0m5.9 .7h0m.8-.9h0m.1 .2h0m3.4 .4h0m2.6 .3h0m.3-.7h0m2.5 .6h0m1.1-.1h0m8.6-.5h0m.4 .2h0m2.6-.3h0m.9 .2h0m1.8 .4h0m.9 .1h0m5.9-.4h0m.2 .4h0m2.3-.6h0m2.3-.1h0m2.6 .3h0m0 .6h0m7.8 0h0m2.4-.1h0m.9-.7h0m.4 .6h0m.1 0h0m5.9-.4h0m-134.7 .8h0m3.6 .8h0m8.5-.3h0m2.8-.6h0m26.1 .7h0m3.4-.5h0m9.8 .6h0m5.7-.1h0m6.8 0h0m.2-.7h0m5.2 .1h0m.9 .6h0m1.8-.4h0m3.9 .4h0m4.2-.2h0m.5-.6h0m6.4 .2h0m6.1 .4h0m1.2-.1h0m2.1-.1h0m2.3 .3h0m.4 .2h0m.7-.5h0m.3-.2h0m9.8 .1h0m2.4 .5h0m1.8-.4h0m.9 .1h0m4.9-.2h0m1.7 .4h0m2.3-.1h0m2.5 .2h0m-141.4 1.1h0m11.8-.8h0m12 .4h0m31.9-.1h0m28.6-.1h0m.3 .6h0m.6-.4h0m1.4 .2h0m4-.1h0m0-.3h0m.2 .5h0m1.3-.4h0m8.8 .2h0m11.3 .4h0m1-.2h0m1.3-.2h0m1.9-.1h0m0 .2h0m3.6 .2h0m2.9-.2h0m9.2-.4h0m.4 .6h0m1.1-.7h0m3.1 0h0m.7 .2h0m-116.9 1.5h0m26.6-.8h0m.6 .4h0m9.3-.1h0m3.3 0h0m5.5 .1h0m4.2 .4h0m5-.6h0m7.5-.2h0m.7 .9h0m2.9-.4h0m3.4-.1h0m.8 0h0m2.4-.2h0m22.2 .5h0m.2-.5h0m3.6 .5h0m.6 0h0m1.7-.4h0m6.6-.2h0m7.2 .4h0m5.7 .2h0m5.4-.7h0m18.8 0h0m1.8 0h0m-138.8 1.3h0m4.2 0h0m11.2-.1h0m19 .2h0m.6 .4h0m5.4-.5h0m1.7 0h0m4.2 .1h0m.2-.3h0m.2 .3h0m2 .3h0m2.2-.8h0m.8 .7h0m2.2-.3h0m3.3-.3h0m.1 .6h0m.1-.5h0m2.8-.1h0m.5 .1h0m.3 .1h0m.4 0h0m23.9 .2h0m.6-.1h0m4 .4h0m3.9-.4h0m8.8 .1h0m.1 .3h0m1.5 .1h0m5-.8h0m1.4 .6h0m-127.9 .6h0m4.9 .1h0m13.6 .2h0m25.9-.4h0m10.3-.1h0m2.8 .1h0m3.1 .7h0m7.9-.5h0m7-.2h0m0 .3h0m2.6 .4h0m1.6-.5h0m.7-.1h0m23.8 .4h0m3.2-.7h0m3.1 .7h0m2.9 0h0m1.3-.5h0m.1 .2h0m1.7 .6h0m6.7-.9h0m6 .4h0m10.6 .3h0m-128.8 .3h0m1 .8h0m28.4-.5h0m7-.3h0m2.5 .7h0m10.8-.4h0m5.6 .3h0m2.7-.7h0m.2 1h0m3.8-.3h0m.9-.2h0m3.2 0h0m.5 .2h0m22.9-.4h0m1.5 .3h0m.6 .3h0m2.7-.7h0m1.5 .6h0m.4-.2h0m.9-.6h0m4.8 .3h0m3.1 .3h0m1.9 0h0m4.9-.1h0m2.5 .5h0m.1-.1h0m8.1-.9h0m3.3 .4h0m-142.9 1h0m4.5 .5h0m4.1-.7h0m17.6 .4h0m19.4-.6h0m8.6 .8h0m1.4 0h0m.3 0h0m6.2 .2h0m2.5-.7h0m4.3 .7h0m.5 0h0m2.1-.2h0m4.6-.7h0m.6 .1h0m5.8-.2h0m25.6 .5h0m2.5-.4h0m1.3 .2h0m3 .3h0m1.7 .1h0m1.9-.6h0m.5 .3h0m1.8 .5h0m2.8 0h0m6.9-.2h0m1.3-.1h0m3.3-.1h0m-136.9 1.1h0m.8-.5h0m1.8 .7h0m6.2-.1h0m30-.4h0m27.6 .7h0m.5-.4h0m.8-.1h0m2.1 0h0m.9 .4h0m0-.5h0m2.7 0h0m.9-.3h0m1.2 .2h0m.7-.2h0m2.1-.1h0m.1 .7h0m.7-.1h0m1.8 .3h0m30.1-.5h0m6.2 .1h0m3.5 .4h0m1.1-.6h0m4.5-.1h0m.2 .3h0m3.6 .1h0m2-.1h0m8.5 .4h0m1.3-.7h0m-144.7 1.1h0m4.8 .3h0m8.9 .3h0m.5-.4h0m3.1 0h0m2.8-.2h0m8.9-.2h0m5.3 .1h0m3.2 .8h0m3.6-.4h0m23.5-.4h0m1.3 .2h0m3.7-.1h0m4.1 .1h0m5.8 .2h0m3.7 0h0m32.5-.4h0m3.2 .1h0m12 .6h0m8.8 0h0m39.7-.5h0m-197.7 1h0m13.4 .3h0m7.1-.6h0m3.6 .8h0m37.9 0h0m12.4-.7h0m2.9 0h0m7.4-.1h0m.1 0h0m.7 0h0m1.2 .8h0m.8-.6h0m2 .2h0m1 .3h0m.4-.7h0m0 .3h0m.4 0h0m36.6 .1h0m1.3 .3h0m2.8 .2h0m1.1-.6h0m2.9 .3h0m1.8-.6h0m.4 .7h0m5.1-.1h0m.8-.6h0m2.9 .8h0m4.6-.3h0m2.8-.4h0m6.3 .5h0m-158.9 1.3h0m7.6-.8h0m.6 .7h0m2.3-.7h0m13.8 .6h0m5 0h0m19.4-.2h0m1.7-.2h0m10-.3h0m10.5 .7h0m1.6-.4h0m2.7 0h0m7.9 .5h0m.5-.9h0m.5 .5h0m1.5-.3h0m.9 .3h0m1.4 .5h0m4.2-.6h0m.3-.2h0m.6 .3h0m.7-.1h0m29.8 .5h0m.8-.2h0m1.3 0h0m.9-.5h0m4-.1h0m1.6 .7h0m2.6-.5h0m2.6 .7h0m.3-.2h0m2.9 0h0m1.7-.8h0m3.7 .5h0m1.7-.1h0m5 .5h0m1.5-.8h0m35.3 .2h0m-195.2 1.2h0m17.7 0h0m4.6 0h0m.1 .5h0m6.5 0h0m2.2-.9h0m3.2 .4h0m4.4 0h0m1.5 .2h0m4.5 0h0m5.8-.4h0m9.2 .6h0m3.9-.4h0m.4 .2h0m2-.5h0m4.8 .7h0m4.6 0h0m3.8-.4h0m2.1-.1h0m1.8-.2h0m1.6 .2h0m.5 .5h0m.1-.1h0m1.5-.4h0m2.8-.3h0m3.1 .4h0m.7-.3h0m.9 .8h0m3.2-.7h0m.7 .2h0m2.1 .4h0m1.9-.3h0m27.1-.1h0m1.6-.2h0m0 .3h0m2.3 .2h0m.8-.4h0m.2 .2h0m4.1 .2h0m.3-.1h0m2.1 0h0m2-.2h0m9.7 .2h0m4.5-.4h0m1.9-.3h0m7.4 .3h0m-178.3 1.6h0m45.5 0h0m3.1-.4h0m3.7 .4h0m2.5 0h0m20.7-.9h0m6.9 1h0m7-1h0m2.1 .7h0m8.6-.5h0m2.3 .8h0m.3-.6h0m2.3 0h0m.9 .3h0m2.3-.1h0m.2-.3h0m.4 .5h0m.4-.8h0m1.2 .2h0m4.6 0h0m.1 .1h0m23.7 .3h0m.4 .3h0m3.3-.7h0m.6 .5h0m1.9-.1h0m6.7-.5h0m2.6 0h0m8.5 .5h0m1.3 0h0m-148.1 .7h0m28.5 .2h0m2.6 .2h0m9.8-.3h0m7.5 .4h0m3-.3h0m2 .4h0m14.8-.4h0m2.4 .5h0m4.7-.3h0m7.5 .3h0m.6-.2h0m.9-.7h0m0 .2h0m3 .5h0m.7-.6h0m.9 .5h0m0-.6h0m2 .4h0m2.3 0h0m0 .3h0m30.7-.6h0m2.6 .6h0m.4-.8h0m1 .8h0m4.4-.4h0m.7 0h0m.4 .1h0m1.4-.1h0m1.8 .6h0m5.6-.9h0m16.6 .6h0m-152.7 .4h0m4.2 .7h0m1.4-.8h0m1.6 .2h0m4.6 .8h0m1.3-.3h0m2.5 .2h0m7.8-.4h0m14 .3h0m4.9-.3h0m7.8-.1h0m8.6-.2h0m.3 .3h0m7.5-.1h0m3.7 .4h0m.2 .1h0m4.8-.1h0m4-.4h0m.7 .3h0m.9 .2h0m.9-.1h0m2.4-.1h0m.9-.6h0m1-.1h0m.3 .8h0m34.3 .2h0m2-.2h0m.2-.7h0m.1 .7h0m.5-.5h0m6.2 .6h0m.8-.6h0m1.5-.1h0m2.2 .2h0m3.7 .3h0m.5 .1h0m9.1 0h0m.6 0h0m3.2-.4h0m-140.2 1.4h0m17.5-.5h0m7.8 0h0m1.4 .1h0m6.3 .1h0m12 0h0m8.4 .1h0m1.2 .1h0m3.7-.2h0m3.4 .5h0m4.3-.2h0m0-.4h0m4.9-.2h0m2.1 .5h0m0-.5h0m40 .2h0m6.4 .2h0m2-.3h0m1.5 .1h0m3.5 .1h0m-149.4 1.4h0m1.1-.8h0m7.8 .1h0m4.9 .3h0m14.8-.3h0m.7-.1h0m2.1 0h0m2.5 .4h0m41.4 .4h0m1.4-.4h0m1.5-.2h0m.1 .4h0m1-.6h0m1.2-.1h0m.1 .6h0m9-.6h0m4 1h0m.3-.7h0m.9 .5h0m34.6-.6h0m3.2 .4h0m4.9-.6h0m1.3 .1h0m.6 0h0m.7 .3h0m1.7 .3h0m1.5-.1h0m5.7-.5h0m6.7 .8h0m2.1-.8h0m.3 .7h0m14.1-.1h0m8 .2h0m-152.2 .9h0m15.4-.4h0m1.3 0h0m1.8 .6h0m5.6-.7h0m6.7 .7h0m13.6-.4h0m1.1 .1h0m4.9-.3h0m3.4 .2h0m1.1 .2h0m2-.4h0m2.4-.2h0m.3 .7h0m.6-.2h0m1.9 .2h0m.9-.6h0m.8 .1h0m1.7 .1h0m.2 .1h0m37.8-.4h0m2.2 0h0m1.8 .2h0m1.2 .2h0m2.1-.1h0m1.4-.2h0m3.6-.3h0m2.2 0h0m2.2 .1h0m2 .2h0m.6 .4h0m2.3-.5h0m1.4 .8h0m16.3-.7h0m30.8 0h0m-190.5 .9h0m4.1 0h0m1.3 .1h0m3.6-.1h0m18 .6h0m2.8 .2h0m7.3-.4h0m8.5 .2h0m9.3 .2h0m6.8-.2h0m3.9 .1h0m.8-.5h0m7.6 0h0m3.4-.4h0m.6 .6h0m.5 0h0m.5 .4h0m.9-.5h0m.6 .2h0m.7 .3h0m.4-.7h0m.4 .6h0m40.7 0h0m1.2-.7h0m0 .4h0m.9-.1h0m.8 .4h0m.6-.9h0m.3 .7h0m1.7-.2h0m5.5 .5h0m2.6-.9h0m.6 .1h0m2.6 .6h0m6.1-.4h0m-130.1 1h0m8.1 .1h0m5.1-.2h0m8.2 .6h0m15.7-.2h0m6.8-.1h0m3-.3h0m1.7-.3h0m3 .8h0m6.8-.1h0m.3-.3h0m2.5 .1h0m1.4-.2h0m4.7 .5h0m30.6-.1h0m.5 .2h0m5.5-.7h0m.3 .7h0m1.8-.4h0m.1 .3h0m2.5-.3h0m2.6-.4h0m.8 .6h0m0 .3h0m4.6-.8h0m3.3 .8h0m3.3-.4h0m3.1 .4h0m5.2-.1h0m14.4-.1h0m-171.5 .2h0m4.4 .2h0m7.4 .4h0m11.3 .1h0m2.8-.6h0m24.3 .5h0m.8 .2h0m.7-.3h0m13.4 .2h0m2.9-.2h0m6.7-.3h0m4.7 .4h0m.1-.1h0m3.5 0h0m3.7-.5h0m4.2 .5h0m.1-.4h0m36.6 .7h0m.1-.5h0m3.2-.1h0m1.2 .3h0m1.1-.5h0m.5 .1h0m2.5 .7h0m1.4 .2h0m1.6-1h0m4.5 .6h0m.2-.6h0m.5 .5h0m.8 .2h0m2.9-.6h0m3.5 .4h0m2.5 0h0m3 0h0m-160.7 1.4h0m5.9-.5h0m11.4-.1h0m8 .5h0m10.2-.1h0m1.1-.7h0m1.9 .7h0m2.6-.1h0m2.5-.1h0m.6-.3h0m10.4-.1h0m4.4 0h0m1.5 .7h0m2.5-.4h0m2.7 .6h0m8.7-.2h0m1.1-.6h0m.4 .6h0m3.9-.1h0m5.4 .3h0m5.3-.8h0m33.9 .4h0m2.5-.1h0m11.9 .2h0m2.3 .1h0m1.1-.3h0m1.9-.1h0m1.5-.3h0m1.5 .4h0m4.3 0h0m-121.7 1.2h0m2.4-.7h0m1.3 .9h0m7.2-.5h0m2.1 0h0m13.2 .6h0m3-.7h0m.5 .5h0m1.9 .2h0m6.2-.6h0m.1-.1h0m.1 0h0m.2 .5h0m2.7-.5h0m1.4 0h0m2.3 .6h0m.4-.3h0m2.6-.2h0m3.4-.3h0m2.4 .2h0m.1 0h0m5.8 .2h0m35-.4h0m3.6 .9h0m6.8-.3h0m.2-.4h0m.4 0h0m1.8 .4h0m3.4 .1h0m2-.5h0m1.7 .3h0m.5-.4h0m.3 .3h0m1.5 .1h0m.6 .3h0m2.6-.4h0m1.7-.1h0m1.3 0h0m.5-.3h0m13.7 .8h0m-173.2 .9h0m39.9 .1h0m2.4-.3h0m1.7-.6h0m9.5 .1h0m7.4 .3h0m1.5-.3h0m14.7 .9h0m3.1-.1h0m3.1-.1h0m1.7-.3h0m.6 .5h0m.2-1h0m.5 .1h0m.8 .2h0m.1 .4h0m.6 .3h0m.3-.6h0m3.9 0h0m4.1 .4h0m.7-.6h0m1.5 0h0m32.3 .1h0m.8 .7h0m2.2-.3h0m.3 .2h0m4-.1h0m2.3-.6h0m1.7 0h0m4.9 .6h0m1.3-.2h0m.4 .2h0m.1-.5h0m2.6 0h0m16.8 .3h0m-160.3 1.3h0m8.2-.7h0m12.1 .2h0m6.8 0h0m2.3 .6h0m.3-.3h0m6.2-.6h0m4.6 .8h0m1-.8h0m4.3 .4h0m3.2-.4h0m13.4 .1h0m2.7 .5h0m0-.1h0m.9 .1h0m.4 .1h0m2.4-.3h0m1.4-.2h0m.2 .4h0m5.5-.6h0m1 0h0m2 .6h0m5.5 0h0m1.1-.4h0m38.6 .6h0m1.7-.4h0m1.9-.4h0m.5 .7h0m.3-.7h0m.4 0h0m1.1 .5h0m1.7-.4h0m1.9 .2h0m1.5-.2h0m.9-.2h0m1.8 .8h0m.2-.4h0m1.1-.2h0m5.7 .6h0m3.1-.4h0m.2 0h0m1.3 .4h0m3.6-.5h0m2.6 0h0m19.1 0h0m-181.8 1.5h0m23.4-.2h0m2-.2h0m.7-.1h0m1.2-.2h0m2 0h0m7.2 .4h0m.8 .4h0m.8-.6h0m.8 .6h0m4.3-.2h0m5.8-.4h0m.1 .3h0m.6-.3h0m0 .1h0m5.9 .1h0m.4-.4h0m.3 .5h0m3.6-.1h0m2.6 .2h0m4.1-.1h0m2.3-.1h0m.6 .1h0m2.1 .3h0m2.6-.2h0m3.3 0h0m.5-.6h0m2.9 .7h0m1.2 0h0m1.6 .1h0m1.3-.1h0m2.2-.1h0m.4 .3h0m41.7-.8h0m.5 .8h0m6.2-.3h0m1.8-.3h0m3.4-.4h0m3 .4h0m3.4 .4h0m3 .1h0m.9-.8h0m10.6 .3h0m9.5-.2h0m11.8 .5h0m-186.7 .8h0m4.8 0h0m8 .3h0m1-.5h0m10.9 .4h0m7.6-.3h0m.9 .4h0m1.6 0h0m2 .2h0m2.1-.2h0m6.5 .1h0m.2-.5h0m8 0h0m.5-.3h0m.6 .7h0m10.9-.7h0m6.4 .8h0m2.8-.3h0m.3 .4h0m2.2-.9h0m.8-.1h0m.6 .9h0m.3-.6h0m.4 .3h0m.2 0h0m3.7 .4h0m2.1-.5h0m.8-.2h0m1.6 .2h0m.9 .2h0m2.5-.6h0m.3 .1h0m41 .1h0m2.6 .2h0m.9-.1h0m1.8 .2h0m.2-.6h0m.3 .5h0m2.2-.1h0m.7-.1h0m1.3 .4h0m2.5-.1h0m.1-.5h0m1.4 .5h0m1.6 0h0m1.1 0h0m.2 .2h0m1.1-.6h0m6.9 .4h0m3.6 .3h0m4-.8h0m8.2 .7h0m14.8-.2h0m4.9 .2h0m-184.7 .3h0m11.2 .4h0m8.7-.2h0m.2 .5h0m2.2-.1h0m12-.3h0m1 .3h0m5.5 0h0m1.5 .2h0m2.6-.4h0m4.6-.5h0m4.2 .1h0m10.7 .2h0m8.9 .6h0m3-.5h0m2.8-.1h0m2.4-.2h0m2 .9h0m1-.7h0m39.9-.2h0m1.9 .9h0m9.4-.1h0m1.3-.8h0m.2 .3h0m2 .3h0m.2-.5h0m3.8 .3h0m10.3 .3h0m.9-.6h0m.2 .4h0m4.1-.2h0m.4 .1h0m9.3-.2h0m.2 .4h0m-183.5 .6h0m2.8 .4h0m11.1 0h0m1.7-.5h0m5.3-.1h0m3.7 .7h0m2.3-.4h0m15.7 0h0m3.8 .5h0m4.7-.4h0m.6-.4h0m0 0h0m7.1 .1h0m.5-.1h0m4.2 .6h0m.3-.3h0m.4 .6h0m.2-.8h0m6.3-.1h0m2.3 .2h0m2.9 .1h0m.2 .5h0m1.2-.6h0m6.8-.1h0m5.3 .6h0m4.1 0h0m43.4 .1h0m.2-.1h0m1.3 0h0m.5-.4h0m.4 0h0m1.9-.1h0m4.8 .3h0m.9-.5h0m1.5 .8h0m1.2-.2h0m0-.6h0m1.6 .3h0m5.4 .2h0m.1-.1h0m.7 0h0m3.7 .2h0m1-.2h0m2.1 .4h0m26.5-.4h0m-169.7 .7h0m22.6 .4h0m1.3 .3h0m3.4-.8h0m.2 .3h0m1.4 .4h0m9-.1h0m4.5-.3h0m6.7 .1h0m6.7-.1h0m1.4 .6h0m1.1-.1h0m0-.1h0m.2 .1h0m2.4-.8h0m1.4 0h0m.1 0h0m.3 .5h0m4.8-.5h0m3.9 .5h0m.5 0h0m.9-.2h0m.2 .6h0m5.8-.8h0m36.2 .3h0m1.9 .2h0m2.4-.5h0m.4 .1h0m1.4 0h0m1 .6h0m1.4 0h0m1.1-.3h0m3.4 0h0m7.1 .1h0m.3-.6h0m2.8 .6h0m.4-.7h0m37.2 .1h0m-161.7 1.6h0m10-.2h0m3.4 0h0m10.1 .2h0m.3 .2h0m6.5-.9h0m3.7 .6h0m2-.5h0m1.8 .8h0m2.8-.3h0m.5-.3h0m.4 .1h0m6.5 0h0m1 .6h0m.6-.7h0m2.8 .1h0m.3-.4h0m1.1 .3h0m5 .2h0m42.2 .2h0m.2-.4h0m3.7-.1h0m1 .2h0m1 .5h0m2-.2h0m.8 .1h0m.5 .1h0m2.3-.5h0m1.8 0h0m.2-.3h0m1.5 .4h0m1 0h0m2.1 .4h0m11.2-.7h0m8.7 .5h0m36.2-.5h0m-197.6 1.2h0m8.4-.3h0m1.4 .2h0m10.4 .1h0m10.8-.2h0m7.7 .4h0m1.2-.1h0m4.5 0h0m.4 .2h0m.8 .2h0m1.6-.7h0m.9 .4h0m2.5 0h0m.8-.3h0m2.4 .7h0m1.2-.8h0m.4 0h0m.4 .4h0m1.7-.3h0m5.9 0h0m.7-.3h0m2.1 .7h0m.2-.7h0m1.8 .3h0m4.6-.3h0m.5 .9h0m1.4-.8h0m45.9 .3h0m9.4 .4h0m4.2-.6h0m.2 .6h0m.3-.6h0m.4 .7h0m.6-.5h0m2.1 .1h0m9-.3h0m5.9 .2h0m3.6 .4h0m.6-.4h0m.7 .2h0m4.9 .4h0m-167.5 .1h0m22.4 .5h0m11.4-.4h0m3.1 .5h0m10.5 0h0m3.9-.5h0m0 .4h0m2.3 .2h0m3.5-.5h0m.3 .1h0m1.1 .2h0m1.5 .1h0m4.3-.4h0m3.7 .6h0m2.2-.8h0m.2 .9h0m1.6-.4h0m1.2-.4h0m3.9 .2h0m.4 0h0m1 .3h0m47.2-.6h0m1.1 0h0m2 .3h0m.1-.2h0m5.1 .4h0m.2 .2h0m3.1-.2h0m.2 .3h0m.5-.8h0m.9 .3h0m1.2 .1h0m3-.5h0m3.3 .4h0m3 .2h0m0-.3h0m15.5-.2h0m.1 .6h0m-169.4 1.2h0m4.4-.8h0m10.1 .1h0m2.9 .6h0m15.6-.6h0m1 0h0m4.3 .8h0m1.8-.1h0m2.7 .1h0m5.3-.4h0m4.6 .3h0m1.2 0h0m1.7-.9h0m1.9 .4h0m6.3 .2h0m.4 0h0m3.9 0h0m2.7 .2h0m0-.5h0m1.7 .7h0m.6-.9h0m1.6 .2h0m1.9 0h0m2.2-.2h0m.5 .7h0m.5-.2h0m.3-.5h0m51.6 .2h0m.6 .2h0m.8 .3h0m1.4 0h0m4.2-.6h0m3.2 .1h0m.8 .2h0m2.2 .3h0m.3-.4h0m.2 .1h0m2.6 .3h0m3.9-.1h0m.3-.3h0m3.8 .2h0m28.8-.4h0m-187.8 1.4h0m6.5-.4h0m8.5-.1h0m.3 .3h0m4.8 .3h0m6.3-.5h0m8.4 .1h0m4-.2h0m1 .2h0m3.1 .4h0m4.8 0h0m3.1-.7h0m3.9 .1h0m1.4 .7h0m1.6 0h0m.4-.8h0m.2 .2h0m3 .5h0m1.8-.6h0m4 .6h0m.3 0h0m.7 .2h0m2-.2h0m4.2 0h0m1.7 .2h0m7.6-.1h0m3.5-.7h0m49.9 .4h0m2-.3h0m.8 .2h0m1 .4h0m1.9-.7h0m1 .8h0m2.9 0h0m0-.4h0m2 .3h0m.5-.7h0m.7 .7h0m3.9 .1h0m15.2-.6h0m8.3 0h0m-197.1 1.5h0m15.2-.3h0m5 .1h0m7.9 .2h0m9.8 0h0m7.3-.6h0m2.4 0h0m1.4 .2h0m1.5-.3h0m1.7 .2h0m1.6 .2h0m6.4 .2h0m5-.2h0m4.3-.5h0m3.6 .1h0m1.4 .1h0m.6 .6h0m3.6-.8h0m2.1 .2h0m1.2-.2h0m2.3 .7h0m5.7-.4h0m2 0h0m.5 .3h0m.7-.4h0m.8-.1h0m5.2 .2h0m.1 .4h0m1.1-.4h0m1.7 .4h0m2.6-.3h0m.3 .5h0m1.7-.5h0m44 .3h0m4.9 .2h0m.5-.8h0m3.9 0h0m2 0h0m4.5 .9h0m.4-.2h0m1.7-.5h0m1.3 .3h0m3.2 .4h0m.2-.2h0m4.5-.2h0m23.7 .2h0m-196 .3h0m15.4 .1h0m8.2 .5h0m4.9-.3h0m1.4 .1h0m11.9 .3h0m5.2-.5h0m2.5 0h0m.4 .2h0m1.2 .3h0m13-.8h0m.8 .4h0m4.2 .4h0m.4-.5h0m.3 .3h0m5.4 0h0m2-.2h0m1.3 .5h0m1.6 .1h0m.6-.6h0m.5 0h0m.1 .4h0m.7-.4h0m5.4 .3h0m.4-.4h0m1.1-.1h0m.1 .2h0m2.7 .2h0m5 .1h0m3.7-.6h0m50.1 .8h0m6.7-.1h0m0 0h0m.9-.7h0m3.2 .4h0m3.6-.1h0m5.4-.2h0m.8 .5h0m5.7 .2h0m7.8-.4h0m25.7 .1h0m-212.2 .7h0m8.1 .4h0m9.3-.4h0m3.8 .6h0m.1-.8h0m7.3-.1h0m2.2 .9h0m.6-.3h0m.5-.2h0m.3-.2h0m1.8 0h0m18.6 .6h0m5.3-.4h0m1.7 .6h0m2-.2h0m3.7-.3h0m2.9 .3h0m1.4-.7h0m2.6 .3h0m4.8-.2h0m1.3-.2h0m.4 .3h0m1 .2h0m.7-.1h0m.8-.1h0m.7-.2h0m1.6 .4h0m4.7 .2h0m1.7-.3h0m2.7 0h0m.4 .4h0m0 .1h0m.4-.6h0m.5-.2h0m.4 .7h0m.3-.3h0m8.1 .1h0m44.7 0h0m.3-.5h0m.3 0h0m6.6 0h0m.1 .9h0m1.5-.8h0m.2 0h0m.8 .6h0m.8-.7h0m.6 .1h0m0-.1h0m1.4-.1h0m3.3 .9h0m8.4-.7h0m1.8 .5h0m17.2-.6h0m-186.9 1.2h0m37.5 .3h0m2.7 .1h0m4 .1h0m5.3-.3h0m4.7 .1h0m1.6-.2h0m1.4 .1h0m2.9-.1h0m2.1 .3h0m2-.7h0m.6 .8h0m3.3 0h0m4.4-.8h0m.1 .2h0m2.9 .7h0m2.3-.5h0m2.4 .2h0m.5-.5h0m1.3 0h0m3.5 .3h0m1.1-.2h0m.5 .6h0m.1-.2h0m.6-.2h0m.6 .6h0m6.5-.4h0m53.1-.1h0m.2-.2h0m1.1-.1h0m2.9-.1h0m7 .1h0m1 .8h0m.4 0h0m9.7-.6h0m-176.5 1.4h0m2.7 0h0m.9 .1h0m.6-.5h0m17.1 .1h0m8.5 0h0m2.5-.3h0m2.8 .2h0m3.5 .4h0m.5-.2h0m1.7-.5h0m1.8 .7h0m14.4-.1h0m7.8-.1h0m3.1 .2h0m2.6 .1h0m1.7-.8h0m6.9 .7h0m5.2-.6h0m3.5 .7h0m3.3-.3h0m.4 .4h0m7.4-.5h0m1.6 .2h0m.7-.3h0m50.3 .5h0m3.1-.7h0m.7 .7h0m1-.1h0m.3 .1h0m.1-.6h0m2 .1h0m1.8 .4h0m6.3-.6h0m1.2 .4h0m1.5 0h0m6.2-.4h0m1.1 .7h0m2.5-.4h0m-181 1.1h0m2.2-.5h0m1.5 .5h0m1.1-.5h0m5.1 .4h0m9.3-.5h0m2.4 1h0m1.6-.5h0m2.9-.1h0m7 .6h0m4.5-.1h0m4.3-.6h0m3.6-.1h0m6.5 .7h0m8.4-.2h0m3.6 .3h0m2.4-.2h0m2.2-.2h0m3.6-.3h0m1.9 .4h0m3.2-.6h0m1.6 .1h0m1 .3h0m.4-.2h0m.8 .4h0m3.5-.5h0m.7 .1h0m1.4-.1h0m.8 .6h0m.9-.6h0m.5 .1h0m.1 .2h0m4.8-.3h0m2.6-.1h0m5.1-.1h0m48.6 .8h0m5.4-.8h0m.3 .5h0m3.3 0h0m3.9 0h0m1.6 .2h0m1.5 0h0m1.2-.4h0m2.2 0h0m1-.1h0m4.3 .3h0m-170.8 .9h0m8.8-.1h0m12.2-.1h0m5.8 .1h0m3.7 .4h0m4.8 0h0m.1-.7h0m11.3 .3h0m2.4 .5h0m2 0h0m.3 0h0m1.5-.7h0m1 .6h0m1.4-.5h0m2.7 .3h0m.3 .3h0m0-.3h0m.2 .4h0m2-.4h0m1.1 .5h0m.5-.2h0m.1-.1h0m1 .1h0m4.1-.7h0m.4 0h0m5.6 .3h0m.1 .5h0m1.5-.3h0m0-.2h0m1.3 0h0m1 .3h0m5.7-.1h0m0-.6h0m1.4 .9h0m2.2-.4h0m1.4-.4h0m1 .2h0m.5 .5h0m4.2-.1h0m48.9-.5h0m4 .2h0m8 .1h0m.1 .1h0m1.4 .2h0m.4-.8h0m.4 .2h0m.9 .7h0m.2-.3h0m5.8 .4h0m1.5-.2h0m4.9-.5h0m24 .1h0m-197.8 1.6h0m.3-.6h0m2.7 .3h0m1.7 .3h0m.3-.9h0m13.9 .5h0m3.1-.3h0m.4 .7h0m.1-.5h0m4.8-.3h0m8.7 0h0m5.6 .6h0m.2 0h0m.9 .1h0m1.2-.9h0m1.2 .3h0m.3 .5h0m4.8-.4h0m1.6 .3h0m11.9-.6h0m1.2 .1h0m2.2 .8h0m2.6-1h0m3.6 .7h0m1.5-.1h0m.8 0h0m1.5 .3h0m1.6 .1h0m.5-.8h0m1.3 .5h0m4-.4h0m3 .3h0m.6 0h0m1.3-.2h0m1.4 0h0m.4 0h0m2.3 .4h0m3.9-.4h0m49.9 .3h0m3.9-.1h0m4.3 .3h0m.3-.7h0m4.5 .5h0m1-.3h0m1.1 0h0m.9-.1h0m6-.1h0m.7-.1h0m2.8-.1h0m8.9 .3h0m17.8 .1h0m-198.6 1.3h0m14.9-.6h0m1.8 .5h0m.4 .2h0m0-.8h0m1.8 .4h0m11.3 0h0m4.6 0h0m.1 .1h0m2.6 0h0m.8 0h0m.5 .5h0m5.7 0h0m3.1-.1h0m4.1-.6h0m1.5 .6h0m8.5-.4h0m.3 .1h0m7.4-.2h0m.3 .3h0m1.7-.6h0m.1 .1h0m1.5 0h0m.4 .2h0m.5 .3h0m1.5 0h0m1.8 0h0m2.9-.4h0m1.2 0h0m.3-.2h0m6.1 .5h0m1.4 0h0m7-.2h0m50.1-.3h0m.3 .5h0m4.7 .2h0m3.5 .1h0m2.6-.3h0m1.8-.4h0m0-.2h0m2.4 .6h0m5 0h0m4.6-.1h0m-169.9 1.2h0m1.6-.2h0m.9 .3h0m6.4-.1h0m4.8-.7h0m8.4 1h0m11.2-.1h0m1.1-.5h0m1.1 0h0m.2 .1h0m3 .1h0m3 0h0m2.5-.5h0m1.6 .1h0m3.6 .8h0m7.6-.7h0m.6-.2h0m.5 .4h0m3.5-.5h0m5.9 .8h0m.5-.8h0m1.9 .5h0m1.7 .4h0m2.8-.3h0m4 .1h0m.8-.7h0m4.9 0h0m58.8 .1h0m3.5 .2h0m4.7 0h0m1 .5h0m.9-.8h0m1.6 .2h0m1.6 0h0m.7-.1h0m1.8 .1h0m8.3 .1h0m4.2 .1h0m.8 .1h0m6-.1h0m6.1 .4h0m-185.6 .5h0m2.3 .5h0m1.5-.1h0m.9 0h0m.6-.2h0m15.1 .4h0m9.9 0h0m3.9-.1h0m7-.4h0m8.7-.2h0m1.9 .1h0m.6 .6h0m6.9-.2h0m.5 0h0m.7-.5h0m.9 .7h0m1.1-.7h0m3.5 .7h0m.9-.6h0m2.6 .5h0m2.5-.6h0m.2 .4h0m1.8 .1h0m.1-.3h0m2.1 .4h0m.3-.7h0m1.7 .4h0m.7 .3h0m.7-.3h0m2 .1h0m67.3-.4h0m1.5-.2h0m7.6 .5h0m.6 .3h0m.5 0h0m1.3-.1h0m4.1-.2h0m.6 .2h0m3.2-.6h0m3.9 .1h0m5.2 .7h0m2.7-.4h0m-179.5 1.2h0m1.4-.7h0m1.8 .1h0m3.2-.1h0m3.4 .8h0m20.4 .2h0m1.6-.3h0m.7-.3h0m.2 .4h0m1.2-.7h0m10.2 .7h0m2.4-.4h0m2.4 0h0m4 .1h0m2.6-.5h0m.6 .4h0m.4 .4h0m1 0h0m1.4-.5h0m.7 .7h0m1-.6h0m5.9 .4h0m.8-.2h0m2.2 .4h0m1.6-.2h0m.4-.3h0m1.7-.2h0m.3-.2h0m1.4 .6h0m1.7-.2h0m1 .5h0m1.1-.6h0m1.3-.1h0m1-.2h0m3.3 .5h0m0-.3h0m2.5 .5h0m.5-.6h0m55.4 .2h0m8.6 .3h0m.4-.7h0m1.1 .5h0m.6-.4h0m5.6 .7h0m14.1-.7h0m30.8 .5h0m-205.3 .5h0m.2 .3h0m1.3-.3h0m1.4 .2h0m.8 .1h0m16.9 .1h0m6-.3h0m2.5 .5h0m4-.1h0m.9 .2h0m.7-.2h0m9.9-.1h0m.7-.2h0m7.5 .2h0m1.9-.4h0m.8 0h0m2.8 .8h0m.4 0h0m.9-.4h0m.8-.2h0m.3 .1h0m3-.1h0m.5-.2h0m.1 0h0m.1 .1h0m2.1 .4h0m2.4 .2h0m1.5-.5h0m1.2 .3h0m7.9-.4h0m.2 .6h0m1.5-.2h0m1.3-.4h0m58.9 .2h0m.3 .1h0m1.2-.3h0m6.8 .4h0m2.4 .3h0m1.4 0h0m2.8-.8h0m3.7 .8h0m9.7-.2h0m.6 0h0m8.7-.3h0m-178.1 1.6h0m1.9-.9h0m.2 .5h0m2.4-.2h0m1.3 0h0m5.5-.4h0m1.8 .9h0m6.1-.5h0m2.6 .5h0m5 .1h0m2.4-.7h0m7.8 .6h0m1.4-.6h0m.8 0h0m3.1 .5h0m1.1-.2h0m2.1 .1h0m10.8-.4h0m7.3-.2h0m1.3 .1h0m.7 .5h0m2.9-.1h0m.8-.2h0m6.2 .2h0m.7 .3h0m64.9-.2h0m3.2-.1h0m.2-.1h0m1.3 .3h0m1.2-.2h0m1.3 .4h0m.3-.6h0m1.3 .3h0m1.2-.1h0m1.9-.3h0m2.9-.1h0m1.9-.2h0m1.3 .1h0m3.7 .3h0m26.4 .1h0m19.8 .5h0m-208.4 .8h0m1.2-.3h0m.7 .3h0m.3 0h0m.5-.3h0m3.5 .4h0m6.7-.8h0m7 .9h0m3.7-.2h0m4.9-.1h0m1.9-.6h0m.8 .2h0m.2 .3h0m.7-.6h0m3.1 0h0m1 1h0m1.6-.9h0m.5 .3h0m2.2-.4h0m.3 .2h0m2.3 .6h0m1.5-.2h0m5.1 .1h0m2-.3h0m.1 .4h0m2.7-.2h0m4.8-.6h0m.2 .8h0m.1-.8h0m.6 .1h0m1.1 .8h0m1.6-.7h0m2.6 .5h0m.6-.4h0m2.4 .1h0m2.1 0h0m1.5-.4h0m1.7 1h0m.6-.6h0m1.2 .1h0m2.5-.2h0m56.5 .5h0m7.5 .1h0m.7-.9h0m3.7 .6h0m.8 .2h0m.9-.3h0m2.9 .4h0m2.7-.6h0m1.8-.3h0m4.1 0h0m6.7 .7h0m17.7 .2h0m-184 .6h0m3.3 .3h0m7.3-.7h0m3 .6h0m2.5-.4h0m2.1 .4h0m11-.2h0m.9-.2h0m2 .1h0m3.3-.3h0m.5-.1h0m1.9 .2h0m1.9 0h0m3.2-.1h0m3 .6h0m3.2-.7h0m3.6 .3h0m1.3 .3h0m1.3 .2h0m.6-.2h0m1.5-.1h0m1.1 .2h0m1.9 0h0m5 .1h0m2.3-.8h0m1.2 .6h0m2.9-.5h0m.1 .3h0m2.4 0h0m1.2-.1h0m1.6 .1h0m55.7-.3h0m2.1 .8h0m.5-.4h0m4 .2h0m1 .2h0m1.8-.8h0m3.9 .2h0m.8 .7h0m.4-.7h0m1.4-.3h0m1.5 .4h0m0 .5h0m0 0h0m.6-.6h0m4.2 .3h0m4.4-.4h0m0-.1h0m-161 1.4h0m1.9-.3h0m.2 .3h0m2.2 0h0m.2-.3h0m13.5 .8h0m6.9-.7h0m1 0h0m.7-.2h0m2.3 .1h0m2.4-.1h0m1.5 .4h0m4.2-.5h0m3.2 .5h0m5.4 .4h0m1-.4h0m4.9-.1h0m0-.2h0m0 0h0m1.4 .2h0m1.6-.2h0m2.2-.1h0m.3 .9h0m1.2-.8h0m1.7 .7h0m1.9-.4h0m2.1-.1h0m1 0h0m.6 .2h0m1-.5h0m3.1 .5h0m2.4 .4h0m63.2-.8h0m3.2 .6h0m2.2-.6h0m6.2-.1h0m.9 .1h0m3.1 .3h0m4.8 .5h0m5.6-.2h0m14.6 .1h0m-174.5 .8h0m1-.6h0m2.3 .7h0m.3-.1h0m1.4 .1h0m3.6-.7h0m14.6 .8h0m5.4-.5h0m2 0h0m.7-.3h0m2.1 .2h0m9.2 .2h0m1.2-.1h0m.3-.2h0m5.7-.2h0m1.9 .1h0m.9 .6h0m3.9-.1h0m5.4-.2h0m2.6 .3h0m1.1 .3h0m0-.9h0m1.2 .2h0m1.7 .1h0m.1-.3h0m2 .1h0m5.3 .2h0m60.9 .3h0m1.4-.3h0m1.5 .5h0m.8-.3h0m1.2 .3h0m1.8-.8h0m1.2 .8h0m3.3-.8h0m2.3 .7h0m.6-.8h0m.4 .2h0m.7 .7h0m1.3-.6h0m1.1 .5h0m.7-.7h0m3.5 .3h0m1.2 .2h0m-158.3 1h0m3.2-.6h0m.8 .4h0m.5 .3h0m12.9-.5h0m8.5-.2h0m1.2 .3h0m.6 .4h0m1.1-.1h0m4.4 .1h0m.5-.2h0m1.1 .3h0m2-.4h0m1.6 .6h0m.1-.6h0m2.5 .6h0m1.7-.2h0m1.1-.6h0m.9 .6h0m.3-.4h0m2.6-.2h0m.1 .6h0m3.6-.2h0m.5 .1h0m.3 .1h0m.9-.4h0m3.7 .3h0m.9 .2h0m.7-.9h0m.7 .9h0m5.7-.7h0m.6-.1h0m70.3 .3h0m2 .2h0m0-.4h0m.2 .6h0m2.3-.6h0m1.5 .1h0m1.3 .2h0m5.3 .1h0m1.6 .4h0m1.8-.5h0m.9 0h0m1.9 .2h0m.2-.5h0m1.4-.1h0m2.4 .2h0m2.2 .1h0m1.7 .1h0m2.5-.4h0m.9 0h0m-168.2 1.3h0m.2-.3h0m.2 .3h0m1 .1h0m5.2-.2h0m5.2 .6h0m6.2-.9h0m2.6 .3h0m3 .5h0m.2-.3h0m5.8-.1h0m2.9 .4h0m.1-.2h0m1.5-.3h0m.3 .6h0m2.8-.8h0m9.2 .7h0m2.3-.2h0m.8-.6h0m.9 .9h0m4.1-.6h0m2.9 .6h0m.4-.2h0m.1-.6h0m2 .9h0m2.7-.4h0m1-.5h0m.3 .6h0m.9 0h0m.2 .1h0m1.3-.5h0m7.7 .4h0m57.3-.2h0m6.9-.4h0m1.5 .7h0m2.7-.6h0m.2 .8h0m.8-.8h0m.7 .3h0m.4-.1h0m.4 .3h0m3.2 .1h0m6.1-.2h0m.6-.3h0m3.1-.1h0m.6 .2h0m.3 .1h0m3.5 .3h0m4.4 .1h0m7.5-.3h0m2.8-.5h0m-173.1 1.9h0m.4-.9h0m2 0h0m3.2 .6h0m2.4 0h0m3.5 .2h0m7.8-.4h0m.4-.5h0m.5 .5h0m9.4 .1h0m3.9-.5h0m9 .7h0m2.8-.5h0m1.8 0h0m1.6 .2h0m2 .2h0m.5-.2h0m.2-.4h0m.1 .2h0m1.3-.3h0m.1 .7h0m.5 .1h0m.7-.1h0m2.1-.1h0m2.7 .3h0m3.5-.5h0m61.9 0h0m.5 .2h0m.6 .1h0m.8-.5h0m.6 .7h0m.5 .1h0m.2-.7h0m7.6-.2h0m3.2-.1h0m.4 1h0m1.5-.1h0m.9-.1h0m.7 0h0m1.9-.7h0m1.5 .6h0m5.8 0h0m1.8 0h0m1.5 .2h0m2.8-.2h0m-157.4 .8h0m1.4 0h0m.7-.3h0m2.3 0h0m.8 0h0m6.6-.2h0m2.8 .6h0m3.3 0h0m1.4-.4h0m6.9-.2h0m2.4 .4h0m2.4 .1h0m.1-.2h0m7.5 .7h0m1.1 0h0m1.2-.8h0m.3-.2h0m4.4 0h0m6.6 .6h0m1.8-.5h0m2.5 .2h0m1.7-.1h0m.1 .4h0m3.3 .3h0m.3-.1h0m.2-.6h0m1.2 0h0m63.5-.1h0m1.4 .7h0m.5-.6h0m4.7 .7h0m.8-.9h0m3 .4h0m5.7 .1h0m3.5 0h0m2.4 0h0m.1 .2h0m2-.4h0m.4 .6h0m1.7 .1h0m-152.4 .4h0m.6-.2h0m1.4 0h0m.8 .3h0m0 .5h0m1.8-.2h0m12.5-.4h0m3-.3h0m2.7 .6h0m5.5-.3h0m3.5 .4h0m2-.7h0m.4 .4h0m6.8 .2h0m3.3-.4h0m1.5 .1h0m1.6-.3h0m.1 .7h0m1.1-.6h0m2.7 .2h0m1.4 .5h0m3-.2h0m.5 .1h0m0-.5h0m1.9-.1h0m.1-.1h0m3.7 .5h0m3.4 .2h0m1.2-.2h0m.5 .3h0m1.5-.4h0m56.4-.1h0m.1-.2h0m7.5 .4h0m.8-.4h0m1.8 .2h0m.3-.4h0m2.2 .3h0m3.1 0h0m.2 .1h0m5.5 .3h0m1.5-.2h0m3.9 .1h0m.7-.2h0m3.3 .3h0m4.1 .2h0m1.2-.4h0m30.6-.3h0m-191.9 1h0m1.2 .7h0m.7-.1h0m.3 .2h0m2.4-.2h0m1-.2h0m2.8 .3h0m6-.1h0m.4-.5h0m1.4 .3h0m.8 .3h0m1.7-.4h0m2.4 0h0m1.6-.2h0m1-.1h0m3.7 .5h0m1.6 0h0m3.3 .1h0m.3-.6h0m1 .4h0m1.4-.1h0m.7 .2h0m.2 .1h0m1.7-.6h0m2 .1h0m1.2 0h0m1.6 .3h0m2.6 .3h0m1.3-.8h0m.5 .1h0m.2 .5h0m1.6-.5h0m.2 .6h0m.3-.8h0m.4 .9h0m1.7-.2h0m1.5 .2h0m1.6-.5h0m1.2-.1h0m2 0h0m10.1 .7h0m.2-.8h0m56.9 .8h0m.3-.4h0m2.2-.5h0m.4 .2h0m2.8-.1h0m.2 .7h0m2.5-.8h0m.5 .9h0m.8-.5h0m5.6-.1h0m7.2-.2h0m4.8 0h0m1.9 .4h0m.4-.1h0m13.2-.1h0m-171.8 .9h0m0 .2h0m4 .3h0m1-.3h0m3.4 0h0m1.1-.3h0m5.6 .4h0m5.4-.6h0m1.7 .4h0m5.2 .1h0m1.8 .1h0m2.1 .3h0m6.7-.7h0m5.1 .3h0m.1 0h0m3.8 .2h0m1-.6h0m.5 .7h0m.9-.6h0m1.5 .5h0m5.8 .2h0m3.4-.3h0m.9-.4h0m.9 .1h0m7.6 .3h0m2.7-.5h0m59.9 .3h0m1.4 0h0m0 .1h0m.9 .3h0m2-.6h0m.6 .4h0m2.3-.3h0m1.1 .6h0m4.1-.3h0m6.4 .2h0m2.2-.3h0m5.9-.2h0m8.2 .5h0m-167.3 1.1h0m.1-.1h0m9.2-.8h0m11.2 .4h0m0 .3h0m2.5-.1h0m7.6 0h0m1.3 .2h0m2.5 .1h0m1.3-.7h0m2.7 .5h0m.5-.4h0m3.2 .7h0m4.8-.4h0m4 0h0m1.1-.1h0m18.6-.5h0m52.6 .8h0m5-.3h0m3 .1h0m0 .2h0m.3 0h0m2.9-.4h0m3.8 .3h0m3.6-.5h0m5.5 .7h0m.2 0h0m1.5-.1h0m3.5 0h0m.7-.3h0m-148.5 1.3h0m.4-.5h0m1.8-.2h0m4.7 0h0m.3 .2h0m2.4 .2h0m2.4 0h0m4.1-.3h0m2.1 .2h0m5.1 .2h0m.5-.2h0m6.4-.2h0m4.8 .6h0m6.4-.4h0m.1-.3h0m.1 .3h0m.9-.1h0m2.3 .1h0m3.7-.1h0m.6 .5h0m2.6-.7h0m1.1 .7h0m.4-.4h0m.2-.1h0m.7-.1h0m73.4 .7h0m2.2-.5h0m1.6 .4h0m2.4-.4h0m3.7 0h0m1.2 .6h0m4-.6h0m4.1-.2h0m13.4-.1h0m5.5 .9h0m10.8-.3h0m-175.3 .9h0m1.4 .4h0m.7-1h0m13.9 .4h0m1.1 .4h0m.8 .1h0m1-.1h0m8.4-.5h0m6.4 .5h0m1.2-.2h0m1.8-.3h0m.8 .3h0m.6-.2h0m.2-.1h0m3.8-.1h0m1.3 .3h0m1.1 0h0m1.3-.2h0m.5 .2h0m1.9-.2h0m1.6 .3h0m66.1 0h0m4.1-.2h0m1.3-.3h0m.3 .5h0m.7 .3h0m1.5-.6h0m5.6 .6h0m.2-.4h0m.5 .3h0m.2-.4h0m1.9 .4h0m.6-.1h0m0 .3h0m1.4-.2h0m1.3-.1h0m.3 .1h0m1.1-.5h0m1.6 .7h0m16.6-.9h0m13.4-.1h0m-174.4 1.2h0m7.6 .7h0m5-.2h0m4.4-.7h0m.7 .1h0m4.9 0h0m2.8 .1h0m.1 .3h0m1.2 0h0m2.5 .1h0m2.6-.3h0m3.1-.1h0m2.8 .1h0m3.9 .7h0m13.5-.9h0m1.3 .8h0m.2-.6h0m0 .2h0m1.2-.1h0m.2 .2h0m1 .3h0m.9-.4h0m1.1 .1h0m62-.1h0m.8 .2h0m1.4-.4h0m1-.2h0m4.1 .6h0m.2 .2h0m.4 .1h0m2.1-.6h0m.2-.4h0m3.2 .1h0m.9 .7h0m3.1-.6h0m.3 .3h0m3.8-.2h0m.5 .5h0m.8 0h0m5.5-.3h0m-143.5 1.3h0m1.1-.6h0m1.7 .5h0m4-.4h0m2 .2h0m4.8 0h0m3.2 .2h0m3.5-.1h0m3.9 0h0m5.4-.6h0m.8 .2h0m2 .1h0m1.9-.1h0m1.6 .4h0m2.3 .1h0m2-.5h0m.7 .6h0m.4-.3h0m2.7 .3h0m1.3-.8h0m7.1 .4h0m.6-.2h0m61.6 .2h0m1.7 .6h0m1.8-1h0m5.6 .7h0m.1-.5h0m2 .6h0m.5-.7h0m1.5 .3h0m1.7 .3h0m1.2-.1h0m1.6 .2h0m3.7 0h0m1.2 .1h0m1.8 0h0m-139.3 .7h0m3.7-.3h0m3 .4h0m.7-.4h0m.1-.2h0m3.4 .1h0m.4 .2h0m2 .1h0m1.5 .2h0m1.1 0h0m1.3 .1h0m3.3-.2h0m2 .3h0m1.4-.4h0m.4 .2h0m2.7 .1h0m.2 .1h0m1.2-.2h0m5.4 .3h0m3.9-.1h0m2.6-.8h0m1.4 .1h0m1.8 0h0m3.9 .8h0m1-.7h0m0 0h0m3 .3h0m66.7 0h0m.6-.3h0m3.5 0h0m5.9 .5h0m.9 .1h0m.4-.9h0m1.2 0h0m.4 .2h0m1.1 .3h0m6.1 .1h0m-138.2 .5h0m3.3 .9h0m6.2-.5h0m1.7 .1h0m2.6 .3h0m1.3-.6h0m5.6-.1h0m.4 .6h0m4.3 0h0m.4 0h0m.1-.6h0m3.1 .1h0m2.4 .4h0m2.4-.7h0m2.8 .4h0m0 .3h0m.3-.6h0m1 .7h0m3.8-.3h0m2.9-.1h0m1.2-.3h0m.3 .2h0m64.8 .6h0m.3-.4h0m.6-.5h0m5.3 .1h0m5.8-.1h0m.6 .6h0m1.1-.4h0m4.3-.2h0m4.7 .5h0m1.3-.5h0m1.7 .1h0m1.9 .4h0m1.6 .4h0m8.7 0h0m5.8-.9h0m3.5 .5h0m.3 .3h0m-159.2 1h0m.6 0h0m3.9-.3h0m2.6-.1h0m6.2 .2h0m.4-.4h0m2.4 .8h0m1.5-.1h0m1.7-.6h0m4.9 .4h0m.7-.4h0m.4 0h0m.2 .6h0m1.1-.4h0m1 .3h0m1-.3h0m0-.2h0m.8-.1h0m.8 .4h0m3.1-.2h0m.6-.1h0m4.7 .3h0m.9 .3h0m1.7-.2h0m2.7-.7h0m67.8 .9h0m1.4-.2h0m2.4 0h0m.5-.3h0m1.3 .3h0m2.1 .1h0m3.3-.6h0m1 .8h0m3.2 0h0m1.1-.3h0m.6 0h0m.1-.5h0m6.8 .8h0m3-.5h0m19.9 .5h0m24-.9h0m-182.8 1.5h0m3.4 0h0m2.9 0h0m4.2-.4h0m.1 .5h0m1.5-.5h0m.6 .1h0m.7-.1h0m3.1-.1h0m1 .1h0m2.2 .3h0m.5 .4h0m5.2 0h0m1.9-.1h0m1.3 .1h0m0-.8h0m2.7 0h0m1.1 .8h0m3.6-.6h0m1.8 .1h0m1.6 .3h0m1.5 .1h0m.8-.4h0m1.1 .1h0m.9 .1h0m2.1 0h0m65.2-.5h0m3.2 .7h0m1.3-.5h0m3-.1h0m3.7 .2h0m.3-.3h0m1.2 .1h0m1.3 .1h0m1.6 0h0m.6 0h0m.6 .1h0m.3 .3h0m2.3-.7h0m3 .1h0m.5 .1h0m3.5 .3h0m6.6-.1h0m-144.8 1.5h0m2.3-.8h0m.2 .8h0m6.9-.5h0m7 .3h0m3.8-.4h0m.1 .6h0m3.4-.9h0m2.7 .9h0m5.3-.9h0m3.5 .7h0m.6-.5h0m.8-.1h0m1.3 .3h0m1.5 .4h0m0-.2h0m.9-.4h0m.4 .3h0m1.4-.1h0m71.8 .3h0m4.9-.5h0m3.4 .8h0m1.1-.5h0m2-.4h0m2.6 .5h0m6.2-.2h0m3.9-.1h0m45 .2h0m-184 .8h0m2.5 .5h0m2.1 .1h0m5.5-.3h0m4.8-.4h0m.1 .4h0m2.3-.4h0m.7 .8h0m3-.1h0m.4-.1h0m1-.1h0m.6-.3h0m.4 .3h0m5.2-.2h0m5.1-.1h0m1.6 .1h0m.1 .1h0m0-.5h0m1.6 0h0m.9 .6h0m1.3-.4h0m.6 .2h0m1.5-.1h0m.8 0h0m74.4-.4h0m.6 .1h0m.8 .2h0m.2-.2h0m2.2 .9h0m.1-.4h0m1.4 .2h0m.1-.3h0m5.8 0h0m9.2-.2h0m8.6 .1h0m-143.6 .7h0m8.9 .3h0m3.5-.1h0m.1 .4h0m.7 .1h0m2.2-.4h0m1.1 .6h0m2.4-.6h0m3 .1h0m5.2 .2h0m2.5-.2h0m.9-.4h0m.4 .9h0m.1-.4h0m.5-.2h0m4.5-.1h0m1.8 .6h0m.9 .1h0m74.8-.5h0m2.9 .2h0m1.7 .2h0m5.5-.7h0m0-.2h0m.1 .3h0m3.3 .3h0m.1 .3h0m1.8-.9h0m6.8 .2h0m6.4 .4h0m68.8 .2h0m-207.9 1h0m4.9-.6h0m1.9 .5h0m2.6-.4h0m1 .5h0m.1 .2h0m.7-.7h0m.4 .4h0m2-.6h0m.9 .6h0m3.8-.5h0m1.9 .4h0m6.7-.2h0m.6 .5h0m2.9-.9h0m.1 .9h0m1.1-.2h0m2.2-.3h0m2.9 .2h0m.2-.5h0m.7 .7h0m67.2 0h0m2.7-.5h0m1.8 .3h0m.2 .3h0m1.6-.8h0m3.2 .6h0m1.3-.6h0m1.2 .3h0m2.1 0h0m.9-.2h0m10.6 .1h0m2.2 .4h0m2.2-.5h0m9.4 .8h0m-143.3 .7h0m1.7-.2h0m3.4 .1h0m11 .4h0m.4-.9h0m2.1 0h0m.2 0h0m5.2 .4h0m.1-.2h0m2.5 .1h0m1.2 .4h0m1-.8h0m.3 .1h0m2.3 .1h0m.1 .7h0m.2-.7h0m1.2 0h0m.6 .2h0m3 .1h0m62.7-.3h0m1-.2h0m2.1 .1h0m1.5 .9h0m1.6-.9h0m.2 .2h0m2.3 .3h0m0 .2h0m5.1 .1h0m.3-.1h0m.7-.1h0m.7 .1h0m1.3 0h0m.2-.1h0m.3-.4h0m5.2 .2h0m15.9-.3h0m2.4 0h0m-150.1 1.8h0m6.8-.1h0m2.2 0h0m.2-.8h0m3.9 .3h0m8.5-.2h0m.4 .6h0m2.5-.7h0m3.6-.1h0m1.7 .2h0m1.6 .3h0m6.8-.3h0m1.2-.2h0m.7 .6h0m2.6-.4h0m2.3 .5h0m.1-.2h0m.5-.3h0m62.2 .4h0m4.8 .4h0m1.1-.6h0m1.2-.3h0m1 .5h0m.5-.3h0m.6 .2h0m3.3 .1h0m1.1-.4h0m.1 .3h0m0 0h0m3-.2h0m1.8-.3h0m9.9 .8h0m.6-.1h0m1.9-.6h0m1.5 .1h0m.6-.1h0m-140.8 1.7h0m6.7 .2h0m3.4-.1h0m1-.7h0m4.6 .1h0m4.5 0h0m2.1 .7h0m2-.6h0m3.9 .3h0m1.4-.7h0m1.1 .5h0m.2 0h0m.3 .1h0m1.7 0h0m.1-.5h0m3.2 .6h0m1.5 .1h0m.4-.4h0m.8 0h0m.5 .5h0m0 0h0m.6-.2h0m68.4-.1h0m3.7-.3h0m2.4-.2h0m.5 .2h0m1 .6h0m.8-.5h0m.7-.1h0m.4-.2h0m3.2 .8h0m.4-.2h0m2.6-.1h0m1.4 .2h0m.5-.6h0m10.8 .3h0m3.6 .3h0m1.5-.5h0m4.3 .1h0m9.7 .5h0m-148.3 .8h0m0-.6h0m3.2 .5h0m1.5-.4h0m1.1 .2h0m.2 .3h0m3.5 .1h0m1.3 .2h0m1.1 0h0m4.4-.8h0m3.1 .5h0m.2 .1h0m5.7-.3h0m.1 .3h0m1.3 .1h0m1.9 .1h0m1.4-.7h0m6.6-.1h0m59.4 .1h0m14.9-.1h0m1.5 .7h0m2.6-.4h0m0 .1h0m8.9 .4h0m15.9-.4h0m-141.4 .5h0m3.9 .2h0m2.3 0h0m1.8 .5h0m1.2 0h0m1.2-.3h0m1.8-.4h0m2.5 .6h0m3.2 .2h0m.1 .1h0m2.6-.5h0m3.3 .1h0m2.1-.5h0m.9 .6h0m.4-.5h0m1.7 .7h0m.9-.6h0m2.1 .2h0m74 .2h0m1.3-.6h0m1.3 .6h0m2.6-.3h0m4.2-.1h0m.3 .4h0m7.9-.4h0m1.4 .5h0m1.9-.8h0m-126.2 1.6h0m.6-.4h0m1.5 .4h0m2 .3h0m.4-.4h0m1.6-.3h0m.1 .6h0m.2-.6h0m2.8 .7h0m2.7-.8h0m.7 .3h0m1.7 .5h0m1.6-.8h0m1.9 .6h0m3.6 .2h0m1.2-.6h0m3.8 .2h0m3.4 .5h0m79.1-.9h0m.6 .5h0m3-.3h0m.2 .4h0m3.4-.2h0m.5 0h0m3.2-.4h0m.6 .3h0m3.7-.1h0m8 .4h0m5-.2h0m7.3 .1h0m-144.3 .8h0m.8 .5h0m6.2-.7h0m.7-.1h0m1.3 .7h0m.3-.5h0m.9 .3h0m.4 .2h0m3.6-.1h0m2.9 .2h0m.1-.2h0m2.4 .1h0m.7 .2h0m.2-.6h0m1.6-.2h0m.9 .6h0m.8-.1h0m0 .3h0m.7-.8h0m.9 .4h0m1.1-.1h0m1.2 .3h0m1.4-.5h0m1.4 .1h0m65.9 .5h0m5.7-.1h0m1.4 .1h0m1.8-.6h0m.3 .1h0m.3 .4h0m1.2-.7h0m1.5 .8h0m1.2-.1h0m3-.5h0m1.5 .2h0m3.1-.3h0m1.5-.2h0m4.7 .4h0m4.2-.3h0m.6 .7h0m17-.2h0m-145.2 .6h0m2.9 0h0m.3 .7h0m.8-.8h0m.9 .6h0m3 .3h0m1.2 0h0m.1-.8h0m5.1 .4h0m0-.5h0m1.6 .6h0m3-.1h0m2.6-.1h0m2.5-.4h0m2.4 .6h0m4.4-.3h0m63.9 .2h0m1.5 .3h0m1-.5h0m.1 .2h0m4.8 0h0m0 0h0m4.7 .3h0m1.2 .1h0m1.2-.2h0m.4-.2h0m3.9-.1h0m6 .2h0m5 .1h0m3.9 .1h0m10.8-.7h0m-138.9 1.5h0m1.1-.2h0m2.4-.1h0m3-.3h0m4 .1h0m1.6 .7h0m0-.3h0m2.3 .1h0m1.3-.4h0m.6 0h0m.7 .4h0m2.6-.4h0m1.7-.1h0m1.1 .4h0m1.1-.4h0m5.8 .5h0m60.2 0h0m0-.3h0m2.3 .3h0m.9-.1h0m2.3-.3h0m.6-.2h0m4.7 .4h0m1.4 .3h0m.1-.4h0m5.1 0h0m2 .4h0m1.6-.8h0m4.1 1h0m7.9-.3h0m12.6-.5h0m-135.3 1.6h0m1.7-.1h0m.6 .2h0m6.8-.8h0m.8 .1h0m6.1 .4h0m.2-.3h0m3-.1h0m1.6 0h0m3.4 .4h0m.5-.4h0m1.2 .2h0m3.1 .1h0m.2-.4h0m61.8 .3h0m.6-.4h0m1.9 .2h0m2.5 .8h0m3.4-.3h0m.9-.6h0m5.9 .1h0m1.3-.2h0m.2 .8h0m1.1 .1h0m.4-.1h0m.4-.6h0m6.2 .5h0m2.6-.4h0m13.3 .2h0m-130.8 .6h0m1.4 .5h0m2.4-.5h0m0 .6h0m12.6 0h0m1.1-.3h0m.5 0h0m5.2-.3h0m6.6-.1h0m60.4 .6h0m.9 .3h0m.9-.2h0m3.9 .1h0m1 .1h0m2.1-.6h0m.2 .6h0m.1-.8h0m1.5 .8h0m.9-.4h0m.8 .2h0m1.2 0h0m6.9-.5h0m12.6 .7h0m-114.9 1.1h0m.2-.6h0m.3 0h0m2.9 .2h0m1.8-.3h0m1.7 .2h0m2.4 .3h0m4.1-.2h0m.5-.3h0m.3 .5h0m1.4-.6h0m1 .8h0m.7-.7h0m63.5 .2h0m.9 .1h0m1.1 .1h0m2.2-.6h0m1.3 .1h0m.9 .3h0m.7 .4h0m2.1 0h0m1.4 0h0m.7-.2h0m1 .1h0m.7-.2h0m.8 .3h0m2.8-.6h0m3.9-.1h0m5.4 .3h0m8.3-.4h0m-123.8 1.1h0m2.2 .4h0m3-.3h0m1.3 .4h0m.7-.3h0m3 .4h0m.1 .1h0m3.3-.2h0m.2-.3h0m3.8-.1h0m1.8-.1h0m1.4 .1h0m.1 .6h0m.7 .1h0m69.3-.4h0m2.6-.3h0m.1 .1h0m2.6 .4h0m1-.5h0m.4-.2h0m2 .8h0m.2-.6h0m1.6 .2h0m2.4 .3h0m.3-.4h0m2 .1h0m11.9-.4h0m-114.8 1.6h0m10-.1h0m.9 .2h0m2.1-.3h0m.1 .4h0m.1-.7h0m3.3 .5h0m.4-.6h0m67.2 .8h0m1 .1h0m3.4-.9h0m1 .4h0m.4-.2h0m4.2 .6h0m.4-.5h0m4.2-.3h0m.8 .4h0m3.9 0h0m1.4 .1h0m4.4-.3h0m13.2-.3h0m13 .4h0m46.8 0h0m-182.7 1.1h0m1.6 .4h0m.9-.9h0m.3 .5h0m.3 .4h0m1.3-.2h0m2.5-.3h0m1.3-.3h0m3.6 .4h0m4.1-.5h0m.2 .4h0m1.3 0h0m.5 .6h0m.1-.2h0m.1 .1h0m1.6-.2h0m.3 0h0m63.3-.7h0m.7 .7h0m2-.1h0m3.6-.2h0m1 .1h0m.7-.1h0m.3-.1h0m4.5-.2h0m.3 0h0m0 .5h0m1.8-.3h0m.4 .3h0m.9 0h0m2.6-.4h0m6.8 0h0m1.1 .1h0m5 .6h0m13.9-.1h0m10.1-.7h0m-137.5 1.2h0m2.6 .2h0m1.3 .1h0m.5-.1h0m3.4-.1h0m2.5 .2h0m.3-.1h0m1.7 0h0m5.9-.1h0m61.9 .1h0m.7 0h0m.5-.3h0m3.9 .6h0m1.1-.4h0m1.3 .4h0m2-.2h0m3 .2h0m.4-.3h0m1.8-.3h0m.6 0h0m.9 .2h0m.3-.1h0m.5 .3h0m18.6-.2h0m3.8 .3h0m-118.4 .3h0m1.9 0h0m3.1 .3h0m.8-.2h0m1.3 .6h0m4.5 .2h0m1.5-.5h0m1 0h0m.2 0h0m63.8-.3h0m.6 .8h0m4.4-.7h0m2 .1h0m2.9 .7h0m1.6-.8h0m2.8 .6h0m7.6-.4h0m2.8-.4h0m1.2 .6h0m2.3-.1h0m15.8 .1h0m-125.5 1h0m1.6 .3h0m.1-.2h0m2-.5h0m1.1 .6h0m1.3-.6h0m.4 .2h0m1.1 .4h0m0 .2h0m3.1-.6h0m.7 0h0m6.2 .3h0m62.1 .2h0m1.2-.6h0m2.5 .5h0m2-.3h0m5.7-.1h0m2 .1h0m.1-.1h0m.4 .4h0m3.2-.3h0m3.9 .5h0m4.6-.1h0m-106.4 .2h0m1.6 .7h0m1.4-.6h0m.4 0h0m1.3 .1h0m.1 .6h0m1.8-.5h0m2.6 .3h0m3.4-.2h0m0-.3h0m1.1 .3h0m.2-.1h0m.2 .4h0m67.7-.3h0m.5 .4h0m1.1-.7h0m1 .7h0m.5-.4h0m.6 .3h0m2.2-.2h0m1.1-.1h0m2 .3h0m6.1 .1h0m.5-.4h0m11.2-.2h0m5.1 .6h0m9.4 0h0m-120.3 .3h0m.4 .3h0m5.7-.2h0m.7 .5h0m72.6 .1h0m.3-.6h0m3 .1h0m1.5-.3h0m.1-.1h0m4.7 .4h0m2.8 .6h0m1.3-.9h0m2.7-.1h0m0 .3h0m2.8 .3h0m.3 .1h0m1.1-.6h0m24.9 .9h0m8-1h0m-135.9 1.1h0m.2 .4h0m2.7 .4h0m.7-.8h0m.9 .5h0m.4-.1h0m1.4-.3h0m.9 .5h0m.2-.3h0m1.7-.3h0m66.5-.1h0m5.5 .4h0m5.1-.4h0m2.3 .4h0m1.6-.1h0m4.3 .1h0m1.3-.3h0m14.8 .1h0m16.9 .1h0m5.5 .1h0m-131.8 1.5h0m4-.3h0m.6-.4h0m.2 .6h0m1.3-.5h0m.1 .4h0m1-.3h0m.9 .3h0m.7 .1h0m0 .2h0m.9-.1h0m.1-.8h0m1.2 .4h0m67 0h0m2.1 .2h0m2.8-.6h0m1.6 .7h0m.7-.4h0m7.6 .2h0m2.5-.2h0m1.6-.3h0m2.8 .5h0m1.2 .4h0m2.5 0h0m1.3-.8h0m1.4-.1h0m16.2 .7h0m-119.3 1.1h0m2-.8h0m1.2 .9h0m5.3-.3h0m61.2 .2h0m5.1-.1h0m2.7-.6h0m1.6 .6h0m2.8-.6h0m1.9 .6h0m1.7-.3h0m2.8 .2h0m1.6-.4h0m3.1 0h0m.9-.1h0m-96.1 .9h0m1.5 .9h0m2.3-.7h0m.7 .2h0m3.5 .3h0m68.6-.5h0m.3 .7h0m.7-.1h0m.8 0h0m.8 0h0m1.5-.9h0m7.2 .9h0m6.1-.1h0m25.8 .1h0m63.6-.1h0m-183.6 1h0m3.8-.8h0m.5 .3h0m.6 .2h0m4.6 .3h0m63.1-.5h0m2.3 .3h0m.1-.3h0m3.2 .5h0m2-.7h0m2.8 .7h0m.3-.7h0m1.2 .2h0m.3 .6h0m5.2-.2h0m.6-.5h0m5 .3h0m1.5-.4h0m57.4 .3h0m-154.2 .6h0m1.7 .5h0m.7-.3h0m72 .2h0m1.9 .4h0m1.2-.1h0m1-.3h0m2.2 .3h0m3.9-.6h0m2.7 .4h0m1.1-.2h0m4.2-.2h0m1.4 .6h0m13.9-.4h0m5.4 .5h0m-115.8 .7h0m66.5 .2h0m1.5-.4h0m1.4 .4h0m8-.4h0m1.3 .1h0m.4-.2h0m1.4 0h0m1.3-.1h0m.6 .6h0m1 .1h0m2.6-.1h0m5.5-.7h0m6.5 .7h0m1-.3h0m-99.7 1.4h0m2 0h0m1.3-.3h0m1.1 .5h0m.7-.6h0m.4 .2h0m.1 0h0m63.1 .3h0m1.2-.4h0m5 .1h0m1.1 0h0m.4-.4h0m.4 .2h0m2.9 .4h0m.1-.3h0m2 .1h0m1.6 .2h0m2.4-.3h0m.1 .2h0m4.6-.7h0m4.4 .1h0m8.7 0h0m4.1 .5h0m.5-.2h0m-105.7 1.5h0m.3-.5h0m1.7-.2h0m1.2 .2h0m61.6 .1h0m.4 0h0m.4 .1h0m2.4 .1h0m.9-.2h0m.2 .1h0m1.6 0h0m.5-.4h0m3.4 .8h0m.2-.5h0m1.6-.3h0m1.4 .1h0m.4 .3h0m1.3 .2h0m5.2-.3h0m9.2 .5h0m4.4-.4h0m4.9-.2h0m2.9-.1h0m.3-.2h0m4.2 0h0m59.3 .5h0m-168.9 1.3h0m.3-.3h0m68.5 .3h0m.3-.8h0m1 .1h0m1.4 .7h0m10-.8h0m.7 .5h0m2.6-.2h0m6.4 .2h0m18.2-.1h0m-112.6 1h0m58.9 0h0m1.1 .2h0m7.7-.2h0m.1 .2h0m2.2 0h0m1.8 0h0m2.6-.3h0m.6 .4h0m2.2-.6h0m3.9 .6h0m1.1 .2h0m2.9-.3h0m4.9 0h0m34.5-.5h0m2.2-.1h0m-125.8 1.3h0m0 .4h0m.8-.4h0m.8 .6h0m56.7-.9h0m9.9 .4h0m.9 .4h0m.5-.2h0m5.6-.6h0m1.9 .6h0m2.7-.6h0m6.4 .1h0m15.2 .7h0m-42.6 .4h0m.4 .6h0m7.3-.8h0m.8 .4h0m1.2 .1h0m.6 .1h0m1-.6h0m6.5 .9h0m0-.6h0m.1 .1h0m2-.2h0m6.9 .4h0m.7 .1h0m10.2-.6h0m2.8-.1h0m3.6 .8h0m11.7 0h0m-54 .2h0m4.3 .4h0m.3-.5h0m.1 1h0m1.5 0h0m.3-1h0m.4 .7h0m1.1 .2h0m.8-.2h0m9-.3h0m11.7 .6h0m3.4-.2h0m.6-.6h0m3.8-.2h0m1.3 .5h0m-42 1.4h0m.1-.8h0m1.1 .3h0m8.4 .3h0m4.4-.4h0m.5 .5h0m1.6-.6h0m10.4-.1h0m2 .1h0m.9 .2h0m9.1-.1h0m-47.2 1.7h0m6.3-.1h0m.7-.7h0m.3-.1h0m2.9 .1h0m.8 .7h0m3.4-.2h0m11.8-.3h0m1.7 .3h0m.6-.4h0m-27.6 1.5h0m5.7-.1h0m1.4-.5h0m1.4 .5h0m.1 0h0m22.2-.6h0m15.5 .2h0m-48.7 1.1h0m.2 0h0m2.6 .4h0m5-.4h0m2.8 .4h0m.5-.7h0m1.7 .5h0m3.1-.2h0m3.6 .2h0m13 0h0m.9-.4h0m-31.6 1.6h0m1.2-.7h0m4.5 0h0m3.1 .8h0m4.4-.2h0m6.3 .1h0m9.4-.2h0m8.7 .4h0m3.9-.9h0m-44 1h0m2.4-.1h0m3.7 .1h0m1.1 .6h0m.3-.2h0m.2-.2h0m2.5 .1h0m.5-.1h0m1 .5h0m2.1-.8h0m9.9 .6h0m3.9-.2h0m-32.4 1.5h0m7-.7h0m.7-.1h0m3.2 .9h0m.2 0h0m2.5-.2h0m.6-.1h0m.7-.2h0m1.1 .1h0m1.1-.4h0m1.2 .1h0m.8 .4h0m.3-.5h0m2.9 .5h0m.7-.5h0m3.5 .2h0m1.8 .2h0m.2-.2h0m11.6 .1h0m-39.3 1.4h0m3.7-.6h0m.1-.1h0m1.4 .7h0m.1-.3h0m1.2-.5h0m.4 .4h0m2.9-.1h0m5.8-.2h0m4 0h0m10.6 .1h0m3.2 .6h0m7.5 0h0m23.1-.3h0m-66.3 1.2h0m.2-.2h0m3.2-.1h0m1 .2h0m5.7 .2h0m.6-.2h0m.4 0h0m.1-.4h0m1.5-.3h0m1.6 .5h0m.5-.4h0m2.7 .3h0m1.8 .3h0m1.6 .2h0m.6 .1h0m5.8-.3h0m64.6 .2h0m-90.6 .9h0m.1-.7h0m1.3 .3h0m1.7 0h0m.5-.3h0m2 .3h0m3.7 .2h0m.7 .1h0m5.6 0h0m16.7 0h0m21.2-.3h0m-55.6 1.5h0m1.2-.2h0m.7-.2h0m.4 .2h0m.7 .2h0m.6 .1h0m1.4-.2h0m4.1-.1h0m2.8 .3h0m1.9-.1h0m2.2-.2h0m5.6-.6h0m1.5 .1h0m.5 .3h0m7.1-.2h0m1.7-.1h0m3.4 0h0m-39 1.8h0m4.6-.7h0m.2 .7h0m0-.8h0m1.5 .1h0m3.2 .3h0m1.5 .2h0m6.4 0h0m9.7-.4h0m.1 .4h0m30.5-.4h0m4.3 .2h0m-60.2 .5h0m2.5 .7h0m.8 .1h0m1.3-.5h0m0 .4h0m6.7-.4h0m.8-.3h0m23.2 .7h0m64-.1h0m44-.7h0m-145.9 1.5h0m4.5-.3h0m5.3 .4h0m1.3 .1h0m3.1-.2h0m2.6-.4h0m.7 .5h0m4 .2h0m13.5-.5h0m2.1 .2h0m5.1-.4h0m2.2 .6h0m2.3 .3h0m4.6-.8h0m2 0h0m41.2 .7h0m-96.1 .3h0m4.2 0h0m1.4 .2h0m.7 .5h0m.8-.7h0m2.7 .1h0m.4-.3h0m1.6 .5h0m11.6 0h0m5.4 .2h0m32.3 .2h0m87.1-.2h0m-143 1h0m2.3 .2h0m.6-.2h0m2.5 .2h0m13.2-.6h0m16.2 .7h0m3.6-.1h0m8.2-.3h0m21.7-.5h0m32 .1h0m-104.2 .9h0m2.6 .4h0m2 .1h0m1.7-.4h0m4.2 0h0m5.6 .5h0m1.2-.7h0m9.2 .2h0m.5 .6h0m20.2-.2h0m-52.8 .8h0m.9-.3h0m.8 .2h0m6.2 .5h0m1.7-.7h0m2.6 .4h0m8.9 .4h0m.1-.7h0m.6-.1h0m1.2 .3h0m1.9 .3h0m16.8-.2h0m10.8-.3h0m12.6 .1h0m-70.2 1.4h0m3.3-.6h0m3.2 .7h0m.5 .1h0m1.4-.5h0m8.9 .2h0m1.7 0h0m6.3 .4h0m15-.7h0m2.4-.2h0m12.8 .2h0m-57.2 1.5h0m.7-.6h0m.1 .2h0m2.3 .3h0m1.3 0h0m.7-.3h0m1.5 .1h0m1.8 0h0m5.8-.1h0m6.8 .6h0m.4-.7h0m2.3 .2h0m4.1-.2h0m4.5 .1h0m1.4 .6h0m4-.9h0m-41.1 1.1h0m5.5 .3h0m.8 .4h0m1.6 .1h0m.5-.3h0m1.1-.6h0m.7 .7h0m3.7 .1h0m5.2 0h0m1.2-.4h0m.1 .4h0m11.4 0h0m0-.4h0m.4 0h0m.5-.4h0m8.4 .1h0m7.7 .1h0m7.4 .1h0m1.6 .1h0m5.2 .5h0m61.5-.8h0m-125 1.6h0m.1 .1h0m1.2-.8h0m1 0h0m2.6 .3h0m4 0h0m.8 0h0m1.5 .1h0m0 .2h0m3.6-.1h0m9.6-.2h0m25.4 0h0m6.7 .1h0m1.3 .3h0m-57.8 .7h0m5.3-.4h0m18.5 .9h0m.1-.9h0m10.3 .8h0m42.6-.4h0m5.7-.2h0m-83.1 .9h0m1.2 .6h0m1.7 .1h0m1.2-.5h0m1.9 .3h0m.2-.6h0m.8 .2h0m2.5 .1h0m3.3 .4h0m4.8-.5h0m6.9 .1h0m2.8-.4h0m4.6 .9h0m5.6-.1h0m-43.2 .3h0m.5 .1h0m.5 .7h0m.7-.7h0m4.7 .6h0m.3-.8h0m2.9 .9h0m1.4-.6h0m.5 0h0m2.2 .3h0m4.7 .1h0m3.4-.2h0m2.7-.4h0m.8 .3h0m6.5-.1h0m10.6 .7h0m31.4-.6h0m-75.5 1.3h0m2.6-.5h0m.9 0h0m8.2-.1h0m.9 .1h0m2.5 .7h0m4.4-.5h0m8.2-.1h0m18.4 0h0m24-.1h0m-67.3 1.2h0m.3-.3h0m2 .3h0m.3 .5h0m.9-.7h0m9.3-.1h0m.8 .1h0m4.6-.2h0m.7 .5h0m4.2-.4h0m1.5 .9h0m.1-.8h0m17.4 .4h0m14.9-.3h0m-61.7 1.6h0m.6-.4h0m.7 .2h0m6.3-.6h0m6.3 .8h0m3.7-.8h0m.1 .8h0m7.9-.4h0m4.7-.3h0m14 .7h0m.9-.3h0m14.3-.5h0m8 0h0m-71.1 1.8h0m1.6-.1h0m.9-.6h0m2.3 .6h0m.6-.6h0m3.6 .2h0m.4-.2h0m.2-.1h0m2.1-.1h0m3.3 .7h0m3.4-.3h0m10.4 .4h0m19.1 0h0m3.8-.8h0m9.7 .9h0m15.3-.8h0m64.7 .2h0m-144.2 1.6h0m.7-.3h0m.2-.5h0m.9 .4h0m3.2 .3h0m2.2 .1h0m5.9-.2h0m1.8-.6h0m1.2 .4h0m1 .2h0m.2-.6h0m2.6 .4h0m19.3-.3h0m6.6 .1h0m1 .7h0m1.6-.3h0m12.8 .2h0m7.6 0h0m4.4-.6h0m-75.4 1.6h0m1 0h0m7.6-.4h0m.2 .2h0m0-.1h0m5.6 .4h0m23.3-.7h0m3.2 .6h0m14.3-.6h0m-54.7 1.4h0m1.6-.4h0m1 .5h0m1.2 .1h0m1.9-.6h0m.2 .3h0m2.6-.4h0m1.2 .6h0m4.8-.2h0m2.1-.3h0m3.9 .7h0m5.8-.4h0m3-.6h0m8.4 .8h0m30.8-.5h0m17.6 .1h0m28.7 .3h0m-119 .6h0m.3-.3h0m9.5 .2h0m.3 0h0" stroke="#c00a4e" stroke-width="1.4" stroke-linecap="square" fill="none"/><path d="M588.0 438.1l-4 .6l.4 1l-2 3l-1.4-1l0-1.6l-3.6 1l-4 2l-3 3l-2 0l-3 1.6l-1 1.4l-2 0l-.4 .6l.4 1.4l-2 2.6l-1.4-1l-1.6 .4l-1 1.6l-2 .4l-4 4.6l-3 1.4l-2 0l.6 2l-1.6 1.6l-2-1l-.4-1l-1.6 2.4l-2 .6l-1 4l-2.4-1.6l-1 .6l-1.6 2.4l-2 0l-4 2.6l-.4 2.4l-2.6 2.6l-1.4 0l-2.6 3l-2 0l-1-1l0 1.4l-1 1.6l-4-.6l-.4 1l-1.6 0l-1.4 1l-1.6 3l-1.4-.4l-3.6 2l-3.4 1l-.6 1l1 1l-1.4 1.4l-6 1l-.6 .6l1 1l0 2l-1 1l-3 1l-1.4-2l-4.6 1.4l-2 2l0 2l-2 2l-2.4 0l-2.6 1.6l-2 2.4l-1.4 0l-4.6 5l-1 0l0 1l-2 2l-1.4-.4l.4 1l-1.4 1.4l-1.6-1l-1 1l-1 4.6l-2.4-2.6l-.6 2l-6 6l-5 2l-5 6.6l-1 0l-.4-1.6l-3 2.6l.4 1l-6 6l-1-.6l0-2l-2-2l0-2.4l1.6-1.6l1.4 .6l-.4-4.6l-1.6-2l1.6-3.4l0-2.6l-1.6-.4l-2-8.6l.6-3l-.6-2.4l-1-1l0-1.6l1-.4l0-4.6l-1.4-1.4l0-1.6l-1 0l-1.6 3l0 3.6l-1 2l0 4l1 1.4l-1 6.6l1 1.4l0 2l-1 2l.6 5l-1 1.6l0 28l-1 1l0 16l.4 .4l5 0l1-1l3 0l4-3l5-1l2-3l2-1l2 0l1-2l2 0l2-2l2.6 0l1.4-2l2.6 .6l2-2.6l2 .6l2-3.6l2.4 0l3-2l3.6-4l3 0l3-5l4 1l2-1l0-1l1.4-1.4l2 0l1.6-3.6l2 0l.4 1.6l3.6-2l1-1.6l0-1.4l2.4-2l1 1l5.6-3.6l-1-1l2-2l1 0l.4 1l1.6-1l4-5.4l5-2.6l0-2l1.4-1.4l1.6 .4l2-.4l2-2l0-2l1-1l3 2l1-1l-1.6-2l.6-1.6l2 .6l6-3l2-2.6l0-1.4l4-2.6l0-1.4l2-2l2.4 0l2.6-2.6l-.6-2.4l1-1l1.6 0l1-1l3 0l1-1l-1-1.6l1-1.4l3.4 0l1.6-1l1.4-2l1 0l3-3.6l-.4-2l1.4-1.4l2 1l2-1.6l.6-4.4l1-1l1 .4l-.6-1.4l3.6-3l1-2l2-.6l-1-1l1-1.4l1 0l0-2.6l1.4-1.4l1.6 0l1-2l2.4 .4l1.6-2l.4-2l-1-.4l-.4-1.6l5-4l1.4-3.4l0-2.6l-2.4-2zM506.4 523.5l2-.6l1 1l-1.4 1zM468.4 513.5l1-.6l.6 1l-1 .6zM530.5 502.6l1-.6l.6 1l-1 .6zM499.9 491.1l.4-1.4l2 1l-1 1zM552.5 484.6l1-.6l.6 1l-1 .6z" fill="#d31651"/><path d="M579.5 448.6l-1.4-1l-2.6 0l-21 10.4l-6 5l-5.4 3l-9.6 7.6l-18 12l-4 2l-6 5.4l-9.4 5.6l-13 10.4l-10 6l-6 6l-6 2l-6 3l-5.6 5.6l-7 4.4l-7.4 6l-5.6 5.6l-2 1l-2 0l-2-2l-1.4-3l.4-9.6l-1-2.4l-1 0l-1 2l-.4 4l0 11.4l-1.6 6l-.4 7l-1 1l.4 14.6l1 1l4 0l13.6-5.6l1-2l3.4-1l1.6-2l2 0l2-2l2.4-.4l2-2l2-.6l11.6-9l9.4-6.4l5-2.6l25-19l17-15l7.6-4.4l3-3l1-2l2-.6l30.4-27.4l7-7.6l6.6-9l2.4-5.4z" fill="#df2151"/><path d="M572.0 455.6l-2-1l-2.6 .4l-12 5l-21.4 15.6l-5.6 3l-11 8l-4.4 2.4l-11 9l-4 2l-13 10.6l-8 5l-9 8l-9.6 4.4l-5.4 4.6l-8.6 5l-8.4 6.4l-7 6.6l-2.6 1l-5 .4l-4 6.6l0 3l-1 1.4l.6 13l1.4 1.6l2.6 .4l13-5l2.4-2.4l3-1l2-2l1.6 0l2-2l6-3.6l20-15.4l7.4-4.6l3-3l22-16.4l14-12.6l9-6l24-22.4l5.6-4l12-13.6l4-7z" fill="#ea3050"/><path d="M565.0 460.6l-.6-.6l-5 .6l-4 2l-5 4l-3.4 1.4l-33.6 22.6l-10.4 8.4l-6 3.6l-12.6 10l-5 3l-8.4 7.4l-28 18l-7 5l-6 5.6l-8 3l-3 3.4l-2 5l0 9l1 3.6l1 1l2.4 .4l12-4.4l12-7.6l24.6-19l6.4-4l5.6-5l20.4-15.4l14.6-13l10-7l31-29l6-8l1-2z" fill="#f3454a"/><path d="M554.5 470.1l-.4-.4l-5.6 .4l-22.4 13.6l-13 9l-10 8l-4.6 2.4l-30.4 23.6l-29 19l-9 7.4l-8.6 4l-1.4 1.6l-2.6 6.4l1 9l1.6 1.6l4 0l6-2l10.4-6l13.6-9.6l6-5.4l16-11.6l5.4-5l6-4l8.6-7.4l4.4-3l15-13.6l8-5.4l29.6-28.6z" fill="#f86341"/><path d="M545.0 476.6l-1.6-.6l-7 3.6l-22.4 14l-56 41.4l-19.6 12.6l-10 8l-5.4 2.4l-3 3l-1 2.6l.4 9.4l1.6 1.6l3 0l6.4-2l10.6-6l10.4-7.6l8.6-7.4l15.4-11.6l6-5.4l5.6-3.6l6.4-6l11-8.4l10-9.6l9.6-7l13-13l7-8z" fill="#f97f4c"/><path d="M531.5 487.1l-3.4 0l-13 7.6l-19.6 14.4l-8 5l-12.4 10l-17.6 12.6l-16.4 10.4l-9 7.6l-8.6 5l-2.4 2.4l-1 2.6l0 5.4l1 2.6l1.4 1l2 0l5.6-1.6l10-5.4l10.4-7.6l17-14.4l18.6-14l19.4-16.6l8-8l7-5l8-8l2.6-3.4z" fill="#fb9d58"/><path d="M522.0 495.1l-2.6-.4l-8.4 5l-13 9.4l-10 6l-12.6 10l-10 6.6l-7 5.4l-20 13l-16 13l-1 2l.6 6l1 1l6.4-.4l11-6l9-6.6l18.6-16l7-5l4.4-4.4l6-4l10.6-9l17-16.6l3-2l5.4-5.4z" fill="#fcba6c"/><path d="M505.4 507.6l-1.4 0l-9 5.4l-5.6 2.6l-13.4 10.4l-37.6 25l-14 12l-1.4 3l.4 4l1 1l4 0l3-1l12.6-7.4l9.4-7.6l12-11l7.6-5.4l6-6l6.4-4.6l8.6-7.4l10.4-11z" fill="#fed587"/><path d="M494.4 516.5l-1.4-.6l-3.6 1.6l-12 9l-6.4 3.4l-9.6 7l-22 14l-12.4 11l-2.6 4l.6 3.6l1 .4l5-.4l8.4-4.6l5-3.4l49-43z" fill="#fff0aa"/><path d="M476.9 530.0l-1-.4l-4.6 1.4l-13 9l-18 11l-10.4 9l-3.6 4.6l-.4 3.4l1 1l3.4 0l10.6-5.4l11.4-9l14.6-14l3-2l5-5z" fill="#f8f8b0"/><path d="M472.4 533.5l-.4-.6l-2 .6l-4.6 3.4l-13 7l-13 8.6l-9 8l-3 4.4l-.4 1.6l.4 1l4 .4l7-3.4l12-9l17.6-17.6l2.4-1.4z" fill="#d0e98b"/><path d="M462.4 541.0l-2 0l-11 5.6l-8.4 5.4l-10.6 9.6l-2 3.4l0 1.6l.6 .4l4.4-.4l9.6-5.6l13-11.4z" fill="#9fd8a0"/><path d="M457.9 544.5l-.6-.6l-3.4 1l-13.6 8l-9 8.6l-1.4 2.4l0 2l4.4-.4l9-5.6l11.6-10.4z" fill="#66cca0"/><path d="M454.9 546.5l-3.6 .4l-11.4 7l-8 8l-.6 3l3.6-.4l6.4-3.6l12.6-11.4z" fill="#1fc59c"/><path d="M452.4 548.5l-.4-.6l-6.6 3l-6.4 4.6l-4.6 4.4l-1.4 3.6l.4 .4l2.6-.4l6-3.6l8-7l2.4-3z" fill="#189bae"/><path d="M449.9 550.5l-1.6 0l-6.4 3.4l-6.6 6l-1 2l1.6 .6l4.4-2l6.6-5.6z" fill="#2378b2"/><path d="M446.4 553.0l-6 3l-3.4 3.6l0 1.4l5-2.4l4-4z" fill="#445ca8"/></g>
<g clip-path="url(#cpe)" fill="none" stroke-linecap="butt">
<path d="M416.5 578.0L673.2 370.3" stroke="#9a9a9a" stroke-width="1.4"/>
<path d="M416.5 566.9L673.2 402.5" stroke="#111" stroke-width="1.7"/>
</g>
<path d="M403.7 359.3V588.0M686.0 359.3V588.0" fill="none" stroke="#777" stroke-width="1.2"/>
<path d="M403.1 359.3H686.6M403.1 588.0H686.6" fill="none" stroke="#444" stroke-width="1.1"/>
<path d="M416.5 588.0v3M403.7 578.0h-3M468.1 588.0v3M403.7 536.3h-3M519.7 588.0v3M403.7 494.5h-3M571.3 588.0v3M403.7 452.8h-3M622.9 588.0v3M403.7 411.0h-3M674.5 588.0v3M403.7 369.3h-3" stroke="#555" stroke-width="0.9"/>
<g font-family="Liberation Serif, serif" font-size="14.3" fill="#1a1a1a">
<text x="416.5" y="603.8" text-anchor="middle">0.0</text>
<text x="398.7" y="583.2" text-anchor="end">0.0</text>
<text x="468.1" y="603.8" text-anchor="middle">0.2</text>
<text x="398.7" y="541.5" text-anchor="end">0.2</text>
<text x="519.7" y="603.8" text-anchor="middle">0.4</text>
<text x="398.7" y="499.7" text-anchor="end">0.4</text>
<text x="571.3" y="603.8" text-anchor="middle">0.6</text>
<text x="398.7" y="458.0" text-anchor="end">0.6</text>
<text x="622.9" y="603.8" text-anchor="middle">0.8</text>
<text x="398.7" y="416.2" text-anchor="end">0.8</text>
<text x="674.5" y="603.8" text-anchor="middle">1.0</text>
<text x="398.7" y="374.5" text-anchor="end">1.0</text>
</g>
<text x="544.9" y="625.5" font-family="Liberation Serif, serif" font-size="22.4" text-anchor="middle" fill="#000">Ground Truth</text>
<text transform="translate(373.0 473.6) rotate(-90)" font-family="Liberation Serif, serif" font-size="22.7" text-anchor="middle" fill="#000">MLFF-GAN</text>
<text x="359.1" y="344.1" font-family="Liberation Serif, serif" font-size="27" fill="#000">(e)</text>
<g font-family="Liberation Sans, sans-serif" fill="#000" stroke="#000" stroke-width="0.12">
<text transform="translate(419.61 385.0) scale(0.937 1)" font-size="19" font-style="italic">y</text>
<text x="454.3" y="385.0" font-size="19" textLength="53.9" lengthAdjust="spacingAndGlyphs">0.792</text>
<text transform="translate(509.61 385.0) scale(0.934 1)" font-size="19" font-style="italic">x</text>
<text x="544.7" y="385.0" font-size="19" textLength="53.4" lengthAdjust="spacingAndGlyphs">0.053</text>
<text transform="translate(418.52 415.6) scale(0.821 1)" font-size="19" font-style="italic">R</text>
<text transform="translate(433.60 408.6) scale(0.948 1)" font-size="12.5">2</text>
<text x="466.5" y="415.6" font-size="19" textLength="65.3" lengthAdjust="spacingAndGlyphs">0.7433</text>
</g>
<path d="M435.6 377.8h12.7M435.6 381.3h12.7M526.0 379.2h12.2M532.1 373.1v12.5M447.4 408.8h12.7M447.4 412.6h12.7" stroke="#000" stroke-width="1.45" fill="none"/>
<clipPath id="cpf"><rect x="751.5" y="359.3" width="282.3" height="228.7"/></clipPath>
<g clip-path="url(#cpf)"><path d="M778.2 539.0l-.4 1l2 1l0-1zM772.8 532.5l2.4 1l-1-2zM796.8 520.0l.4 1.6l1-.6l-.4-1zM774.8 519.5l0 1l1.4-.6l0-.4zM817.8 513.0l-1.6-.4l-1.4 .4l0 1l1-1l1 .6zM766.8 503.6l-.6 3.4l3 1.6l.6-.6l-1.6-4zM876.8 502.6l-.6 .4l.6 1l1 0l0-1zM895.8 456.1l-.6 1l1 .6l.6-1zM952.2 432.1l0 2l1 0l0-2zM950.2 431.1l-4 2l-.4 1.6l.4 .4l1-1l2 .6zM942.2 429.1l-1 2l-3-1.4l-1 1l1.6 1l0 1l-2.6 2.4l-1.4-.4l1-2l-2 1.4l-1.6-1l-.4 1l2 .6l-1.6 3.4l-6.4-.4l-1.6 1l-1.4-.6l-3.6 5.6l-2.4 .4l-3.6 2.6l.6 2l-1 1l-3.6-.6l-2.4 4l-3.6 2l-.4 2l-2-1l-1.6 .6l-2 4l-1-1l-2 0l0 1.4l-1 1l-3.4-.4l-1 1.4l1 1.6l-3 2.4l-2 0l-.6 .6l.6 2l-1.6 1.4l-3-.4l-1.4 2.4l-2.6 1.6l-2 3l-3-.6l1 1.6l-1 2l-2 0l-1-1.6l.6 2.6l-1.6 1l-1 2l-3-.6l-1.4 .6l-.6 1.4l1 1l-1.4 1.6l-2 .4l-1 1.6l-3.6 1.4l-1.4 2l-2-.4l-3 .4l0 2l-3 3.6l-4 .4l-2-1l-2 2.6l1 2.4l-2 2l-1.6-.4l0-3l-.4 0l0 3l1 2l-.6 .4l-2 0l-1-1.4l-1.4 0l-1 1l1.4 2.4l-1 1.6l-5.4 .4l-1.6 1.6l-1.4 0l-3 4.4l0 2.6l-1.6 1.4l-3.4-.4l-1.6-1.6l-.4 2.6l-2.6 2.4l-1.4 3l-1 .6l-2.6-.6l-1.4 1l-1 2l-3 1l0 2l-2 1l.4 2.6l-.4 .4l-1.6 0l-1-1l-2.4 .6l-.6 1.4l1 1.6l-1 2l-2.4 0l-2-1.6l0 2.6l2.4 1.4l-.4 2l-1.6 1l-2-.4l-1-1.6l-4 1l-.4-2l-3 .6l0 1.4l1 .6l1 2.4l-1.6 2l-1 .6l-4.4-2l0-1l2-2l-.6-2l1-1l0-1.6l-4-2l0-2.4l1.6-2l2 0l1 1l0 2.4l1.4 0l.6-1l-1.6-1l-.4-1.4l-3.6-2l-.4-4l1.4-2l-.4-.6l0-5l-.6 .6l-1.4-2l1-1.6l.4-4.4l-1.4 0l-1 1l-1.6-2l-.4 3l.4 9.4l-1 2.6l0 2l1 1.4l-1 4.6l1 3l-1.4 3.4l.4 2.6l-.4 2.4l1 1.6l-.6 2l.6 5.4l-.6 .6l-.4 10l-2 6l0 4.4l2 1.6l2.4 0l4.6-1.6l3-2.4l3-1l4-4l4.4-2l2-2.6l6.6-3l5-5l2 0l2.4-2.4l1 0l1.6-2l2 0l0-1.6l2-2l1 0l1.4-2l2.6 0l2 1l1.4-3.4l3-4l1 1.4l2 0l0-3l2-2l3.6-.4l1.4-2.6l1-.4l.6 .4l1.4-1l3.6-4l1.4 0l1-1l2.6 0l1.4-4.4l2-2l3 1.4l1.6-.4l-2-1l3-.6l-.6-2l.6-2l1-1l5-1l.4-3.4l1 0l.6 1l2.4 0l1-3.6l4-.4l1-1.6l2-1l2 0l1-1l1 .6l0-1.6l-1.4-2l2-3l1 0l1-1.4l2-1l1.4 .4l3.6-4l1.4-.4l2-2l1.6-2.6l1.4 1.6l2.6-5l2 1.4l0 2l.4-.4l-.4-2l1.4-2l0-2l1.6-.6l.4 1.6l1.6 0l2-2l-2-2l.4-1.6l3 0l3 1.6l2.6-2.6l-2.6 .6l-.4-2l2-1l2 .4l2.4-3l.6-3.4l2.4 1l2-3l1.6 .4l-.6-2.4l3-3.6l1.6 1.6l1 0l2-2l1.4 0l3-4.6l2.6-1.4l-2-1l.4-3l.6-.6l2 .6l2-2.6l1.4 0l1-1l-.4-1l.4-1l-2.4-1.4l.4-1l2.6 .4l2-2l2 1l0-1.4l1-1l2 .4l0-2l-3.6-2l0-1.4l-1.4-2zM770.2 555.0l3.6-.4l2 2l-.6 .4l-3-1l-1 .6zM781.8 547.0l2.4 1l.6 2.6l-1 1l-3 0l-1-1.6zM824.2 512.5l.6-.6l1 1.6l-1 .4zM840.2 502.1l1.6 1l-.6 2l-1.4-1z" fill="#c00a4e" fill-rule="evenodd"/><path d="M1015.2 363.2h0m3.9 .1h0m-53.8 .4h0m52.7 6h0m-30.1 2.7h0m30.1 .8h0m-5.6 2.7h0m-13.9 1.4h0m10.9 .8h0m11.6-.2h0m-65 .9h0m43 1.2h0m8.7-.1h0m3 .6h0m-2.7 2.2h0m3-.1h0m5.2 .6h0m-2.8 1.1h0m-19.5 .8h0m18 0h0m4.3-.2h0m-8.7 1.4h0m14.4-.3h0m-56.1 1h0m15.8 .4h0m3.8-.3h0m19.9-.3h0m.8 .7h0m-10.8 .3h0m3.9 .1h0m11 .7h0m-28.2 1.7h0m19-.5h0m5 .7h0m1.9-.8h0m-58.3 2.2h0m63.5 .4h0m-8.9 1.1h0m12.5 .1h0m-24.8 1.2h0m-21 1.6h0m6.9-.5h0m13.2-.3h0m1.3 .2h0m-87.1 1.2h0m90.1 .1h0m9.3-.3h0m-38.2 1.1h0m-6.1 1.2h0m25.3-.3h0m6.1-.1h0m-18.7 1.5h0m.4 .5h0m9.6 .9h0m-20.7 .4h0m25.8-.3h0m11.1 0h0m4.9 .4h0m-56.9 1.2h0m18.3 .1h0m8.4 .1h0m10.2-.1h0m-23.8 .4h0m7.6-.1h0m9.6 .6h0m7.2 .8h0m4.4-.3h0m.6 .3h0m4.1-.1h0m3.1 .2h0m-35.9 1h0m11.6 .3h0m5.5-.3h0m3.2-.3h0m14.5-.1h0m9.4-.1h0m-47.2 1.7h0m25.6-.8h0m4.3 .8h0m-28.6 1.2h0m5.8-.8h0m8.2 .7h0m2.9-.8h0m4.8 .6h0m-51 1.1h0m9.8 0h0m20.3 .1h0m7.4-.5h0m6.8 .3h0m.6-.3h0m11.9-.2h0m-113.4 1.8h0m81.7-.3h0m3.7-.4h0m4.1-.2h0m20.5 0h0m-48.3 1.8h0m19.7-.4h0m7-.3h0m2.2 .7h0m.5-.3h0m21.3-.1h0m26.7 .2h0m-71 .5h0m12.4 .3h0m1.1-.4h0m1.3 .8h0m3.1 0h0m2.8-.9h0m2.6 .1h0m23 .5h0m-74.6 .8h0m41.4-.4h0m1.5 .7h0m2.5-.1h0m2.6 .3h0m.4-.8h0m1.4 .8h0m.1-.3h0m3.8 .2h0m24-.8h0m-52.3 1.2h0m1 .4h0m6-.4h0m11.5 .2h0m6.1 0h0m.9 .3h0m13.3-.6h0m-37.9 1.9h0m10.2-.4h0m6.4 .2h0m.2-.1h0m2.2-.1h0m3.3-.6h0m1.6 .1h0m.8 .8h0m.2-.8h0m1.3 0h0m1.7 .3h0m2.1 .4h0m3.5 0h0m.4-.1h0m3.2-.5h0m-25.7 1.7h0m1.3 0h0m1.4-.2h0m5.2 .2h0m.2-.4h0m.8-.5h0m-9.5 1.8h0m4.3 0h0m3.1 0h0m.7 0h0m4.4 .1h0m2.6 .1h0m1.8-.3h0m.2-.4h0m.4 .3h0m1.5-.2h0m1.1 .2h0m17.4-.2h0m15-.3h0m-73.8 1.9h0m12.6-.2h0m2-.2h0m5.9-.3h0m3.2 0h0m6.7 .4h0m3.9 .3h0m.4-.3h0m1.9-.2h0m1.1-.1h0m2.1-.2h0m-25.1 .8h0m2.1 .6h0m10.3-.6h0m3.3 .2h0m1.3 .3h0m1.7-.3h0m1.7 .2h0m.3 .3h0m3.1-.6h0m2.8 .3h0m1.5-.4h0m.1 1h0m11.6-.1h0m7.6-.1h0m-56.1 .8h0m.1 .4h0m2.6-.6h0m4.2 0h0m.9 .1h0m8.1 .3h0m1.7-.6h0m2.4 .1h0m2.3-.1h0m.7 .7h0m3.8-.1h0m.4-.5h0m2.3 0h0m2.2 .4h0m7.8 0h0m-60.4 1.1h0m19.6-.1h0m3.5-.3h0m5.4 .5h0m1.7-.6h0m.2 0h0m2.8 .6h0m10.1-.8h0m.1 .6h0m.2-.5h0m.9 .4h0m1.8-.3h0m.4 .6h0m1.7-.7h0m2.9 .5h0m-18.6 1.3h0m1.8-.4h0m.3 .4h0m4.9-.6h0m.2-.1h0m.4-.1h0m.3 .2h0m.9 .3h0m0-.5h0m.8 .8h0m2.8 0h0m1-.9h0m10.1 .2h0m-27.8 1.1h0m1.4 .3h0m.8-.2h0m1.5 0h0m1.4 .4h0m1.3-.8h0m1.4 .2h0m.6 .4h0m.6-.5h0m.2 .1h0m5.2-.2h0m3.9-.1h0m2.1 0h0m4.7 .8h0m10.3 .1h0m.8-.9h0m.6 .5h0m2.8 .1h0m-67.9 .7h0m8.6 .6h0m8.4-.6h0m13.6 .1h0m1.4 .3h0m.5-.1h0m5.1 .3h0m.8-.2h0m.7-.2h0m.3-.2h0m1.1-.3h0m1 .3h0m1.1 .7h0m0-.8h0m6.5 .8h0m1.6-.4h0m.1 .3h0m3-.7h0m7-.2h0m2.3 .5h0m-95.3 1.4h0m57.9-.2h0m.4-.2h0m10.1 .5h0m1.5 0h0m4.9-.4h0m.2-.3h0m1.3 .2h0m1.6 .1h0m0 0h0m.6-.4h0m.2-.1h0m.4 .9h0m1.7-.3h0m1.6-.4h0m5.3 .2h0m7.7 .1h0m-50.5 .6h0m13.3 .4h0m.4-.3h0m4.7 .2h0m0 .3h0m.8-.3h0m1 .1h0m.4 .4h0m.2-.2h0m3.8-.4h0m1.5 .1h0m.3 .3h0m.5-.1h0m2.9-.3h0m4.7 0h0m1.2-.4h0m4.8 .8h0m.7-.6h0m3.8 .1h0m-29.2 1.5h0m.7-.2h0m1.4-.1h0m3.4-.3h0m1-.2h0m3.5 .9h0m.6-.7h0m.8 .2h0m5.5 .2h0m1.1 0h0m1.1 .3h0m10.9-.3h0m-44.9 1.3h0m5-.7h0m2.9-.1h0m3.3 .3h0m1.2 .6h0m0-.5h0m1.9 .2h0m1-.1h0m2.7 .3h0m1.9-.8h0m.7 0h0m.9 .7h0m.2 .1h0m.1-.3h0m.5 .4h0m.4-.8h0m.2 .6h0m1.3 .2h0m9.8-.6h0m-48.8 .8h0m4.9-.1h0m7.9 0h0m8.2 .4h0m.8-.2h0m1.1-.2h0m1.3 .3h0m.4-.3h0m.8 .1h0m.9 .1h0m1.7 .5h0m2.3-.8h0m2.1 .7h0m.2 0h0m1.7 .2h0m.1-.4h0m4-.3h0m4.7 .4h0m.8 .1h0m2.2 .3h0m3.4-.4h0m1.3-.4h0m3.6 .5h0m-62 .4h0m17.2 .6h0m3.4 .1h0m1.8 0h0m.7 .1h0m2.4-.9h0m.5 .3h0m1.1 .1h0m1.6 .4h0m2.7-.6h0m2.9 .1h0m1 .4h0m2-.7h0m.2 .3h0m3.8 .1h0m1.8-.2h0m1.2 0h0m.4 .5h0m1.8 0h0m.3-.2h0m.5 .5h0m2-.9h0m1.7 .3h0m3.4 .1h0m2.6-.3h0m4.4-.1h0m29.9 .1h0m-75 1.1h0m3.5 0h0m2.6 .2h0m1.1 .5h0m.6-1h0m3 .8h0m.6-.6h0m1.5 .3h0m1 .1h0m1.1-.5h0m.1 0h0m3.7 .5h0m3.2-.3h0m1.6 .6h0m.2-.4h0m2.8-.5h0m.5 .6h0m2 .3h0m.3-.9h0m0 .6h0m3.1 .3h0m1.5 0h0m.3 0h0m.9-.6h0m.2-.1h0m2 .7h0m.4-.4h0m34.8-.1h0m-89.2 .9h0m5.8 .2h0m7.5-.5h0m5.9 .7h0m1.9-.3h0m1.1 .1h0m3 .5h0m4.5-.6h0m.2-.3h0m.9 .4h0m7.6 0h0m3.3-.2h0m4.5 .6h0m.9-.2h0m5.9-.1h0m.3-.4h0m.8 .6h0m1.8-.8h0m.7 .1h0m.5 .7h0m.5-.4h0m-80.9 1.4h0m7.9-.6h0m33-.2h0m1.2 .9h0m1.2-.4h0m7.8-.2h0m4.4 .3h0m.6 0h0m4.8 .1h0m1.7-.1h0m1.5-.3h0m8.3 .5h0m1.1-.3h0m1 .4h0m1 0h0m.4-.3h0m6-.1h0m1.6 0h0m1.5 .3h0m-47 .9h0m1.4-.3h0m1.1-.1h0m1.9-.3h0m6.8 .6h0m5.8 .1h0m2.9-.3h0m7.6 .5h0m4-.1h0m4 0h0m.7-.8h0m-76.8 1.8h0m33.7-.4h0m14-.1h0m.6 .2h0m.1 .1h0m3.2-.3h0m1.7-.2h0m.2 .6h0m10.2-.6h0m1.6 .6h0m.9-.3h0m.9 .5h0m.6-.9h0m2.5 .5h0m2 .5h0m.7-.4h0m1.5-.4h0m1.8-.1h0m3.9 .6h0m7.2 .1h0m-61.8 1h0m4.7-.5h0m15 .3h0m.2-.3h0m4.6-.3h0m.7 .5h0m.4 .2h0m.3-.3h0m1.7-.2h0m13 .3h0m.7-.3h0m.5 .3h0m.9 .3h0m1.3-.5h0m.6-.2h0m.7 .1h0m4.7 .5h0m.4-.1h0m.4-.3h0m0 .1h0m.8 .1h0m1.6 .3h0m4.5-.2h0m-62.5 1.3h0m22.2-.1h0m1.4 0h0m1.1-.3h0m.4 .4h0m0-.1h0m1.5-.5h0m.1 .1h0m3.6-.3h0m17.2 .5h0m3.2 0h0m.9-.4h0m1.4 .6h0m3.9-.7h0m9.2 .6h0m-45.5 .7h0m8.5 .4h0m2.8-.5h0m13.5 .5h0m1.1-.5h0m1.8 .5h0m-37.2 1h0m1.8 .1h0m6.8-.6h0m.6-.3h0m.2 .7h0m27.2-.5h0m.1-.1h0m3.9 .4h0m4.1 .4h0m1.7-.8h0m2 .2h0m3.9-.2h0m-55.6 .9h0m2.3 .9h0m4.3-.2h0m4.5-.4h0m.2 .6h0m28.9-.8h0m1.5 .7h0m.5-.1h0m1-.4h0m1.4 .6h0m2.3-.1h0m5-.8h0m-50.2 1.3h0m5.9-.1h0m4 0h0m28 .6h0m1.7 0h0m3.9 0h0m5.8-.1h0m.4 .2h0m-59.5 .4h0m5.9 .3h0m1-.2h0m5.1-.2h0m.9-.1h0m1.1 .4h0m1.9 .4h0m.5-.9h0m0 .3h0m2.2 .3h0m.7 .3h0m25.4 0h0m.3-.6h0m1.3 .1h0m1.2 .2h0m.8 .2h0m8.6-.5h0m.4 .6h0m-57.4 .7h0m7.9-.2h0m5.6-.3h0m1-.1h0m2.7 1h0m1.3-.5h0m.9-.2h0m23.1 .2h0m2.5 .5h0m3.9-.4h0m2.1 .2h0m.5 .2h0m4.6-.3h0m7.8-.4h0m-58.7 1.5h0m.3-.4h0m3 .6h0m5.3-1h0m.1 .3h0m2.2 .4h0m1.5 0h0m21.2-.1h0m3.6 .1h0m.7 .3h0m1.6-.9h0m1.9 .4h0m.4 0h0m.9 .3h0m5.6-.1h0m11.1 .1h0m-68.3 .4h0m7.9 .5h0m3.9-.4h0m4.1 .3h0m.5-.2h0m1.2-.4h0m.7 .7h0m.8 0h0m25.9 .1h0m.7-.6h0m1.1 .3h0m1.4 .5h0m1.4-.6h0m1.1 .1h0m1.4-.2h0m4.9-.2h0m-50.9 1.7h0m5.4-.6h0m1.5 .2h0m4.4 .3h0m.3 0h0m26.5-.5h0m1 0h0m2 .2h0m2.3 .4h0m2.7-.3h0m1.8 .4h0m28.1-.2h0m-76 .3h0m2.1 .1h0m3.5 .5h0m1.7-.3h0m1.9 0h0m29.4 .1h0m.4-.2h0m1.9 .6h0m1-.1h0m.4 .1h0m.1-.4h0m2.6 0h0m14.4 .4h0m11.8-.3h0m-86.3 1.5h0m13.4-.1h0m2.2-.6h0m5 .3h0m.2 .2h0m.2-.6h0m1.1 .6h0m.2-.5h0m2.7 .6h0m.6-.3h0m26.5 .3h0m.7 .1h0m1.3-.2h0m1.1 0h0m1.2-.1h0m3.9-.2h0m.8 .3h0m.8 .1h0m6-.7h0m.2 .1h0m-57.1 1h0m5.2 .6h0m2.9-.6h0m35.4 .3h0m.1-.5h0m.1 .5h0m.8 .2h0m1.5-.2h0m6.4-.5h0m.4 .5h0m13.1 .4h0m-62.7 .4h0m3.6 0h0m.6-.2h0m31.5 .6h0m1.9 0h0m11.5-.6h0m.5 .7h0m-103.1 1.1h0m44.9-.4h0m10.2-.5h0m5.3 .7h0m28.4-.1h0m2.9 .3h0m2.7-.8h0m1.5 .7h0m4.5-.6h0m-53.6 .8h0m10.6 .5h0m1.6-.2h0m27.9-.2h0m.2-.1h0m.5 .2h0m2 .2h0m.7 .2h0m2.9-.3h0m1.1 .2h0m1 0h0m4.1-.2h0m1.6 .3h0m1.6-.5h0m6.5-.2h0m10.8 .1h0m-85.3 1.6h0m4.7 .3h0m.6-.4h0m4.9 .4h0m9.1-.7h0m2.3-.3h0m.3 .7h0m.4 .2h0m30.1-.8h0m.3 0h0m.8 .1h0m8.3 .3h0m.1-.2h0m.9 0h0m1.6-.2h0m1.4 .2h0m11.9 .1h0m-85 1.1h0m20 .2h0m.2-.3h0m1.8 .4h0m1.9-.5h0m2.1 .3h0m3.7-.6h0m28.3 .7h0m2.5 .2h0m.5-.3h0m.8 .1h0m7.7-.5h0m1 0h0m-72.9 1.1h0m8.1 .3h0m17.8 .2h0m.4-.6h0m3.4 .3h0m.3 .1h0m32-.1h0m.9 0h0m.8 .3h0m.8 .1h0m2.8-.2h0m.4-.7h0m7.9 0h0m-56.8 1.9h0m3.1-.6h0m.5 .5h0m1.7-.4h0m.4 .1h0m3.5-.4h0m.8 .6h0m33.6 0h0m2-.2h0m.8-.4h0m5.7 .6h0m9.9-.3h0m-114.5 .8h0m45.5-.1h0m5.4 .5h0m.2 .3h0m3 0h0m4.9-.7h0m4.6 .1h0m31.5-.1h0m2.3-.1h0m1.8 .6h0m4.2-.5h0m5.2 .2h0m-57.1 1h0m.5-.3h0m2.1 .1h0m3.5 .6h0m.1-.5h0m.5-.1h0m1.2 .1h0m33 .5h0m1.6 .1h0m1-.8h0m.4 .3h0m3.9-.3h0m.4-.1h0m1.6 .6h0m4.6-.5h0m-76.4 1.7h0m.5-.3h0m3.6 0h0m18.8 .3h0m41.3-.1h0m.2-.6h0m1.2-.1h0m2.1 .2h0m.7-.1h0m-98.8 1.6h0m52.8-.4h0m2.4 .1h0m36.2 .6h0m1.1-.9h0m.8-.1h0m20 0h0m-109.9 1.6h0m39.4-.2h0m7.9 0h0m.4-.3h0m2.3 .1h0m1.9 .3h0m37.5 .2h0m.2-.3h0m1.8-.3h0m2.2 .4h0m.7 0h0m2.5 .2h0m-108.2 .3h0m7 .8h0m6.9 .2h0m3-.9h0m40.1 .5h0m5.7 .1h0m36.6-.1h0m2.2-.3h0m.3 .2h0m1.2 .1h0m1.4-.6h0m2 .9h0m-92 .2h0m32.6 .6h0m4 .2h0m3.4-.1h0m3.6-.6h0m34.3 .6h0m4.4-.7h0m3 .8h0m.9-.2h0m3.7-.7h0m.6 .3h0m2.2 .4h0m18 .2h0m-108.3 .8h0m25.3-.6h0m2.3 0h0m5 .9h0m1.2-.5h0m1.3-.1h0m.4 .5h0m39-.5h0m6.5 .2h0m.9-.2h0m.8-.2h0m1.4 .1h0m-91.3 1.7h0m20.8-.9h0m11.8 .2h0m3.2 .6h0m6.4 0h0m2.5-.4h0m.5-.4h0m37.8 .3h0m.2-.4h0m4.2 .3h0m1.4-.2h0m6 .8h0m12.4 0h0m-108.6 .2h0m3.1 .6h0m38.3 0h0m3.2-.1h0m1.6-.1h0m1.4 .3h0m1.4-.7h0m.4 0h0m38-.1h0m.2 .8h0m.4-.7h0m1.7 .7h0m.9-.8h0m.2 .9h0m3.8-.8h0m.5 .4h0m2.7-.4h0m-170 1.8h0m38.7-.8h0m30.3 .1h0m8.5 .8h0m3.8-.6h0m13.7 .3h0m3.2-.4h0m13.5 .4h0m7.8 0h0m34.2 0h0m.9-.1h0m.4 .2h0m1.4 .1h0m1.9-.8h0m0 .5h0m.7 .1h0m9.4 .2h0m1.8 0h0m3.3-.5h0m-172.9 1.4h0m4.6-.1h0m65.2-.6h0m8.1 .5h0m22 .1h0m4.7 .1h0m3 0h0m9.3 0h0m.1-.7h0m39 .2h0m3 .1h0m2.4-.4h0m11.1 .5h0m-173.5 .5h0m1.5 .8h0m58.3-.4h0m8.4 .1h0m12.8 .3h0m12.3 0h0m11.4-.6h0m3.6 .2h0m1.1 .1h0m3.5 0h0m3 .1h0m1.5 .4h0m0 0h0m33.8-.2h0m2-.5h0m.3-.2h0m2.1 .3h0m6.6-.2h0m2.1 0h0m-83 1.4h0m.7-.6h0m22 .1h0m9 .8h0m1.9-.5h0m1 0h0m36.9-.1h0m1.8 0h0m.3 .4h0m2.3 0h0m5.5-.3h0m2.9-.2h0m-106.8 1.1h0m13.6 0h0m4.2 .3h0m14-.1h0m17.2-.4h0m1.4 .8h0m1.4-.2h0m.8 .1h0m1 0h0m1-.1h0m39.5-.7h0m.8 .2h0m.2 0h0m6.7 .6h0m1.7-.3h0m-161.3 .6h0m1.6 .2h0m1.3-.2h0m1.5 .4h0m49.6-.5h0m6.4 .4h0m4.6 .2h0m.6-.2h0m5.1 .3h0m20-.1h0m15.6-.4h0m4.3 .1h0m1.4 .7h0m37.1-.9h0m.9 .3h0m.3 .5h0m.2 .1h0m2.6-.9h0m2.5 .3h0m-150.9 .9h0m53.2 .5h0m2.7-.3h0m6.4-.1h0m4.1 .2h0m20 .3h0m.4-.1h0m8.1 .1h0m4-.8h0m1.1 .1h0m.6 0h0m1.4-.2h0m.1 .8h0m2.9-.4h0m.1 0h0m41.2 .5h0m5 0h0m4.1-.3h0m14.3 0h0m-175 1.1h0m57.3-.6h0m1.6 .5h0m13 .3h0m6.4-.7h0m1.3 .7h0m9.2 .1h0m4.3-.8h0m1.7 .4h0m1.5 .4h0m5.1-.5h0m4.3 .2h0m.1-.1h0m.7-.2h0m0 .2h0m2.7 0h0m.6 .3h0m.4-.8h0m1.5-.1h0m36.9 .5h0m.7-.5h0m3.4 .3h0m-151 1.2h0m.9-.4h0m46.9 .7h0m5.6 0h0m10.5-.6h0m7.3 .3h0m27.8-.3h0m2.7 0h0m3.2 .8h0m2.8-1h0m37.9 .7h0m1.6-.3h0m1.2 .5h0m.7-.8h0m1.5 0h0m.3 .2h0m3.2 .1h0m.3 .1h0m-155.7 1h0m.2 0h0m0 .4h0m.6 0h0m1.2-.1h0m.9-.4h0m50.2 .5h0m2.3-.7h0m5.7 0h0m.5 .5h0m7.6 .1h0m2.7-.1h0m35.5-.6h0m1.9 .1h0m32 .7h0m3-.6h0m1.5 .3h0m2.1-.5h0m-146.8 1.7h0m1.5-.7h0m1.8 .8h0m3.2-.8h0m.1 .4h0m45.8 .1h0m9 .1h0m3.9-.5h0m11.8 .4h0m10.8-.1h0m15.2-.3h0m.8 .5h0m2.4-.1h0m37.6 0h0m3.6 .2h0m2.2-.3h0m18.1 .1h0m-168.8 .7h0m4 .6h0m3.2-.2h0m37.2 .3h0m6.5-.7h0m.3 .1h0m3.4 .4h0m2.2 .2h0m7.2-.2h0m1.8-.4h0m4.2-.1h0m.2 .3h0m1.9-.4h0m24.3 .1h0m2.8 .2h0m2.6 .1h0m2-.5h0m1.5 .9h0m35.2-.4h0m1.9 .2h0m3.8-.5h0m2.1 .5h0m-147.2 1.2h0m.3-.1h0m1.3 .1h0m4.7-1h0m37.6 .3h0m4.5 .4h0m3.7 .2h0m2-.8h0m5.6 .9h0m4.3-.2h0m11.1-.3h0m14.1-.4h0m4.6 .7h0m4.8 .1h0m35.6 0h0m3.7 .1h0m3.9-.1h0m.7-.4h0m1.6 0h0m.5 .1h0m2 0h0m2.3-.1h0m-150.1 .8h0m3.9 .6h0m2.4-.5h0m39.8 .5h0m5.6-.4h0m13.5 0h0m1 .2h0m3.6-.1h0m.4-.4h0m1.2 .6h0m.7-.7h0m7.8 .2h0m18.1 .4h0m.2-.5h0m0 .1h0m2.3 .1h0m.9-.3h0m33.9 .8h0m2.4-.1h0m1.1-.1h0m.7 .2h0m6.8-.1h0m4.6-.6h0m.8 .6h0m-149.7 .8h0m1.5-.6h0m.3 .4h0m.9 .1h0m1.8 .4h0m3.2 0h0m34-.2h0m4.3-.4h0m5.4 .3h0m5.6-.4h0m.1-.2h0m7.4 .9h0m14.5-.5h0m11.1 0h0m6.4 .5h0m.8-.2h0m1.9-.4h0m34.5-.1h0m.3 .8h0m1.6-.4h0m3.3-.1h0m.5-.3h0m1.1 .5h0m-105.9 1.2h0m.2-.6h0m9.3 0h0m.1 .7h0m3.5-.6h0m4.7-.1h0m4.6 .7h0m11.6-.8h0m2.5 .5h0m.1-.3h0m.1-.1h0m16.7 .4h0m5.2-.7h0m1.6 1h0m.1-.8h0m1.9-.1h0m1.7 .1h0m.7 .1h0m35.2-.2h0m2 .7h0m2.1-.1h0m1.6 .1h0m.4 0h0m0-.4h0m.1 .5h0m18.4-.2h0m-161.4 .4h0m54.2-.1h0m.2 0h0m3.3 .1h0m3.7 .3h0m.3-.3h0m6.3 .6h0m1.2-.4h0m2.7-.2h0m4.6 .5h0m.9 .2h0m.6-.4h0m15.2 .3h0m.1 .2h0m6.5-.2h0m36.8 .1h0m.7-.1h0m.3-.5h0m.6-.1h0m.6 .3h0m.5 .5h0m5.6-.3h0m.3 .4h0m33.8-.9h0m-175.7 1.1h0m1.5 .7h0m.1-.6h0m48.8 .2h0m8 .2h0m6.4-.2h0m7.5-.3h0m15.3-.2h0m.8 .8h0m5.1-.1h0m.7-.2h0m2-.4h0m32.8 .9h0m4.3-.7h0m3.2 .6h0m1.7-.6h0m0 .6h0m.5-.7h0m5.3 .8h0m22.8 0h0m-166.8 .8h0m0-.3h0m.4-.3h0m0 .5h0m42-.5h0m7.5 .7h0m3.6-.2h0m9-.4h0m11.3 0h0m2.6 .5h0m.6-.7h0m1.8 .9h0m5.6-.1h0m2.1-.4h0m.2 .4h0m1.1-.3h0m.2-.5h0m3.3 .9h0m.5-.4h0m38-.5h0m.6 .6h0m1.8 .1h0m2.3 .1h0m2-.7h0m11.3 0h0m2.1 .5h0m7.2-.6h0m-157.8 1h0m43.1 .5h0m4.2 .2h0m4.3 0h0m8.2-.3h0m1.6-.2h0m6.5-.1h0m.7-.1h0m1.3 0h0m5.9 .5h0m12.7-.1h0m1.1-.3h0m2.1 .1h0m2.2 .6h0m38.7-.1h0m2-.1h0m0-.2h0m6.5 .1h0m.2-.3h0m53.6 .2h0m-196.5 .9h0m.4-.1h0m.5 .2h0m.3 .2h0m1.6-.1h0m.4-.2h0m.9-.1h0m2.4-.3h0m32.4 .2h0m20.6 .5h0m3.3-.5h0m13.9 .6h0m7.1 .1h0m.9-.8h0m2.6 .5h0m1.4-.1h0m.2 .3h0m4.3-.4h0m35.7 .5h0m.9-.3h0m1.5-.2h0m2.7 .4h0m-134 .5h0m1.6 0h0m1.4 .6h0m5.3 0h0m27.9-.5h0m2.9 .4h0m7.7 .2h0m3-.4h0m.3 .3h0m2.7-.1h0m12.7 .1h0m3.6-.3h0m6.9-.4h0m2.1-.1h0m3.2 .2h0m6.2 .2h0m4.5 0h0m1.8 .2h0m.5-.3h0m32.7 .4h0m1.1-.5h0m.6 .3h0m2.2 .2h0m1.3-.5h0m6.9 .6h0m6-.3h0m-145.6 1.1h0m.9 .1h0m.2-.4h0m1.1 .1h0m1 .4h0m.4-.5h0m.3 .4h0m1.2-.4h0m5.7 .4h0m24.7 .1h0m.5 .1h0m6.9-.6h0m1.9-.2h0m1.3 .2h0m3.9-.3h0m3.8 .6h0m4-.5h0m.5 .4h0m4.7 0h0m.7 .1h0m6.1-.1h0m10.7-.2h0m1.7-.2h0m0 0h0m.6 .5h0m7.6-.1h0m1.3-.6h0m36.2 .4h0m.2 .3h0m2.9-.1h0m2.1-.3h0m1.6-.2h0m3.5 .7h0m7.5 .1h0m-146.5 .6h0m.7-.3h0m.1 .5h0m1.5-.6h0m.9 .6h0m7-.2h0m21.2 .1h0m16.9-.1h0m1 .2h0m.4-.6h0m0 .3h0m11 .1h0m6.8-.1h0m1.5 .6h0m2.7-.4h0m1.5-.5h0m8.1 .5h0m.8 .4h0m6.9-.6h0m1-.3h0m.1 .5h0m.5 .1h0m.3 .1h0m1.1-.4h0m41.1 .4h0m-131.6 .4h0m1 .1h0m.1 .5h0m4.4-.4h0m36.2 .4h0m.1-.2h0m2.1-.6h0m1 .7h0m.1 .1h0m.1-.1h0m3.4-.2h0m1.1 .2h0m.6 .2h0m3.7-.3h0m1.2-.5h0m.3 .6h0m2.8-.4h0m3.5 .3h0m.6 .1h0m1.8-.6h0m3.6 .5h0m3 .1h0m0-.3h0m1.6 .5h0m1.6-.9h0m.2 .6h0m1.6-.4h0m.6 .4h0m1 0h0m.2-.5h0m1.5 .5h0m3.3-.6h0m3.9 1h0m36.4-.1h0m.4 0h0m2.1 0h0m2.1-.1h0m.1-.6h0m5.9 .2h0m1.7 .5h0m1.1-.9h0m.2 .2h0m-137 .9h0m1.3 .9h0m5.6-.3h0m4-.2h0m22.1-.2h0m8-.3h0m4.5 0h0m2.2 .8h0m.5 .1h0m1.1-.4h0m0 .1h0m.7 .3h0m2.9-.6h0m2.5 .5h0m8.3-.5h0m8 .6h0m5.6 0h0m1.5-.7h0m2.1 .6h0m.9-.6h0m3.6 .2h0m41.6 .5h0m1-.2h0m4.4 .3h0m.7-.7h0m3.2 0h0m1.9-.2h0m75.8 0h0m-214.8 1.6h0m2.2-.5h0m1.4-.2h0m4.3 .5h0m21.3 0h0m4.3-.5h0m.7 .8h0m.1-.8h0m3.2 .6h0m1.7-.3h0m3-.2h0m14.1-.1h0m2.6 .7h0m.7 .1h0m4 .1h0m4.3-.8h0m1 .4h0m2.6 .5h0m4.4-.4h0m1.6 0h0m8.7 .2h0m1.5-.7h0m37.9 .6h0m1-.6h0m3.6 .3h0m-127 1.6h0m7.2-.3h0m.9-.7h0m19.5 .9h0m0 0h0m1.8-.6h0m7.2 .3h0m3.2 .2h0m.8-.4h0m2.5 0h0m2.5 .5h0m3.8-.6h0m.1 .4h0m1.1-.3h0m.4 .1h0m5.4-.4h0m2.8 .3h0m2-.4h0m7.5 .8h0m1.9-.1h0m.9-.2h0m2.6-.2h0m1.1 0h0m1.8 .5h0m1.2-.7h0m.4-.1h0m41 .3h0m1.3 0h0m3.6 .4h0m1.3-.5h0m3.4 .5h0m-127 1h0m21.5-.2h0m12-.1h0m5.8 .3h0m7-.7h0m.8 .6h0m.3 .1h0m4.4-.2h0m9.9-.2h0m4 .3h0m1.9 .1h0m4.3 .1h0m4.5 .1h0m39.3-.6h0m1.8-.1h0m.9 .7h0m2.1-.6h0m7-.1h0m3.2 .1h0m2.3 0h0m43 .6h0m-178.6 1.1h0m2.6-.6h0m2.8 .3h0m1.6 0h0m16.7 .1h0m17.4-.1h0m2.3 .1h0m3.9-.6h0m.3 0h0m2.5 .3h0m2.6-.2h0m3.1-.2h0m2.5 .2h0m1.3-.1h0m5.3-.2h0m.1 .2h0m2.4 0h0m1.9 .1h0m1.5 0h0m2-.1h0m.9-.1h0m2.4 .7h0m2.3-.2h0m1.3 .3h0m37.1-.8h0m.3-.1h0m1.3 .7h0m0 .1h0m.5-.8h0m6.6 .3h0m-127.3 1.5h0m.9-.6h0m4.4 .1h0m1.1 .3h0m1.3-.1h0m4.9-.4h0m18.9 .1h0m5.7 0h0m.2 .3h0m3.2-.4h0m.3 .5h0m2.9-.3h0m6.6 .6h0m1.3-.2h0m.5-.3h0m4.9-.3h0m3.1 .6h0m3.6-.7h0m1.1 .9h0m.7-.5h0m2.4-.1h0m2.7-.1h0m1.9 .1h0m3.5-.2h0m1.4 0h0m.3 .8h0m1.6-.8h0m.2 .6h0m37.9 0h0m8-.1h0m2-.3h0m23.2 .6h0m-151.4 .4h0m.9-.2h0m.8 0h0m6.4 .8h0m5.9-.4h0m15.3-.2h0m1.4 .6h0m1.1-.5h0m5.2 .1h0m.2 0h0m4.8 .2h0m2.7-.7h0m1.8 .9h0m6-.9h0m.2 .3h0m1.1-.1h0m4.5 .5h0m.6 .2h0m.1-.2h0m.7-.1h0m1.7-.5h0m6.2 .1h0m3.2 .1h0m.6 .2h0m.4 .2h0m1.9-.3h0m1.9-.3h0m.6 .8h0m2.3-.2h0m40 .2h0m0-.7h0m1.4 .6h0m0-.5h0m2.8-.3h0m1.4 .3h0m2.5 0h0m2.7 .6h0m.4-.1h0m-129.7 .3h0m2.4 .4h0m1.7 .1h0m2.9 0h0m18.5 .2h0m6.8-.6h0m10.4 .4h0m1.6-.2h0m3.5 .3h0m1.6-.6h0m3.3 .6h0m1-.3h0m.9 .2h0m.6-.4h0m3.2 .5h0m1.6-.3h0m8.8 .3h0m3.3 .3h0m3-.8h0m.1 .7h0m.8-.2h0m.4-.1h0m1.5 .2h0m37.2 0h0m.8 .2h0m.7-.7h0m3.7 0h0m9.4 .2h0m-129.1 .7h0m.1-.2h0m2.2 .1h0m.5 .5h0m3.8 .3h0m14.9-.8h0m1.6 .2h0m9.7 .1h0m.7-.3h0m5.6 .4h0m2.2 .1h0m3-.4h0m3.4 .7h0m.3-.7h0m5 .2h0m1-.4h0m3.3 .9h0m2.7 0h0m.7 0h0m1.1-.6h0m3.8 .3h0m.9-.4h0m.5 .1h0m10.1 .5h0m34.6-.3h0m3.7 .1h0m2.1-.4h0m3.2 .6h0m.6 .1h0m1.6-.2h0m.9-.6h0m-124.4 1.1h0m.6 .6h0m1.4-.1h0m2.4-.3h0m1.8-.3h0m.6 .2h0m11.6 0h0m1.6-.2h0m.2 .7h0m2.2-.1h0m.7-.4h0m4.1 .2h0m3.1 0h0m3.8-.2h0m2.6 .1h0m2.2 .1h0m3.7 .3h0m.1 .1h0m3.1-.7h0m2 .1h0m.9-.1h0m2.9 .7h0m5.7-.4h0m.7 .3h0m1.2-.1h0m3.7-.4h0m1.4 .4h0m6.2 .1h0m.3-.2h0m.2 .1h0m42.6-.3h0m.7-.1h0m3.1-.1h0m2.3-.1h0m1.8 .3h0m7-.4h0m14.5 .3h0m-143.2 1h0m1.6 .4h0m.4-.6h0m.2 .8h0m1.6-.3h0m.2-.3h0m3.1 .6h0m.2-.3h0m2.4 .2h0m10.4-.2h0m4-.5h0m2.9 .2h0m10.2 .4h0m1.1-.3h0m2.1 .2h0m.8-.2h0m3.5-.4h0m1.7 .8h0m.8-.8h0m1.8 .4h0m.6-.1h0m5.8 0h0m.2-.2h0m.8 0h0m.2 .1h0m.9 .6h0m2.6 .1h0m0-.6h0m4.5 .4h0m1.8-.1h0m.4 .4h0m1.4-.2h0m2.7-.4h0m39.3 .6h0m2.5-.9h0m.2 .1h0m1.5 .2h0m1.6 0h0m0 .3h0m.1 .2h0m1.1-.8h0m1.6 .7h0m.8-.5h0m12 .4h0m-131.3 .3h0m.4 .6h0m2.7-.1h0m.8 0h0m0 0h0m.9 .5h0m1.3-.3h0m11.4 0h0m2.5-.2h0m10.8-.3h0m8.7-.1h0m2.9 .1h0m3.2 .1h0m.5 .3h0m1.1-.5h0m1.5 .5h0m3-.5h0m9.6 .3h0m1.2-.1h0m1.5-.2h0m3 .2h0m1.9-.1h0m1.4 .3h0m4.2 .5h0m.4-.5h0m35-.5h0m3.5 .9h0m.4-.1h0m3 0h0m.1-.3h0m.5-.4h0m1.6 0h0m1.3 .1h0m9.1 .3h0m3.3-.2h0m-132.8 1.5h0m6.1-.4h0m1.7 .3h0m1.1-.2h0m15.2-.5h0m2.6 .7h0m3 .2h0m.5-.2h0m4.3 0h0m3-.2h0m1.5-.4h0m.9 .6h0m1-.6h0m.4 .2h0m.8 .3h0m1.1 0h0m1.1-.3h0m2.8-.1h0m.6 .4h0m5.9 .2h0m2.4-.1h0m1.4-.4h0m1.2 .1h0m2.3 .4h0m1.6-.5h0m3-.2h0m5.9 .2h0m46.1 .5h0m.1-.2h0m3.1-.1h0m6.1-.3h0m.5 0h0m.3 .6h0m-127.9 .6h0m3.8 .1h0m.1-.3h0m3.4 .2h0m1.8 .3h0m8.8-.7h0m1.5 1h0m4.7-.8h0m3.4-.2h0m2.6 .1h0m4.8 .9h0m6.2-.8h0m1.4 .2h0m1.1-.3h0m7.3 .5h0m1.4-.4h0m.2 .6h0m1.2-.5h0m3.1 .3h0m2.5 .4h0m5.5-.4h0m46.1-.5h0m.1 .4h0m4.3-.3h0m5.5 .3h0m6.9-.2h0m7.9 0h0m-131.1 .9h0m.9 0h0m1.1 .3h0m4.6-.1h0m14.9 .3h0m5.3-.6h0m6.5 0h0m.2 .5h0m1-.5h0m0 .9h0m.8-.6h0m.6 .3h0m.9-.4h0m.5 .6h0m3.1-.9h0m6.1 .3h0m1.5 0h0m1.9-.2h0m4.5 0h0m.1 .9h0m.3-.8h0m1.6 .7h0m.5-.3h0m1.8-.2h0m3.3 .1h0m1.3-.4h0m43 .7h0m1.3-.7h0m3.7 0h0m2.6 .5h0m20.2 .3h0m-134.3 .7h0m1.7-.5h0m15 .4h0m6.4 .4h0m2.1 .1h0m1.4 0h0m1.2-.7h0m0 .6h0m.2-.6h0m2.9 .1h0m4.4-.2h0m1.2 .2h0m3.1 .5h0m1.9-.7h0m3.9 .7h0m.3-.6h0m1.4 .3h0m1.4 .1h0m1.7-.4h0m2 .5h0m3.7-.7h0m.7 .2h0m.6 .5h0m.4-.7h0m.6 .2h0m4.5 .2h0m1.2 0h0m42.3-.4h0m2.6 0h0m2.3-.1h0m-110.9 1.7h0m.4 .2h0m1.1-.4h0m22.7-.2h0m.2 .4h0m1.7 .1h0m2.8-.3h0m1.5-.3h0m3.5-.1h0m1.8 .2h0m.6 .3h0m9.7-.3h0m.4 .6h0m1.8-.1h0m2.6-.4h0m.2 .2h0m.2 .2h0m.4 0h0m3 0h0m2.3 .1h0m.9-.6h0m6.4 0h0m41.7 .1h0m19 .3h0m-126.9 .8h0m.6 .3h0m1.3-.4h0m2.1 .4h0m1.6 .1h0m4.3-.8h0m11.3 .8h0m5.2-.2h0m.6 0h0m6.5 .3h0m4.4-.7h0m4 .5h0m.3-.3h0m2.6 .5h0m1-.5h0m6.4 .2h0m.4 .1h0m1.8-.5h0m2.5-.1h0m1.5 .3h0m1-.2h0m43.8-.1h0m1.6 .2h0m4.2 .2h0m.2 0h0m4.7-.3h0m2.7 .5h0m9.7-.6h0m5.8-.1h0m-134.5 1.6h0m.3-.5h0m.9 .2h0m.4 .3h0m4.9-.4h0m2.2 .2h0m6.1 .2h0m2.5 .2h0m5.3-.1h0m3.3-.5h0m2.5-.2h0m7.1 .5h0m1 .4h0m0-.6h0m1.6-.1h0m2.4 .1h0m1.4 .5h0m3.8-.6h0m2.8 .6h0m3.6-.1h0m.3-.6h0m.9 .2h0m1.3-.2h0m.1-.1h0m.4 .3h0m1.9-.1h0m0-.2h0m5 .1h0m.9 .2h0m41.1 .2h0m2.4 .4h0m14.7-.5h0m7 .5h0m-126.5 0h0m1.3 .3h0m.4 .4h0m2.1 .2h0m.4-.1h0m.2-.6h0m1.9 .6h0m5 0h0m2-.7h0m8.7 .6h0m3-.4h0m4.6 0h0m0 .5h0m0 .1h0m1.5 0h0m.7 .1h0m4.1-.4h0m.4 .2h0m1.5-.4h0m.1-.4h0m.7 .8h0m.8 0h0m3.4-.8h0m.9 .8h0m2-.1h0m.5-.4h0m2.6 0h0m6.6-.2h0m.9 .2h0m1.9 0h0m1.2 .5h0m44.4-.5h0m4.6 .5h0m4.3-.7h0m6.2 .5h0m-120.4 .7h0m1.5-.2h0m.5 .2h0m.3 .5h0m.2-.6h0m1.8 .2h0m2-.2h0m3.6 .6h0m2.3-.3h0m4.6 .3h0m5.8-.5h0m7.5 .1h0m.6 0h0m5.8 .3h0m.1 .2h0m.9 0h0m1.7-.3h0m6.2 .3h0m4.2-.3h0m1.2-.5h0m.7 .6h0m3.3-.7h0m1.5 .8h0m1.1-.3h0m2.2-.3h0m0 .7h0m2.7-.9h0m.6 .6h0m36.8 .3h0m.5 0h0m1.8-.2h0m0-.3h0m19.2-.2h0m4.9 0h0m-125.9 1.7h0m3-.3h0m1.3-.3h0m1.5 .3h0m8.3-.2h0m1.3-.1h0m2.9 .4h0m2 0h0m3.1-.6h0m.4 .4h0m2.3 .2h0m.1-.6h0m1.1 .6h0m0-.6h0m2.5 .7h0m2.9-.2h0m.6 0h0m4.3 .3h0m1.4-.6h0m1.2 .1h0m.8 .2h0m1.1-.3h0m2.6-.2h0m1.3 .7h0m.2-.3h0m1.6 .4h0m.1-.5h0m3.9-.3h0m.4 .4h0m2.4-.4h0m.3 .2h0m42.9 0h0m2.3 .5h0m6.3-.6h0m.9-.2h0m-107.7 1.1h0m.9 0h0m2.1 .6h0m7.9 0h0m.3 .3h0m.3-.7h0m9.2 .3h0m1-.4h0m.5-.1h0m3.1 .4h0m.2-.2h0m2.8 .3h0m0-.2h0m.2-.4h0m.1 .9h0m4-.3h0m.1 .2h0m1.8-.1h0m.2-.6h0m1.9 .2h0m2.6 .5h0m.8-.6h0m4.3 .4h0m1.2-.5h0m7.9 .5h0m46.4 .3h0m.1 0h0m.1-.3h0m.2 .1h0m.9-.2h0m3.7-.5h0m22.4 .3h0m-126 .8h0m2.4 .5h0m0-.4h0m8.1 .2h0m4.1 .3h0m.4-.2h0m10.6-.2h0m.4-.2h0m3.2 .1h0m.5 .6h0m3.7-.6h0m.7 0h0m.7-.1h0m1.7 .6h0m.5 .2h0m.7-.7h0m2.3 .7h0m.2-.3h0m0-.2h0m.8 .4h0m.5-.6h0m2.1 .6h0m.6-.1h0m1.2-.5h0m3.1 .1h0m0 .2h0m2.1-.3h0m42.5 .6h0m.1 0h0m.7-.8h0m2.7 .9h0m1.2-.7h0m5.2 .1h0m1.5 0h0m-100.4 .8h0m.7 .6h0m.9-.4h0m.2 .7h0m1.1-.9h0m1.2 .7h0m3 .1h0m5.1-.7h0m2.2 .2h0m.3-.2h0m1.8 .7h0m3-.4h0m2.1 0h0m3.4-.1h0m3.3 .3h0m3.8-.7h0m2.4 1h0m4.1-.7h0m3.5 .6h0m.4-.8h0m.8 .2h0m3 .1h0m1.6 .3h0m.3-.7h0m42.9 .5h0m2.1-.3h0m4.4 .1h0m.1-.1h0m5 .1h0m1.1-.2h0m15.6 .7h0m-119.2 .5h0m4.3-.2h0m3.8 .8h0m1.4-.9h0m2.3 .1h0m2.6 .7h0m.5-.5h0m.8 .3h0m.7 0h0m1.3-.2h0m.9-.3h0m.5 0h0m.9 .4h0m3.1 .3h0m2.2-.6h0m2.3 .6h0m5.1-.2h0m4.3 0h0m.3 0h0m1.5 0h0m4.2-.1h0m1.5 .3h0m.9 .1h0m1.2-.6h0m44.4 .7h0m7.5-.3h0m-99.2 1.2h0m2.5-.6h0m1.9 .2h0m2.1 .3h0m1.9-.6h0m1 .7h0m3.8-.4h0m5-.3h0m1.5 .8h0m1.3-.5h0m.9-.1h0m.1 0h0m1.1 0h0m.2 .3h0m3.5-.4h0m3.6-.2h0m4.2 .2h0m1.8 .3h0m.7-.6h0m1.4 .2h0m.1 .4h0m1.9-.3h0m.2 .1h0m.1 .4h0m1.4 0h0m3.1-.6h0m.8 .1h0m41.9 0h0m.4-.2h0m1.6 .2h0m1.9-.1h0m0 .2h0m4.9-.3h0m-101.5 1.6h0m6.9-.2h0m.7-.5h0m1.9 .6h0m1.7-.4h0m4 .6h0m.3-.6h0m1 .3h0m1.1 .2h0m.2 .1h0m3.4 .1h0m1.5 0h0m3-.4h0m2.1 .4h0m1.2-.8h0m1.3 .3h0m1-.3h0m4.7 .8h0m.7-.7h0m.9-.2h0m.1 .8h0m.9 .2h0m3.4-.5h0m1.4 0h0m1.3 .5h0m1.3-.9h0m4.2 .6h0m.3 .1h0m.1 .1h0m.8-.1h0m35.7-.5h0m3.1 .5h0m1.4-.4h0m.8 .4h0m.4 0h0m.9-.3h0m.9 .3h0m7.8-.6h0m2.7 .2h0m10.9-.4h0m.3 .3h0m.2-.3h0m-108.6 1.4h0m3.5-.1h0m.2-.2h0m1 .7h0m3.1-.2h0m1.9-.1h0m2.9 0h0m.1-.5h0m.6 1h0m1-.3h0m2.7-.3h0m0-.3h0m.4 .4h0m1 .3h0m.7 .2h0m2.6-.3h0m.2 .1h0m2.3-.4h0m.6 .2h0m1.4 .1h0m.5-.4h0m.3 .3h0m.2 .2h0m2.7-.1h0m.6 0h0m.9 .2h0m5.4-.1h0m1.3-.4h0m4.5 .5h0m37.2-.8h0m.6 .6h0m1.3 .1h0m.8-.7h0m7.6 .2h0m6.9 .3h0m-100.8 1.4h0m1.1-.5h0m1.3 .2h0m1.3-.1h0m5-.6h0m2.4 1h0m.1-.4h0m3.9-.1h0m.5-.4h0m2 .3h0m8.6-.3h0m5.3 .1h0m2 .7h0m1.1 0h0m1-.3h0m1.3-.1h0m.7-.3h0m6.1 .2h0m1.7 .3h0m1.9 .1h0m.1-.2h0m41.4-.6h0m11.7 0h0m-104.7 1.2h0m5.3 .4h0m1.2-.1h0m.2-.1h0m2.7 .3h0m.3-.5h0m3.1 .6h0m2.8-.6h0m3.7 .7h0m2.4 .1h0m3.2-1h0m1 .2h0m1.6 .2h0m.1 .3h0m2.6-.2h0m2.2 .4h0m.2-.6h0m.9 .2h0m.8 .2h0m2.3-.6h0m.3 .2h0m1 .7h0m.9-.3h0m1.9-.5h0m1.4-.1h0m1.6 .4h0m.6-.5h0m43.8 0h0m.2 .8h0m1.3 0h0m4.3 .1h0m2.4-.4h0m16.2 .5h0m-107.7 .2h0m1.5 .5h0m.8-.4h0m1.1 .4h0m.8-.4h0m.1 .5h0m2-.2h0m1.3 .3h0m2-.3h0m.3-.5h0m1.4-.1h0m0 .7h0m4.8-.6h0m.4 .1h0m4.3 .6h0m2.2 0h0m.8 .2h0m2.3 0h0m1-.7h0m1.8 .2h0m.8-.1h0m.7 .3h0m.3-.1h0m1.3 .3h0m.9-.5h0m1.5-.1h0m.7 .1h0m2.3 .3h0m2.1-.2h0m40.1 .3h0m3 .1h0m3.3-.9h0m1.4 .5h0m.5-.4h0m37.5 .4h0m-130.1 1.2h0m6.7-.3h0m2.3 .2h0m1.8-.2h0m.9 .1h0m.3-.4h0m.9 .5h0m.1-.6h0m2.6 .6h0m.2-.2h0m1.9 .5h0m.5-.4h0m.5-.1h0m1 .5h0m2.9-.3h0m1.1 .4h0m3.3-.7h0m1.1-.2h0m2.3 .2h0m3 .4h0m1.1-.2h0m1.8-.4h0m1.9 .6h0m.6 .3h0m1.2-.7h0m2.8 .5h0m38.6-.7h0m1.7 .7h0m2-.1h0m4.1 .3h0m4.5-.2h0m-88.2 .4h0m1.7-.1h0m1.8 .3h0m.6 .5h0m.7-.8h0m4.6 .4h0m1.6-.2h0m1.4 .6h0m.6-.6h0m1 .5h0m2.2-.5h0m7.3 .4h0m.2 .2h0m4.1 0h0m.8-.6h0m.5 .6h0m1.8-.9h0m.7 0h0m.4 .8h0m.6-.1h0m4.7-.4h0m37.4 .5h0m2.5-.6h0m.9 .3h0m3.8 0h0m.5-.2h0m1.2 .4h0m2.9-.7h0m8.1 .1h0m50.8 .9h0m-145.3 .2h0m1.9 .6h0m.2 .1h0m.1-.6h0m2.3 .3h0m3.7 .2h0m3.4-.1h0m.3-.3h0m2.2 .1h0m2.9-.3h0m.6 .3h0m0-.2h0m.5 .4h0m1.2 .2h0m1.5-.4h0m.5 0h0m1.4-.1h0m1.3 .3h0m1.3 0h0m2.8-.6h0m2.5 .6h0m0 .3h0m1.4-.6h0m1.4 0h0m2.7 .3h0m.1-.4h0m42.4 0h0m2.1-.3h0m2.4 .6h0m.4-.3h0m.8 .5h0m52.8-.3h0m-142.8 1.3h0m.2-.5h0m5.1-.2h0m1.8 .6h0m.6 .2h0m3.2-.7h0m3.4 .2h0m4.6 .4h0m.1-.7h0m0 .9h0m.6-.6h0m1.4 0h0m4.9 .2h0m.8-.1h0m2.4 .3h0m.5-.6h0m2 .4h0m.8-.3h0m.9 .5h0m.8-.2h0m.8 0h0m1-.2h0m4.5 .5h0m40.6-.3h0m.1-.5h0m1.7 .3h0m1.3 .6h0m.5-.5h0m2.6-.3h0m-81.9 1.2h0m2.7 0h0m0 .6h0m1.8-.2h0m6.2-.2h0m4 .3h0m.9-.3h0m5.5-.5h0m.7 .5h0m4-.3h0m.9 .4h0m.9-.3h0m2.2-.1h0m.3 .3h0m.4 .1h0m2.3-.3h0m.7 .1h0m1-.4h0m41.4 .4h0m.6-.1h0m.3-.3h0m.5 .6h0m.2-.5h0m1.6-.1h0m4.1 .7h0m.4-.2h0m2.4-.3h0m.8 .3h0m11.4-.2h0m-103.4 .8h0m7.1-.1h0m1.3 .2h0m.7 0h0m3.4 .2h0m2.5 .5h0m.9-.2h0m.2-.1h0m1.1-.5h0m.3 .4h0m1.3 .3h0m.5-.6h0m1.1 .5h0m1.4 .2h0m.3-.3h0m2.4 .2h0m.9-.6h0m2-.2h0m0 .5h0m.5-.2h0m1.6-.4h0m.5 .2h0m2.2 .5h0m.3-.6h0m3.1 .7h0m44.2 0h0m9.7-.6h0m-83.7 .8h0m.8 .4h0m1.5 .4h0m2.7-.6h0m.3 0h0m.8 .4h0m.2 .1h0m2.9-.4h0m3 .5h0m6.1-.6h0m2.9 .3h0m.8 .3h0m.6-.1h0m2.1 .1h0m.8-.7h0m1.3 .5h0m1.6-.4h0m42.3 .8h0m2.3-.2h0m2.4-.2h0m1.5-.1h0m.8 .1h0m1.3 .1h0m3-.3h0m-83.5 .7h0m1.5 .2h0m1.7 .6h0m1.2-.8h0m2 .7h0m.2-.1h0m1.2 .1h0m.8-.5h0m.7-.1h0m1.1 .5h0m1.6 .2h0m1.9-.4h0m.1-.2h0m3.1 .3h0m.4-.3h0m2.2-.3h0m1 .6h0m8-.4h0m2 .5h0m3-.3h0m.9-.1h0m36.6 .3h0m1.5 .3h0m1.6 0h0m25.5-.9h0m-104.2 1.8h0m6-.8h0m3.7 .4h0m2.6-.3h0m2.7-.1h0m1.3 .5h0m2.3 .2h0m1.9-.6h0m.3 .5h0m2 .4h0m8.3-.7h0m41.7 .3h0m4.7-.1h0m25.4 .1h0m8.3-.3h0m-106 .8h0m1.2 .3h0m3.9 .3h0m1.3-.5h0m2.8 .4h0m.8 0h0m2.9 0h0m3.4-.4h0m1.2-.1h0m7.6 .5h0m44.4-.5h0m4.5 0h0m.8 .6h0m1.3-.5h0m3.9-.2h0m1.7 .9h0m26.3-.7h0m-113.2 1.2h0m5.5 .2h0m1.5 .4h0m1.7-.6h0m1.5 .3h0m2.3-.6h0m3.1 .1h0m2.8 .5h0m.4 .2h0m.2-.6h0m.3-.3h0m2 .7h0m.9 0h0m.5-.6h0m1.1 .4h0m1.3-.1h0m.5-.3h0m1.7 0h0m2.7 .3h0m1.6 .1h0m38.8 .3h0m2.1-.4h0m1.1 0h0m2.1-.4h0m4.7 0h0m5.1 .3h0m8.1 .4h0m-93.4 1h0m6.9-.2h0m2.9 0h0m5-.2h0m2.2 0h0m3 .5h0m2.1-.6h0m2-.2h0m.8 .9h0m1.2-.1h0m3-.2h0m41.7-.4h0m1.1 .2h0m.2 0h0m1 .5h0m.9-.4h0m.8-.5h0m.8 .8h0m.3-.3h0m5.1-.2h0m1.6 .2h0m-74.7 .5h0m.2 .3h0m.3 .1h0m.8 .4h0m.9-.1h0m1.4 .3h0m2.6-.1h0m2.1-.9h0m1.7 .5h0m.3-.1h0m2 0h0m1.6 .3h0m.3-.3h0m.7-.2h0m.8 0h0m4.7 .1h0m39.2 .5h0m1.6-.2h0m-57.2 .6h0m.5 .5h0m.3 .1h0m.6-.5h0m2.3 .2h0m1.6-.2h0m1.2-.2h0m.9 .8h0m.8 0h0m.5-.6h0m3.4 .3h0m.8 0h0m4.6-.6h0m0 .8h0m38 0h0m1.1 .1h0m.3-.8h0m2.4 .8h0m5-.8h0m8.3 .4h0m4.5 .4h0m-89.1 .4h0m0 .4h0m7.8-.5h0m0 .5h0m3.6 .1h0m2.5-.5h0m2.9 .7h0m1.7-.5h0m.4 .3h0m.9 0h0m1.8 .1h0m8.9-.2h0m.5 .1h0m35.5 .1h0m2.6 0h0m5.1-.8h0m-69.6 1.4h0m1.6 .1h0m4.5-.4h0m.6 .8h0m.1-.8h0m1.4 .5h0m1.3-.1h0m1.8 0h0m1-.3h0m1.1 .3h0m5.1-.3h0m43.4 .5h0m0-.2h0m2.7-.3h0m.3-.3h0m-64.1 1.1h0m.3 .5h0m1.1 0h0m1-.5h0m.4 .9h0m2.7-.8h0m3.5 0h0m.6 .1h0m1.4 .4h0m1.9 .2h0m.7-.5h0m.7-.3h0m.5 0h0m.6 .4h0m.3 .5h0m1.9-.4h0m.5 .4h0m1.1-.8h0m37 .4h0m5.6 .3h0m1.1-.6h0m3.1 .1h0m9.3 0h0m-80.8 1.5h0m5.1-.4h0m.9 .2h0m1.2 .3h0m.8-.6h0m.4 .5h0m2.6-.4h0m2.2 .4h0m2.4-.6h0m.2 0h0m6.9 .2h0m1.7 .4h0m39.9-.3h0m1-.3h0m.9-.1h0m2 0h0m1.9 .5h0m3.2-.4h0m4.3 .2h0m-77.5 1.3h0m7.6-.3h0m.9-.4h0m1.9 .3h0m0-.3h0m1.1 .2h0m.7-.1h0m.6-.1h0m.9 .2h0m.8-.1h0m.7-.1h0m1.1 .7h0m.1-.5h0m1.9 .6h0m.4-.6h0m.2-.1h0m1.2 0h0m3.7 .2h0m0 .3h0m37.1 .1h0m2-.7h0m6.5 .9h0m.1-.7h0m19.1 .2h0m-79.5 .8h0m2.4 .3h0m2.5 .3h0m.4-.8h0m42.4 .5h0m3.3-.5h0m6.2 .7h0m15.3-.1h0m-73.5 .6h0m2.7 .5h0m.5 0h0m0-.7h0m6.7 .6h0m0 .2h0m.9-.2h0m.5-.7h0m.6 1h0m40.8-.2h0m3.5-.6h0m.4-.1h0m0 .4h0m4.3 .1h0m10 0h0m-70.4 1h0m.2 .3h0m.1-.9h0m.9 .9h0m5.9-.4h0m1.9-.3h0m2.5 .5h0m2.1-.6h0m33.7 .3h0m.3 .5h0m.9-.1h0m1.4-.6h0m5.6 .3h0m1.1-.3h0m1.5 .5h0m20-.1h0m8.9-.1h0m-86.8 .6h0m6.5 0h0m6.9 .6h0m33.4-.5h0m.5 .3h0m.3-.1h0m24.8 .3h0m-72.4 .6h0m4.4 .1h0m5.4 .3h0m36.3 0h0m.3-.6h0m4.2 .6h0m4.8 .1h0m.9 0h0m-55.2 1.1h0m6.6-.8h0m46.7 .1h0m-56.2 1.2h0m1.4 .3h0m1-.4h0m.7-.3h0m.6 .3h0m.5 .5h0m.1 .2h0m4.4-.9h0m.8 .5h0m1.4-.6h0m33 1h0m8.1-.1h0m32.6-.5h0m-85.4 .6h0m1.5 .7h0m1.7 .3h0m1.5-.8h0m36.8 .7h0m8.1-.5h0m1-.4h0m-49.9 1.6h0m1.6-.4h0m2.8 .5h0m4.7-.4h0m.1 .1h0m.7 .1h0m28.5 .3h0m5.1-.2h0m.9-.5h0m1.6 0h0m7.2 .7h0m5.9 .2h0m23.7-.2h0m-89.7 .6h0m0 .5h0m9.8-.3h0m1.3-.5h0m33 .1h0m4.6 .1h0m1.3 0h0m.7-.2h0m.1 .7h0m.4 .2h0m-3.5 .1h0m2.8 .6h0m8.9 0h0m.9 .3h0m-60.4 .4h0m45.2-.4h0m.8 .2h0m.1 .6h0m.2-.7h0m.2 .5h0m3-.4h0m2.3 .6h0m-45.6 1.1h0m.9 0h0m.2-.8h0m33.1 .7h0m1.6-.4h0m2.8 .6h0m1.7-.1h0m34.6 .1h0m-74.2 0h0m2 .3h0m.8 .3h0m34.4 .2h0m12.4 .1h0m14-.5h0m7.8-.1h0m-66.8 1.3h0m28.8-.3h0m.2-.1h0m4 .4h0m4.8-.5h0m3.1 .7h0m.8-.7h0m-13.2 1.5h0m1.2-.5h0m6.1 .4h0m7.5 .1h0m20.4-.4h0m75.7 .1h0m-113.3 1.2h0m2.9 .2h0m3.9-.4h0m6 .2h0m3-.2h0m-17.4 1.3h0m.2 .1h0m3.1 0h0m1.3-.2h0m6.8-.4h0m10.8 .1h0m-24.7 1.4h0m.9-.2h0m.1 .2h0m.3 0h0m23.6 .1h0m4.4 0h0m-62.7 .5h0m35.1 .6h0m1.8 0h0m.6 .1h0m4.6-.8h0m6.2 .1h0m-16.6 .9h0m1.1 .4h0m.2 .4h0m4.1 0h0m10.6-.3h0m2.6 .3h0m19.2-.4h0m-41.9 1.3h0m3.5-.8h0m.2 1h0m.4-.3h0m2.3-.5h0m4 .4h0m.3 0h0m1.3-.1h0m-10.3 1h0m.1 0h0m4.2-.1h0m1.3-.3h0m7 0h0m1.1 .5h0m.8 .3h0m8.4 0h0m-26.9 .8h0m2-.2h0m2.6-.1h0m.1 0h0m6.3-.1h0m18.6 0h0m-28.8 1.3h0m.3 0h0m13.1 .2h0m10.8 .1h0m.1-.2h0m-27.5 .6h0m.3 .3h0m2.5-.6h0m2.7 .4h0m.5 .5h0m-30 1.1h0m22.3-.1h0m1.3-.7h0m3.3 .5h0m6.9-.5h0m.6 .5h0m1.9-.3h0m-14.5 .7h0m8.2 .3h0m.8 0h0m1.3 .4h0m14.5-.1h0m1.5-.6h0m-25.8 1.6h0m6.4-.3h0m1.5 .5h0m3.6-.8h0m-11.3 1.8h0m4.6-.7h0m3.9 .7h0m-13.5 .9h0m1.9 0h0m3.5-.1h0m32.7-.4h0m-40 1h0m.7 .2h0m.2 0h0m6.5 .1h0m1.6-.6h0m-11.4 2h0m2-.2h0m1-.2h0m4-.4h0m1.2 .6h0m44.7-.4h0m-52.2 1.1h0m3.8 0h0m-7.6 1.4h0m1.3-.1h0m18.3 .2h0m.6-.7h0m1.8-.3h0m-23.1 2h0m3-1h0m.3 .5h0m.1-.4h0m4.9 .4h0m5-.1h0m3 0h0m24-.1h0m-39.2 .8h0" stroke="#c00a4e" stroke-width="1.4" stroke-linecap="square" fill="none"/><path d="M940.8 437.1l-1.6-1.4l-2-.6l-1 1l-1.4-.4l-1.6 .4l0 1.6l-1 1l-3.4 .4l-2.6-.4l-3.4 1.4l-3 3.6l-3.6 1.4l-2.4 2l-.6 2.6l-4 .4l-4 4.6l-1.4 .4l0 1l-1.6 1.6l-2.4-.6l-2.6 3.6l-2-.6l-2 2.6l-2.4 .4l-2 3l-4.6 2.6l.6 1.4l-1.6 1.6l-2.4-.6l-1.6 2.6l-6.4 4.4l0 1l-1.6 1.6l-2 0l-.4 1.4l-1.6 .6l-1 2l-3 .4l-.4 2l-1.6 1.6l-1.4 0l-1.6 2l-1 0l-1.4 1.4l-1.6 0l-1 2.6l-3 0l-2 3l-1.4 0l-2 2.4l-1.6 1l-1.4 0l-.6 3.6l-1.4 0l-1-1l-4.6 5l-1 .4l-1.4-.4l-1 1l1 .4l-.6 1.6l-1.4-.6l-2 2l-1-.4l.4 1l-1.4 1.4l-2-.4l-2.6 1.4l-3 3l0 1.6l-2.4 2.4l-1.6-.4l-3 2l-4.4 4.4l-1.6 .6l0 1l-1.4 1.4l-2 0l-5 4.6l.4 1l-1.4 1.4l-2-.4l-2.6 2.4l0 1l-2.4 1.6l0 2.4l-1.6 1.6l-2.4 .4l0 2.6l-1 1l-4-.6l-5.6 3.6l1.6 .4l-.6 2.6l-4.4-.6l-1-1l0-1.4l2-1l-2-4l-1.6-1l-1 4l0 4.4l-1 2.6l0 3.4l-1.4 2.6l0 4l-2 4l0 5.4l1 1l4 .6l1-1l3 0l3.4-3l3-1l4-4l3-1l6-5l4-1.6l4-4.4l3-.6l2-2l1 0l0-1l2-2l2 .6l-.4-2l1.4-1.6l2 0l1-2l4.6 0l4-6.4l1.4 1.4l1-.4l1-2.6l2-2l1 0l.6-1l1.4 .6l1.6-2.6l2 0l3.4-3.4l.6-1.6l2 0l4-2l0-1l3.4-5l1.6 1l3-1.4l.4-3.6l1-1l2.6 0l3-1.4l-.6-2.6l1-1l2.6 1l1-.4l1-2.6l3.4-.4l1-1.6l3.6-1.4l2-2l-.6-2l1.6-.6l.4-1.4l1.6-.6l1-2l3.4-1l8.6-8l1.4 0l2.6-3l2-.4l2-3.6l1.4 .6l1-.6l.6-4l5-.4l.4-2l3-2l1.6 0l2-2l.4-3l.6-.6l2 .6l3-3l0-1l3-3.6l3-.4l4-3l3-4l0-2.6l1.4-1.4l1 0l2.6-3l.4-1.6l-1-.4l0-1l2-2l1 1l2-4zM776.2 556.5l.6-.6l1 .6l-.6 .4z" fill="#d31651"/><path d="M933.2 442.1l-4-.4l-7 3l-29.4 20l-91 71.4l-15.6 13l-2.4 3l-4 2l-2 2l-.6 1.6l-3 1l-4.4 3l-4.6 5.4l-.4 3l-1 1l0 2l-1 1l0 4.6l1.4 1.4l4 0l1-1l3 0l2.6-2.4l3.4-1.6l3.6-3.4l5.4-2.6l1-2l1 0l4-3l1.6 0l2.4-3l1 0l1-2l3-.4l4.6-4.6l1 0l2-3l1.4 0l1.6-2l3-.4l5-4.6l1-2l1.4 .6l4-4l6.6-4l4-4l5.4-3.6l3.6-4l2-.4l4.4-5l1.6 0l2-1.6l2-3l3-1l12.4-10l3-3.4l17.6-14l6-6l8-5.6l17-17l7-10z" fill="#df2151"/><path d="M924.8 449.1l-3-.4l-7 3l-20 13.4l-47 36l-30.6 25l-24 18.6l-26 21.4l-4 8l0 4.6l1 1l3.6 .4l1-1l3 0l3.4-3l3-1l4-4l3-1l3-3l1 0l3.6-3l1.4 0l1.6-1l.4-1.4l1.6-.6l1-2l1.4 0l4.6-3l5.4-5.4l1 0l1-1.6l4.6-2.4l4.4-4.6l3.6-2l21-16.4l6.4-6l20.6-16l5.4-5.6l16-13l7-7l7-5l14-15l2.6-5z" fill="#ea3050"/><path d="M919.2 453.6l-1-.6l-2.4 .6l-4 3l-5.6 2.4l-10 6.6l-20 15.4l-11 7.6l-10.4 9l-8 5.4l-28 23l-38 29.6l-14 12.4l-3 5.6l-.6 2l.6 2.4l1.4 1.6l6-.6l3.6-3l1.4 0l.6-1l2.4-1l4.6-4l3-1l1-2l1 0l2-2l5-2.4l3-3.6l2.4-1l11-9.4l4-2.6l10.6-9l14-10.4l12-10.6l19-15l6-6l17.4-14.4l5-5.6l5-3.4l12-13.6l2-3z" fill="#f3454a"/><path d="M910.2 461.6l-1-1l-2.4 .4l-7 4l-21 15.6l-10 6.4l-12.6 10.6l-8 5.4l-29.4 24l-37 28.6l-15 13.4l-2.6 5l.6 4l2.4 1.6l2-1l2.6 0l3-2.6l3-1l4-4l3-1l6.4-5.4l2.6-1l4.4-4.6l1.6-.4l24-20l17-13l10-9l4.4-3l15-12.6l6.6-6.4l6-4.6l6.4-6.4l4-3l7-7.6l3-2l5-5z" fill="#f86341"/><path d="M901.2 468.1l-9.4 4.6l-5.6 4.4l-17 11l-12.4 10.6l-9.6 6.4l-26.4 21.6l-40.6 31l-13 12l-2 3.4l-.4 2l.4 2l1.6 1.6l4 0l4.4-3l3.6-1.6l3-3l4.4-2.4l8.6-6.6l18-15.4l26-20.6l31-26l25.4-24l2-3.4z" fill="#f97f4c"/><path d="M887.2 479.6l-1.4 0l-4 2l-17 11l-7 6.4l-11 7.6l-23.6 19l-41 31l-13.4 12l-3 5l0 3l2 1.4l4-.4l6-3l2.4-2.6l12.6-9l19-16.4l27-21.6l30.4-26l15.6-15z" fill="#fb9d58"/><path d="M876.8 488.1l-3 .6l-7.6 4.4l-9.4 8.6l-5.6 3l-8.4 7l-9.6 6.4l-12.4 10.6l-5.6 3.4l-7 6l-24.4 18l-15 13.6l-2 3.4l0 3l1 1l5-.4l4-2l9-6.6l25-21.4l8.4-6.6l4.6-4.4l4.4-3l6-5.6l5-3.4l9-8.6l5.6-4l6-6l8-6.4l8.4-9z" fill="#fcba6c"/><path d="M857.8 503.6l-3.6 1l-5 3l-6.4 5.4l-10 6.6l-8 7l-44 32.4l-8.6 7.6l-3.4 4l-1.6 3l.6 2.4l3.4 .6l5.6-2.6l14-10.4l18.4-16.6l9.6-7.4l5-5l17.4-14l15-14z" fill="#fed587"/><path d="M843.8 515.0l-4.6 1.6l-6 4l-11 9l-6.4 4l-12 9.4l-20.6 14.6l-13.4 12.4l-1.6 3l0 2l1.6 1l3-.4l10.4-6.6l35-30l14-13l4-2.4l6-6z" fill="#fff0aa"/><path d="M828.2 527.0l-13 8l-7.4 6l-24.6 17l-12.4 11.6l-1.6 2.4l0 2.6l3 .4l4.6-2l11.4-8.4l23-21l3.6-2.6l7.4-8l6-5z" fill="#f8f8b0"/><path d="M817.8 535.5l-3.6 1.4l-31 21.6l-11 10l-2.4 5l1.4 1l2.6-.6l4-2l7.4-5.4l32-29.6z" fill="#d0e98b"/><path d="M807.8 544.0l-1.6 0l-8 4.6l-15 10.4l-9.4 8.6l-2 2.4l-1 3l3 .6l9-5.6l14-12z" fill="#9fd8a0"/><path d="M802.2 548.0l-4.4 1.6l-14.6 10l-10.4 10l-1 3l1 .4l2-.4l10-6.6l16-15z" fill="#66cca0"/><path d="M799.2 550.5l-4 1.4l-12 8l-9.4 9l-1 2.6l.4 .4l2.6-.4l9-6l14-13.6z" fill="#1fc59c"/><path d="M795.2 553.5l-3.4 1.4l-9 6l-7 6.6l-1.6 2l0 1.4l5-2l5.6-4l8.4-8l2-2.4z" fill="#189bae"/><path d="M791.8 556.5l-4 1.4l-5.6 4l-6 6l-.4 1.6l4-1.6l5.4-4l6-6z" fill="#2378b2"/><path d="M788.8 559.0l-5 2.6l-5.6 6l6-3.6z" fill="#445ca8"/></g>
<g clip-path="url(#cpf)" fill="none" stroke-linecap="butt">
<path d="M764.0 578.0L1020.7 370.3" stroke="#9a9a9a" stroke-width="1.4"/>
<path d="M764.0 574.5L1020.7 378.4" stroke="#111" stroke-width="1.7"/>
</g>
<path d="M751.5 359.3V588.0M1033.8 359.3V588.0" fill="none" stroke="#777" stroke-width="1.2"/>
<path d="M750.9 359.3H1034.4M750.9 588.0H1034.4" fill="none" stroke="#444" stroke-width="1.1"/>
<path d="M764.0 588.0v3M751.5 578.0h-3M815.6 588.0v3M751.5 536.3h-3M867.2 588.0v3M751.5 494.5h-3M918.8 588.0v3M751.5 452.8h-3M970.4 588.0v3M751.5 411.0h-3M1022.0 588.0v3M751.5 369.3h-3" stroke="#555" stroke-width="0.9"/>
<g font-family="Liberation Serif, serif" font-size="14.3" fill="#1a1a1a">
<text x="764.0" y="603.8" text-anchor="middle">0.0</text>
<text x="746.5" y="583.2" text-anchor="end">0.0</text>
<text x="815.6" y="603.8" text-anchor="middle">0.2</text>
<text x="746.5" y="541.5" text-anchor="end">0.2</text>
<text x="867.2" y="603.8" text-anchor="middle">0.4</text>
<text x="746.5" y="499.7" text-anchor="end">0.4</text>
<text x="918.8" y="603.8" text-anchor="middle">0.6</text>
<text x="746.5" y="458.0" text-anchor="end">0.6</text>
<text x="970.4" y="603.8" text-anchor="middle">0.8</text>
<text x="746.5" y="416.2" text-anchor="end">0.8</text>
<text x="1022.0" y="603.8" text-anchor="middle">1.0</text>
<text x="746.5" y="374.5" text-anchor="end">1.0</text>
</g>
<text x="892.6" y="625.5" font-family="Liberation Serif, serif" font-size="22.4" text-anchor="middle" fill="#000">Ground Truth</text>
<text transform="translate(720.8 473.6) rotate(-90)" font-family="Liberation Serif, serif" font-size="22.7" text-anchor="middle" fill="#000">RSFN</text>
<text x="706.5" y="344.1" font-family="Liberation Serif, serif" font-size="27" fill="#000">(f)</text>
<g font-family="Liberation Sans, sans-serif" fill="#000" stroke="#000" stroke-width="0.12">
<text transform="translate(767.41 385.0) scale(0.937 1)" font-size="19" font-style="italic">y</text>
<text x="802.1" y="385.0" font-size="19" textLength="53.5" lengthAdjust="spacingAndGlyphs">0.944</text>
<text transform="translate(857.41 385.0) scale(0.934 1)" font-size="19" font-style="italic">x</text>
<text x="892.5" y="385.0" font-size="19" textLength="53.5" lengthAdjust="spacingAndGlyphs">0.017</text>
<text transform="translate(766.32 415.6) scale(0.821 1)" font-size="19" font-style="italic">R</text>
<text transform="translate(781.40 408.6) scale(0.948 1)" font-size="12.5">2</text>
<text x="814.3" y="415.6" font-size="19" textLength="65.2" lengthAdjust="spacingAndGlyphs">0.8920</text>
</g>
<path d="M783.4 377.8h12.7M783.4 381.3h12.7M873.8 379.2h12.2M879.9 373.1v12.5M795.2 408.8h12.7M795.2 412.6h12.7" stroke="#000" stroke-width="1.45" fill="none"/>
<clipPath id="cpg"><rect x="1095.9" y="359.5" width="282.3" height="228.7"/></clipPath>
<g clip-path="url(#cpg)"><path d="M1177.2 548.8l-.6-.6l-2 1l-1-.4l-.4 2zM1169.2 547.2l0 1.6l1 0l.4-1zM1176.2 543.8l-1-.6l-1 .6l0 1zM1183.2 542.8l-1 0l-1 2l2-.6zM1129.7 532.2l0 2l2 .6l1-2zM1126.7 532.8l-.4-.6l-1 .6l-.6 1.4l1 0zM1204.2 530.8l1.4 2.4l.6-2zM1127.2 524.8l-1 1l0 1.4l1.4 1l0 1.6l1 0l1-1.6l0-1.4l-1.4-2zM1206.7 520.8l-2.4 .4l0 1l1.4 0zM1211.7 520.8l1 1.4l3-.4l-.4-1l-2.6-1zM1129.2 518.2l0 3.6l1 1.4l3.4-.4l2.6 1l-1 1.4l-3-.4l-1 2l1.4 2l-.4 .4l.4 2l.6-1l-.6-2l2-1.4l.6-1.6l2.4-.4l1-2l-7-1l-1.4-1l-.6-2.6zM1148.2 515.2l1 1.6l0 3.4l1 0l1-1.4l0-2zM1216.2 514.8l-1 2.4l1.4 1zM1220.2 510.2l-.6 .6l1 1l.6-.6zM1156.7 509.2l-.4 3.6l3-.6l.4-2.4zM1153.2 505.8l-1 .4l0 1.6l1.4-.6zM1236.2 502.8l-1.6 0l.6 2zM1238.2 500.8l1.4 .4l0-1zM1253.2 482.2l-1 .6l.4 1.4l1-1zM1260.7 478.8l-.4 2l1 2l-2 1l0 1.4l1 0l1.4-2.4l0-2zM1288.7 437.2l2 2.6l0-1.6zM1287.7 438.8l-4-4.6l-2.4 .6l.4 1l-.4 1l-4-.6l-3 2l-1.6 2l-2 0l-.4 1l.4 1l-1 1l-5.4 1l-1.6 2.6l-2.4 0l0 1l-4 3l-1.6 2l-2 .4l-2 3l-1.4 0l-3 2l-3 .6l0 2.4l-1.6 1.6l-2 0l-2 2l-4 1.4l-1 3.6l-3 1.4l-1.4 2l-1.6 0l-2 3l-2.4 .6l-1 2.4l-3 0l-1 2l-4 1.6l.4 1.4l-4.4 2l-3 3.6l-1 .4l-.6-.4l-1 2l-2.4 2l-.6 1.4l-3 .6l-2 2.4l-2.4 0l-.6 3l-1.4 1.6l-2.6 0l-3 2.4l0 1.6l-4 2.4l-2 0l-2 1.6l-2.4-.6l-1 3.6l-3 3.4l-2-1.4l1.4-2l-1.4-3l-3 1l-4-2l.4 2l2 0l1.6 1.4l2 0l1 3l-1 2l-3 2l-1.6-1.4l2-2l-3-.6l-1 1l0 2.6l-1.4 1l-1.6 0l-2.4-4.6l-1.6-5.4l-1.4-.6l-1 1.6l1 1.4l0 1.6l1.4 1l.6 3.4l-.6 3l1.6 1.6l-2 2.4l-4-.4l3-2l-1.6-2l-1 0l0 1.4l-1 1l-1.4-.4l.4-.6l-1.4 1l-1-1l.4-2l-3-.4l0-2.6l-1.4 2.6l-2 .4l0 1.6l3.4 .4l1.6 1l1.4-.4l2 3l-5.4 1l-2.6-3l-1 0l.6 3.4l-5.6 5.6l1.6 2l-.6 1.4l-2.4-1.4l-2 2l-1.6 0l-1.4-2l-4 1l.4 3l-3 2.4l-1.4 0l-1.6 2l-2-.4l.6-2.6l2-2l2.4 .6l1-1l0-1.6l-1.4-.4l-1.6 1.4l-2-2l-2.4-.4l1.4-1.6l-2-6l.6-3l-1-.4l-1.6 1l-1-1.6l4-2.4l.6-2.6l-3-1.4l.4-2l-1-4.6l1-1.4l-3-2l1-2l-1.4 0l-.6 1.4l1 2l-1 2l0 10l-.4 .6l.4 1.4l-.4 2.6l1 2l-1 1.4l0 9.6l-.6 .4l.6 .6l-.6 5l1 2l-.4 1l0 10l-.6 .4l.6 11.6l-2 5.4l.4 4.6l2 1l2.6 0l7-3l11-8.6l5-2.4l2-2.6l2.4-.4l4.6-5l2-.6l1-1.4l2.4-.6l3.6-3.4l5.4-3l2-2l4 .4l.6-1l-.6-1l1-1l1 0l2-2l2 .6l3.6-4l2 1l0 1.4l6.4-.4l2.6-2l0-1l-1.6-1l-.4-2l-1.6 0l-1 1l-.4 2.4l-1.6 .6l-1-1l1.6-1.6l-.6-1.4l1-1l5-.6l2-1.4l0-2l1.6-2l1.4 .4l-.4 3.6l2 1.4l1.4 0l.6-.4l-2.6-1.6l0-1.4l1-1l2.6 .4l1-2l2.4-1.4l-1.4-1l.4-1.6l3 .6l2-2l0-2l2.6-5.6l2 1.6l0 1l2 1.4l1 2l.4-2l2-1.4l-1-1.6l.6-1l3-2l3 0l1-1l-.6-2l1.6-.4l.4-1.6l2-2l1 1.6l-.4 4.4l1 1.6l1.4 .4l.6-1l1.4 0l.6-.4l-2 0l-2-1.6l.4-2l-1-1l0-1.4l3-.6l-3-4.4l1-.6l1.6 1.6l2 0l2.4-3.6l2-.4l1.6-5l2.4 2.4l6 1.6l.6-.6l-1.6-.4l-1.4-2l-.6-2l1-1l3 1.4l2.6 2.6l.4-3.6l1.6-2l2 0l1.4-2l2.6 0l1.4-1.4l-.4-1l-1 0l-1 1.4l-2-.4l0 1l-1.6 .4l-1-1l1-1.4l-.4-2.6l3-.4l.4-1.6l1.6-1l-.6-1l.6-2l1 0l1 1l0 1.6l1 0l4.4-6l4-.6l-1-2l1.6-2l-1-1.4l0-2l.4-.6l1 1.6l4.6-1l.4-.6l-.4-2l4-2l0-2l2.4-1l-1-1.4l1-1l2 .4l.6-1.4l-1.6-.6l3.6-1.4l0-4l2.4-3.6l3 .6l3-2l-1-1.6l-1.4 .6l-1-.6zM1124.2 554.8l1 1.4l-3 2l-.6-1zM1125.7 553.2l1-.4l1 1.4l-1 1zM1117.2 552.2l.4-.4l1 .4l-.4 .6zM1120.7 546.8l2.6 2l0 1.4l-3 2.6l-.6-1.6l1-2.4l-1-1.6zM1133.7 541.8l1-.6l.6 1l-1 .6zM1124.2 543.8l1-3.6l1.4-.4l3.6 1l-1 2.4l-1.6-1.4l-1.4 0l0 1.4l-1 1zM1138.2 537.8l1 .4l-.6 2l-1.4-1zM1114.7 538.2l1-.4l.6 1l-1 .4zM1133.2 537.2l.4 3l-2.4 .6l-.6-1zM1141.7 530.2l4-2l1 1l-.4 2l1.4 2l-2.4 1l-3-2zM1153.7 527.2l.6-1l1 .6l-1 1zM1192.7 527.2l1.6-1.4l2 1l-.6 1zM1161.2 522.8l1.4-.6l2 1.6l-1.4 1.4l-1.6-1zM1246.2 485.8l.4 .4l-.4 1.6l1 1.4l-3 3l-1.6-1.4l-.4-3.6l2-1.4zM1256.2 474.2l.4-.4l1 .4l-.4 .6z" fill="#c00a4e" fill-rule="evenodd"/><path d="M1362.4 366.6h0m-111.4 2.4h0m115.3 3.5h0m-60.7 3h0m22.5-.6h0m-45.2 1.5h0m-59.2 2.1h0m86 1.4h0m38.9 .2h0m-63.6 1.2h0m19.2 .5h0m29.5 0h0m23.5 1.3h0m-27.2 .6h0m25.9 .2h0m-17.6 1.3h0m14 1.1h0m12.9 .3h0m-90 2.6h0m31.4-.3h0m37 1.1h0m0 .2h0m-6.4 .4h0m-15.3 1.1h0m12.4 0h0m21.1 .6h0m-60.1 .8h0m-32.7 .7h0m23.2 .4h0m19.7 0h0m16.7-.6h0m6.5 .2h0m-15.9 .8h0m25.5 .4h0m-43.6 .6h0m55.7 .2h0m9.2 0h0m-43.2 .8h0m3.1 .9h0m-33.5 .7h0m37.7 0h0m19.1 .2h0m-80.5 .9h0m29.3-.1h0m11.9 .2h0m32.8-.8h0m-41.3 1.5h0m-26 1h0m21.7-.2h0m41.6 1.4h0m1.6-.4h0m8.4-.3h0m-32.9 1.2h0m2.7 0h0m4.3-.1h0m2.9 .4h0m2.5-.5h0m1.1 .1h0m26.1-.1h0m1.5 0h0m6.3 .4h0m-66.2 1.3h0m2.7 .2h0m59.1-.9h0m-43.9 1.2h0m5.4 .3h0m.2-.4h0m9.8 .2h0m.8 .6h0m38.8-.1h0m-71.2 1h0m4.1-.7h0m37.1 .7h0m2-.4h0m14.2 .2h0m-48.4 .6h0m11.1 .4h0m5 0h0m7.2-.1h0m6.2 0h0m8.9-.2h0m1.4 .5h0m15.8-.1h0m-46.6 1.1h0m5.1-.6h0m19 .1h0m-57.5 1.3h0m8.8-.6h0m1.6 .6h0m26.4 0h0m1.1-.5h0m20.6 .3h0m25.2 .6h0m-62.3 1.2h0m27.8-.1h0m9.2 .7h0m-34.8 .9h0m5.7 .1h0m1.5-.3h0m4.8 .1h0m3.8-.1h0m1.4 .3h0m10.7-.8h0m-44.3 1.3h0m17.4 .1h0m5.4-.1h0m3.2 .4h0m10.5-.7h0m12.6 .2h0m-72.3 1.2h0m31.2-.4h0m23.4 .9h0m.7-.5h0m1.3-.1h0m-19.1 .9h0m4 0h0m7.3 0h0m8.1 .2h0m5.2-.2h0m-54.1 1.3h0m42.9-.1h0m2.5-.2h0m13.6 .2h0m-32.2 1.1h0m16.6 .4h0m2.3-1h0m25.1 .4h0m-91.3 1.1h0m10.1-.4h0m33.3 .3h0m12-.2h0m1 .2h0m.4 0h0m2.9 .4h0m.8-.1h0m.6-.7h0m-10.2 1.4h0m2.1 .2h0m2.1 .1h0m25-.2h0m-50.7 1.4h0m8.9-.1h0m5 .1h0m5.1-.1h0m8.3-.4h0m1.4 .3h0m.7-.5h0m.7-.1h0m-80.7 1.6h0m23.8-.5h0m39.8 .6h0m1.7-.2h0m4.6-.1h0m5.7-.2h0m5-.1h0m3.8 .5h0m6.2 .2h0m3.9-.3h0m-31 1.1h0m.6-.4h0m7.8-.1h0m1.7-.1h0m1 .2h0m1.8-.1h0m.4 .2h0m.7-.2h0m2.1 .4h0m1-.1h0m5.5-.2h0m4.6 0h0m9.9 0h0m-44.3 .9h0m11.2 .4h0m4.7-.2h0m1.3-.3h0m.5 .2h0m0 .6h0m3.7-.4h0m1.9 .3h0m2.6 0h0m2 .2h0m3.9-.4h0m.1-.3h0m-45.2 1.6h0m12.6-.7h0m7.6-.1h0m10.1 .9h0m27-.1h0m-41.9 .8h0m6.7-.2h0m.9 .4h0m1.9-.1h0m3.7-.7h0m2.4 .5h0m4.2 .2h0m6.6-.4h0m-28.3 1.4h0m3.4-.5h0m8.8-.3h0m1.4 .5h0m0-.4h0m1.3 .8h0m3.8 0h0m.6-.3h0m.5 0h0m1-.3h0m3.6 .2h0m.3-.3h0m1.5 .6h0m.2-.3h0m1 0h0m.8-.1h0m10.7 .4h0m18.5-.3h0m-64.5 1.4h0m9.9-.3h0m.8-.2h0m5.5 .1h0m2-.3h0m.1 .3h0m3.6-.5h0m5.7 .9h0m2.8 0h0m.7-.3h0m.9-.3h0m2.3 .1h0m.3 .5h0m.1-.9h0m-31.5 1.5h0m4.7 0h0m7.2-.4h0m0 .8h0m.2-.7h0m1.5 0h0m1.2-.1h0m0 0h0m.5 .6h0m2.1-.1h0m.5 0h0m.5-.1h0m1.1-.2h0m1.9 .6h0m.3-.4h0m3.3 0h0m2.5 0h0m14.5-.2h0m-59.4 1.2h0m17.2 .3h0m10.4-.3h0m.5 .3h0m1.8-.6h0m1.7-.1h0m2.7 .1h0m.2 .8h0m4.6-.9h0m.3 0h0m2.5 .4h0m.8-.2h0m2.3 .5h0m.2-.2h0m3.5 .2h0m-51.6 1h0m13.8-.4h0m4.4-.2h0m6.3-.1h0m3.4 .6h0m.6 .1h0m1.7-.7h0m.3 0h0m.4 .1h0m.8 .3h0m3.3 .3h0m.6-.6h0m1.1 .3h0m.1 .1h0m1.4-.5h0m3.1 .4h0m2.6-.4h0m1 0h0m1 .8h0m2.1-.3h0m-35 .6h0m2.4 .8h0m6.4-.3h0m.3-.3h0m1.1 0h0m.7 .5h0m2.9 0h0m.9-.5h0m6.5 .3h0m.8-.4h0m.7 .5h0m1.8-.2h0m.1 .2h0m4.6-.3h0m.4 .2h0m.2-.3h0m1.2 0h0m1.5-.3h0m.1 .3h0m7.5 .5h0m8.2-.5h0m-48.4 1.3h0m1.9-.5h0m3.7 .5h0m3-.3h0m4.1-.1h0m1.2-.1h0m1.2 .5h0m1.9-.3h0m.5 0h0m0-.4h0m.4 .2h0m1 .5h0m1.8-.4h0m.8-.2h0m4.1 .2h0m.5 .6h0m3.6-.6h0m.8-.1h0m.7 .5h0m.3-.5h0m7.9 .2h0m6.9-.4h0m-94.3 1.8h0m17.8-.2h0m9.7-.4h0m20-.1h0m4.9 .8h0m.2 0h0m2.4-.8h0m1 .1h0m4.9 .5h0m.1-.1h0m1-.5h0m.2-.1h0m.5 .6h0m2.1-.5h0m.5 .7h0m4.5 0h0m3.8 .1h0m1.9-.4h0m.5 .2h0m.8-.1h0m0 .2h0m.9 0h0m3-.2h0m.4 .2h0m2.3 .2h0m2-.8h0m-51.8 1.2h0m15.4 .2h0m.5-.5h0m1.2 .6h0m2.5-.2h0m2.1 0h0m.8 .4h0m.2-.1h0m1.2-.3h0m1.1 .3h0m.5-.7h0m1.7 0h0m0 .3h0m3.2 .5h0m.2-.7h0m2.9 .8h0m2.1-.6h0m2.8-.4h0m3.1 .3h0m1 .5h0m.7-.2h0m3.2-.2h0m-80.5 1.1h0m39.7 .4h0m7.1-.6h0m3.7 .6h0m3.7-.1h0m.6 0h0m.3-.2h0m1 .4h0m7.5-.7h0m1.8 .6h0m.6-.8h0m.4 .6h0m1 0h0m.4-.6h0m1.7 .6h0m.2-.6h0m3 0h0m2 .2h0m2.1 .6h0m1.9-.4h0m.2 .1h0m-118.6 1.3h0m61.3-.8h0m24.5 .4h0m1.3 .1h0m3 .3h0m.1 0h0m.1-.6h0m2.7 .3h0m.5 0h0m1.8 0h0m1.7-.3h0m7.5 .4h0m2.5-.3h0m.2-.3h0m.8 .1h0m1.5 0h0m.3 .1h0m.1 .2h0m1.2-.4h0m.5 .7h0m.1-.1h0m1.2 0h0m1.9-.5h0m.1 .5h0m2.1 .3h0m.4-.1h0m1.5-.8h0m.9 .7h0m0-.4h0m3.7 0h0m18 0h0m-128.8 1.3h0m63.3-.3h0m4.4 .4h0m9.3-.3h0m1.7 .4h0m10.4-.2h0m3.8 .2h0m3.5 0h0m3-.7h0m3.2 .1h0m1.8 .1h0m2.7 .5h0m.1-.4h0m1.1 0h0m3.6-.2h0m-46.2 1.3h0m.8 0h0m4.1 .1h0m1.1-.6h0m.4 .8h0m.6-.7h0m.3 .3h0m.1 .2h0m1 0h0m2.4-.1h0m0 .3h0m15.5-.2h0m2.8-.3h0m1.1-.2h0m1.5-.2h0m3.7 .5h0m1.1-.4h0m.4 .7h0m.6-.7h0m1.3 .3h0m8.9 .2h0m7.5-.2h0m-90.5 .9h0m37.7 .2h0m4.2-.1h0m2.1 .1h0m.6 .1h0m21.1-.3h0m3-.2h0m3.1 .5h0m.9 .2h0m1.2-.5h0m2.5 .4h0m.1 .1h0m-73.2 1.2h0m6.3-.5h0m25.4 .2h0m8.4-.2h0m.1 .2h0m1.3-.1h0m16.3 .2h0m2.5 .1h0m.9 0h0m2.7-.2h0m.2-.6h0m3.9 .1h0m-70.4 1h0m21.4 .2h0m8.9 .6h0m11.3-.2h0m19.9 .2h0m1.1-.6h0m2.9 .1h0m.1-.2h0m1.5 .6h0m-126.6 .7h0m15.1-.4h0m67.7 0h0m8.5 0h0m3.6 .1h0m4.1 0h0m.3-.2h0m26.3 .7h0m1.1-.6h0m-87.5 1.2h0m48.2 0h0m6 .1h0m1.7-.2h0m.3 .2h0m5 .2h0m22.7-.6h0m.3 .2h0m2.8 .1h0m2.1 .3h0m.5-.4h0m2.4 .4h0m-71.7 .5h0m14.4 .7h0m15.4-.4h0m3.6 0h0m28.8-.3h0m.3 .5h0m.2-.3h0m3.5-.1h0m2.6-.1h0m.1 .4h0m.6-.1h0m2.8 .3h0m-39.6 .7h0m2.5-.3h0m26.9 .3h0m4.8 .2h0m3.9-.2h0m1.7-.4h0m5.5 .6h0m3-.6h0m-50.3 1.1h0m1.4 .3h0m.8-.5h0m22.7 0h0m5.9 .7h0m2-.3h0m.4 .4h0m1.1-.2h0m14.5 .1h0m-96.7 .9h0m11.9-.5h0m15.9 .8h0m15.7-.4h0m.2 .1h0m3-.4h0m.5 .6h0m1.5 .1h0m24.2-.2h0m.2 .1h0m1-.3h0m2.1 0h0m.7 .1h0m3.8-.3h0m1.5 .3h0m5 0h0m-45.7 1h0m4.9 .2h0m25-.2h0m.3 .2h0m.5-.6h0m3.5 .8h0m1.5-.3h0m1.4-.5h0m.6 .6h0m4.8-.5h0m2.1-.2h0m1.9 .4h0m1.9 .1h0m-49.8 1.4h0m.3-.8h0m1 .5h0m2 0h0m.4-.2h0m0 .2h0m.9-.4h0m.1 .6h0m2.8-.1h0m22.5-.7h0m2 0h0m7.6 .9h0m1.1-.9h0m.1 .5h0m4.7-.1h0m26.7 .3h0m-153.8 .8h0m15 .3h0m4-.1h0m51.2 0h0m1.4-.6h0m8.2 .6h0m6.5 0h0m.9-.5h0m27 .3h0m1.7 .4h0m.2-.3h0m1.9-.2h0m1 .3h0m1.3-.1h0m.4-.1h0m3.1-.2h0m-71.4 1.2h0m27.4 .2h0m2-.3h0m.3-.4h0m.8 .4h0m3.3 0h0m.1 .5h0m25.9-.5h0m.4 .5h0m2.8-.5h0m.3-.4h0m5.2 .8h0m-67.2 .3h0m2.5 .1h0m12.9 .2h0m13.2-.4h0m2.7 .1h0m26.8 .1h0m6.5 .4h0m2.5-.3h0m11.4-.4h0m-92.2 1.7h0m15.4-.2h0m24.1-.4h0m3.1 .7h0m.4-.2h0m.5-.5h0m29.2 0h0m.1-.1h0m2.2 .5h0m.4-.4h0m4.8-.1h0m2.7 .4h0m3.7-.1h0m-50.9 .8h0m1.4 .8h0m3.6-.9h0m1.4 .5h0m30 .2h0m.4-.5h0m3.5 .2h0m7.2-.2h0m-71.3 1.2h0m18.8 .3h0m1.1-.5h0m3.9-.1h0m.2 .2h0m1.6-.2h0m1.6 .8h0m3.1-.9h0m28.3 .7h0m.7-.2h0m1.6 .2h0m1.7-.4h0m1.1 .1h0m4.1-.3h0m-60.6 .9h0m6.6 .3h0m.7 .4h0m6.4 .3h0m6.5-.5h0m.9 .3h0m26.9 .1h0m4.4-.2h0m.5 .1h0m2.6-.4h0m1.1 .1h0m7.1-.3h0m4.5 .5h0m-74.8 1.2h0m3.7-.1h0m4.1 .1h0m7-.2h0m4.6 .2h0m2.6-.8h0m1.9 .6h0m.7-.5h0m.6-.1h0m29.8 .5h0m.7 .2h0m.7-.4h0m.6 .2h0m.1-.4h0m3.5 .2h0m4.9-.2h0m1.2 .3h0m-67.8 .9h0m12 0h0m1.2-.3h0m5.3 .7h0m4.7 .2h0m36-.1h0m1.7-.3h0m.8-.6h0m10 .2h0m4.1 .4h0m1 .3h0m-118.5 .5h0m56.3 0h0m2.5 .4h0m4.2-.7h0m.6 .3h0m31.8 .1h0m4.1 .1h0m3.6-.1h0m-62.8 1h0m16.6 .2h0m3 .3h0m.4-.4h0m2 .3h0m33.8-.7h0m5.7-.2h0m.3 1h0m3.8-.2h0m-93.4 .4h0m20.9 0h0m14.7 .3h0m3.6 .2h0m0-.5h0m1.1 .2h0m3.7 0h0m.8 .2h0m2.9 .3h0m1.1-.7h0m34.9-.1h0m3.8 .3h0m1.4 0h0m2.2 .5h0m12.8-.6h0m-90.4 1.6h0m9.5 .1h0m11.2-.9h0m2.4 .7h0m9.2 0h0m1.1 .1h0m.4-.3h0m3.9 .3h0m31.1-.1h0m.1-.7h0m9.7 .8h0m10.7-.8h0m3.3 0h0m-117.6 1.3h0m31.4-.3h0m2.7 .5h0m16.3-.1h0m7.8-.4h0m.3 .5h0m31.4-.6h0m1.2 .6h0m.4-.2h0m2 .1h0m1.2-.3h0m.8 0h0m.5 .6h0m.3-.8h0m1.4 .3h0m2.2 .1h0m-48.9 1.3h0m4.7-.3h0m1 .6h0m35.1-.9h0m1.4 .1h0m4.3 .1h0m.2 0h0m.3 .4h0m1.2-.5h0m1.5 .5h0m-50.9 1.1h0m2.4-.1h0m39.5-.7h0m7.4 .2h0m.4 .3h0m4.7 .1h0m-93.4 .6h0m25 0h0m5.8 .6h0m7.2 .1h0m4.3-.7h0m37 .3h0m1.9-.3h0m.1 .8h0m.3-.4h0m-60 1.3h0m1.1-.1h0m7.6-.2h0m6 .2h0m3-.1h0m1.4-.4h0m.8 .1h0m32.6 0h0m.2-.1h0m3.3 .7h0m2.6-.7h0m1.4-.1h0m1.1-.2h0m1 1h0m7.4-.4h0m.5-.3h0m6.1 .4h0m-88.9 1.3h0m5.3-.7h0m16.3 0h0m8.1 .2h0m39.2-.4h0m.5 .8h0m1.9-.2h0m.6-.1h0m.8-.4h0m1.6-.1h0m.6 .3h0m3.9 .2h0m2.5-.1h0m21 .4h0m-81.9 .3h0m4.7 .3h0m1.4 .5h0m1.4-.7h0m3.6 .5h0m35-.5h0m1-.1h0m.3-.2h0m1 .3h0m1 .5h0m1.5-.5h0m.1 0h0m1.2 0h0m7.5 .1h0m-80.4 .9h0m19.9 .1h0m9.1 .3h0m.8-.2h0m.2 .2h0m37.2-.1h0m1.1-.1h0m.8 .4h0m1.7-.4h0m.4 .3h0m1.3-.7h0m.6 .5h0m1.3 .1h0m1.3-.1h0m.3 .3h0m1-.7h0m2.2 .3h0m28.4-.1h0m-134.1 1.3h0m26.4-.5h0m1.9-.1h0m25.9 .5h0m1.3 0h0m35.6-.5h0m3.6 .5h0m1.9-.3h0m1.5 .1h0m1.2 .1h0m2.5 0h0m.6 .2h0m2.1-.7h0m.7 .9h0m.6-.1h0m11.9-.8h0m-91.2 1.3h0m1.9 .2h0m11-.1h0m3.7-.4h0m2.6 .7h0m2.6 0h0m1.4-.4h0m2 .2h0m.3 .2h0m.8-.2h0m.3 .4h0m.2-.3h0m1.6 0h0m1-.4h0m36.5 .7h0m4.1-.8h0m.2 .7h0m1.2-.8h0m3.2 .6h0m.1 .4h0m1.3-.5h0m1.3 .3h0m2.8 .1h0m.5-.7h0m-137.9 1.4h0m32.1 .4h0m3.5-.5h0m19.6-.1h0m7.1 .2h0m6.2-.6h0m15.3 .4h0m39.9-.2h0m4.1 .6h0m1-.4h0m.6 .2h0m2.3-.1h0m1-.4h0m3.4 .5h0m3.9 .4h0m3.1-1h0m-110.7 1.9h0m35.1-.3h0m.2 .4h0m2.1-.1h0m1-.6h0m4.2-.2h0m2.6 .8h0m2.9-.4h0m1.9 .3h0m.9 .1h0m31-.9h0m.6 .4h0m4.7 .4h0m.7-.4h0m.8-.1h0m1.9-.1h0m1.7 .5h0m.5-.6h0m2.6 .8h0m0-.1h0m4.4-.1h0m2.9-.6h0m4.7 .3h0m1.6 .4h0m11.6-.5h0m-125.5 1.6h0m15.8-.9h0m.1 .9h0m18.8-.5h0m10.4 .5h0m3.2-.3h0m1.2 .4h0m6.2-.3h0m35.7-.4h0m1.1-.3h0m1.5 .1h0m3.4 .1h0m3.8 .5h0m.6-.5h0m.9 .7h0m3.2-.3h0m3.4-.4h0m6 .5h0m-83.5 .8h0m8.3-.2h0m3-.3h0m8.7 .8h0m.1-.3h0m.2 0h0m.6 .2h0m.7 0h0m37.7 0h0m.1-.3h0m.1 .1h0m1.4 .2h0m3.5 .2h0m2.2-.8h0m.2 .1h0m.5 .6h0m13.1 .2h0m2.6-.9h0m-118.7 1.3h0m3.2 .2h0m7.6-.4h0m13.1-.1h0m16.3 .8h0m1.9 0h0m1.2-.4h0m4.8-.2h0m.8 .3h0m3.8-.1h0m41 .2h0m.2 .1h0m6 0h0m3.4-.2h0m-105.1 .8h0m37.1 0h0m2.7-.1h0m2.7 .5h0m8.5 .1h0m.8-.8h0m1.6 .1h0m.2 .8h0m36.3-.3h0m5.9-.6h0m.1 .9h0m1.2-.7h0m2.9 .3h0m.8-.5h0m.2 .4h0m2.2 0h0m.7-.2h0m.2-.1h0m5.5 .1h0m.5 .4h0m.6-.1h0m.1-.1h0m5.8-.3h0m-71.7 1.7h0m8 0h0m.3-.7h0m36 .4h0m4.7 .2h0m3.8-.3h0m3 .1h0m.2-.6h0m6.3 0h0m.8 .7h0m0-.2h0m2.8 .3h0m-81 .6h0m1.7 .1h0m8.2-.1h0m.9 .3h0m.8-.4h0m1.2 .5h0m2.7-.8h0m.3 .2h0m.7 .5h0m3.6 .1h0m.1-.5h0m1.9 .1h0m.6 .2h0m39.5-.1h0m6.5 .4h0m0-.1h0m1.2 0h0m.2-.5h0m.6 .5h0m.7-.6h0m0 .1h0m1.9 .6h0m1.8-.7h0m6.9 .5h0m8.1 .1h0m-122.2 .8h0m27.9-.3h0m11.8 .5h0m6.5-.5h0m.2-.1h0m5.1 .7h0m.6 .1h0m2.5-.7h0m37.8-.2h0m1.3 0h0m1 .2h0m.1-.1h0m2.7 .7h0m.1-.2h0m.6-.5h0m6.8 0h0m.4 .8h0m.6-.5h0m2.8-.5h0m1.3 .5h0m2.9-.3h0m.3 .3h0m1.5 .1h0m15.5-.1h0m-133.9 1.4h0m7.5-.5h0m.9 .3h0m17.8 .3h0m17.6-.4h0m7.9-.5h0m.7 .7h0m.6-.2h0m2 0h0m40.3-.5h0m.2 .4h0m3 .1h0m3.2 .3h0m.1-.1h0m2.1 0h0m5.5 .1h0m6.8-.5h0m.7-.2h0m1.7 0h0m9.1 .1h0m-126.1 1.4h0m3.7 .2h0m.6 .1h0m1.2-.4h0m6.6-.3h0m5 .4h0m26.2-.6h0m3 .8h0m.5-.4h0m5.4-.4h0m42.7 .7h0m3.9-.2h0m.7-.5h0m3.4 .8h0m.9-.2h0m.8 .1h0m2.1-.6h0m8.2 .6h0m1.2-.6h0m-112.7 1h0m1.1 .3h0m2.8-.1h0m27.1-.4h0m8.1 .4h0m6.6 .3h0m2.5-.3h0m.5 .2h0m1.3 .3h0m36.1-.6h0m12.4 .2h0m.7 0h0m4.3-.5h0m2.6 .1h0m1 .2h0m.5 .3h0m.3-.5h0m10.4 .4h0m.8 .2h0m-172.3 1.1h0m6.5-.8h0m38.9 1h0m8.9-.2h0m.3-.7h0m8.3 0h0m5.4-.1h0m11.1 1h0m6.5-.8h0m.7 .8h0m5.9-.5h0m3.1 0h0m.5-.2h0m2.9 .2h0m2 .4h0m38.7-.9h0m.6 .9h0m1.1-.3h0m1.4 0h0m.2-.5h0m1 .4h0m.8 .3h0m3.6 .2h0m5.2-.6h0m4 .1h0m3.4 0h0m7.6-.2h0m-135.6 1.6h0m10.8-.2h0m1.1-.7h0m2.6 .8h0m16.1-.4h0m26.7 .4h0m2.8-.3h0m46.3-.2h0m1.6 .7h0m.8-.5h0m4 .4h0m.7-.1h0m.2-.2h0m3 .4h0m4.9-.4h0m1 .3h0m.5-.1h0m.7-.8h0m1.4 0h0m3.5 .6h0m2.7-.2h0m42.9 .1h0m-205.2 .9h0m1.2-.1h0m40 0h0m.2 .7h0m1.3 0h0m1.2-.6h0m4.7 .3h0m1 .1h0m.4-.7h0m1.4 .7h0m1.5-.5h0m5.1 .6h0m2.5 .1h0m.7-.1h0m.2-.4h0m.5-.3h0m7.7 .6h0m4.9 0h0m4.8 .1h0m13.8-.2h0m2-.4h0m.3-.1h0m35.6 .4h0m.6 0h0m1.5 .2h0m4.2-.2h0m6.3-.5h0m2.1 .8h0m3.5-.7h0m.1 .3h0m1.3 0h0m1.3 0h0m1 .2h0m2.4-.4h0m2-.2h0m.4 .3h0m2.4-.2h0m7.1-.1h0m-165.7 1.3h0m1.7-.3h0m3.2 .5h0m38.1-.4h0m10.4 .2h0m6.5 0h0m1.5-.2h0m10.2 .5h0m5.9-.1h0m.8-.2h0m8.6 .1h0m.3-.2h0m2.3 .2h0m2.2-.2h0m40.2 .5h0m11.3 0h0m3 .1h0m.7-.5h0m.7 .5h0m.1-.8h0m.9 .7h0m1.7 0h0m2.2-.2h0m.7 .2h0m6.2-.7h0m-161.4 1h0m.1 .4h0m46.8-.2h0m3.3 .1h0m1.2 .3h0m8.8 .2h0m12.1-.6h0m9.1 .1h0m7.5 .4h0m4.2-.4h0m.2-.2h0m38.8 .1h0m.9 .1h0m.7 0h0m1 .4h0m4-.3h0m7.6 0h0m2.9-.3h0m4.7 .2h0m9.2-.3h0m-118.7 1.1h0m1 .1h0m.4 .4h0m.2-.6h0m.7 .7h0m10.6-.4h0m1.5 .3h0m3.7-.4h0m.2 .1h0m4.5-.3h0m10.8 .9h0m10.1-1h0m3.9 .2h0m39.9 .5h0m3.1-.3h0m5 .1h0m.1-.1h0m.8 .3h0m.8 .3h0m.3-.1h0m.5-.3h0m3.1 .3h0m3.1-.1h0m.5 .1h0m2-.4h0m2.1 .2h0m9.4 0h0m6.1 0h0m-170.4 1.1h0m1.2-.5h0m37.8 0h0m6 .7h0m.3-.4h0m.7-.3h0m4.9 .4h0m5-.3h0m3.9 .2h0m1.3 .2h0m4.6-.4h0m12.3-.1h0m5 .1h0m.6-.2h0m3.5 .7h0m1.1-.9h0m1.3 .4h0m1.2 .3h0m.4 0h0m42.3-.1h0m1.3-.6h0m3.6 .6h0m.8-.4h0m2.6 .8h0m.6-.3h0m1.5 .1h0m.9-.4h0m0 .1h0m2.9-.1h0m.7-.2h0m2.3-.1h0m4.6 .7h0m.5-.6h0m3.4 .6h0m11-.4h0m-170.5 1.1h0m.2-.3h0m44.9-.1h0m1.9 .7h0m.6 0h0m3.8-.6h0m1.2 .5h0m1.9-.5h0m2.1 .7h0m.8-.1h0m2-.7h0m.5 .7h0m.9 .1h0m.2-.4h0m.9-.1h0m2.9-.3h0m2.3 0h0m.9 .2h0m14 .6h0m1.7 0h0m2.2-.2h0m4.1 .1h0m.2-.6h0m39.7 .6h0m5-.3h0m3.8-.1h0m2.3-.3h0m3.4 .3h0m4.3 .1h0m5.6 .4h0m8.1-.3h0m3.2-.2h0m-121.6 1.6h0m.7-1h0m2.1 .8h0m0-.8h0m3.2 .5h0m2.4 .5h0m1.9-.2h0m3.4-.3h0m1.9 .5h0m.7-.7h0m2.5 .6h0m1.6-.5h0m2.5 .5h0m19.5-.1h0m1.7-.3h0m3 .3h0m39.9-.7h0m5.8 .6h0m.5-.7h0m.9 .7h0m1.2 .2h0m1-.9h0m.7 .5h0m.9-.3h0m1.1-.1h0m.2 .7h0m7.1 .1h0m2.8 0h0m1-.3h0m.7-.6h0m3.2 .9h0m-157.8 .5h0m2.6-.2h0m.6-.2h0m40.5 0h0m7 .9h0m2.9-.9h0m1.4 .7h0m11.3-.1h0m7.4-.4h0m11 .6h0m.2-.6h0m.9 .7h0m2.7 0h0m.2-.2h0m2.1-.4h0m42 .3h0m6.4 .2h0m.6 0h0m2.3 .1h0m1.1 .1h0m3.3-.4h0m2.1-.3h0m2.5 0h0m1.4 .3h0m2.2-.1h0m10.4 .2h0m-165.4 .9h0m2.1-.5h0m.6 .6h0m.3-.4h0m4.8 .4h0m23.7 .1h0m6.8-.2h0m2.6 .3h0m2.2-.9h0m1.2 .5h0m4.6-.3h0m2.3 .3h0m.1 0h0m2.6 .1h0m.2 .1h0m4.1-.1h0m1.9-.3h0m1.7 .4h0m1-.2h0m15.4 .1h0m4.9 0h0m1-.6h0m1.8 0h0m.6 .2h0m.9 .5h0m.7-.1h0m37.2 .2h0m8.4-.4h0m5.5-.2h0m7.6 .3h0m.4-.2h0m.3 .1h0m2.5 .3h0m4.4 .1h0m-152 1.1h0m1-.3h0m1.7 .1h0m.1 0h0m1.1-.4h0m2 .2h0m31 .3h0m1.6-.6h0m.6 .6h0m2.5-.7h0m1.4 .2h0m.2 .6h0m1.9-.4h0m.5-.1h0m.8 .3h0m1.5 .1h0m3.7-.2h0m1-.4h0m1.1 .8h0m3 0h0m2.5-.4h0m.1 .1h0m1.7-.2h0m1.8-.2h0m5-.1h0m7.7 .5h0m3.9-.2h0m1.9 .2h0m3.5-.4h0m37.5-.3h0m6.4 .8h0m.6-.5h0m3.2 .4h0m1-.2h0m1-.5h0m5.7 .3h0m.2 0h0m.2 0h0m1.2 .6h0m7.7-.1h0m2.1-.3h0m-152.7 1.3h0m2.1 0h0m28-.3h0m.1 .1h0m3.9 .2h0m2.7-.6h0m.3 .8h0m2.7-.1h0m6.4-.6h0m1-.1h0m2 .4h0m.1 .4h0m1.5-.9h0m.7 .5h0m.2-.5h0m.7 0h0m1.2 .5h0m.3 .2h0m7.4-.2h0m5.5 .4h0m.9-.1h0m12.4-.4h0m1.5 .2h0m2.4 .3h0m0-.2h0m.6 0h0m38.4 .1h0m.8-.1h0m.4-.7h0m.3 0h0m2.2-.1h0m6 .8h0m.6-.6h0m1.2 .5h0m4.8-.4h0m2.4 .2h0m7.9-.3h0m1.4 0h0m5.3 .6h0m-157.5 .8h0m.5 .2h0m2.4-.6h0m.5 .5h0m31.8 .1h0m1.6-.6h0m4.2 .5h0m4.7-.4h0m4 .1h0m.2-.3h0m1.8 .5h0m.5-.2h0m1.9 .3h0m.3-.2h0m1.8-.2h0m2.8-.3h0m.2 .4h0m4.3 .4h0m.4-.1h0m1.3-.3h0m3.5-.3h0m7.9 .5h0m2.1 0h0m1.5-.4h0m2.7 .1h0m2.2 .5h0m38.4 .1h0m.1-.6h0m1.8-.1h0m.9-.1h0m1.1 .8h0m2.9 .1h0m2-.8h0m2.5 .4h0m.5-.3h0m2.2-.1h0m4.3 .1h0m2.1 .3h0m.6-.6h0m.6 .9h0m11-.5h0m3.3 .4h0m1.1-.3h0m2.6-.5h0m-162.9 1.6h0m1.7-.1h0m2.8 .4h0m.1-.8h0m.4 .5h0m2 0h0m.2-.1h0m34-.4h0m.6 .2h0m.3 .6h0m1.1-.3h0m3.4-.2h0m.1 .4h0m4.7 0h0m.2-.7h0m2.2 .1h0m.1 .1h0m5.6 .3h0m7.5-.3h0m7.4-.1h0m4.8 .2h0m43.9 0h0m1.9 .3h0m3.3-.4h0m2 .4h0m1-.5h0m0 0h0m.8 .7h0m1.4-.9h0m.6 .3h0m.7-.2h0m1 .4h0m1.8 .2h0m.2 0h0m3-.6h0m1.7-.1h0m.4 .2h0m3.2 .3h0m6.6-.4h0m1.3 .6h0m-152.9 .4h0m24.7 .4h0m4.5-.1h0m8.6-.1h0m3.8 .6h0m.2-.2h0m2.1 .1h0m.9-.3h0m.8 .1h0m.9 .1h0m1.5-.6h0m.4 .8h0m.2-.1h0m2-.2h0m.1 0h0m2.5 .1h0m.7-.1h0m1.6-.2h0m4 .3h0m2.1 .1h0m.2-.2h0m.2-.6h0m1.8 .5h0m10.7-.3h0m1.6 .2h0m43.8-.2h0m1 .3h0m.5 .3h0m.9-.1h0m2.1-.7h0m.2 .9h0m.1-.3h0m.6-.4h0m1.3 .4h0m2.4 0h0m6.2 .2h0m.8-.3h0m7.3-.2h0m1.4 .4h0m6.6 0h0m13.6 0h0m-165.6 .9h0m1.1-.4h0m.2 .2h0m.5 0h0m3.6-.3h0m20.6 .7h0m1.7 .1h0m2.2-.7h0m.6-.2h0m2.3 .5h0m.9-.1h0m.5 0h0m3 .4h0m.4-.6h0m1.3 .6h0m2.5-.6h0m.5 .2h0m.9-.2h0m2.4 0h0m.4 .7h0m1.9-.1h0m1.1-.7h0m2.4 .7h0m3.6-.4h0m1.8-.4h0m3.2 .2h0m.6 .6h0m1.2-.3h0m3-.5h0m1.9 .1h0m3.6 .7h0m4.6-.3h0m.8 .1h0m.1-.2h0m2.4 .4h0m41.7 .1h0m.8-.5h0m1.5 0h0m.9-.4h0m1.2 .2h0m.4 .3h0m6.7 .3h0m.5-.7h0m.5 .6h0m1.8 .2h0m.2-.4h0m1.6-.1h0m.6 0h0m2.9 0h0m2.9-.3h0m3.8 .7h0m.2 .2h0m-146 .8h0m.7 .1h0m3-.8h0m20.3 .1h0m4.2 .1h0m.9 .7h0m10.7-.9h0m4.2 .4h0m.4 .2h0m1.9 .1h0m2.7-.8h0m2.4 .2h0m1.5 .3h0m2.5 .1h0m4.1 .2h0m1-.7h0m5.7 .5h0m1.5-.5h0m8.2 .4h0m.1-.3h0m.8 .1h0m2.4 .3h0m1.1 .1h0m.3-.4h0m.9 .3h0m37.2-.5h0m.4 .7h0m1.3-.3h0m.4 0h0m.8 .1h0m.8 0h0m1.5-.1h0m.2 .5h0m1.8-.2h0m.1 0h0m1.4 .2h0m2.2-.1h0m.6-.3h0m.2-.1h0m.9 .3h0m4.3-.2h0m7.7-.2h0m5.3 .3h0m9.6 .1h0m8.8-.5h0m-166.6 1.1h0m.2-.3h0m12 .6h0m11.1-.6h0m3 .2h0m6.6-.2h0m9 .8h0m6.2-.4h0m.2-.5h0m.7 0h0m1.6 .6h0m2.8-.3h0m2.6 .6h0m.4-.1h0m.5-.6h0m2 .3h0m.4 .2h0m1.6 .2h0m2.9-.6h0m8.8-.1h0m2.5 .4h0m.6-.3h0m1.1-.1h0m36.8 .1h0m3.3-.1h0m.6 .1h0m.4 .4h0m1.3-.1h0m3.8-.4h0m.9 .1h0m3 .2h0m2.7 .5h0m1.3-.1h0m.8-.6h0m1 .4h0m1.9-.5h0m.7-.1h0m1.8 .4h0m2.2 .3h0m6-.5h0m3.4 .1h0m2.9-.4h0m1.9 .8h0m-151.2 .9h0m1.1 .2h0m1.8-.7h0m2.8 .2h0m15 0h0m2.5-.1h0m2.3-.1h0m1.5 .6h0m.1-.4h0m2 .2h0m3.7 .1h0m.9-.3h0m.8 0h0m.8-.2h0m2.2 .6h0m.3-.7h0m1.2 .4h0m.7 .1h0m2.8-.5h0m.2 .6h0m1.6 0h0m.1 0h0m0-.7h0m3.4 .5h0m3-.2h0m4.5-.2h0m.9 .3h0m1.6-.3h0m4 .9h0m1.7 0h0m5.5-.7h0m42.8-.2h0m.6 .5h0m4.8 .1h0m1.4 .1h0m.8-.4h0m2.5 0h0m3.9 .2h0m.3 .2h0m.1-.8h0m.5 .4h0m-129.5 1.3h0m.5 .1h0m.4-.1h0m1.1-.6h0m.5 .3h0m2.4-.4h0m2.1 .1h0m12.5 .6h0m12.6-.7h0m2.4 .4h0m2.4 0h0m2.5 .1h0m1.8-.4h0m1.8 .2h0m.2 .7h0m.8-.6h0m1.5 .5h0m3.4-.5h0m4 .4h0m.9-.4h0m.6-.1h0m.7 .5h0m3.2-.6h0m1.1 .4h0m2.4 0h0m1-.1h0m.5 0h0m1.1-.2h0m2.9-.1h0m5.3 .6h0m42.6-.2h0m.9 0h0m.8-.1h0m2.1 .1h0m1.2-.4h0m.9 .5h0m.7-.3h0m2.3 .1h0m1.4-.4h0m.7 .5h0m3.1-.3h0m2.2 .1h0m.4 .4h0m.3-.3h0m.3 .4h0m3.2-.5h0m6 .3h0m.5 .1h0m4-.6h0m1 .3h0m-147.4 1.1h0m2.7-.2h0m.2-.3h0m2.2 0h0m1.1 .2h0m16.1 .4h0m.8 .2h0m2.2-.1h0m1.7-.2h0m3.5-.6h0m5.8 .2h0m.2 .4h0m1.8 .2h0m.7 .2h0m.8-.4h0m.5 .1h0m.9 0h0m3.4-.1h0m5.6-.6h0m3 .7h0m1.6 .2h0m.7-.8h0m2.3 0h0m1 .6h0m.6-.4h0m2.6 .2h0m.1-.2h0m.9-.3h0m4.6 .1h0m.3 .9h0m4-.5h0m1.2-.1h0m2.5-.1h0m42.2-.1h0m.4 .5h0m.1-.3h0m2.4 .2h0m.6-.3h0m2 .3h0m1.3-.5h0m.3 .8h0m.1-.7h0m2.6 .4h0m.5 .2h0m1.2 0h0m1.2-.2h0m1.3-.1h0m1.5-.2h0m5.1 .2h0m6.6 .1h0m-145 1.4h0m5.4-.4h0m1.1-.2h0m4.1 .4h0m14.6-.8h0m.5 .1h0m1 .2h0m3.5 0h0m4.9 .3h0m.1-.5h0m1.2 .9h0m2.9-.8h0m2.2-.2h0m3.1 .4h0m0 .1h0m1.6 .1h0m.9-.4h0m.9 .2h0m.2-.3h0m1.4 .3h0m1.6 .3h0m.9-.5h0m.5-.1h0m1.9 .6h0m.3 .1h0m.4-.3h0m1.8 .2h0m3.7-.2h0m1.9-.2h0m1.4 .4h0m1.5 .3h0m.4-.4h0m4.8-.2h0m.4 .4h0m43-.2h0m1 .1h0m1.7 0h0m1 .1h0m1.5-.5h0m1.9 .3h0m2.2-.2h0m1.3-.3h0m.7 .5h0m2.6-.5h0m3.5 .4h0m3.5-.3h0m.1 .6h0m8.6-.7h0m1.3 .8h0m3.5-.7h0m-149 1.4h0m.3 .2h0m2.4-.2h0m.1 .2h0m.6-.1h0m2.5-.5h0m17.8 .6h0m.8-.7h0m0 .8h0m.2-.6h0m6.1-.1h0m2.3 .4h0m1.6-.5h0m2.7 .1h0m1-.2h0m1.8 1h0m.1-.5h0m1.4-.3h0m.4 .5h0m1.8 .3h0m3.8-.1h0m.1-.8h0m1.3 .6h0m.9 .3h0m.6-.4h0m1.3-.3h0m3.4 .1h0m1.6 .4h0m.1 0h0m0-.2h0m.8-.2h0m.8 .5h0m1.1-.1h0m9.5 .1h0m2.2-.4h0m39.1 .4h0m3.4 .1h0m1.5-.8h0m.4 .6h0m7.5-.3h0m.8-.4h0m2 .1h0m.6 .7h0m1.5-.9h0m3.9 .1h0m.3 .2h0m.1 .3h0m8.9 .1h0m.8-.4h0m8.6 .5h0m-143.2 .5h0m10.7 .2h0m.8 .3h0m2.1-.3h0m1.5-.2h0m7.6-.3h0m0 .5h0m.7-.5h0m4.2 .8h0m.7 .2h0m1.9-.8h0m1.6 .6h0m1.8-.5h0m.2 .1h0m2.9 0h0m.2-.3h0m1.3 .5h0m3.9-.1h0m.8 .3h0m1.8-.2h0m.2 .1h0m8.9 .3h0m.5-.6h0m2.2 0h0m.8-.4h0m3.9 .3h0m.1 .2h0m3.2 0h0m38.4 .4h0m4.4-.3h0m1.6-.2h0m2.9 .1h0m.6 .3h0m.3-.8h0m1.2 .4h0m.3 0h0m1 .3h0m1.4-.1h0m5.3-.4h0m3.8 .5h0m1 .2h0m.7-.7h0m6.2-.2h0m-135.5 1.3h0m.9 .5h0m.3-.3h0m7 .4h0m.8-.1h0m8-.1h0m2.5 0h0m1.1-.7h0m4.7 1h0m.6-.9h0m2 .4h0m.5-.4h0m.9 0h0m.1 .4h0m1.6 .1h0m.2-.1h0m1.7-.4h0m.8 .8h0m3.1-.7h0m.6 .7h0m1.6-.2h0m1.8-.7h0m4.3 .6h0m.8-.5h0m3.2 .1h0m3.2 .2h0m.3 .3h0m1.5-.5h0m2.6 .1h0m.9 .7h0m46.4-.8h0m1.5-.2h0m1 .4h0m2.3 .2h0m1.9-.3h0m.3 .3h0m0-.4h0m.6 .7h0m5.2-.8h0m1.3 .5h0m.9 .2h0m.1-.3h0m1.7 .2h0m3.1-.4h0m7 .1h0m2.8-.3h0m5.7 .2h0m4.9 0h0m-149.9 1.2h0m.4-.4h0m4.3 0h0m2.5 .5h0m15.1-.2h0m1.4 .5h0m1.4-.3h0m1.8-.3h0m2-.2h0m3.2 .8h0m.1-.8h0m.3 .8h0m2.9-.3h0m10.6-.5h0m10.6 .5h0m4.2 .1h0m1.3 .1h0m2.4-.1h0m45.2-.4h0m.6 .6h0m2.1-.2h0m.2-.1h0m3.6 .3h0m1.6-.6h0m.5-.1h0m.3-.2h0m1 .3h0m1.5-.3h0m2 .4h0m.9-.2h0m.2 .4h0m1.3 0h0m0 0h0m2.2-.4h0m3.8-.2h0m3.2 .8h0m1.8-.4h0m-132.3 1.2h0m1.5 0h0m.2 .3h0m1.7-.7h0m.6 0h0m.1-.1h0m17.3 .3h0m1.3 0h0m.4 .6h0m2.9-.2h0m1.9-.4h0m1.2-.3h0m.5 .7h0m1.5-.5h0m.6-.3h0m.8 .5h0m0-.3h0m1.6 0h0m.3-.1h0m1 0h0m1.7 .2h0m.7-.2h0m67.3-.1h0m1.3 0h0m.1 .8h0m1.2-.1h0m4.1 .2h0m2.9-.8h0m.3-.1h0m1.5 .9h0m.7-.2h0m1.5 .3h0m5.4-.4h0m.5 0h0m.2-.6h0m1.3 .6h0m3.8 .2h0m2.1-.3h0m8.1 .3h0m-144.2 .5h0m3.6-.2h0m.9 .7h0m16-.4h0m4.7 .2h0m1.1-.5h0m1.7 .7h0m2-.6h0m1.4 .4h0m1 .2h0m5.2-.2h0m3.3-.5h0m1.6 .3h0m3.4 0h0m.5 .4h0m.4-.5h0m2.1-.3h0m.9 .1h0m2.2-.1h0m4.2 .4h0m6.8-.1h0m46.6 .2h0m.1-.2h0m3.5 .6h0m5.2 0h0m3.7-.4h0m3.6-.1h0m1.1-.2h0m2.7 .5h0m2.1-.2h0m3.6-.1h0m1.9 .2h0m-129.7 1.3h0m2.9-.6h0m4.9 .3h0m.3 0h0m1.6-.4h0m1.5 .7h0m1.7-.7h0m2.2 .4h0m3 .1h0m1.2-.2h0m.6 .5h0m.9-.3h0m0-.3h0m1.7 .6h0m1.2-.5h0m.6 .3h0m4.7-.3h0m1.5 0h0m5.2 .1h0m3.8-.2h0m1.7 .3h0m1.1-.4h0m4.5 .6h0m0-.1h0m2.2-.2h0m.7 0h0m1.2 0h0m4.1-.3h0m.8 .1h0m.3-.3h0m43.4 .4h0m2.1-.1h0m.2-.1h0m.7-.1h0m.3 .6h0m1.6-.2h0m4.8-.2h0m6.5 .2h0m.9 .3h0m9.6-.2h0m17.6-.2h0m-146.8 .6h0m2 .5h0m2.4-.2h0m2.6-.3h0m3.2 .3h0m.5 .6h0m1.6-1h0m4.6 .8h0m1.3-.1h0m.4 .1h0m2.1-.8h0m.3 .3h0m3.2-.2h0m1 .9h0m.7-.4h0m.6-.3h0m2.1 .5h0m.9-.5h0m.6-.3h0m.9 .4h0m1.7-.4h0m2.6 .9h0m2.1-.2h0m1.5 .1h0m3.5 .2h0m2.7-.9h0m1.3 .1h0m.6-.2h0m1.1 .4h0m.5-.4h0m.6 .2h0m1 .7h0m1.2-.5h0m2.3 .1h0m.5 .2h0m.3 .2h0m2.1-.7h0m43.7 0h0m1.1 .5h0m.4-.3h0m1.4 .2h0m1.6 .2h0m2 0h0m2-.5h0m.5 0h0m4.9 .1h0m3.1-.1h0m.3-.3h0m2.2 .6h0m.3 .2h0m1.7-.3h0m1.4 .3h0m1.1-.4h0m0 .4h0m8.9-.6h0m2.5 0h0m7 .4h0m-142.8 .7h0m.1-.1h0m1.9 .6h0m.2-.8h0m0 .6h0m1-.2h0m5.4 .2h0m1.2-.1h0m2-.4h0m2.1 .3h0m.9-.1h0m.7-.3h0m2 0h0m4.6 0h0m.4 .1h0m4.3 .4h0m1 .5h0m2.3-.4h0m1.2-.1h0m1.8-.2h0m4.6-.1h0m.4 .4h0m5.2 .3h0m.2-.5h0m.7-.2h0m2.4-.2h0m.7 .5h0m4.6-.1h0m1.1-.1h0m1.5 .4h0m1.9-.2h0m42.9-.4h0m.7 .5h0m3.9 .3h0m1.5-.2h0m0-.4h0m1.4 .3h0m.5 .1h0m2.3-.6h0m1.7 .4h0m.4 .3h0m2.1 .1h0m1.3 .1h0m3.9 0h0m4.7 0h0m5.2-.3h0m.1-.6h0m1.7 .4h0m-131.4 1.3h0m1.1 0h0m.9-.5h0m0 .6h0m6.2 0h0m1.8-.7h0m2.8 .2h0m.1 .6h0m.2-.1h0m1.7-.8h0m.2 .8h0m2-.2h0m3.7-.3h0m.5-.1h0m.8 0h0m4.3 .3h0m.4 0h0m.4 .3h0m3.5 .1h0m1.7-.6h0m1.2 .5h0m5.8-.3h0m4.5 .1h0m1.4-.7h0m2.1 1h0m.9-.3h0m5.5 0h0m1.5 .1h0m42.7-.1h0m2.7-.2h0m.8 .5h0m2.4-1h0m1.4 .7h0m6.4 .1h0m1.1-.5h0m1.6 .6h0m.3 0h0m.8-.7h0m.5 .2h0m.3 .1h0m0 .2h0m.8-.5h0m2.6 .4h0m1-.6h0m1.2 .6h0m.5 0h0m2.7-.5h0m1.5 .5h0m13.2-.1h0m-137.7 .7h0m1.8 .6h0m.3-.5h0m.3-.2h0m3 .4h0m1.1 0h0m8.7-.2h0m2.8 0h0m1.4 .1h0m1.3 .4h0m3.5-.2h0m1-.3h0m.5-.2h0m1.8 .3h0m.3-.2h0m1.6 .7h0m.2 0h0m.2 .1h0m1-.6h0m.9 .5h0m.6-.3h0m6.3-.2h0m5.5-.2h0m.3 .5h0m1.5-.2h0m3.3 0h0m2.1 .4h0m.6-.4h0m45.4-.4h0m.5 .8h0m.4-.6h0m3.7 .5h0m.6-.6h0m2.7-.1h0m.7-.1h0m1.2 .2h0m.2-.2h0m.8 .9h0m4.2-.1h0m9.2-.1h0m3.2 .2h0m3.4-.9h0m-127 1.8h0m1.2-.6h0m.6 0h0m5.7 .1h0m4.1 .6h0m5.2-.3h0m1.8-.4h0m1 .5h0m1.8 .1h0m4.2-.5h0m.1 0h0m2.7 .1h0m.6 .6h0m1.4-.5h0m4.4 .4h0m2.1-.3h0m1.4-.4h0m4.4 0h0m1.8-.1h0m.6 .7h0m2.9 .2h0m40.8-.9h0m7.4 .4h0m2.2-.2h0m2-.3h0m1.4 .7h0m1.1-.4h0m.4 .3h0m2-.2h0m1-.2h0m.6 .1h0m2.3 .4h0m.5 .1h0m4.7-.7h0m.6 .4h0m7-.4h0m19.5 .3h0m.4 0h0m-142.2 1.2h0m.9 .2h0m3.4 .1h0m3.4 0h0m.6 .1h0m.1-.8h0m1 .6h0m2.8 .2h0m.5-.1h0m2-.7h0m.3 .1h0m.7 .2h0m3.8 .2h0m4.9-.2h0m5.9 .1h0m1.4 .1h0m1-.2h0m3.5 .2h0m.1-.2h0m2.6 .2h0m3.9-.3h0m1.5 .5h0m.4-.4h0m41.9-.1h0m.7-.3h0m1.9 .7h0m.8 .1h0m.1-.6h0m5 .4h0m3.6-.2h0m2.1 .4h0m.3-.7h0m.7 .5h0m2.3-.2h0m12.1-.1h0m.4 .4h0m.9-.8h0m10.1 .4h0m9.3 .6h0m-135.6 .7h0m2.5-.3h0m2.2 .2h0m.7 .2h0m.9-.1h0m1.9 0h0m1.1 .3h0m1.8-.2h0m2.7 .1h0m4.5-.6h0m1.7 .1h0m.4-.3h0m.3 .9h0m1.2-.3h0m5 .1h0m.5-.7h0m2.4 .6h0m.6-.3h0m1.6 .5h0m.5-.6h0m1-.1h0m51.7 .3h0m1.2-.3h0m3.8-.2h0m2.8 .2h0m6.1 .2h0m2.4-.2h0m.5 .4h0m.4-.2h0m5.6-.4h0m1.7 .1h0m1.5 .3h0m6.4-.3h0m-115.9 1.5h0m.8 0h0m.4 0h0m2.3-.5h0m5.7 0h0m7.9 0h0m3.7 .1h0m8.9-.2h0m.1 1h0m4.6-.9h0m50.2 .8h0m4.3 .1h0m.5-.6h0m.6 .3h0m0-.5h0m1.1 .1h0m.9 .1h0m5.4 .3h0m4.1-.6h0m3.8 .7h0m1.4-.8h0m.5 .8h0m7.4 0h0m2-.6h0m1.1 .3h0m-121.9 .8h0m1.2 .4h0m0-.3h0m2 .5h0m1.8-.7h0m.9 .7h0m.8-.6h0m1.2 .1h0m2.2 .1h0m.8 0h0m.3-.4h0m6.8 .2h0m6.9-.2h0m10.1 0h0m12 0h0m1.3 .1h0m.5 .2h0m39.2-.3h0m0 .6h0m1.4-.6h0m.5 .5h0m2.4-.3h0m.4-.2h0m.2 .8h0m5-.9h0m.6 .7h0m.5 .2h0m1.4-.2h0m.3-.2h0m1.9 .3h0m.5-.7h0m3.3-.1h0m1 .9h0m2.6-.6h0m1.6 .6h0m-114.3 .6h0m3.7 .2h0m.3 .2h0m.3-.2h0m.8-.3h0m1.2 .1h0m1.5 .3h0m1.5-.2h0m1.7-.2h0m1.2 0h0m.1-.2h0m1.2-.1h0m.9 .8h0m.9-.2h0m2.3-.6h0m.7 .8h0m.3-.5h0m1.9 .2h0m2 .2h0m7.4-.4h0m1 .3h0m9.9 .2h0m0-.5h0m1.9 0h0m48 .3h0m5.5 0h0m1.1 0h0m.7-.4h0m.6-.1h0m.4 .6h0m.7-.3h0m1-.3h0m4.4 .5h0m.9-.4h0m2.6 0h0m4.2 .4h0m.3-.4h0m6 .5h0m4.3 .1h0m28.2-.5h0m-150.3 .9h0m2.1 .2h0m4.3-.3h0m.1 .2h0m4.4-.1h0m1.6-.3h0m4.5 .1h0m4.5 .8h0m3.1-.4h0m.5-.2h0m.6 .5h0m4.7-.7h0m.6 .7h0m52.3-.5h0m4.3 .5h0m1.7-.2h0m1.4 .4h0m.5-.6h0m.2 .2h0m1.8 0h0m3.7-.4h0m1.8 .2h0m1.5 .2h0m.4-.3h0m.7-.2h0m.5 .9h0m.9-.5h0m.7 0h0m.6-.4h0m1.9 .7h0m.6-.3h0m5.1 .1h0m2.6-.1h0m6.8-.1h0m3.1-.1h0m3.2 .5h0m-124.5 .6h0m.4 .3h0m.4 0h0m.5 .3h0m.4-.1h0m.8-.5h0m2.2-.3h0m0 .5h0m.5-.5h0m1.6 .1h0m1.4 .3h0m5.2-.3h0m1.3 .7h0m5.5-.8h0m.1-.1h0m6.8 .3h0m1 .2h0m.1 .2h0m.8-.2h0m2.2 0h0m3.7 .5h0m1-.1h0m45.5-.8h0m.5 .6h0m.7-.4h0m2.5-.2h0m.8 .6h0m1.6-.2h0m1.2 0h0m3.4 .2h0m4 .1h0m3.2-.5h0m0 .2h0m6.1-.3h0m8.2 .7h0m5.3-.9h0m2.7 .1h0m5.8 0h0m-125.1 .9h0m5.7 .7h0m1.6-.3h0m4.1-.2h0m.6 .2h0m5.3-.4h0m3.7 .8h0m3.3-.1h0m2.9-.4h0m47.8 .6h0m.2-.5h0m1.2 .3h0m3.9-.5h0m1.2-.1h0m3.7 .5h0m.6-.3h0m.4 .1h0m.6 .3h0m.7-.5h0m.1 .3h0m2.5 .1h0m.4-.5h0m6.3 .1h0m1-.2h0m.6 .5h0m4.7-.1h0m0 .2h0m3 .4h0m1.6-.6h0m-116.4 1.2h0m6.6-.3h0m.7-.2h0m.5 .3h0m1.3 0h0m1.5-.2h0m.6 .5h0m.8 .1h0m.6-.6h0m2 .2h0m.1-.1h0m7.4 .5h0m2.7-.7h0m.5 0h0m0 .2h0m1.3-.2h0m.8 .2h0m.8 .6h0m1.6-.4h0m56.4 .1h0m1.5-.1h0m.9 .4h0m2.3-.3h0m2.5 .3h0m2-.6h0m.2 .1h0m.8 .1h0m.7-.5h0m1.9 .5h0m.6 .4h0m2.4-.4h0m.1 .3h0m.3 .1h0m.6-.1h0m2.5-.3h0m.9 .2h0m1-.6h0m.6 0h0m.6 .1h0m.9-.1h0m.1 .7h0m.2 .1h0m.2-.8h0m2.8 .7h0m10.4-.8h0m-112.6 1.9h0m1.7-.4h0m2.5 .2h0m.1 .2h0m.4-.7h0m1-.1h0m.4 .1h0m3.3 .4h0m4.5 0h0m.3 .1h0m2.2-.1h0m.5-.5h0m1.3 .6h0m6.5-.4h0m43.6 .7h0m.9-.2h0m7.7-.3h0m3 .1h0m0-.2h0m.4 .3h0m1.5-.3h0m7.9 .3h0m1.3 .2h0m3.7-.3h0m1.3-.3h0m6.6 .2h0m8.9-.1h0m-115.4 .7h0m.3 .2h0m2.8-.2h0m.6 .2h0m.8 .5h0m.9 0h0m.2-.7h0m3.5-.1h0m1.2 .7h0m.5-.6h0m0 .5h0m1.7 0h0m3.9-.5h0m2.1 .2h0m2.6 .4h0m5.2 .1h0m1.9-.3h0m42.8-.3h0m7.5 .7h0m2.9-.7h0m1.1 .3h0m2.5 .3h0m1.7 0h0m.4-.3h0m.8 0h0m2.8 .1h0m1.1-.2h0m5.4 0h0m2.5 .1h0m11.5 .3h0m2.9 .1h0m-114.4 .3h0m2.2-.1h0m.2 .5h0m.2 .2h0m.6-.3h0m2.5-.2h0m.3 .2h0m.9-.1h0m.7 .5h0m4.4-.6h0m.7 0h0m.1-.1h0m1.9-.1h0m2.1 .5h0m2-.4h0m7.9 .6h0m.4-.5h0m.5 .6h0m.6 .1h0m43.8-.8h0m5.1-.2h0m2 .5h0m1.9 .2h0m.8-.1h0m1.5 .3h0m2.7-.3h0m1.1-.1h0m3.5 .5h0m.2-.2h0m.1-.1h0m.4-.3h0m1.5 .4h0m6.2-.2h0m0 .1h0m7.3 .2h0m-105.6 .2h0m1.7 0h0m3.9 .2h0m1.1 .4h0m2.5-.2h0m.2-.1h0m1.5 0h0m2.4 .4h0m.6-.5h0m2.6 .6h0m9 0h0m2.5-.8h0m1.3-.1h0m.7 .6h0m40.8-.3h0m4.1 0h0m1.2-.2h0m3.1 .2h0m2.1 .5h0m10.4 .1h0m6-.4h0m2.2-.5h0m4.3 .1h0m-104 1.8h0m.1-.1h0m1.8-.3h0m.1-.4h0m2.6 .8h0m1.3-.2h0m11.3-.5h0m9.1 .7h0m44.9-.3h0m5.8 0h0m.9 .2h0m2.3-.2h0m1.3-.1h0m3.1-.5h0m4.6 .8h0m1.5-.4h0m4.1-.1h0m1.2 .4h0m4.8-.5h0m6.9 .4h0m-106.9 .6h0m2.1 .6h0m.6-.2h0m1.5-.2h0m.5 .3h0m7.2 .1h0m4-.4h0m.2 .3h0m53.7-.5h0m.8-.1h0m4.7 .3h0m.3 .3h0m1.1 0h0m.4-.7h0m1.6 .7h0m3.4-.6h0m1.8 0h0m.1 .7h0m.6-.8h0m.7 .9h0m1.3-.7h0m1.1 .4h0m3.8-.2h0m7 .6h0m-99.5 .4h0m.9 .1h0m1.2 .3h0m1-.6h0m1.2-.1h0m.4 0h0m3 .7h0m3.2 0h0m1.7-.6h0m0 .3h0m3.3-.4h0m.2 .2h0m.2 .4h0m47.2 .1h0m1 .1h0m2.4-.6h0m.1 .4h0m1.4-.6h0m.3 .7h0m1.2-.5h0m.3-.2h0m2.9 0h0m8.2 .3h0m.1 .6h0m.5-1h0m2.9 .3h0m.5-.2h0m.1 .8h0m6.9-.5h0m1.8-.3h0m.8 .4h0m7.4-.3h0m10.3 .4h0m-112.5 .8h0m1.6 0h0m2.6-.2h0m3.2 .3h0m.6 .2h0m3.9-.7h0m2.9 .1h0m2.4 .2h0m49-.2h0m.7 .7h0m1.1-.5h0m1.2 0h0m3.3 .3h0m1.1-.5h0m4.7 .2h0m1.4 .6h0m2.5-.3h0m2.7 .1h0m.6-.2h0m4.2-.2h0m2.8-.2h0m4 .7h0m-94.4 .4h0m1.3 .2h0m2.6-.2h0m0 .7h0m56-.8h0m.7 .1h0m1.2 .7h0m4.4-.2h0m.1 .3h0m1.1-.9h0m1.6 .5h0m.3 .1h0m.5-.4h0m.1-.1h0m1.4 .2h0m1.7 .3h0m.4 0h0m.6 .1h0m2.8 .2h0m1-.4h0m.6 .1h0m8.3-.3h0m4-.1h0m2.7 .7h0m-74.3 .5h0m47.7-.3h0m.2 .1h0m1.2 .1h0m.7-.2h0m2 .6h0m.3 .1h0m.6-.7h0m9.4 .6h0m4.7 0h0m3.7-.3h0m1.5 .2h0m5.6-.1h0m.8-.4h0m.2 .8h0m1-.4h0m1.7 .3h0m.4-.5h0m-96.3 .9h0m.2 .4h0m8.6-.6h0m.9 .5h0m5.4 .2h0m39.8-.6h0m1.2 .8h0m7.5-.3h0m0-.6h0m.8 .8h0m1.3-.8h0m1.9 0h0m1.4 .3h0m2.6 .4h0m5 0h0m1.3-.4h0m31.4 .4h0m-112.6 1.1h0m64.7-.8h0m0 .5h0m3.8-.5h0m1.7 .8h0m3.6-.6h0m1.6-.1h0m1 .1h0m.2 .4h0m7-.5h0m2.8 .7h0m1.7-.4h0m3.9-.4h0m-92.5 1.1h0m1 .4h0m1.5 .3h0m4-.2h0m.9-.3h0m47.8 .2h0m.5-.3h0m8.8 .2h0m.5 0h0m1.7-.4h0m1.1 .4h0m.5 .2h0m1.6-.2h0m1.9 .4h0m1.2-.1h0m.2 0h0m2.6-.2h0m4.3-.6h0m5 .1h0m9.1 .2h0m.9 .5h0m10.1-.7h0m7.2 .6h0m-113.4 1h0m2.8-.5h0m4.1-.2h0m.1 .5h0m3.9-.3h0m4.8 .8h0m37.7-.8h0m2.4 0h0m.6 .3h0m7.1-.1h0m1.4 0h0m.7 .2h0m1.9-.3h0m.1 .7h0m1.3-.2h0m1.8 .2h0m1.4-.2h0m2.3 0h0m2.1-.1h0m1.2-.7h0m6.7 .4h0m2.3 .4h0m.5 .1h0m1.2-.2h0m.6-.4h0m4.2 .3h0m4.1-.3h0m5.3-.2h0m-104.2 1.6h0m2.3-.3h0m.2-.1h0m53.2 0h0m1.4-.1h0m.8 .4h0m2.7 .2h0m1.3 .2h0m.1-.7h0m2.3 .1h0m4.4-.1h0m5.7-.2h0m3.7 .7h0m.5-.3h0m.9-.5h0m1 .8h0m7.3-.6h0m-79.7 1.3h0m43.9-.2h0m1.9 .3h0m.5-.1h0m1.9-.4h0m5.2 .1h0m7.2 .1h0m1.6-.2h0m3.6 .1h0m2.1-.1h0m3.7 .6h0m-28.1 1h0m.6-.1h0m1-.2h0m.8 .5h0m1.7-.7h0m.1 0h0m.8 0h0m.6-.1h0m1.4 .4h0m.3 .1h0m.9-.3h0m.7 .5h0m.5-.7h0m.4 .1h0m2.1 .5h0m2.2-.3h0m4.1-.3h0m.8 .7h0m3.1 .1h0m2.7-.2h0m3.4-.5h0m5.9-.1h0m-35.2 1.7h0m1.8-.5h0m0-.1h0m3.6 .2h0m1.9-.2h0m3.6 .3h0m.7 0h0m.3 .4h0m1.6-.4h0m.6-.2h0m1.6 .6h0m2.6-.1h0m2.7-.6h0m1.1-.1h0m.8 .6h0m.9-.3h0m1.1 .6h0m1.1-.3h0m-28 .5h0m2.1 .5h0m.2-.4h0m2.8 .1h0m.2-.1h0m2.8 .5h0m1.4-.6h0m1.5 .2h0m1.2 .1h0m8.3-.4h0m2.7 .7h0m10.9-.3h0m18.9 0h0m-98.8 1.3h0m41.8 0h0m1.2-.2h0m2.9-.5h0m5.3 .3h0m.3 0h0m1.7 .4h0m4.3-.7h0m.6 .6h0m3.6 .2h0m9.1-.4h0m.1 .4h0m.1-.9h0m4.1 .7h0m8.2 0h0m-81.9 .9h0m.5 .3h0m38.9-.1h0m3.1-.3h0m.7-.4h0m3.8 .3h0m1.9-.1h0m9.1 .1h0m4.3-.1h0m6.4 .7h0m4.5-.7h0m2.9 .4h0m3.2-.3h0m1.6 .2h0m10.4-.3h0m-90.2 1h0m36.1-.2h0m.4 .6h0m.9 .1h0m.7-.8h0m.6 .5h0m1.2 .2h0m.5-.1h0m1.4-.6h0m1.2 .8h0m.8-.6h0m.7 .2h0m.6 .1h0m3.1 0h0m.7-.2h0m5.2 .6h0m2-.8h0m.6 .2h0m2.9 .2h0m1-.4h0m0 .7h0m2.4-.4h0m2.6-.3h0m20.7 .4h0m-88.7 1h0m1.6-.1h0m35 .2h0m1-.2h0m3.8 0h0m3-.2h0m.3-.1h0m3.4 .2h0m.8-.3h0m2.2 .7h0m.1-.4h0m2 .7h0m.3-.7h0m3.3 .1h0m1.5-.3h0m1 .1h0m3.4 .7h0m4.4-.4h0m1.7-.3h0m1.2-.2h0m-34.9 1h0m1.4 .9h0m0-.1h0m2.6 .1h0m.4-.5h0m8.3 .2h0m.4-.3h0m3 .6h0m.8-.7h0m.9-.1h0m2.5-.1h0m.1 .7h0m2.7 0h0m1.4 .2h0m1.8-.2h0m-22.6 .7h0m.9 .4h0m1.2-.6h0m1.3-.1h0m1.3 .7h0m.3-.4h0m.4 .6h0m.7-.4h0m.8-.1h0m1.5 0h0m.7 0h0m2.6-.3h0m5.1-.1h0m.6 .1h0m.7-.1h0m0 .4h0m.8 .1h0m.4-.2h0m8.1 0h0m2.7 .3h0m1 .1h0m-63.6 .9h0m.7-.4h0m25 .4h0m3.3 0h0m.2-.4h0m.1 .5h0m3.2 0h0m.3 0h0m5 .1h0m1.8-.7h0m6.1-.1h0m.2 .6h0m.2-.5h0m1.2 .7h0m2.1-.4h0m.5 .4h0m5.7-.7h0m4.8 .3h0m3.8 .2h0m28.7-.5h0m-68.2 1.7h0m14.3-.7h0m.4 .3h0m.8-.3h0m.7 .4h0m3.9-.2h0m1.1 .4h0m1.1-.7h0m3.4 0h0m2.2 .5h0m3.2 .3h0m.7-.1h0m.4-.2h0m.8-.2h0m1.6 .3h0m2.6-.6h0m3.7 .6h0m9.5-.3h0m-46.8 .6h0m1.9 .9h0m3.6 0h0m1.6-.8h0m2.7 .7h0m1.2-.3h0m5.9-.3h0m.8 .7h0m.9-.7h0m4.3 .4h0m.4-.4h0m2 .5h0m.5-.4h0m-57.2 .9h0m.6 .1h0m24.3 .7h0m1.8-.5h0m2.1-.3h0m.2 0h0m8.2 .3h0m2.2 0h0m.1 .4h0m8.2-.8h0m4.5 .6h0m7.5-.3h0m2.8 .3h0m11.4-.6h0m-88.5 1.6h0m14.1 0h0m24.4-.5h0m.2 .1h0m1.2 0h0m2.2 .5h0m16.8-.1h0m2.3-.5h0m2.9 .2h0m6.1 .5h0m4-.4h0m1.4 .1h0m3.8-.2h0m2.4 .4h0m24.5 .1h0m-68.5 .9h0m2.6-.6h0m.7-.1h0m13.1 .4h0m1.1 .1h0m1.8-.2h0m2.1 .5h0m2.7-.4h0m.8-.4h0m1.5 .4h0m4.2-.1h0m2.2 .5h0m21.5-.6h0m-57.3 .9h0m1.3 .1h0m.4-.2h0m8.3 .5h0m4.3-.2h0m.4-.3h0m3.9 .6h0m3-.6h0m1 .4h0m.1-.1h0m.9-.4h0m.2 .1h0m6.1 .2h0m2 .5h0m2.1-.2h0m0 .2h0m2.7-.4h0m2.5 .6h0m2.5-.5h0m-42.3 1.4h0m1.4-.9h0m1.3 .1h0m4.6 .5h0m3.5-.5h0m3.2 0h0m17 .8h0m1.1-.6h0m2.4 0h0m8.9 .6h0m1.4-.2h0m-46.2 .3h0m.6 .8h0m3.9-.1h0m26.4-.7h0m20.6 .6h0m.4 .2h0m3.1-.5h0m-54.9 1h0m1.6 .4h0m14.2-.5h0m11.3 0h0m6.2 .6h0m4.5-.2h0m5.6 .1h0m.4 .3h0m-21.9 .6h0m5.8-.4h0m-60.4 1.8h0m29.2-.8h0m3.9 0h0m8.7 .7h0m11.1-.8h0m5.4 .4h0m3.4 .3h0m-33.5 1.1h0m.8-.7h0m4.4 .2h0m20.9-.3h0m.3 .1h0m7.7 .3h0m1.8-.3h0m-38.1 1.7h0m.9-.3h0m15.2-.5h0m12.5 .1h0m1.1 .5h0m7.6-.4h0m.1 .1h0m5.6-.2h0m27 .3h0m-69.3 .6h0m4.7 .9h0m5.9-.6h0m16 .2h0m4.2-.5h0m1.6 .4h0m1-.4h0m10.7 .1h0m-71.1 1h0m23-.2h0m1.3 .5h0m2 .2h0m25.7 .2h0m5.7-.5h0m1.3-.2h0m6.6-.2h0m60.4 .2h0m-103.9 1h0m2.7 .5h0m4.3-.7h0m.4 1h0m11.2-.7h0m52.2-.1h0m-93 1.7h0m24.5-.8h0m.7 .2h0m9.4 .3h0m-13 1h0m1.5 .1h0m.4 .2h0m.5 .1h0m3.1-.4h0m26.5 .1h0m-31 1.1h0m6.3-.5h0m15.2 .4h0m11.8-.3h0m8.9 .2h0m-49 1.1h0m11.3 .2h0m9.3-.8h0m-20.9 1.8h0m7.7-.8h0m1.1 0h0m4.2 .7h0m20.2 0h0m43-.3h0m-77.3 .9h0m.4-.2h0m3.5 .8h0m1.9-.1h0m15.2-.3h0m10.1-.6h0m6.5 .4h0m11.7 .5h0m-51 .6h0m.3 .2h0m10.3-.1h0m6.8-.1h0m28.1-.2h0m4 .1h0m-51.1 .8h0m.2 .1h0m2.7 .7h0m5-.1h0m3.5-.6h0m.1-.1h0m6.7-.1h0m-19.3 1h0" stroke="#c00a4e" stroke-width="1.4" stroke-linecap="square" fill="none"/><path d="M1282.7 440.8l-2-1l-4 0l-6.4 4.4l-7.6 3.6l-11 8.4l-1 0l-5.4 3.6l-3 3.4l-1 0l-5.6 3.6l-4 4.4l-4 2.6l-3 3l-2 .4l-2 2.6l-6 3.4l-1.4 2l-5.6 3l-1.4 2l-2.6 1.6l-3 4l-2.4 .4l-1 1.6l-3 1.4l-2.6 3.6l-3 1l-4.4 4.4l-5.6 3l-7.4 7l-1 0l-5 4l-1.6 3.6l-2-.6l-5.4 4l-4.6 2l-4.4 5l-2.6 1l-3.4 4l-9.6 6.6l-4 4.4l.6 1.6l-2 2l-1-1l0 1.4l-2.6 2.6l-1.4-1l-4 2l-2.6-3.6l1.6-7.4l-1-4.6l-3-7l1.4-5l-1-2.4l-1 0l-1 2l1 6l-1.4 3.4l.4 8.6l-1 4l0 13.4l-.4 3.6l-2 4l0 4.4l1 1l4.4 .6l3.6-2l2.4-.6l19-14l3-1l0-1l4-4l1.6 0l1.4-2l1.6 0l7-6l1 0l5-3.4l1.4 0l1.6-2l1 0l2-2l1 0l2-2l6.4-4l2.6-3l1.4 0l2.6-1.6l4-4.4l1 0l5.4-4.6l5-3l4.6-5.4l1.4 0l4.6-4l6.4-3.6l6.6-6.4l2.4-.6l7-7.4l1.6-.6l6-5l1-3l1.4 .6l8-7l3.6-2l2-3l6-4.6l2-3.4l1 0l12.4-12l3-6zM1118.7 561.2l.6-1l1 .6l-1 1z" fill="#d31651"/><path d="M1273.2 448.8l-5 .4l-3.6 1.6l-13 7.4l-8.4 6.6l-6 3.4l-6 5.6l-22.6 16l-6 5.4l-16 12l-26.4 22l-5.6 3.6l-11 9.4l-14 10.6l-2 2.4l-7 5l-1.4 2l-7 3l-5 11l1 3.6l5.4 .4l3-2l1.6 0l6.4-5l1 0l3-3l4-2l1.6-2l4-2l6-6l2-.4l1-1.6l3-1.4l8.4-7l3-1.6l8.6-7l13.4-9.4l21-17.6l8.6-6l23-20l5-3.4l5-5l4.4-3l12-11.6l9-10l1.6-3z" fill="#df2151"/><path d="M1261.7 457.2l-.4-.4l-3 .4l-10 5.6l-3.6 3l-7 4l-7 6l-20 14l-10 8.4l-13 9.6l-26.4 22l-6 4l-10 8.4l-16 12l-9 8l-7 4.6l-4.6 6.4l-1 3l.6 2.6l1 1l3.4 .4l9-4.4l6.6-5.6l1 0l11-8l1.4-2l15-12l27-20l19-16l9-6.4l22.6-20l4-2.6l6.4-6.4l5.6-4l10-10.6l1.4-3z" fill="#ea3050"/><path d="M1254.2 463.8l-.6-.6l-3 .6l-15 9l-4 3.4l-22 15.6l-9.4 8l-20 15l-19 16l-5.6 3.4l-41 32.6l-4.4 5l-2 5l.4 1.4l1.6 1.6l3 0l5-2l20-14.6l17.4-15l28-21l9-8l24.6-19.4l32-28.6l4-5z" fill="#f3454a"/><path d="M1245.7 470.2l-2 0l-7.4 4l-10 7.6l-9.6 6l-34 26l-20.4 17l-32 24l-18.6 16l-2.4 4.4l.4 3.6l4 .4l5.6-2.4l14-10l21-18l27.4-21l33.6-27.6l7.4-7.4l5.6-4l5-5.6l2.4-1.4z" fill="#f86341"/><path d="M1229.7 482.8l-1.4 0l-4.6 2l-16 11l-5 4.4l-7 4.6l-22.4 17.4l-11 9.6l-3.6 2l-9 7.4l-18 13l-18 15l-4 6l.6 3l1 .6l4-.6l4-2l12-8.4l25-21.6l4-2.4l10.4-9l11.6-8.6l18.4-16l14-11l8-8.4l2-1l4-4z" fill="#f97f4c"/><path d="M1218.2 491.8l-.6-.6l-1.4 .6l-8 5l-5 4.4l-6.6 4l-4.4 4l-18.6 13.6l-8.4 7.4l-36 26.6l-16.6 14.4l-2.4 5.6l1.4 1.4l3.6-.4l4-2l12-8.6l23.4-20.4l27.6-21.6l21-18.4l4-2.6l9.4-9z" fill="#fb9d58"/><path d="M1201.7 505.2l-1.4 0l-3 1.6l-17 13l-5 3l-12.6 10.4l-5 3l-6.4 5.6l-22 15.4l-15 13l-3 4.6l0 2l2 1l2-.6l5-2.4l8.4-6l11-9l14-13l35-28.6l8-8l3.6-2.4zM1208.2 500.2l-2 .6l-1 1.4l1 0z" fill="#fcba6c"/><path d="M1181.2 521.2l-5 2l-8.6 7.6l-11.4 7.4l-4.6 4l-22.4 15.6l-9 7.4l-6.6 6.6l-1.4 2.4l0 2l3 .6l2.4-1l13-9l32.6-29l17-14z" fill="#fed587"/><path d="M1162.2 536.8l-1.6 0l-4.4 2.4l-4.6 4l-2.4 1l-20 14l-8.6 7l-6.4 6.6l-1.6 3.4l1 1l3-.4l13.6-9l10-8.6l16-15z" fill="#fff0aa"/><path d="M1152.2 544.8l-2 0l-4.6 2.4l-16.4 11.6l-8 6.4l-6 6l-1.6 2.6l0 1.4l3 0l3-1.4l10-7l11-9.6l9-9z" fill="#f8f8b0"/><path d="M1148.2 547.2l-10 5.6l-13.6 10l-9 8.4l-1 3l2 .6l4-2l8.6-6l17-16l2-2.6z" fill="#d0e98b"/><path d="M1144.2 550.8l-6 2.4l-15.6 11.6l-7 7.4l0 1.6l2 0l4-2l9.6-7l11-10.6z" fill="#9fd8a0"/><path d="M1141.7 553.2l-.4-.4l-3.6 1.4l-9.4 6.6l-11 10l-.6 2.4l3.6-1l8-5.4l8.4-7.6z" fill="#66cca0"/><path d="M1139.7 554.8l-2.4 .4l-11 7.6l-8 7.4l-.6 2l2.6-.4l7.4-5z" fill="#1fc59c"/><path d="M1136.2 557.2l-3 1l-9 6.6l-4.6 4.4l-.4 2l8-4.4l8-7.6z" fill="#189bae"/><path d="M1133.7 559.2l-2.4 1l-7 5l-3.6 4.6l2-.6l4.6-3z" fill="#2378b2"/><path d="M1130.2 562.2l-4 2l-3 3.6l4.4-2.6z" fill="#445ca8"/></g>
<g clip-path="url(#cpg)" fill="none" stroke-linecap="butt">
<path d="M1108.4 578.0L1365.1 370.3" stroke="#9a9a9a" stroke-width="1.4"/>
<path d="M1108.4 574.7L1365.1 382.6" stroke="#111" stroke-width="1.7"/>
</g>
<path d="M1095.9 359.5V588.2M1378.2 359.5V588.2" fill="none" stroke="#777" stroke-width="1.2"/>
<path d="M1095.3 359.5H1378.8M1095.3 588.2H1378.8" fill="none" stroke="#444" stroke-width="1.1"/>
<path d="M1108.4 588.2v3M1095.9 578.0h-3M1160.0 588.2v3M1095.9 536.3h-3M1211.6 588.2v3M1095.9 494.5h-3M1263.2 588.2v3M1095.9 452.8h-3M1314.8 588.2v3M1095.9 411.0h-3M1366.4 588.2v3M1095.9 369.3h-3" stroke="#555" stroke-width="0.9"/>
<g font-family="Liberation Serif, serif" font-size="14.3" fill="#1a1a1a">
<text x="1108.4" y="604.0" text-anchor="middle">0.0</text>
<text x="1090.9" y="583.2" text-anchor="end">0.0</text>
<text x="1160.0" y="604.0" text-anchor="middle">0.2</text>
<text x="1090.9" y="541.5" text-anchor="end">0.2</text>
<text x="1211.6" y="604.0" text-anchor="middle">0.4</text>
<text x="1090.9" y="499.7" text-anchor="end">0.4</text>
<text x="1263.2" y="604.0" text-anchor="middle">0.6</text>
<text x="1090.9" y="458.0" text-anchor="end">0.6</text>
<text x="1314.8" y="604.0" text-anchor="middle">0.8</text>
<text x="1090.9" y="416.2" text-anchor="end">0.8</text>
<text x="1366.4" y="604.0" text-anchor="middle">1.0</text>
<text x="1090.9" y="374.5" text-anchor="end">1.0</text>
</g>
<text x="1237.1" y="625.7" font-family="Liberation Serif, serif" font-size="22.4" text-anchor="middle" fill="#000">Ground Truth</text>
<text transform="translate(1065.2 473.9) rotate(-90)" font-family="Liberation Serif, serif" font-size="22.7" text-anchor="middle" fill="#000">AMS-STF (ours)</text>
<text x="1050.5" y="346.9" font-family="Liberation Serif, serif" font-size="27" fill="#000">(g)</text>
<g font-family="Liberation Sans, sans-serif" fill="#000" stroke="#000" stroke-width="0.12">
<text transform="translate(1111.81 385.2) scale(0.937 1)" font-size="19" font-style="italic">y</text>
<text x="1146.5" y="385.2" font-size="19" textLength="53.7" lengthAdjust="spacingAndGlyphs">0.925</text>
<text transform="translate(1201.81 385.2) scale(0.934 1)" font-size="19" font-style="italic">x</text>
<text x="1236.9" y="385.2" font-size="19" textLength="53.4" lengthAdjust="spacingAndGlyphs">0.016</text>
<text transform="translate(1110.72 415.8) scale(0.821 1)" font-size="19" font-style="italic">R</text>
<text transform="translate(1125.80 408.8) scale(0.948 1)" font-size="12.5">2</text>
<text x="1158.7" y="415.8" font-size="19" textLength="65.0" lengthAdjust="spacingAndGlyphs">0.9214</text>
</g>
<path d="M1127.8 378.0h12.7M1127.8 381.5h12.7M1218.2 379.4h12.2M1224.3 373.3v12.5M1139.6 409.0h12.7M1139.6 412.8h12.7" stroke="#000" stroke-width="1.45" fill="none"/>
</svg></body></html>
